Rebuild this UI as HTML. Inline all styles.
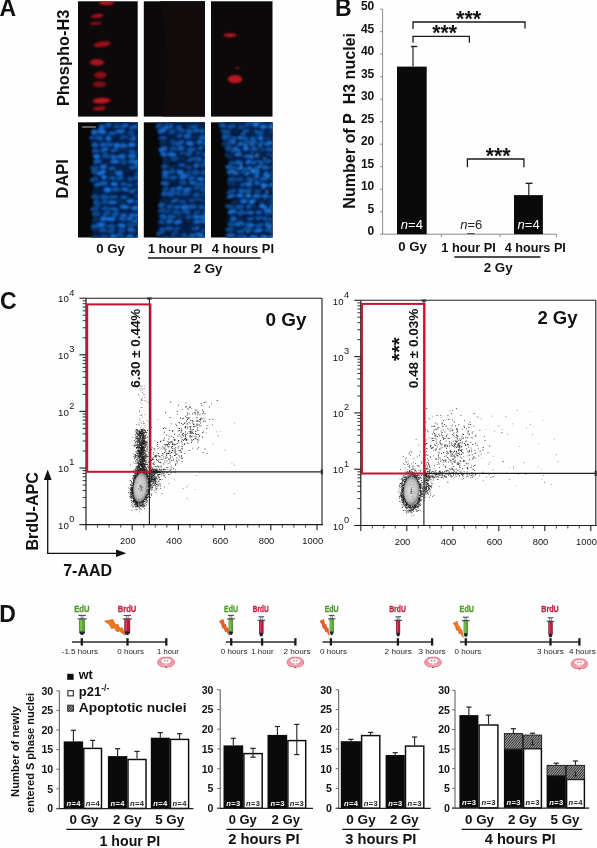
<!DOCTYPE html>
<html><head><meta charset="utf-8"><title>Figure</title>
<style>
html,body{margin:0;padding:0;background:#fff;}
body{width:597px;height:848px;overflow:hidden;font-family:"Liberation Sans",sans-serif;}
svg{display:block;font-family:"Liberation Sans",sans-serif;will-change:transform;transform:translateZ(0);}
</style></head><body>
<svg width="597" height="848" viewBox="0 0 597 848">
<defs>
<filter id="b1" x="-20%" y="-20%" width="140%" height="140%"><feGaussianBlur stdDeviation="0.9"/></filter>
<filter id="b2" x="-20%" y="-20%" width="140%" height="140%"><feGaussianBlur stdDeviation="0.85"/></filter>
<filter id="b4" x="-20%" y="-20%" width="140%" height="140%"><feGaussianBlur stdDeviation="2.2"/></filter>
<filter id="b3" x="-5%" y="-5%" width="110%" height="110%"><feGaussianBlur stdDeviation="0.35"/></filter>
<pattern id="hatch" width="1.8" height="1.8" patternUnits="userSpaceOnUse" patternTransform="rotate(-50)"><rect width="1.8" height="1.8" fill="#a8a8a8"/><rect width="1.8" height="0.9" fill="#2e2e2e"/></pattern>
<radialGradient id="cl"><stop offset="0" stop-color="#ededed"/><stop offset="0.3" stop-color="#d6d6d6"/><stop offset="0.7" stop-color="#bdbdbd"/><stop offset="0.88" stop-color="#8e8e8e"/><stop offset="1" stop-color="#666"/></radialGradient>
<clipPath id="cA1"><rect x="78" y="122.3" width="59.7" height="115.2"/></clipPath>
<clipPath id="cA2"><rect x="143.8" y="122.3" width="61.2" height="115.2"/></clipPath>
<clipPath id="cA3"><rect x="211" y="122.3" width="61.5" height="115.2"/></clipPath>
<clipPath id="cT1"><rect x="78" y="1.3" width="59.7" height="115.3"/></clipPath>
<clipPath id="cT3"><rect x="211" y="1.3" width="61.5" height="115.3"/></clipPath>
</defs>

<rect x="0" y="0" width="597" height="848" fill="#fefefe"/>
<text x="-0.4" y="15.7" font-size="23" font-weight="bold" fill="#111" >A</text>
<text font-size="16.2" font-weight="bold" fill="#111" textLength="96.5" lengthAdjust="spacingAndGlyphs" transform="translate(68.5,106.1) rotate(-90)" >Phospho-H3</text>
<text font-size="16.4" font-weight="bold" fill="#111" textLength="39.3" lengthAdjust="spacingAndGlyphs" transform="translate(68.2,198.5) rotate(-90)" >DAPI</text>
<rect x="78.0" y="1.3" width="59.7" height="115.3" fill="#0b0909" />
<rect x="143.8" y="1.3" width="61.2" height="115.3" fill="#0b0909" />
<rect x="211.0" y="1.3" width="61.5" height="115.3" fill="#0b0909" />
<path d="M160,1.3 C164,30 168,50 167,70 C166,90 163,105 162,116.6 L205,116.6 L205,1.3 Z" fill="#120b0b"/>
<g clip-path="url(#cT1)" filter="url(#b1)">
<ellipse cx="106.5" cy="2.8" rx="7.8" ry="2.6" fill="#ae121e" transform="rotate(0 106.5 2.8)"/>
<ellipse cx="97.2" cy="15.9" rx="6.4" ry="2.0" fill="#a8101c" transform="rotate(-8 97.2 15.9)"/>
<ellipse cx="95.8" cy="23.4" rx="6.2" ry="1.7" fill="#810e17" transform="rotate(-5 95.8 23.4)"/>
<ellipse cx="102.2" cy="44.2" rx="8.8" ry="2.7" fill="#a1101c" transform="rotate(-8 102.2 44.2)"/>
<ellipse cx="97" cy="62.3" rx="7.2" ry="3.4" fill="#a1121e" transform="rotate(0 97 62.3)"/>
<ellipse cx="100.4" cy="75.1" rx="6.2" ry="3.3" fill="#8d0e19" transform="rotate(0 100.4 75.1)"/>
<ellipse cx="99.4" cy="84.3" rx="6.8" ry="3.0" fill="#7f0e17" transform="rotate(0 99.4 84.3)"/>
<ellipse cx="101.5" cy="100.6" rx="9.0" ry="2.9" fill="#c21220" transform="rotate(-3 101.5 100.6)"/>
<ellipse cx="99.4" cy="108.4" rx="6.8" ry="2.0" fill="#a1101c" transform="rotate(-5 99.4 108.4)"/>
</g>
<g clip-path="url(#cT3)" filter="url(#b1)">
<ellipse cx="230" cy="35.2" rx="6.8" ry="2.0" fill="#b51220"/>
<ellipse cx="235" cy="79.1" rx="7.5" ry="4.2" fill="#bc1220"/>
<ellipse cx="237.3" cy="67.8" rx="2.6" ry="1.0" fill="#860e15"/>
</g>
<rect x="78.0" y="122.3" width="59.7" height="115.2" fill="#070707" />
<g clip-path="url(#cA1)">
<g filter="url(#b1)"><path d="M97.9,120.3 L98.1,123.4 L98.1,126.4 L93.3,129.5 L91.9,132.5 L91.7,135.6 L88.9,138.6 L91.1,141.7 L91.9,144.8 L93.2,147.8 L94.4,150.9 L91.3,153.9 L92.7,157.0 L94.4,160.0 L92.4,163.1 L93.4,166.1 L92.0,169.2 L91.8,172.3 L94.3,175.3 L91.4,178.4 L91.1,181.4 L93.3,184.5 L92.4,187.5 L93.9,190.6 L93.2,193.7 L91.8,196.7 L95.0,199.8 L93.9,202.8 L92.5,205.9 L93.9,208.9 L92.7,212.0 L94.3,215.0 L94.2,218.1 L90.9,221.2 L93.0,224.2 L93.4,227.3 L92.0,230.3 L93.1,233.4 L91.3,236.4 L92.5,239.5 L140.7,239.5 L140.7,120.3 Z" fill="#051f4d"/></g>
<g filter="url(#b2)">
<ellipse cx="100.3" cy="119.8" rx="4.4" ry="1.8" fill="rgb(7,34,66)" transform="rotate(-14 100.3 119.8)"/>
<ellipse cx="109.5" cy="120.1" rx="3.8" ry="2.3" fill="rgb(20,100,190)" transform="rotate(8 109.5 120.1)"/>
<ellipse cx="116.5" cy="120.4" rx="4.3" ry="2.2" fill="rgb(15,77,146)" transform="rotate(6 116.5 120.4)"/>
<ellipse cx="126.9" cy="121.2" rx="3.6" ry="2.4" fill="rgb(9,49,93)" transform="rotate(-19 126.9 121.2)"/>
<ellipse cx="134.0" cy="120.1" rx="4.8" ry="1.9" fill="rgb(22,111,211)" transform="rotate(2 134.0 120.1)"/>
<ellipse cx="101.9" cy="127.5" rx="3.0" ry="2.5" fill="rgb(20,102,195)" transform="rotate(5 101.9 127.5)"/>
<ellipse cx="107.7" cy="125.8" rx="3.9" ry="2.6" fill="rgb(16,83,158)" transform="rotate(-19 107.7 125.8)"/>
<ellipse cx="116.5" cy="126.3" rx="3.4" ry="2.0" fill="rgb(14,73,139)" transform="rotate(-15 116.5 126.3)"/>
<ellipse cx="124.1" cy="126.1" rx="4.4" ry="1.9" fill="rgb(20,100,190)" transform="rotate(-18 124.1 126.1)"/>
<ellipse cx="133.6" cy="127.4" rx="4.3" ry="2.3" fill="rgb(19,95,182)" transform="rotate(-16 133.6 127.4)"/>
<ellipse cx="94.3" cy="132.1" rx="3.3" ry="2.6" fill="rgb(20,102,195)" transform="rotate(8 94.3 132.1)"/>
<ellipse cx="101.9" cy="131.9" rx="4.5" ry="2.1" fill="rgb(22,109,206)" transform="rotate(11 101.9 131.9)"/>
<ellipse cx="111.8" cy="133.6" rx="4.2" ry="1.9" fill="rgb(18,90,171)" transform="rotate(-7 111.8 133.6)"/>
<ellipse cx="120.3" cy="131.3" rx="4.8" ry="2.3" fill="rgb(19,97,184)" transform="rotate(-3 120.3 131.3)"/>
<ellipse cx="131.4" cy="132.8" rx="3.7" ry="2.6" fill="rgb(14,71,136)" transform="rotate(2 131.4 132.8)"/>
<ellipse cx="140.7" cy="133.5" rx="3.3" ry="1.9" fill="rgb(9,45,85)" transform="rotate(4 140.7 133.5)"/>
<ellipse cx="92.3" cy="137.7" rx="3.2" ry="1.8" fill="rgb(14,72,137)" transform="rotate(8 92.3 137.7)"/>
<ellipse cx="99.4" cy="137.9" rx="4.1" ry="2.6" fill="rgb(16,83,157)" transform="rotate(11 99.4 137.9)"/>
<ellipse cx="108.4" cy="138.2" rx="3.0" ry="2.5" fill="rgb(21,105,199)" transform="rotate(8 108.4 138.2)"/>
<ellipse cx="115.7" cy="137.7" rx="4.1" ry="1.9" fill="rgb(7,34,65)" transform="rotate(-17 115.7 137.7)"/>
<ellipse cx="123.8" cy="137.6" rx="4.4" ry="2.3" fill="rgb(15,74,141)" transform="rotate(-2 123.8 137.6)"/>
<ellipse cx="132.6" cy="138.1" rx="3.5" ry="2.5" fill="rgb(19,95,181)" transform="rotate(7 132.6 138.1)"/>
<ellipse cx="139.6" cy="139.6" rx="4.0" ry="2.4" fill="rgb(7,35,66)" transform="rotate(-18 139.6 139.6)"/>
<ellipse cx="94.9" cy="144.9" rx="3.6" ry="2.7" fill="rgb(17,87,165)" transform="rotate(4 94.9 144.9)"/>
<ellipse cx="103.1" cy="144.4" rx="3.5" ry="1.9" fill="rgb(19,97,185)" transform="rotate(4 103.1 144.4)"/>
<ellipse cx="109.8" cy="144.0" rx="3.5" ry="2.5" fill="rgb(20,98,186)" transform="rotate(10 109.8 144.0)"/>
<ellipse cx="116.8" cy="145.4" rx="3.1" ry="2.5" fill="rgb(22,109,207)" transform="rotate(-20 116.8 145.4)"/>
<ellipse cx="123.1" cy="145.8" rx="4.2" ry="2.7" fill="rgb(19,94,179)" transform="rotate(1 123.1 145.8)"/>
<ellipse cx="131.9" cy="144.8" rx="4.0" ry="2.3" fill="rgb(22,110,209)" transform="rotate(-7 131.9 144.8)"/>
<ellipse cx="141.5" cy="143.9" rx="3.3" ry="1.9" fill="rgb(8,41,79)" transform="rotate(10 141.5 143.9)"/>
<ellipse cx="95.4" cy="150.7" rx="3.7" ry="1.9" fill="rgb(17,85,162)" transform="rotate(-1 95.4 150.7)"/>
<ellipse cx="104.2" cy="149.8" rx="4.7" ry="2.6" fill="rgb(19,94,178)" transform="rotate(-11 104.2 149.8)"/>
<ellipse cx="114.2" cy="150.2" rx="4.2" ry="1.8" fill="rgb(18,89,169)" transform="rotate(-10 114.2 150.2)"/>
<ellipse cx="124.1" cy="150.6" rx="4.2" ry="2.0" fill="rgb(8,43,82)" transform="rotate(-7 124.1 150.6)"/>
<ellipse cx="133.4" cy="151.1" rx="4.8" ry="1.8" fill="rgb(17,87,165)" transform="rotate(-1 133.4 151.1)"/>
<ellipse cx="96.7" cy="156.4" rx="3.6" ry="2.3" fill="rgb(21,107,203)" transform="rotate(2 96.7 156.4)"/>
<ellipse cx="105.3" cy="155.7" rx="3.6" ry="2.4" fill="rgb(17,87,165)" transform="rotate(-7 105.3 155.7)"/>
<ellipse cx="112.7" cy="157.0" rx="4.2" ry="2.2" fill="rgb(20,99,189)" transform="rotate(-6 112.7 157.0)"/>
<ellipse cx="121.4" cy="156.8" rx="4.6" ry="2.6" fill="rgb(20,99,188)" transform="rotate(-12 121.4 156.8)"/>
<ellipse cx="132.1" cy="156.0" rx="4.1" ry="2.5" fill="rgb(20,102,193)" transform="rotate(5 132.1 156.0)"/>
<ellipse cx="141.0" cy="154.8" rx="3.9" ry="2.1" fill="rgb(7,39,74)" transform="rotate(11 141.0 154.8)"/>
<ellipse cx="97.7" cy="161.2" rx="4.4" ry="2.3" fill="rgb(18,90,172)" transform="rotate(-13 97.7 161.2)"/>
<ellipse cx="107.3" cy="163.0" rx="3.6" ry="2.6" fill="rgb(7,36,70)" transform="rotate(-14 107.3 163.0)"/>
<ellipse cx="115.1" cy="161.4" rx="4.5" ry="2.0" fill="rgb(21,107,203)" transform="rotate(-0 115.1 161.4)"/>
<ellipse cx="124.0" cy="162.0" rx="3.2" ry="2.3" fill="rgb(15,77,147)" transform="rotate(-3 124.0 162.0)"/>
<ellipse cx="131.4" cy="161.3" rx="3.3" ry="2.5" fill="rgb(18,93,176)" transform="rotate(-19 131.4 161.3)"/>
<ellipse cx="138.1" cy="162.1" rx="4.7" ry="2.6" fill="rgb(21,107,204)" transform="rotate(6 138.1 162.1)"/>
<ellipse cx="94.6" cy="168.0" rx="4.4" ry="2.3" fill="rgb(14,72,138)" transform="rotate(3 94.6 168.0)"/>
<ellipse cx="103.4" cy="167.0" rx="3.5" ry="2.4" fill="rgb(21,104,198)" transform="rotate(5 103.4 167.0)"/>
<ellipse cx="112.2" cy="168.3" rx="3.6" ry="1.9" fill="rgb(19,94,178)" transform="rotate(0 112.2 168.3)"/>
<ellipse cx="121.2" cy="166.5" rx="4.1" ry="2.3" fill="rgb(7,38,73)" transform="rotate(-15 121.2 166.5)"/>
<ellipse cx="130.6" cy="168.2" rx="3.1" ry="2.1" fill="rgb(20,100,190)" transform="rotate(-14 130.6 168.2)"/>
<ellipse cx="137.2" cy="166.6" rx="4.2" ry="2.7" fill="rgb(16,81,155)" transform="rotate(4 137.2 166.6)"/>
<ellipse cx="94.5" cy="172.1" rx="3.4" ry="2.5" fill="rgb(14,72,137)" transform="rotate(7 94.5 172.1)"/>
<ellipse cx="101.6" cy="172.7" rx="4.5" ry="2.3" fill="rgb(22,111,212)" transform="rotate(-19 101.6 172.7)"/>
<ellipse cx="111.7" cy="171.9" rx="3.9" ry="2.7" fill="rgb(7,37,70)" transform="rotate(-6 111.7 171.9)"/>
<ellipse cx="119.2" cy="173.1" rx="4.3" ry="2.5" fill="rgb(21,103,196)" transform="rotate(7 119.2 173.1)"/>
<ellipse cx="128.2" cy="171.7" rx="4.6" ry="2.4" fill="rgb(6,33,63)" transform="rotate(-18 128.2 171.7)"/>
<ellipse cx="138.0" cy="173.2" rx="3.2" ry="1.8" fill="rgb(17,87,166)" transform="rotate(-6 138.0 173.2)"/>
<ellipse cx="94.1" cy="179.3" rx="4.6" ry="2.2" fill="rgb(14,72,138)" transform="rotate(-16 94.1 179.3)"/>
<ellipse cx="104.2" cy="177.2" rx="3.0" ry="2.3" fill="rgb(22,111,211)" transform="rotate(5 104.2 177.2)"/>
<ellipse cx="111.8" cy="177.6" rx="3.3" ry="1.9" fill="rgb(19,97,185)" transform="rotate(12 111.8 177.6)"/>
<ellipse cx="119.5" cy="178.1" rx="4.5" ry="2.6" fill="rgb(16,81,155)" transform="rotate(-16 119.5 178.1)"/>
<ellipse cx="129.8" cy="179.1" rx="3.3" ry="2.0" fill="rgb(17,84,160)" transform="rotate(-11 129.8 179.1)"/>
<ellipse cx="137.1" cy="178.1" rx="3.6" ry="2.6" fill="rgb(18,89,169)" transform="rotate(10 137.1 178.1)"/>
<ellipse cx="97.3" cy="184.0" rx="3.1" ry="2.3" fill="rgb(21,107,204)" transform="rotate(2 97.3 184.0)"/>
<ellipse cx="103.9" cy="183.3" rx="4.3" ry="2.1" fill="rgb(19,95,181)" transform="rotate(-3 103.9 183.3)"/>
<ellipse cx="114.1" cy="184.1" rx="3.9" ry="2.0" fill="rgb(22,110,209)" transform="rotate(7 114.1 184.1)"/>
<ellipse cx="123.4" cy="183.8" rx="3.5" ry="1.9" fill="rgb(17,84,160)" transform="rotate(-1 123.4 183.8)"/>
<ellipse cx="130.7" cy="184.9" rx="4.6" ry="2.0" fill="rgb(16,81,154)" transform="rotate(-9 130.7 184.9)"/>
<ellipse cx="139.5" cy="184.4" rx="3.5" ry="2.4" fill="rgb(18,93,176)" transform="rotate(-2 139.5 184.4)"/>
<ellipse cx="97.0" cy="190.8" rx="5.0" ry="2.6" fill="rgb(6,32,62)" transform="rotate(-18 97.0 190.8)"/>
<ellipse cx="107.4" cy="189.8" rx="3.8" ry="2.7" fill="rgb(22,112,213)" transform="rotate(6 107.4 189.8)"/>
<ellipse cx="115.8" cy="189.4" rx="4.3" ry="2.2" fill="rgb(17,86,163)" transform="rotate(3 115.8 189.4)"/>
<ellipse cx="125.0" cy="189.4" rx="3.9" ry="1.9" fill="rgb(21,103,195)" transform="rotate(12 125.0 189.4)"/>
<ellipse cx="132.8" cy="191.2" rx="3.7" ry="2.3" fill="rgb(18,90,172)" transform="rotate(-10 132.8 191.2)"/>
<ellipse cx="140.7" cy="189.7" rx="4.3" ry="2.5" fill="rgb(14,72,137)" transform="rotate(6 140.7 189.7)"/>
<ellipse cx="95.2" cy="197.0" rx="3.9" ry="2.6" fill="rgb(14,71,135)" transform="rotate(7 95.2 197.0)"/>
<ellipse cx="104.4" cy="196.8" rx="4.3" ry="2.4" fill="rgb(16,82,157)" transform="rotate(1 104.4 196.8)"/>
<ellipse cx="113.3" cy="197.2" rx="4.7" ry="2.0" fill="rgb(17,83,158)" transform="rotate(-6 113.3 197.2)"/>
<ellipse cx="124.0" cy="197.3" rx="3.7" ry="2.0" fill="rgb(17,84,159)" transform="rotate(4 124.0 197.3)"/>
<ellipse cx="131.4" cy="195.8" rx="3.4" ry="2.0" fill="rgb(7,39,74)" transform="rotate(-16 131.4 195.8)"/>
<ellipse cx="139.2" cy="196.0" rx="4.6" ry="1.9" fill="rgb(16,80,151)" transform="rotate(3 139.2 196.0)"/>
<ellipse cx="97.2" cy="202.7" rx="3.9" ry="2.6" fill="rgb(18,91,173)" transform="rotate(11 97.2 202.7)"/>
<ellipse cx="104.7" cy="202.0" rx="3.4" ry="2.2" fill="rgb(15,77,147)" transform="rotate(-14 104.7 202.0)"/>
<ellipse cx="112.4" cy="202.4" rx="4.5" ry="2.0" fill="rgb(20,102,195)" transform="rotate(-1 112.4 202.4)"/>
<ellipse cx="121.6" cy="202.0" rx="4.5" ry="2.7" fill="rgb(9,46,89)" transform="rotate(7 121.6 202.0)"/>
<ellipse cx="130.4" cy="201.2" rx="3.8" ry="2.1" fill="rgb(22,109,207)" transform="rotate(-3 130.4 201.2)"/>
<ellipse cx="138.5" cy="201.2" rx="3.3" ry="2.0" fill="rgb(18,92,175)" transform="rotate(-9 138.5 201.2)"/>
<ellipse cx="94.8" cy="208.5" rx="5.0" ry="2.0" fill="rgb(14,73,138)" transform="rotate(-14 94.8 208.5)"/>
<ellipse cx="105.4" cy="208.5" rx="4.5" ry="1.9" fill="rgb(16,80,152)" transform="rotate(3 105.4 208.5)"/>
<ellipse cx="114.2" cy="209.2" rx="4.7" ry="1.8" fill="rgb(19,94,179)" transform="rotate(4 114.2 209.2)"/>
<ellipse cx="124.8" cy="207.1" rx="5.0" ry="2.1" fill="rgb(22,110,209)" transform="rotate(3 124.8 207.1)"/>
<ellipse cx="135.4" cy="208.0" rx="4.4" ry="2.5" fill="rgb(21,103,196)" transform="rotate(-0 135.4 208.0)"/>
<ellipse cx="96.2" cy="213.7" rx="4.5" ry="2.6" fill="rgb(15,76,144)" transform="rotate(-10 96.2 213.7)"/>
<ellipse cx="106.8" cy="213.5" rx="4.1" ry="2.1" fill="rgb(17,83,158)" transform="rotate(-10 106.8 213.5)"/>
<ellipse cx="115.5" cy="214.2" rx="3.9" ry="2.5" fill="rgb(17,85,162)" transform="rotate(-13 115.5 214.2)"/>
<ellipse cx="123.8" cy="215.3" rx="3.6" ry="2.4" fill="rgb(18,90,171)" transform="rotate(-5 123.8 215.3)"/>
<ellipse cx="132.0" cy="215.3" rx="3.3" ry="2.2" fill="rgb(19,96,183)" transform="rotate(-4 132.0 215.3)"/>
<ellipse cx="139.2" cy="214.5" rx="4.7" ry="1.9" fill="rgb(22,110,210)" transform="rotate(-14 139.2 214.5)"/>
<ellipse cx="96.0" cy="220.2" rx="4.1" ry="2.7" fill="rgb(9,47,91)" transform="rotate(12 96.0 220.2)"/>
<ellipse cx="103.8" cy="218.7" rx="3.6" ry="2.7" fill="rgb(21,105,201)" transform="rotate(-6 103.8 218.7)"/>
<ellipse cx="111.1" cy="219.0" rx="4.6" ry="2.2" fill="rgb(22,110,209)" transform="rotate(-4 111.1 219.0)"/>
<ellipse cx="121.8" cy="219.6" rx="3.8" ry="2.4" fill="rgb(18,92,175)" transform="rotate(11 121.8 219.6)"/>
<ellipse cx="129.5" cy="218.7" rx="3.2" ry="1.9" fill="rgb(20,101,192)" transform="rotate(5 129.5 218.7)"/>
<ellipse cx="136.6" cy="220.5" rx="4.6" ry="2.4" fill="rgb(18,88,167)" transform="rotate(-14 136.6 220.5)"/>
<ellipse cx="94.2" cy="226.4" rx="3.5" ry="2.2" fill="rgb(17,84,160)" transform="rotate(0 94.2 226.4)"/>
<ellipse cx="101.5" cy="224.7" rx="4.7" ry="2.4" fill="rgb(21,104,198)" transform="rotate(-9 101.5 224.7)"/>
<ellipse cx="111.1" cy="226.0" rx="4.4" ry="2.0" fill="rgb(17,83,158)" transform="rotate(-4 111.1 226.0)"/>
<ellipse cx="121.4" cy="225.5" rx="4.8" ry="2.0" fill="rgb(22,109,207)" transform="rotate(9 121.4 225.5)"/>
<ellipse cx="131.0" cy="224.6" rx="4.2" ry="2.4" fill="rgb(14,71,136)" transform="rotate(10 131.0 224.6)"/>
<ellipse cx="139.6" cy="224.9" rx="4.6" ry="2.0" fill="rgb(15,77,146)" transform="rotate(2 139.6 224.9)"/>
<ellipse cx="95.1" cy="230.5" rx="3.5" ry="2.2" fill="rgb(7,38,73)" transform="rotate(0 95.1 230.5)"/>
<ellipse cx="103.1" cy="230.0" rx="4.2" ry="2.4" fill="rgb(15,77,147)" transform="rotate(8 103.1 230.0)"/>
<ellipse cx="111.4" cy="230.8" rx="3.9" ry="2.2" fill="rgb(15,78,148)" transform="rotate(-12 111.4 230.8)"/>
<ellipse cx="120.7" cy="231.0" rx="4.6" ry="2.2" fill="rgb(15,77,146)" transform="rotate(-10 120.7 231.0)"/>
<ellipse cx="131.3" cy="229.9" rx="4.3" ry="2.4" fill="rgb(18,91,172)" transform="rotate(10 131.3 229.9)"/>
<ellipse cx="141.0" cy="230.9" rx="3.3" ry="2.4" fill="rgb(18,91,172)" transform="rotate(-1 141.0 230.9)"/>
<ellipse cx="95.1" cy="238.1" rx="4.8" ry="1.9" fill="rgb(14,73,139)" transform="rotate(-6 95.1 238.1)"/>
<ellipse cx="104.4" cy="236.4" rx="4.2" ry="1.8" fill="rgb(15,73,140)" transform="rotate(1 104.4 236.4)"/>
<ellipse cx="113.2" cy="236.5" rx="3.4" ry="2.5" fill="rgb(21,104,198)" transform="rotate(-3 113.2 236.5)"/>
<ellipse cx="119.4" cy="236.2" rx="4.3" ry="2.1" fill="rgb(18,89,169)" transform="rotate(-5 119.4 236.2)"/>
<ellipse cx="129.8" cy="237.0" rx="3.7" ry="2.5" fill="rgb(22,108,206)" transform="rotate(-12 129.8 237.0)"/>
<ellipse cx="138.8" cy="237.0" rx="3.1" ry="2.7" fill="rgb(17,87,165)" transform="rotate(-18 138.8 237.0)"/>
<ellipse cx="102.7" cy="188.1" rx="2.1" ry="1.2" fill="#030d24" fill-opacity="0.85"/>
<ellipse cx="114.3" cy="223.1" rx="2.2" ry="1.1" fill="#030d24" fill-opacity="0.85"/>
<ellipse cx="117.3" cy="179.3" rx="1.4" ry="0.8" fill="#030d24" fill-opacity="0.85"/>
<ellipse cx="124.9" cy="138.7" rx="1.9" ry="0.9" fill="#030d24" fill-opacity="0.85"/>
<ellipse cx="117.5" cy="224.4" rx="1.8" ry="0.8" fill="#030d24" fill-opacity="0.85"/>
<ellipse cx="112.9" cy="130.6" rx="1.2" ry="0.8" fill="#030d24" fill-opacity="0.85"/>
<ellipse cx="136.2" cy="180.3" rx="1.4" ry="1.0" fill="#030d24" fill-opacity="0.85"/>
<ellipse cx="128.1" cy="179.9" rx="1.4" ry="0.6" fill="#030d24" fill-opacity="0.85"/>
<ellipse cx="128.6" cy="168.3" rx="1.5" ry="1.1" fill="#030d24" fill-opacity="0.85"/>
<ellipse cx="104.6" cy="155.7" rx="1.2" ry="0.8" fill="#030d24" fill-opacity="0.85"/>
<ellipse cx="123.2" cy="166.2" rx="1.3" ry="0.7" fill="#030d24" fill-opacity="0.85"/>
<ellipse cx="103.3" cy="124.2" rx="2.1" ry="0.8" fill="#030d24" fill-opacity="0.85"/>
<ellipse cx="118.8" cy="159.3" rx="2.6" ry="1.1" fill="#030d24" fill-opacity="0.85"/>
<ellipse cx="134.3" cy="202.9" rx="1.3" ry="0.6" fill="#030d24" fill-opacity="0.85"/>
<ellipse cx="109.3" cy="176.9" rx="2.5" ry="0.9" fill="#030d24" fill-opacity="0.85"/>
<ellipse cx="133.3" cy="184.5" rx="1.8" ry="1.1" fill="#030d24" fill-opacity="0.85"/>
<ellipse cx="107.4" cy="151.5" rx="1.7" ry="0.9" fill="#030d24" fill-opacity="0.85"/>
<ellipse cx="123.8" cy="147.7" rx="1.4" ry="0.7" fill="#030d24" fill-opacity="0.85"/>
<ellipse cx="104.6" cy="222.5" rx="1.7" ry="0.9" fill="#030d24" fill-opacity="0.85"/>
<ellipse cx="96.0" cy="182.9" rx="2.4" ry="1.2" fill="#030d24" fill-opacity="0.85"/>
<ellipse cx="107.2" cy="215.9" rx="1.9" ry="0.8" fill="#030d24" fill-opacity="0.85"/>
<ellipse cx="136.6" cy="186.2" rx="1.6" ry="1.0" fill="#030d24" fill-opacity="0.85"/>
<ellipse cx="128.3" cy="159.9" rx="1.7" ry="1.1" fill="#030d24" fill-opacity="0.85"/>
<ellipse cx="127.8" cy="208.9" rx="1.9" ry="0.7" fill="#030d24" fill-opacity="0.85"/>
<ellipse cx="112.2" cy="127.1" rx="1.3" ry="1.0" fill="#030d24" fill-opacity="0.85"/>
<ellipse cx="114.6" cy="199.5" rx="2.3" ry="0.9" fill="#030d24" fill-opacity="0.85"/>
<ellipse cx="105.2" cy="126.9" rx="1.5" ry="0.8" fill="#030d24" fill-opacity="0.85"/>
<ellipse cx="121.9" cy="128.3" rx="1.9" ry="1.0" fill="#030d24" fill-opacity="0.85"/>
<ellipse cx="131.0" cy="172.1" rx="1.8" ry="0.6" fill="#030d24" fill-opacity="0.85"/>
<ellipse cx="123.0" cy="222.9" rx="2.4" ry="1.2" fill="#030d24" fill-opacity="0.85"/>
<ellipse cx="107.6" cy="128.2" rx="1.3" ry="0.9" fill="#030d24" fill-opacity="0.85"/>
<ellipse cx="96.9" cy="221.8" rx="1.9" ry="0.7" fill="#030d24" fill-opacity="0.85"/>
<ellipse cx="130.8" cy="211.3" rx="1.3" ry="0.9" fill="#030d24" fill-opacity="0.85"/>
<ellipse cx="135.7" cy="149.9" rx="2.5" ry="1.0" fill="#030d24" fill-opacity="0.85"/>
<ellipse cx="108.9" cy="234.4" rx="2.5" ry="0.9" fill="#030d24" fill-opacity="0.85"/>
<ellipse cx="135.2" cy="149.5" rx="2.2" ry="0.6" fill="#030d24" fill-opacity="0.85"/>
<ellipse cx="124.8" cy="222.6" rx="2.0" ry="1.0" fill="#030d24" fill-opacity="0.85"/>
<ellipse cx="121.1" cy="151.5" rx="2.3" ry="0.6" fill="#030d24" fill-opacity="0.85"/>
<ellipse cx="130.7" cy="137.3" rx="2.1" ry="0.9" fill="#030d24" fill-opacity="0.85"/>
<ellipse cx="108.6" cy="150.9" rx="2.4" ry="0.9" fill="#030d24" fill-opacity="0.85"/>
<ellipse cx="133.3" cy="129.7" rx="1.5" ry="1.1" fill="#030d24" fill-opacity="0.85"/>
<ellipse cx="115.9" cy="223.9" rx="2.0" ry="0.9" fill="#030d24" fill-opacity="0.85"/>
<ellipse cx="131.6" cy="194.3" rx="1.6" ry="1.1" fill="#030d24" fill-opacity="0.85"/>
<ellipse cx="99.5" cy="187.7" rx="1.5" ry="1.0" fill="#030d24" fill-opacity="0.85"/>
<ellipse cx="101.2" cy="149.9" rx="1.4" ry="1.1" fill="#030d24" fill-opacity="0.85"/>
<ellipse cx="136.1" cy="191.7" rx="1.7" ry="1.0" fill="#030d24" fill-opacity="0.85"/>
<ellipse cx="121.2" cy="191.3" rx="1.3" ry="1.1" fill="#030d24" fill-opacity="0.85"/>
<ellipse cx="117.3" cy="231.5" rx="1.5" ry="1.1" fill="#030d24" fill-opacity="0.85"/>
<ellipse cx="112.7" cy="123.1" rx="2.5" ry="1.0" fill="#030d24" fill-opacity="0.85"/>
<ellipse cx="120.1" cy="220.8" rx="2.4" ry="1.1" fill="#030d24" fill-opacity="0.85"/>
<ellipse cx="100.3" cy="159.3" rx="2.2" ry="0.9" fill="#030d24" fill-opacity="0.85"/>
<ellipse cx="119.7" cy="136.9" rx="1.3" ry="0.7" fill="#030d24" fill-opacity="0.85"/>
<ellipse cx="97.1" cy="213.1" rx="1.6" ry="0.6" fill="#030d24" fill-opacity="0.85"/>
<ellipse cx="119.7" cy="237.2" rx="1.6" ry="1.2" fill="#030d24" fill-opacity="0.85"/>
<ellipse cx="113.9" cy="180.7" rx="2.0" ry="0.8" fill="#030d24" fill-opacity="0.85"/>
<ellipse cx="110.3" cy="157.5" rx="1.5" ry="1.0" fill="#030d24" fill-opacity="0.85"/>
<ellipse cx="98.5" cy="202.5" rx="2.6" ry="1.1" fill="#030d24" fill-opacity="0.85"/>
<ellipse cx="127.4" cy="215.2" rx="1.3" ry="0.9" fill="#030d24" fill-opacity="0.85"/>
<ellipse cx="123.6" cy="173.6" rx="1.8" ry="1.0" fill="#030d24" fill-opacity="0.85"/>
<ellipse cx="125.0" cy="200.8" rx="2.1" ry="0.7" fill="#030d24" fill-opacity="0.85"/>
<ellipse cx="128.4" cy="209.9" rx="2.5" ry="0.7" fill="#030d24" fill-opacity="0.85"/>
<ellipse cx="110.2" cy="142.7" rx="1.6" ry="1.1" fill="#030d24" fill-opacity="0.85"/>
<ellipse cx="127.3" cy="193.0" rx="1.8" ry="0.7" fill="#030d24" fill-opacity="0.85"/>
<ellipse cx="110.1" cy="135.6" rx="1.5" ry="1.1" fill="#030d24" fill-opacity="0.85"/>
<ellipse cx="124.3" cy="191.4" rx="1.9" ry="0.7" fill="#030d24" fill-opacity="0.85"/>
</g></g>
<rect x="143.8" y="122.3" width="61.2" height="115.2" fill="#070707" />
<g clip-path="url(#cA2)">
<g filter="url(#b4)"><path d="M156.5,120.3 L157.4,123.4 L158.0,126.4 L156.2,129.5 L159.5,132.5 L160.3,135.6 L158.5,138.6 L160.6,141.7 L160.5,144.8 L161.8,147.8 L163.5,150.9 L160.5,153.9 L162.0,157.0 L163.9,160.0 L162.1,163.1 L163.2,166.1 L162.3,169.2 L162.4,172.3 L165.2,175.3 L162.7,178.4 L162.2,181.4 L163.8,184.5 L162.2,187.5 L163.1,190.6 L161.7,193.7 L159.7,196.7 L162.6,199.8 L161.0,202.8 L159.1,205.9 L160.1,208.9 L158.6,212.0 L160.1,215.0 L160.1,218.1 L157.0,221.2 L159.2,224.2 L159.5,227.3 L158.0,230.3 L159.0,233.4 L156.9,236.4 L158.0,239.5 L208,239.5 L208,120.3 Z" fill="#051f4d"/></g>
<g filter="url(#b2)">
<ellipse cx="159.0" cy="120.1" rx="3.1" ry="2.3" fill="rgb(17,84,160)" transform="rotate(-13 159.0 120.1)"/>
<ellipse cx="166.0" cy="120.6" rx="3.6" ry="2.0" fill="rgb(18,88,168)" transform="rotate(-4 166.0 120.6)"/>
<ellipse cx="173.0" cy="120.3" rx="4.6" ry="2.6" fill="rgb(9,45,86)" transform="rotate(-4 173.0 120.3)"/>
<ellipse cx="181.7" cy="119.4" rx="3.9" ry="1.9" fill="rgb(18,91,173)" transform="rotate(-17 181.7 119.4)"/>
<ellipse cx="189.4" cy="119.6" rx="3.7" ry="2.2" fill="rgb(19,93,177)" transform="rotate(-4 189.4 119.6)"/>
<ellipse cx="197.1" cy="119.5" rx="4.6" ry="2.3" fill="rgb(19,95,181)" transform="rotate(-4 197.1 119.5)"/>
<ellipse cx="207.8" cy="120.1" rx="3.7" ry="2.3" fill="rgb(17,85,161)" transform="rotate(-3 207.8 120.1)"/>
<ellipse cx="159.1" cy="125.9" rx="3.7" ry="2.6" fill="rgb(14,68,130)" transform="rotate(-18 159.1 125.9)"/>
<ellipse cx="168.3" cy="126.4" rx="4.9" ry="2.5" fill="rgb(20,98,186)" transform="rotate(-11 168.3 126.4)"/>
<ellipse cx="178.9" cy="127.3" rx="3.7" ry="1.8" fill="rgb(17,85,162)" transform="rotate(-10 178.9 127.3)"/>
<ellipse cx="186.3" cy="126.7" rx="3.8" ry="2.5" fill="rgb(7,37,70)" transform="rotate(6 186.3 126.7)"/>
<ellipse cx="193.9" cy="126.5" rx="4.2" ry="1.8" fill="rgb(16,83,157)" transform="rotate(-7 193.9 126.5)"/>
<ellipse cx="202.5" cy="125.2" rx="4.1" ry="2.7" fill="rgb(7,36,68)" transform="rotate(4 202.5 125.2)"/>
<ellipse cx="162.1" cy="130.8" rx="4.3" ry="2.4" fill="rgb(20,102,195)" transform="rotate(-16 162.1 130.8)"/>
<ellipse cx="172.2" cy="131.7" rx="4.5" ry="2.5" fill="rgb(15,76,145)" transform="rotate(-1 172.2 131.7)"/>
<ellipse cx="181.4" cy="131.4" rx="3.5" ry="2.6" fill="rgb(18,89,169)" transform="rotate(6 181.4 131.4)"/>
<ellipse cx="189.3" cy="131.6" rx="3.4" ry="2.3" fill="rgb(18,89,170)" transform="rotate(-12 189.3 131.6)"/>
<ellipse cx="195.9" cy="130.4" rx="3.2" ry="2.0" fill="rgb(18,92,176)" transform="rotate(-14 195.9 130.4)"/>
<ellipse cx="202.0" cy="131.1" rx="3.6" ry="2.0" fill="rgb(17,86,164)" transform="rotate(7 202.0 131.1)"/>
<ellipse cx="162.8" cy="137.8" rx="4.3" ry="1.9" fill="rgb(15,76,145)" transform="rotate(1 162.8 137.8)"/>
<ellipse cx="172.6" cy="137.4" rx="3.1" ry="2.0" fill="rgb(6,32,60)" transform="rotate(-9 172.6 137.4)"/>
<ellipse cx="179.6" cy="135.8" rx="3.1" ry="1.9" fill="rgb(17,83,158)" transform="rotate(-14 179.6 135.8)"/>
<ellipse cx="187.3" cy="136.4" rx="3.9" ry="2.4" fill="rgb(18,92,175)" transform="rotate(-6 187.3 136.4)"/>
<ellipse cx="194.9" cy="136.9" rx="3.9" ry="2.2" fill="rgb(8,39,75)" transform="rotate(-15 194.9 136.9)"/>
<ellipse cx="203.1" cy="137.5" rx="4.4" ry="2.5" fill="rgb(17,87,166)" transform="rotate(-9 203.1 137.5)"/>
<ellipse cx="163.4" cy="142.8" rx="3.8" ry="2.6" fill="rgb(8,43,82)" transform="rotate(-19 163.4 142.8)"/>
<ellipse cx="172.7" cy="142.4" rx="3.2" ry="2.4" fill="rgb(15,75,143)" transform="rotate(10 172.7 142.4)"/>
<ellipse cx="179.9" cy="143.0" rx="4.8" ry="2.4" fill="rgb(17,87,166)" transform="rotate(-20 179.9 143.0)"/>
<ellipse cx="189.9" cy="143.4" rx="4.1" ry="2.6" fill="rgb(20,101,192)" transform="rotate(10 189.9 143.4)"/>
<ellipse cx="199.6" cy="142.3" rx="3.3" ry="2.1" fill="rgb(20,102,194)" transform="rotate(-9 199.6 142.3)"/>
<ellipse cx="206.8" cy="142.3" rx="4.6" ry="2.5" fill="rgb(19,96,184)" transform="rotate(-19 206.8 142.3)"/>
<ellipse cx="163.1" cy="149.2" rx="4.8" ry="2.4" fill="rgb(20,98,187)" transform="rotate(-13 163.1 149.2)"/>
<ellipse cx="173.5" cy="149.0" rx="3.8" ry="2.6" fill="rgb(16,83,157)" transform="rotate(-8 173.5 149.0)"/>
<ellipse cx="181.0" cy="148.1" rx="4.6" ry="2.2" fill="rgb(19,95,181)" transform="rotate(-12 181.0 148.1)"/>
<ellipse cx="191.4" cy="149.5" rx="4.5" ry="1.9" fill="rgb(17,86,163)" transform="rotate(-3 191.4 149.5)"/>
<ellipse cx="200.6" cy="148.0" rx="3.4" ry="1.9" fill="rgb(17,84,161)" transform="rotate(-17 200.6 148.0)"/>
<ellipse cx="208.4" cy="149.2" rx="3.2" ry="2.0" fill="rgb(21,103,195)" transform="rotate(1 208.4 149.2)"/>
<ellipse cx="163.5" cy="154.3" rx="3.4" ry="2.3" fill="rgb(20,101,191)" transform="rotate(12 163.5 154.3)"/>
<ellipse cx="172.0" cy="154.6" rx="4.7" ry="2.4" fill="rgb(20,102,195)" transform="rotate(7 172.0 154.6)"/>
<ellipse cx="182.3" cy="153.6" rx="3.1" ry="2.4" fill="rgb(15,74,141)" transform="rotate(6 182.3 153.6)"/>
<ellipse cx="189.2" cy="153.4" rx="3.9" ry="2.2" fill="rgb(17,83,159)" transform="rotate(-20 189.2 153.4)"/>
<ellipse cx="198.6" cy="153.0" rx="3.1" ry="2.1" fill="rgb(15,75,143)" transform="rotate(-8 198.6 153.0)"/>
<ellipse cx="205.9" cy="154.9" rx="3.3" ry="2.0" fill="rgb(21,103,197)" transform="rotate(11 205.9 154.9)"/>
<ellipse cx="165.8" cy="160.3" rx="3.7" ry="2.7" fill="rgb(8,40,76)" transform="rotate(-12 165.8 160.3)"/>
<ellipse cx="174.8" cy="158.6" rx="4.1" ry="2.1" fill="rgb(15,77,147)" transform="rotate(-15 174.8 158.6)"/>
<ellipse cx="183.3" cy="158.8" rx="3.4" ry="1.9" fill="rgb(8,39,74)" transform="rotate(10 183.3 158.8)"/>
<ellipse cx="190.0" cy="159.3" rx="3.9" ry="2.2" fill="rgb(16,80,153)" transform="rotate(-11 190.0 159.3)"/>
<ellipse cx="197.5" cy="159.3" rx="4.4" ry="2.4" fill="rgb(20,102,195)" transform="rotate(-0 197.5 159.3)"/>
<ellipse cx="206.9" cy="160.6" rx="3.7" ry="2.6" fill="rgb(20,101,192)" transform="rotate(-20 206.9 160.6)"/>
<ellipse cx="164.7" cy="166.6" rx="3.5" ry="2.3" fill="rgb(16,81,153)" transform="rotate(5 164.7 166.6)"/>
<ellipse cx="171.2" cy="166.4" rx="4.6" ry="2.2" fill="rgb(8,43,81)" transform="rotate(9 171.2 166.4)"/>
<ellipse cx="181.7" cy="165.1" rx="3.8" ry="2.0" fill="rgb(16,80,151)" transform="rotate(6 181.7 165.1)"/>
<ellipse cx="189.4" cy="167.2" rx="3.4" ry="2.1" fill="rgb(14,71,135)" transform="rotate(2 189.4 167.2)"/>
<ellipse cx="196.0" cy="165.6" rx="3.5" ry="2.5" fill="rgb(18,91,173)" transform="rotate(-12 196.0 165.6)"/>
<ellipse cx="203.1" cy="165.0" rx="3.6" ry="2.6" fill="rgb(14,71,135)" transform="rotate(-13 203.1 165.0)"/>
<ellipse cx="165.4" cy="172.7" rx="3.6" ry="2.3" fill="rgb(20,100,190)" transform="rotate(6 165.4 172.7)"/>
<ellipse cx="172.0" cy="171.7" rx="3.3" ry="2.5" fill="rgb(16,80,152)" transform="rotate(-8 172.0 171.7)"/>
<ellipse cx="180.2" cy="172.2" rx="3.8" ry="2.6" fill="rgb(21,104,197)" transform="rotate(11 180.2 172.2)"/>
<ellipse cx="188.6" cy="172.8" rx="3.1" ry="2.5" fill="rgb(14,71,136)" transform="rotate(-2 188.6 172.8)"/>
<ellipse cx="195.9" cy="172.3" rx="3.4" ry="2.6" fill="rgb(18,89,169)" transform="rotate(-2 195.9 172.3)"/>
<ellipse cx="203.4" cy="172.6" rx="3.1" ry="2.3" fill="rgb(16,82,156)" transform="rotate(-2 203.4 172.6)"/>
<ellipse cx="165.1" cy="176.8" rx="3.7" ry="2.4" fill="rgb(16,82,156)" transform="rotate(11 165.1 176.8)"/>
<ellipse cx="173.5" cy="177.7" rx="4.3" ry="1.9" fill="rgb(16,82,156)" transform="rotate(-6 173.5 177.7)"/>
<ellipse cx="183.5" cy="176.6" rx="4.3" ry="2.6" fill="rgb(21,104,198)" transform="rotate(-15 183.5 176.6)"/>
<ellipse cx="191.6" cy="177.9" rx="3.6" ry="2.3" fill="rgb(17,85,161)" transform="rotate(-2 191.6 177.9)"/>
<ellipse cx="200.6" cy="179.0" rx="4.2" ry="2.0" fill="rgb(21,107,204)" transform="rotate(4 200.6 179.0)"/>
<ellipse cx="164.9" cy="183.3" rx="4.3" ry="2.3" fill="rgb(18,91,173)" transform="rotate(5 164.9 183.3)"/>
<ellipse cx="173.1" cy="183.7" rx="4.8" ry="2.2" fill="rgb(7,37,71)" transform="rotate(1 173.1 183.7)"/>
<ellipse cx="183.1" cy="182.5" rx="4.1" ry="2.0" fill="rgb(16,79,151)" transform="rotate(10 183.1 182.5)"/>
<ellipse cx="193.0" cy="182.5" rx="3.8" ry="2.5" fill="rgb(19,97,185)" transform="rotate(7 193.0 182.5)"/>
<ellipse cx="200.6" cy="184.1" rx="4.6" ry="1.9" fill="rgb(17,84,160)" transform="rotate(-10 200.6 184.1)"/>
<ellipse cx="165.7" cy="189.3" rx="3.5" ry="2.4" fill="rgb(14,70,133)" transform="rotate(-16 165.7 189.3)"/>
<ellipse cx="172.6" cy="189.8" rx="3.0" ry="2.3" fill="rgb(21,104,199)" transform="rotate(-17 172.6 189.8)"/>
<ellipse cx="179.2" cy="188.4" rx="3.6" ry="2.1" fill="rgb(21,105,200)" transform="rotate(-20 179.2 188.4)"/>
<ellipse cx="187.0" cy="189.6" rx="4.4" ry="2.5" fill="rgb(19,95,181)" transform="rotate(-9 187.0 189.6)"/>
<ellipse cx="196.3" cy="188.0" rx="3.3" ry="2.2" fill="rgb(14,71,135)" transform="rotate(-15 196.3 188.0)"/>
<ellipse cx="203.3" cy="188.5" rx="4.2" ry="2.6" fill="rgb(15,74,142)" transform="rotate(-10 203.3 188.5)"/>
<ellipse cx="164.7" cy="194.0" rx="3.5" ry="2.1" fill="rgb(18,92,175)" transform="rotate(2 164.7 194.0)"/>
<ellipse cx="171.7" cy="193.7" rx="3.6" ry="2.7" fill="rgb(20,98,186)" transform="rotate(1 171.7 193.7)"/>
<ellipse cx="178.7" cy="193.4" rx="3.0" ry="2.5" fill="rgb(15,77,146)" transform="rotate(11 178.7 193.4)"/>
<ellipse cx="186.3" cy="194.3" rx="4.2" ry="2.2" fill="rgb(16,81,154)" transform="rotate(6 186.3 194.3)"/>
<ellipse cx="196.4" cy="194.8" rx="3.6" ry="2.3" fill="rgb(16,83,157)" transform="rotate(-14 196.4 194.8)"/>
<ellipse cx="203.8" cy="194.0" rx="3.3" ry="2.4" fill="rgb(17,84,160)" transform="rotate(-18 203.8 194.0)"/>
<ellipse cx="163.9" cy="201.6" rx="4.8" ry="2.4" fill="rgb(7,38,73)" transform="rotate(-16 163.9 201.6)"/>
<ellipse cx="174.7" cy="200.6" rx="4.2" ry="2.0" fill="rgb(18,88,168)" transform="rotate(-18 174.7 200.6)"/>
<ellipse cx="182.7" cy="201.6" rx="3.9" ry="1.9" fill="rgb(15,75,143)" transform="rotate(-6 182.7 201.6)"/>
<ellipse cx="191.8" cy="200.4" rx="3.1" ry="2.1" fill="rgb(14,72,137)" transform="rotate(-3 191.8 200.4)"/>
<ellipse cx="199.4" cy="200.0" rx="3.9" ry="2.1" fill="rgb(15,77,146)" transform="rotate(6 199.4 200.0)"/>
<ellipse cx="207.3" cy="200.7" rx="3.9" ry="1.9" fill="rgb(19,96,183)" transform="rotate(-6 207.3 200.7)"/>
<ellipse cx="161.6" cy="205.2" rx="3.4" ry="2.5" fill="rgb(17,86,164)" transform="rotate(-17 161.6 205.2)"/>
<ellipse cx="169.8" cy="206.4" rx="3.4" ry="2.2" fill="rgb(15,78,149)" transform="rotate(-3 169.8 206.4)"/>
<ellipse cx="177.1" cy="207.1" rx="3.7" ry="2.0" fill="rgb(17,88,167)" transform="rotate(-3 177.1 207.1)"/>
<ellipse cx="184.7" cy="207.1" rx="4.0" ry="2.5" fill="rgb(21,105,199)" transform="rotate(-9 184.7 207.1)"/>
<ellipse cx="192.3" cy="206.7" rx="5.0" ry="2.4" fill="rgb(17,84,161)" transform="rotate(-8 192.3 206.7)"/>
<ellipse cx="202.3" cy="207.0" rx="4.1" ry="2.5" fill="rgb(16,79,150)" transform="rotate(3 202.3 207.0)"/>
<ellipse cx="161.3" cy="210.4" rx="3.2" ry="1.9" fill="rgb(15,76,144)" transform="rotate(-15 161.3 210.4)"/>
<ellipse cx="167.3" cy="210.4" rx="4.0" ry="2.6" fill="rgb(15,76,145)" transform="rotate(0 167.3 210.4)"/>
<ellipse cx="176.7" cy="212.2" rx="4.8" ry="2.0" fill="rgb(15,78,148)" transform="rotate(11 176.7 212.2)"/>
<ellipse cx="186.1" cy="211.8" rx="4.6" ry="1.8" fill="rgb(17,86,165)" transform="rotate(4 186.1 211.8)"/>
<ellipse cx="196.8" cy="212.6" rx="4.0" ry="1.9" fill="rgb(14,70,133)" transform="rotate(-16 196.8 212.6)"/>
<ellipse cx="206.4" cy="212.5" rx="4.3" ry="2.1" fill="rgb(15,74,142)" transform="rotate(-10 206.4 212.5)"/>
<ellipse cx="163.2" cy="216.5" rx="3.9" ry="2.7" fill="rgb(17,86,164)" transform="rotate(12 163.2 216.5)"/>
<ellipse cx="171.4" cy="216.9" rx="3.9" ry="2.6" fill="rgb(17,85,161)" transform="rotate(-4 171.4 216.9)"/>
<ellipse cx="179.0" cy="216.7" rx="4.9" ry="2.3" fill="rgb(9,46,88)" transform="rotate(10 179.0 216.7)"/>
<ellipse cx="188.4" cy="217.0" rx="3.2" ry="2.6" fill="rgb(15,74,142)" transform="rotate(-9 188.4 217.0)"/>
<ellipse cx="196.4" cy="217.2" rx="3.9" ry="2.1" fill="rgb(21,104,197)" transform="rotate(2 196.4 217.2)"/>
<ellipse cx="204.5" cy="217.2" rx="4.7" ry="2.6" fill="rgb(19,96,182)" transform="rotate(2 204.5 217.2)"/>
<ellipse cx="161.8" cy="222.1" rx="3.5" ry="1.9" fill="rgb(17,85,162)" transform="rotate(2 161.8 222.1)"/>
<ellipse cx="169.1" cy="221.7" rx="4.0" ry="2.1" fill="rgb(19,96,182)" transform="rotate(-5 169.1 221.7)"/>
<ellipse cx="177.9" cy="222.2" rx="4.3" ry="2.2" fill="rgb(21,103,196)" transform="rotate(-12 177.9 222.2)"/>
<ellipse cx="187.9" cy="221.7" rx="4.1" ry="2.2" fill="rgb(7,34,65)" transform="rotate(2 187.9 221.7)"/>
<ellipse cx="197.2" cy="221.9" rx="3.9" ry="1.8" fill="rgb(21,105,200)" transform="rotate(-7 197.2 221.9)"/>
<ellipse cx="204.7" cy="221.6" rx="3.9" ry="2.2" fill="rgb(19,96,183)" transform="rotate(-1 204.7 221.6)"/>
<ellipse cx="162.0" cy="229.8" rx="3.1" ry="2.1" fill="rgb(20,98,187)" transform="rotate(3 162.0 229.8)"/>
<ellipse cx="169.1" cy="228.4" rx="3.6" ry="2.4" fill="rgb(16,81,154)" transform="rotate(-2 169.1 228.4)"/>
<ellipse cx="176.6" cy="228.7" rx="4.3" ry="1.8" fill="rgb(14,69,131)" transform="rotate(-17 176.6 228.7)"/>
<ellipse cx="185.9" cy="228.9" rx="4.8" ry="2.6" fill="rgb(7,36,69)" transform="rotate(1 185.9 228.9)"/>
<ellipse cx="195.7" cy="228.1" rx="3.8" ry="2.4" fill="rgb(18,90,171)" transform="rotate(-8 195.7 228.1)"/>
<ellipse cx="204.7" cy="229.9" rx="4.5" ry="1.9" fill="rgb(13,67,128)" transform="rotate(-16 204.7 229.9)"/>
<ellipse cx="159.8" cy="233.7" rx="3.8" ry="2.2" fill="rgb(14,70,133)" transform="rotate(0 159.8 233.7)"/>
<ellipse cx="168.3" cy="234.7" rx="3.1" ry="1.9" fill="rgb(6,32,61)" transform="rotate(-6 168.3 234.7)"/>
<ellipse cx="174.7" cy="233.6" rx="4.3" ry="1.8" fill="rgb(16,79,150)" transform="rotate(-20 174.7 233.6)"/>
<ellipse cx="184.1" cy="235.3" rx="3.0" ry="2.1" fill="rgb(15,74,140)" transform="rotate(-5 184.1 235.3)"/>
<ellipse cx="191.8" cy="235.5" rx="3.9" ry="2.0" fill="rgb(19,96,183)" transform="rotate(-3 191.8 235.5)"/>
<ellipse cx="199.7" cy="234.6" rx="4.8" ry="1.9" fill="rgb(21,106,201)" transform="rotate(9 199.7 234.6)"/>
<ellipse cx="158.9" cy="240.3" rx="3.3" ry="2.6" fill="rgb(14,71,136)" transform="rotate(-4 158.9 240.3)"/>
<ellipse cx="165.4" cy="239.1" rx="4.0" ry="2.2" fill="rgb(18,93,176)" transform="rotate(-11 165.4 239.1)"/>
<ellipse cx="174.7" cy="239.0" rx="4.1" ry="2.1" fill="rgb(17,87,166)" transform="rotate(9 174.7 239.0)"/>
<ellipse cx="183.4" cy="239.7" rx="4.8" ry="2.1" fill="rgb(18,88,168)" transform="rotate(-16 183.4 239.7)"/>
<ellipse cx="193.4" cy="240.6" rx="3.2" ry="2.6" fill="rgb(17,83,158)" transform="rotate(-3 193.4 240.6)"/>
<ellipse cx="200.6" cy="238.8" rx="4.7" ry="2.7" fill="rgb(18,90,171)" transform="rotate(-7 200.6 238.8)"/>
<ellipse cx="172.7" cy="194.3" rx="1.7" ry="0.8" fill="#030d24" fill-opacity="0.85"/>
<ellipse cx="203.2" cy="194.2" rx="2.6" ry="0.8" fill="#030d24" fill-opacity="0.85"/>
<ellipse cx="193.2" cy="152.8" rx="2.2" ry="0.8" fill="#030d24" fill-opacity="0.85"/>
<ellipse cx="196.0" cy="231.3" rx="1.5" ry="0.9" fill="#030d24" fill-opacity="0.85"/>
<ellipse cx="184.1" cy="132.9" rx="2.0" ry="0.7" fill="#030d24" fill-opacity="0.85"/>
<ellipse cx="168.6" cy="130.9" rx="1.9" ry="0.6" fill="#030d24" fill-opacity="0.85"/>
<ellipse cx="170.4" cy="142.3" rx="1.8" ry="0.9" fill="#030d24" fill-opacity="0.85"/>
<ellipse cx="190.9" cy="164.6" rx="2.5" ry="0.7" fill="#030d24" fill-opacity="0.85"/>
<ellipse cx="174.2" cy="236.4" rx="2.0" ry="0.8" fill="#030d24" fill-opacity="0.85"/>
<ellipse cx="198.9" cy="200.7" rx="2.3" ry="1.0" fill="#030d24" fill-opacity="0.85"/>
<ellipse cx="170.4" cy="187.5" rx="2.3" ry="1.2" fill="#030d24" fill-opacity="0.85"/>
<ellipse cx="187.6" cy="195.3" rx="1.4" ry="0.8" fill="#030d24" fill-opacity="0.85"/>
<ellipse cx="172.2" cy="163.8" rx="2.6" ry="1.2" fill="#030d24" fill-opacity="0.85"/>
<ellipse cx="171.4" cy="165.2" rx="1.8" ry="0.7" fill="#030d24" fill-opacity="0.85"/>
<ellipse cx="172.6" cy="184.3" rx="1.3" ry="1.0" fill="#030d24" fill-opacity="0.85"/>
<ellipse cx="192.4" cy="166.2" rx="1.9" ry="1.0" fill="#030d24" fill-opacity="0.85"/>
<ellipse cx="187.9" cy="159.0" rx="1.9" ry="1.0" fill="#030d24" fill-opacity="0.85"/>
<ellipse cx="203.4" cy="123.2" rx="1.5" ry="0.6" fill="#030d24" fill-opacity="0.85"/>
<ellipse cx="192.6" cy="156.3" rx="2.5" ry="1.1" fill="#030d24" fill-opacity="0.85"/>
<ellipse cx="198.4" cy="159.9" rx="1.3" ry="0.7" fill="#030d24" fill-opacity="0.85"/>
<ellipse cx="195.7" cy="143.8" rx="2.2" ry="0.7" fill="#030d24" fill-opacity="0.85"/>
<ellipse cx="195.2" cy="203.9" rx="1.5" ry="1.0" fill="#030d24" fill-opacity="0.85"/>
<ellipse cx="167.0" cy="169.0" rx="1.9" ry="0.9" fill="#030d24" fill-opacity="0.85"/>
<ellipse cx="185.8" cy="223.9" rx="2.4" ry="0.9" fill="#030d24" fill-opacity="0.85"/>
<ellipse cx="203.7" cy="204.7" rx="1.2" ry="0.9" fill="#030d24" fill-opacity="0.85"/>
<ellipse cx="196.2" cy="171.8" rx="1.2" ry="0.9" fill="#030d24" fill-opacity="0.85"/>
<ellipse cx="183.1" cy="154.4" rx="2.2" ry="1.0" fill="#030d24" fill-opacity="0.85"/>
<ellipse cx="173.6" cy="150.7" rx="2.4" ry="0.9" fill="#030d24" fill-opacity="0.85"/>
<ellipse cx="189.3" cy="235.1" rx="1.5" ry="0.7" fill="#030d24" fill-opacity="0.85"/>
<ellipse cx="195.6" cy="159.7" rx="1.8" ry="0.9" fill="#030d24" fill-opacity="0.85"/>
<ellipse cx="171.6" cy="190.9" rx="1.7" ry="0.8" fill="#030d24" fill-opacity="0.85"/>
<ellipse cx="160.6" cy="230.2" rx="2.5" ry="0.7" fill="#030d24" fill-opacity="0.85"/>
<ellipse cx="176.3" cy="185.0" rx="1.6" ry="1.1" fill="#030d24" fill-opacity="0.85"/>
<ellipse cx="195.0" cy="201.9" rx="1.5" ry="0.7" fill="#030d24" fill-opacity="0.85"/>
<ellipse cx="167.0" cy="209.6" rx="2.5" ry="1.2" fill="#030d24" fill-opacity="0.85"/>
<ellipse cx="193.4" cy="180.5" rx="1.7" ry="1.0" fill="#030d24" fill-opacity="0.85"/>
<ellipse cx="168.7" cy="125.2" rx="1.8" ry="0.9" fill="#030d24" fill-opacity="0.85"/>
<ellipse cx="204.9" cy="235.9" rx="1.4" ry="0.8" fill="#030d24" fill-opacity="0.85"/>
<ellipse cx="176.5" cy="131.8" rx="2.5" ry="0.9" fill="#030d24" fill-opacity="0.85"/>
<ellipse cx="183.5" cy="126.9" rx="2.5" ry="1.2" fill="#030d24" fill-opacity="0.85"/>
<ellipse cx="194.6" cy="227.3" rx="1.6" ry="1.1" fill="#030d24" fill-opacity="0.85"/>
<ellipse cx="200.0" cy="156.5" rx="1.3" ry="0.6" fill="#030d24" fill-opacity="0.85"/>
<ellipse cx="167.0" cy="214.8" rx="1.8" ry="0.8" fill="#030d24" fill-opacity="0.85"/>
<ellipse cx="178.2" cy="154.3" rx="1.9" ry="1.1" fill="#030d24" fill-opacity="0.85"/>
<ellipse cx="201.1" cy="193.4" rx="2.4" ry="0.7" fill="#030d24" fill-opacity="0.85"/>
<ellipse cx="186.6" cy="171.0" rx="1.6" ry="0.9" fill="#030d24" fill-opacity="0.85"/>
<ellipse cx="169.6" cy="234.5" rx="2.3" ry="1.2" fill="#030d24" fill-opacity="0.85"/>
<ellipse cx="199.2" cy="151.6" rx="1.4" ry="1.2" fill="#030d24" fill-opacity="0.85"/>
<ellipse cx="175.1" cy="157.3" rx="2.5" ry="0.8" fill="#030d24" fill-opacity="0.85"/>
<ellipse cx="176.5" cy="147.9" rx="2.1" ry="0.6" fill="#030d24" fill-opacity="0.85"/>
<ellipse cx="166.0" cy="140.0" rx="1.9" ry="0.6" fill="#030d24" fill-opacity="0.85"/>
<ellipse cx="182.4" cy="228.4" rx="2.1" ry="0.7" fill="#030d24" fill-opacity="0.85"/>
<ellipse cx="163.6" cy="202.5" rx="1.3" ry="1.1" fill="#030d24" fill-opacity="0.85"/>
<ellipse cx="184.4" cy="147.1" rx="1.9" ry="0.7" fill="#030d24" fill-opacity="0.85"/>
<ellipse cx="176.0" cy="190.2" rx="2.1" ry="0.8" fill="#030d24" fill-opacity="0.85"/>
<ellipse cx="184.8" cy="172.1" rx="1.2" ry="0.7" fill="#030d24" fill-opacity="0.85"/>
<ellipse cx="181.1" cy="132.5" rx="2.0" ry="1.2" fill="#030d24" fill-opacity="0.85"/>
<ellipse cx="172.3" cy="162.0" rx="2.6" ry="0.9" fill="#030d24" fill-opacity="0.85"/>
<ellipse cx="176.5" cy="233.2" rx="1.3" ry="0.9" fill="#030d24" fill-opacity="0.85"/>
<ellipse cx="161.9" cy="235.1" rx="1.9" ry="1.1" fill="#030d24" fill-opacity="0.85"/>
<ellipse cx="196.7" cy="146.6" rx="1.3" ry="0.8" fill="#030d24" fill-opacity="0.85"/>
<ellipse cx="203.9" cy="142.0" rx="2.0" ry="0.8" fill="#030d24" fill-opacity="0.85"/>
<ellipse cx="186.1" cy="228.6" rx="1.7" ry="1.0" fill="#030d24" fill-opacity="0.85"/>
<ellipse cx="203.5" cy="200.1" rx="1.3" ry="1.1" fill="#030d24" fill-opacity="0.85"/>
<ellipse cx="168.6" cy="197.4" rx="1.8" ry="0.6" fill="#030d24" fill-opacity="0.85"/>
<ellipse cx="165.0" cy="222.6" rx="1.5" ry="1.0" fill="#030d24" fill-opacity="0.85"/>
<ellipse cx="170.8" cy="210.0" rx="1.4" ry="0.6" fill="#030d24" fill-opacity="0.85"/>
</g></g>
<rect x="211.0" y="122.3" width="61.5" height="115.2" fill="#070707" />
<g clip-path="url(#cA3)">
<g filter="url(#b1)"><path d="M220.9,120.3 L221.4,123.4 L221.5,126.4 L219.2,129.5 L222.0,132.5 L222.8,135.6 L221.0,138.6 L223.2,141.7 L223.2,144.8 L224.6,147.8 L226.7,150.9 L224.5,153.9 L226.8,157.0 L229.4,160.0 L227.4,163.1 L228.4,166.1 L227.3,169.2 L227.3,172.3 L230.0,175.3 L227.3,178.4 L226.9,181.4 L228.8,184.5 L227.6,187.5 L229.1,190.6 L229.3,193.7 L229.0,196.7 L233.4,199.8 L231.6,202.8 L229.3,205.9 L229.7,208.9 L227.8,212.0 L228.8,215.0 L229.0,218.1 L226.0,221.2 L228.4,224.2 L228.9,227.3 L227.5,230.3 L228.6,233.4 L226.8,236.4 L228.0,239.5 L275.5,239.5 L275.5,120.3 Z" fill="#051f4d"/></g>
<g filter="url(#b2)">
<ellipse cx="223.8" cy="120.3" rx="4.4" ry="2.1" fill="rgb(22,108,206)" transform="rotate(-16 223.8 120.3)"/>
<ellipse cx="232.6" cy="119.2" rx="3.1" ry="2.2" fill="rgb(18,90,171)" transform="rotate(-11 232.6 119.2)"/>
<ellipse cx="239.8" cy="120.4" rx="4.2" ry="1.8" fill="rgb(16,82,156)" transform="rotate(-11 239.8 120.4)"/>
<ellipse cx="249.2" cy="120.4" rx="3.9" ry="1.9" fill="rgb(21,104,197)" transform="rotate(-13 249.2 120.4)"/>
<ellipse cx="257.3" cy="120.7" rx="4.9" ry="2.7" fill="rgb(22,109,207)" transform="rotate(-8 257.3 120.7)"/>
<ellipse cx="266.7" cy="120.0" rx="4.3" ry="2.3" fill="rgb(16,80,153)" transform="rotate(-5 266.7 120.0)"/>
<ellipse cx="275.3" cy="121.2" rx="3.6" ry="2.2" fill="rgb(19,95,182)" transform="rotate(-11 275.3 121.2)"/>
<ellipse cx="222.5" cy="125.7" rx="4.0" ry="1.9" fill="rgb(17,86,164)" transform="rotate(4 222.5 125.7)"/>
<ellipse cx="231.6" cy="126.2" rx="4.4" ry="2.1" fill="rgb(17,85,162)" transform="rotate(-10 231.6 126.2)"/>
<ellipse cx="240.9" cy="126.9" rx="3.1" ry="2.0" fill="rgb(16,80,153)" transform="rotate(1 240.9 126.9)"/>
<ellipse cx="248.2" cy="124.7" rx="4.0" ry="2.3" fill="rgb(15,74,141)" transform="rotate(-15 248.2 124.7)"/>
<ellipse cx="255.8" cy="125.0" rx="3.3" ry="2.3" fill="rgb(22,111,211)" transform="rotate(-3 255.8 125.0)"/>
<ellipse cx="263.4" cy="126.6" rx="3.5" ry="2.6" fill="rgb(20,101,193)" transform="rotate(7 263.4 126.6)"/>
<ellipse cx="271.6" cy="126.1" rx="4.3" ry="2.6" fill="rgb(17,86,164)" transform="rotate(-14 271.6 126.1)"/>
<ellipse cx="226.0" cy="131.9" rx="4.9" ry="2.6" fill="rgb(15,75,142)" transform="rotate(10 226.0 131.9)"/>
<ellipse cx="237.2" cy="131.1" rx="4.0" ry="2.2" fill="rgb(7,35,67)" transform="rotate(9 237.2 131.1)"/>
<ellipse cx="246.1" cy="130.7" rx="3.3" ry="2.2" fill="rgb(16,80,152)" transform="rotate(1 246.1 130.7)"/>
<ellipse cx="253.2" cy="132.9" rx="3.5" ry="2.4" fill="rgb(8,40,76)" transform="rotate(-18 253.2 132.9)"/>
<ellipse cx="259.9" cy="132.6" rx="4.9" ry="2.3" fill="rgb(15,78,148)" transform="rotate(2 259.9 132.6)"/>
<ellipse cx="271.3" cy="132.7" rx="3.7" ry="1.9" fill="rgb(17,83,158)" transform="rotate(-15 271.3 132.7)"/>
<ellipse cx="225.3" cy="137.2" rx="3.7" ry="2.5" fill="rgb(17,84,160)" transform="rotate(8 225.3 137.2)"/>
<ellipse cx="232.5" cy="139.2" rx="4.8" ry="2.5" fill="rgb(17,86,164)" transform="rotate(-12 232.5 139.2)"/>
<ellipse cx="243.4" cy="138.0" rx="4.9" ry="2.4" fill="rgb(16,83,158)" transform="rotate(8 243.4 138.0)"/>
<ellipse cx="252.9" cy="138.9" rx="3.4" ry="2.5" fill="rgb(17,84,160)" transform="rotate(-6 252.9 138.9)"/>
<ellipse cx="260.5" cy="138.1" rx="3.2" ry="2.6" fill="rgb(21,103,197)" transform="rotate(11 260.5 138.1)"/>
<ellipse cx="268.1" cy="138.5" rx="3.7" ry="2.7" fill="rgb(9,48,91)" transform="rotate(-18 268.1 138.5)"/>
<ellipse cx="224.6" cy="143.6" rx="3.3" ry="2.7" fill="rgb(9,47,90)" transform="rotate(-5 224.6 143.6)"/>
<ellipse cx="230.8" cy="142.6" rx="4.8" ry="2.2" fill="rgb(15,74,141)" transform="rotate(-18 230.8 142.6)"/>
<ellipse cx="240.1" cy="143.8" rx="3.9" ry="2.2" fill="rgb(19,97,184)" transform="rotate(-0 240.1 143.8)"/>
<ellipse cx="247.7" cy="142.8" rx="3.6" ry="2.5" fill="rgb(16,80,153)" transform="rotate(-5 247.7 142.8)"/>
<ellipse cx="254.2" cy="142.8" rx="3.1" ry="2.2" fill="rgb(20,99,189)" transform="rotate(-1 254.2 142.8)"/>
<ellipse cx="261.3" cy="143.4" rx="3.8" ry="1.8" fill="rgb(17,86,165)" transform="rotate(-16 261.3 143.4)"/>
<ellipse cx="268.9" cy="143.4" rx="4.6" ry="2.0" fill="rgb(22,110,210)" transform="rotate(-15 268.9 143.4)"/>
<ellipse cx="228.1" cy="148.3" rx="3.1" ry="2.2" fill="rgb(16,81,155)" transform="rotate(-18 228.1 148.3)"/>
<ellipse cx="234.4" cy="149.4" rx="5.0" ry="2.7" fill="rgb(20,102,194)" transform="rotate(-5 234.4 149.4)"/>
<ellipse cx="245.8" cy="148.4" rx="3.3" ry="2.5" fill="rgb(21,107,204)" transform="rotate(-6 245.8 148.4)"/>
<ellipse cx="253.5" cy="148.5" rx="3.9" ry="2.5" fill="rgb(18,92,175)" transform="rotate(10 253.5 148.5)"/>
<ellipse cx="261.3" cy="149.1" rx="3.5" ry="2.6" fill="rgb(15,73,139)" transform="rotate(-7 261.3 149.1)"/>
<ellipse cx="269.5" cy="149.3" rx="4.0" ry="2.3" fill="rgb(17,83,158)" transform="rotate(1 269.5 149.3)"/>
<ellipse cx="229.0" cy="155.8" rx="4.8" ry="2.6" fill="rgb(8,42,81)" transform="rotate(4 229.0 155.8)"/>
<ellipse cx="238.5" cy="154.7" rx="4.1" ry="1.9" fill="rgb(19,96,183)" transform="rotate(2 238.5 154.7)"/>
<ellipse cx="248.0" cy="156.1" rx="5.0" ry="1.9" fill="rgb(19,95,181)" transform="rotate(-3 248.0 156.1)"/>
<ellipse cx="258.6" cy="155.8" rx="4.7" ry="2.2" fill="rgb(9,45,85)" transform="rotate(-6 258.6 155.8)"/>
<ellipse cx="267.8" cy="155.1" rx="3.3" ry="1.8" fill="rgb(16,80,152)" transform="rotate(-2 267.8 155.1)"/>
<ellipse cx="275.7" cy="155.5" rx="4.0" ry="2.6" fill="rgb(20,102,194)" transform="rotate(-0 275.7 155.5)"/>
<ellipse cx="232.2" cy="163.3" rx="3.3" ry="2.3" fill="rgb(14,73,139)" transform="rotate(4 232.2 163.3)"/>
<ellipse cx="238.3" cy="162.6" rx="4.5" ry="2.3" fill="rgb(19,94,179)" transform="rotate(-9 238.3 162.6)"/>
<ellipse cx="248.1" cy="161.9" rx="3.1" ry="2.3" fill="rgb(22,112,213)" transform="rotate(-16 248.1 161.9)"/>
<ellipse cx="253.8" cy="162.6" rx="3.2" ry="2.0" fill="rgb(19,94,178)" transform="rotate(-5 253.8 162.6)"/>
<ellipse cx="259.7" cy="162.8" rx="3.8" ry="2.7" fill="rgb(19,95,181)" transform="rotate(9 259.7 162.8)"/>
<ellipse cx="267.7" cy="161.7" rx="4.2" ry="2.0" fill="rgb(17,85,162)" transform="rotate(-19 267.7 161.7)"/>
<ellipse cx="229.4" cy="167.0" rx="4.2" ry="2.4" fill="rgb(17,83,158)" transform="rotate(-8 229.4 167.0)"/>
<ellipse cx="237.6" cy="168.4" rx="4.8" ry="1.8" fill="rgb(17,83,158)" transform="rotate(11 237.6 168.4)"/>
<ellipse cx="247.7" cy="168.5" rx="4.4" ry="2.2" fill="rgb(20,101,192)" transform="rotate(-17 247.7 168.5)"/>
<ellipse cx="256.8" cy="167.6" rx="4.0" ry="2.1" fill="rgb(16,80,152)" transform="rotate(-3 256.8 167.6)"/>
<ellipse cx="265.8" cy="167.3" rx="4.5" ry="2.5" fill="rgb(18,90,171)" transform="rotate(-8 265.8 167.3)"/>
<ellipse cx="276.0" cy="167.6" rx="5.0" ry="2.6" fill="rgb(17,84,159)" transform="rotate(2 276.0 167.6)"/>
<ellipse cx="230.0" cy="172.2" rx="3.2" ry="2.1" fill="rgb(20,99,188)" transform="rotate(-15 230.0 172.2)"/>
<ellipse cx="235.8" cy="173.1" rx="4.5" ry="2.1" fill="rgb(15,73,140)" transform="rotate(2 235.8 173.1)"/>
<ellipse cx="245.6" cy="172.7" rx="4.7" ry="2.7" fill="rgb(19,97,184)" transform="rotate(-4 245.6 172.7)"/>
<ellipse cx="255.3" cy="172.2" rx="5.0" ry="2.4" fill="rgb(20,100,191)" transform="rotate(9 255.3 172.2)"/>
<ellipse cx="266.0" cy="174.1" rx="3.0" ry="2.5" fill="rgb(20,102,193)" transform="rotate(-8 266.0 174.1)"/>
<ellipse cx="273.2" cy="173.1" rx="3.2" ry="2.5" fill="rgb(15,74,140)" transform="rotate(-7 273.2 173.1)"/>
<ellipse cx="231.4" cy="179.2" rx="3.3" ry="2.5" fill="rgb(15,74,142)" transform="rotate(5 231.4 179.2)"/>
<ellipse cx="238.7" cy="178.8" rx="4.7" ry="2.1" fill="rgb(16,80,152)" transform="rotate(7 238.7 178.8)"/>
<ellipse cx="248.9" cy="178.7" rx="3.6" ry="2.1" fill="rgb(15,76,145)" transform="rotate(-11 248.9 178.7)"/>
<ellipse cx="256.4" cy="177.7" rx="3.6" ry="2.6" fill="rgb(16,81,154)" transform="rotate(-20 256.4 177.7)"/>
<ellipse cx="264.2" cy="178.5" rx="4.7" ry="2.6" fill="rgb(18,89,168)" transform="rotate(-3 264.2 178.5)"/>
<ellipse cx="274.3" cy="179.3" rx="4.3" ry="1.9" fill="rgb(15,75,143)" transform="rotate(10 274.3 179.3)"/>
<ellipse cx="231.9" cy="183.0" rx="4.8" ry="2.4" fill="rgb(9,48,92)" transform="rotate(2 231.9 183.0)"/>
<ellipse cx="243.0" cy="184.6" rx="3.3" ry="2.3" fill="rgb(16,78,149)" transform="rotate(-18 243.0 184.6)"/>
<ellipse cx="249.4" cy="184.7" rx="3.2" ry="2.1" fill="rgb(20,100,190)" transform="rotate(1 249.4 184.7)"/>
<ellipse cx="257.2" cy="183.0" rx="3.3" ry="2.3" fill="rgb(18,91,174)" transform="rotate(-5 257.2 183.0)"/>
<ellipse cx="263.9" cy="185.1" rx="3.5" ry="2.2" fill="rgb(22,112,213)" transform="rotate(12 263.9 185.1)"/>
<ellipse cx="272.2" cy="184.6" rx="3.6" ry="2.2" fill="rgb(20,101,192)" transform="rotate(-4 272.2 184.6)"/>
<ellipse cx="231.1" cy="191.6" rx="5.0" ry="1.9" fill="rgb(17,87,165)" transform="rotate(-20 231.1 191.6)"/>
<ellipse cx="241.5" cy="190.8" rx="3.5" ry="2.4" fill="rgb(18,90,172)" transform="rotate(11 241.5 190.8)"/>
<ellipse cx="248.1" cy="190.8" rx="4.1" ry="2.4" fill="rgb(16,82,156)" transform="rotate(-12 248.1 190.8)"/>
<ellipse cx="257.8" cy="191.2" rx="3.9" ry="1.9" fill="rgb(15,74,141)" transform="rotate(-1 257.8 191.2)"/>
<ellipse cx="267.1" cy="189.6" rx="4.6" ry="2.2" fill="rgb(7,37,70)" transform="rotate(1 267.1 189.6)"/>
<ellipse cx="276.0" cy="190.2" rx="3.4" ry="2.0" fill="rgb(20,100,190)" transform="rotate(-4 276.0 190.2)"/>
<ellipse cx="231.0" cy="196.3" rx="4.5" ry="1.8" fill="rgb(20,100,191)" transform="rotate(-19 231.0 196.3)"/>
<ellipse cx="239.9" cy="195.5" rx="3.5" ry="2.0" fill="rgb(22,112,213)" transform="rotate(9 239.9 195.5)"/>
<ellipse cx="248.0" cy="196.0" rx="3.7" ry="2.6" fill="rgb(16,79,150)" transform="rotate(-12 248.0 196.0)"/>
<ellipse cx="256.7" cy="196.0" rx="4.5" ry="2.1" fill="rgb(20,101,192)" transform="rotate(-3 256.7 196.0)"/>
<ellipse cx="265.6" cy="196.0" rx="3.6" ry="2.4" fill="rgb(20,101,192)" transform="rotate(-9 265.6 196.0)"/>
<ellipse cx="272.5" cy="196.2" rx="4.4" ry="2.1" fill="rgb(15,76,145)" transform="rotate(-6 272.5 196.2)"/>
<ellipse cx="235.0" cy="202.0" rx="4.7" ry="2.4" fill="rgb(7,36,69)" transform="rotate(-9 235.0 202.0)"/>
<ellipse cx="244.1" cy="200.9" rx="3.8" ry="2.5" fill="rgb(21,107,203)" transform="rotate(-15 244.1 200.9)"/>
<ellipse cx="252.7" cy="201.4" rx="3.9" ry="2.1" fill="rgb(23,113,214)" transform="rotate(-11 252.7 201.4)"/>
<ellipse cx="262.1" cy="201.1" rx="3.4" ry="2.2" fill="rgb(10,50,96)" transform="rotate(1 262.1 201.1)"/>
<ellipse cx="269.5" cy="202.1" rx="3.3" ry="2.4" fill="rgb(9,46,88)" transform="rotate(5 269.5 202.1)"/>
<ellipse cx="276.3" cy="200.4" rx="4.7" ry="2.3" fill="rgb(20,102,194)" transform="rotate(-6 276.3 200.4)"/>
<ellipse cx="229.4" cy="206.6" rx="4.8" ry="2.1" fill="rgb(14,73,139)" transform="rotate(9 229.4 206.6)"/>
<ellipse cx="239.6" cy="206.9" rx="4.6" ry="2.1" fill="rgb(17,83,158)" transform="rotate(-2 239.6 206.9)"/>
<ellipse cx="249.0" cy="206.7" rx="3.1" ry="2.4" fill="rgb(17,87,166)" transform="rotate(-18 249.0 206.7)"/>
<ellipse cx="256.2" cy="206.0" rx="3.8" ry="2.6" fill="rgb(9,47,90)" transform="rotate(-14 256.2 206.0)"/>
<ellipse cx="263.4" cy="206.7" rx="4.0" ry="2.1" fill="rgb(22,112,213)" transform="rotate(10 263.4 206.7)"/>
<ellipse cx="272.9" cy="206.4" rx="3.7" ry="2.4" fill="rgb(17,86,164)" transform="rotate(-2 272.9 206.4)"/>
<ellipse cx="232.1" cy="211.8" rx="4.4" ry="2.4" fill="rgb(21,104,197)" transform="rotate(-15 232.1 211.8)"/>
<ellipse cx="240.7" cy="212.6" rx="4.2" ry="2.7" fill="rgb(17,83,158)" transform="rotate(-13 240.7 212.6)"/>
<ellipse cx="250.1" cy="212.5" rx="3.8" ry="1.8" fill="rgb(18,92,175)" transform="rotate(3 250.1 212.5)"/>
<ellipse cx="257.9" cy="212.8" rx="4.3" ry="2.0" fill="rgb(19,96,183)" transform="rotate(-15 257.9 212.8)"/>
<ellipse cx="267.6" cy="211.3" rx="4.1" ry="2.5" fill="rgb(20,102,193)" transform="rotate(-1 267.6 211.3)"/>
<ellipse cx="275.5" cy="211.9" rx="4.8" ry="2.3" fill="rgb(19,97,185)" transform="rotate(-17 275.5 211.9)"/>
<ellipse cx="233.4" cy="218.9" rx="3.1" ry="2.3" fill="rgb(20,99,188)" transform="rotate(1 233.4 218.9)"/>
<ellipse cx="240.4" cy="219.2" rx="4.2" ry="1.9" fill="rgb(8,41,79)" transform="rotate(6 240.4 219.2)"/>
<ellipse cx="249.9" cy="218.9" rx="4.3" ry="1.8" fill="rgb(17,85,162)" transform="rotate(-15 249.9 218.9)"/>
<ellipse cx="258.8" cy="218.0" rx="3.2" ry="1.8" fill="rgb(20,100,191)" transform="rotate(-10 258.8 218.0)"/>
<ellipse cx="266.8" cy="217.9" rx="4.5" ry="2.7" fill="rgb(16,79,150)" transform="rotate(-17 266.8 217.9)"/>
<ellipse cx="231.4" cy="224.2" rx="4.1" ry="2.1" fill="rgb(15,74,140)" transform="rotate(-4 231.4 224.2)"/>
<ellipse cx="239.7" cy="224.2" rx="4.9" ry="2.7" fill="rgb(19,96,183)" transform="rotate(-1 239.7 224.2)"/>
<ellipse cx="249.8" cy="225.0" rx="4.7" ry="2.3" fill="rgb(21,103,195)" transform="rotate(2 249.8 225.0)"/>
<ellipse cx="259.2" cy="225.4" rx="4.3" ry="2.0" fill="rgb(17,85,163)" transform="rotate(-14 259.2 225.4)"/>
<ellipse cx="269.0" cy="224.8" rx="4.7" ry="2.6" fill="rgb(19,94,179)" transform="rotate(7 269.0 224.8)"/>
<ellipse cx="230.1" cy="229.6" rx="4.8" ry="2.3" fill="rgb(15,75,143)" transform="rotate(-3 230.1 229.6)"/>
<ellipse cx="240.5" cy="231.3" rx="3.9" ry="1.8" fill="rgb(17,87,165)" transform="rotate(-6 240.5 231.3)"/>
<ellipse cx="247.9" cy="229.4" rx="4.9" ry="2.7" fill="rgb(14,73,139)" transform="rotate(11 247.9 229.4)"/>
<ellipse cx="258.3" cy="230.5" rx="4.8" ry="2.1" fill="rgb(21,106,201)" transform="rotate(-10 258.3 230.5)"/>
<ellipse cx="268.5" cy="229.8" rx="4.2" ry="2.2" fill="rgb(16,80,153)" transform="rotate(-13 268.5 229.8)"/>
<ellipse cx="230.8" cy="235.4" rx="5.0" ry="2.2" fill="rgb(18,89,170)" transform="rotate(-1 230.8 235.4)"/>
<ellipse cx="242.3" cy="237.0" rx="4.8" ry="2.5" fill="rgb(18,92,176)" transform="rotate(5 242.3 237.0)"/>
<ellipse cx="253.6" cy="237.1" rx="4.3" ry="2.0" fill="rgb(22,110,209)" transform="rotate(1 253.6 237.1)"/>
<ellipse cx="263.9" cy="237.3" rx="3.5" ry="2.3" fill="rgb(23,113,214)" transform="rotate(-1 263.9 237.3)"/>
<ellipse cx="271.7" cy="237.0" rx="3.8" ry="2.0" fill="rgb(19,95,182)" transform="rotate(-10 271.7 237.0)"/>
<ellipse cx="245.9" cy="199.2" rx="1.6" ry="1.1" fill="#030d24" fill-opacity="0.85"/>
<ellipse cx="270.0" cy="133.1" rx="1.8" ry="1.1" fill="#030d24" fill-opacity="0.85"/>
<ellipse cx="259.0" cy="217.2" rx="1.3" ry="1.0" fill="#030d24" fill-opacity="0.85"/>
<ellipse cx="243.4" cy="173.7" rx="1.9" ry="1.0" fill="#030d24" fill-opacity="0.85"/>
<ellipse cx="246.5" cy="167.2" rx="1.5" ry="0.7" fill="#030d24" fill-opacity="0.85"/>
<ellipse cx="271.5" cy="194.0" rx="1.3" ry="1.0" fill="#030d24" fill-opacity="0.85"/>
<ellipse cx="261.8" cy="191.4" rx="1.6" ry="0.8" fill="#030d24" fill-opacity="0.85"/>
<ellipse cx="265.4" cy="155.4" rx="2.4" ry="1.1" fill="#030d24" fill-opacity="0.85"/>
<ellipse cx="244.3" cy="154.4" rx="1.6" ry="1.0" fill="#030d24" fill-opacity="0.85"/>
<ellipse cx="260.8" cy="149.4" rx="2.3" ry="0.9" fill="#030d24" fill-opacity="0.85"/>
<ellipse cx="237.2" cy="142.4" rx="2.0" ry="1.0" fill="#030d24" fill-opacity="0.85"/>
<ellipse cx="256.4" cy="145.4" rx="2.5" ry="1.0" fill="#030d24" fill-opacity="0.85"/>
<ellipse cx="270.7" cy="224.6" rx="1.6" ry="0.7" fill="#030d24" fill-opacity="0.85"/>
<ellipse cx="246.0" cy="226.1" rx="1.4" ry="1.0" fill="#030d24" fill-opacity="0.85"/>
<ellipse cx="237.5" cy="177.4" rx="2.5" ry="0.9" fill="#030d24" fill-opacity="0.85"/>
<ellipse cx="241.1" cy="236.5" rx="1.3" ry="1.1" fill="#030d24" fill-opacity="0.85"/>
<ellipse cx="269.2" cy="156.4" rx="1.9" ry="1.0" fill="#030d24" fill-opacity="0.85"/>
<ellipse cx="237.6" cy="135.7" rx="2.2" ry="1.2" fill="#030d24" fill-opacity="0.85"/>
<ellipse cx="268.4" cy="216.8" rx="2.3" ry="1.2" fill="#030d24" fill-opacity="0.85"/>
<ellipse cx="232.9" cy="149.7" rx="1.5" ry="0.9" fill="#030d24" fill-opacity="0.85"/>
<ellipse cx="232.4" cy="165.0" rx="1.4" ry="0.8" fill="#030d24" fill-opacity="0.85"/>
<ellipse cx="244.8" cy="160.9" rx="2.0" ry="1.0" fill="#030d24" fill-opacity="0.85"/>
<ellipse cx="246.2" cy="219.6" rx="2.5" ry="0.8" fill="#030d24" fill-opacity="0.85"/>
<ellipse cx="247.9" cy="171.1" rx="2.3" ry="1.0" fill="#030d24" fill-opacity="0.85"/>
<ellipse cx="245.0" cy="171.0" rx="1.3" ry="0.8" fill="#030d24" fill-opacity="0.85"/>
<ellipse cx="239.8" cy="131.0" rx="1.5" ry="1.0" fill="#030d24" fill-opacity="0.85"/>
<ellipse cx="251.5" cy="208.3" rx="1.9" ry="0.8" fill="#030d24" fill-opacity="0.85"/>
<ellipse cx="272.2" cy="232.8" rx="2.1" ry="1.1" fill="#030d24" fill-opacity="0.85"/>
<ellipse cx="255.4" cy="165.6" rx="1.7" ry="1.2" fill="#030d24" fill-opacity="0.85"/>
<ellipse cx="268.0" cy="192.3" rx="2.1" ry="0.7" fill="#030d24" fill-opacity="0.85"/>
<ellipse cx="254.5" cy="157.8" rx="2.5" ry="1.0" fill="#030d24" fill-opacity="0.85"/>
<ellipse cx="257.8" cy="163.1" rx="2.1" ry="1.2" fill="#030d24" fill-opacity="0.85"/>
<ellipse cx="229.9" cy="192.3" rx="2.6" ry="0.7" fill="#030d24" fill-opacity="0.85"/>
<ellipse cx="271.0" cy="163.9" rx="2.1" ry="1.0" fill="#030d24" fill-opacity="0.85"/>
<ellipse cx="246.6" cy="172.3" rx="1.6" ry="1.1" fill="#030d24" fill-opacity="0.85"/>
<ellipse cx="235.4" cy="164.3" rx="1.5" ry="0.7" fill="#030d24" fill-opacity="0.85"/>
<ellipse cx="240.7" cy="225.7" rx="1.5" ry="1.0" fill="#030d24" fill-opacity="0.85"/>
<ellipse cx="263.9" cy="156.9" rx="2.2" ry="1.0" fill="#030d24" fill-opacity="0.85"/>
<ellipse cx="245.6" cy="177.2" rx="1.8" ry="1.0" fill="#030d24" fill-opacity="0.85"/>
<ellipse cx="233.0" cy="129.1" rx="2.2" ry="1.0" fill="#030d24" fill-opacity="0.85"/>
<ellipse cx="241.4" cy="188.2" rx="1.5" ry="0.9" fill="#030d24" fill-opacity="0.85"/>
<ellipse cx="260.6" cy="152.7" rx="2.3" ry="1.0" fill="#030d24" fill-opacity="0.85"/>
<ellipse cx="268.2" cy="194.8" rx="2.0" ry="0.8" fill="#030d24" fill-opacity="0.85"/>
<ellipse cx="231.9" cy="149.7" rx="2.1" ry="1.1" fill="#030d24" fill-opacity="0.85"/>
<ellipse cx="235.4" cy="192.6" rx="2.2" ry="1.0" fill="#030d24" fill-opacity="0.85"/>
<ellipse cx="253.6" cy="164.8" rx="1.3" ry="1.0" fill="#030d24" fill-opacity="0.85"/>
<ellipse cx="239.6" cy="124.4" rx="2.3" ry="1.0" fill="#030d24" fill-opacity="0.85"/>
<ellipse cx="268.9" cy="165.5" rx="2.1" ry="1.2" fill="#030d24" fill-opacity="0.85"/>
<ellipse cx="257.7" cy="178.7" rx="2.1" ry="0.6" fill="#030d24" fill-opacity="0.85"/>
<ellipse cx="229.4" cy="138.4" rx="1.5" ry="1.2" fill="#030d24" fill-opacity="0.85"/>
<ellipse cx="262.2" cy="199.7" rx="2.5" ry="0.7" fill="#030d24" fill-opacity="0.85"/>
<ellipse cx="253.1" cy="209.1" rx="1.7" ry="1.0" fill="#030d24" fill-opacity="0.85"/>
<ellipse cx="256.1" cy="214.3" rx="2.2" ry="1.1" fill="#030d24" fill-opacity="0.85"/>
<ellipse cx="265.5" cy="163.9" rx="1.9" ry="1.1" fill="#030d24" fill-opacity="0.85"/>
<ellipse cx="257.4" cy="205.0" rx="2.6" ry="0.9" fill="#030d24" fill-opacity="0.85"/>
<ellipse cx="251.2" cy="147.0" rx="1.7" ry="1.2" fill="#030d24" fill-opacity="0.85"/>
<ellipse cx="254.3" cy="142.8" rx="2.0" ry="0.7" fill="#030d24" fill-opacity="0.85"/>
<ellipse cx="256.0" cy="202.5" rx="1.8" ry="1.2" fill="#030d24" fill-opacity="0.85"/>
<ellipse cx="254.5" cy="134.9" rx="1.6" ry="0.9" fill="#030d24" fill-opacity="0.85"/>
<ellipse cx="259.4" cy="164.7" rx="2.4" ry="0.6" fill="#030d24" fill-opacity="0.85"/>
<ellipse cx="261.0" cy="177.5" rx="1.6" ry="0.8" fill="#030d24" fill-opacity="0.85"/>
<ellipse cx="234.0" cy="231.1" rx="2.0" ry="1.0" fill="#030d24" fill-opacity="0.85"/>
<ellipse cx="236.8" cy="198.7" rx="2.5" ry="0.6" fill="#030d24" fill-opacity="0.85"/>
<ellipse cx="250.5" cy="126.0" rx="1.3" ry="0.8" fill="#030d24" fill-opacity="0.85"/>
<ellipse cx="254.7" cy="213.6" rx="2.0" ry="1.2" fill="#030d24" fill-opacity="0.85"/>
<ellipse cx="271.9" cy="134.4" rx="2.1" ry="1.0" fill="#030d24" fill-opacity="0.85"/>
<ellipse cx="266.0" cy="124.1" rx="1.8" ry="0.8" fill="#030d24" fill-opacity="0.85"/>
<ellipse cx="248.5" cy="195.6" rx="1.8" ry="1.4" fill="#3f8fe0" fill-opacity="0.8"/>
<ellipse cx="241.2" cy="165.3" rx="1.3" ry="1.4" fill="#3f8fe0" fill-opacity="0.8"/>
<ellipse cx="250.8" cy="157.4" rx="1.2" ry="1.1" fill="#3f8fe0" fill-opacity="0.8"/>
<ellipse cx="247.7" cy="232.0" rx="1.0" ry="1.2" fill="#3f8fe0" fill-opacity="0.8"/>
<ellipse cx="245.9" cy="212.7" rx="1.1" ry="1.0" fill="#3f8fe0" fill-opacity="0.8"/>
<ellipse cx="251.3" cy="213.1" rx="1.0" ry="1.2" fill="#3f8fe0" fill-opacity="0.8"/>
<ellipse cx="252.2" cy="152.9" rx="1.3" ry="0.9" fill="#3f8fe0" fill-opacity="0.8"/>
<ellipse cx="240.7" cy="167.8" rx="1.4" ry="0.9" fill="#3f8fe0" fill-opacity="0.8"/>
<ellipse cx="265.4" cy="237.2" rx="1.6" ry="1.0" fill="#3f8fe0" fill-opacity="0.8"/>
<ellipse cx="271.4" cy="232.1" rx="1.1" ry="1.0" fill="#3f8fe0" fill-opacity="0.8"/>
<ellipse cx="239.3" cy="137.6" rx="1.6" ry="1.4" fill="#3f8fe0" fill-opacity="0.8"/>
<ellipse cx="248.1" cy="183.5" rx="1.6" ry="1.3" fill="#3f8fe0" fill-opacity="0.8"/>
<ellipse cx="251.0" cy="181.2" rx="1.3" ry="1.1" fill="#3f8fe0" fill-opacity="0.8"/>
<ellipse cx="235.1" cy="172.8" rx="1.7" ry="1.1" fill="#3f8fe0" fill-opacity="0.8"/>
<ellipse cx="251.6" cy="201.6" rx="1.6" ry="0.9" fill="#3f8fe0" fill-opacity="0.8"/>
<ellipse cx="270.8" cy="219.8" rx="1.1" ry="1.1" fill="#3f8fe0" fill-opacity="0.8"/>
<ellipse cx="261.7" cy="127.0" rx="1.4" ry="0.8" fill="#3f8fe0" fill-opacity="0.8"/>
<ellipse cx="269.3" cy="226.7" rx="1.2" ry="1.2" fill="#3f8fe0" fill-opacity="0.8"/>
<ellipse cx="255.8" cy="130.8" rx="1.3" ry="0.8" fill="#3f8fe0" fill-opacity="0.8"/>
<ellipse cx="252.6" cy="157.4" rx="1.0" ry="1.3" fill="#3f8fe0" fill-opacity="0.8"/>
<ellipse cx="252.6" cy="170.4" rx="1.8" ry="1.4" fill="#3f8fe0" fill-opacity="0.8"/>
<ellipse cx="261.9" cy="205.1" rx="1.7" ry="1.2" fill="#3f8fe0" fill-opacity="0.8"/>
<ellipse cx="267.0" cy="192.2" rx="1.1" ry="1.4" fill="#3f8fe0" fill-opacity="0.8"/>
<ellipse cx="239.6" cy="151.3" rx="1.5" ry="1.1" fill="#3f8fe0" fill-opacity="0.8"/>
<ellipse cx="267.3" cy="185.2" rx="1.0" ry="0.9" fill="#3f8fe0" fill-opacity="0.8"/>
<ellipse cx="251.7" cy="144.6" rx="1.3" ry="1.2" fill="#3f8fe0" fill-opacity="0.8"/>
<ellipse cx="232.8" cy="170.6" rx="1.6" ry="1.1" fill="#3f8fe0" fill-opacity="0.8"/>
<ellipse cx="241.4" cy="167.5" rx="1.7" ry="1.2" fill="#3f8fe0" fill-opacity="0.8"/>
<ellipse cx="243.2" cy="133.7" rx="1.8" ry="1.0" fill="#3f8fe0" fill-opacity="0.8"/>
<ellipse cx="229.7" cy="136.2" rx="1.1" ry="0.8" fill="#3f8fe0" fill-opacity="0.8"/>
<ellipse cx="268.7" cy="176.1" rx="1.8" ry="1.3" fill="#3f8fe0" fill-opacity="0.8"/>
<ellipse cx="259.5" cy="166.3" rx="1.0" ry="1.3" fill="#3f8fe0" fill-opacity="0.8"/>
<ellipse cx="257.1" cy="154.1" rx="1.2" ry="1.1" fill="#3f8fe0" fill-opacity="0.8"/>
<ellipse cx="257.1" cy="175.4" rx="1.3" ry="0.9" fill="#3f8fe0" fill-opacity="0.8"/>
<ellipse cx="262.9" cy="187.3" rx="1.3" ry="1.4" fill="#3f8fe0" fill-opacity="0.8"/>
<ellipse cx="247.0" cy="173.4" rx="1.3" ry="1.4" fill="#3f8fe0" fill-opacity="0.8"/>
<ellipse cx="256.5" cy="156.3" rx="1.4" ry="1.4" fill="#3f8fe0" fill-opacity="0.8"/>
<ellipse cx="271.5" cy="127.5" rx="1.3" ry="1.3" fill="#3f8fe0" fill-opacity="0.8"/>
<ellipse cx="259.7" cy="145.5" rx="1.3" ry="0.9" fill="#3f8fe0" fill-opacity="0.8"/>
<ellipse cx="233.5" cy="142.7" rx="1.7" ry="1.1" fill="#3f8fe0" fill-opacity="0.8"/>
<ellipse cx="264.5" cy="158.6" rx="1.4" ry="1.2" fill="#3f8fe0" fill-opacity="0.8"/>
<ellipse cx="237.3" cy="154.8" rx="1.1" ry="1.0" fill="#3f8fe0" fill-opacity="0.8"/>
<ellipse cx="257.5" cy="169.4" rx="1.3" ry="1.0" fill="#3f8fe0" fill-opacity="0.8"/>
<ellipse cx="245.1" cy="145.2" rx="1.4" ry="0.9" fill="#3f8fe0" fill-opacity="0.8"/>
<ellipse cx="269.2" cy="209.4" rx="1.5" ry="1.0" fill="#3f8fe0" fill-opacity="0.8"/>
</g></g>
<line x1="82.0" y1="127.0" x2="95.8" y2="127.0" stroke="#b8b8b8" stroke-width="1" />
<text x="96.2" y="253.2" font-size="13" font-weight="bold" fill="#111" textLength="28.6" lengthAdjust="spacingAndGlyphs" >0 Gy</text>
<text x="148.0" y="253.0" font-size="13" font-weight="bold" fill="#111" textLength="54.4" lengthAdjust="spacingAndGlyphs" >1 hour PI</text>
<text x="211.8" y="253.0" font-size="13" font-weight="bold" fill="#111" textLength="62.2" lengthAdjust="spacingAndGlyphs" >4 hours PI</text>
<line x1="148.0" y1="258.0" x2="260.6" y2="258.0" stroke="#141414" stroke-width="1.5" />
<text x="193.5" y="272.7" font-size="13" font-weight="bold" fill="#111" textLength="29.0" lengthAdjust="spacingAndGlyphs" >2 Gy</text>
<text x="335.0" y="15.8" font-size="23" font-weight="bold" fill="#111" >B</text>
<line x1="382.6" y1="9.2" x2="382.6" y2="234.2" stroke="#8a8a8a" stroke-width="1" />
<line x1="382.6" y1="234.2" x2="556.5" y2="234.2" stroke="#8a8a8a" stroke-width="1" />
<line x1="380.0" y1="234.2" x2="382.6" y2="234.2" stroke="#8a8a8a" stroke-width="1" />
<text x="374.3" y="235.0" font-size="12" font-weight="bold" fill="#111" text-anchor="end" >0</text>
<line x1="380.0" y1="211.7" x2="382.6" y2="211.7" stroke="#8a8a8a" stroke-width="1" />
<text x="374.3" y="212.5" font-size="12" font-weight="bold" fill="#111" text-anchor="end" >5</text>
<line x1="380.0" y1="189.2" x2="382.6" y2="189.2" stroke="#8a8a8a" stroke-width="1" />
<text x="374.3" y="190.0" font-size="12" font-weight="bold" fill="#111" text-anchor="end" >10</text>
<line x1="380.0" y1="166.7" x2="382.6" y2="166.7" stroke="#8a8a8a" stroke-width="1" />
<text x="374.3" y="167.5" font-size="12" font-weight="bold" fill="#111" text-anchor="end" >15</text>
<line x1="380.0" y1="144.2" x2="382.6" y2="144.2" stroke="#8a8a8a" stroke-width="1" />
<text x="374.3" y="145.0" font-size="12" font-weight="bold" fill="#111" text-anchor="end" >20</text>
<line x1="380.0" y1="121.7" x2="382.6" y2="121.7" stroke="#8a8a8a" stroke-width="1" />
<text x="374.3" y="122.5" font-size="12" font-weight="bold" fill="#111" text-anchor="end" >25</text>
<line x1="380.0" y1="99.2" x2="382.6" y2="99.2" stroke="#8a8a8a" stroke-width="1" />
<text x="374.3" y="100.0" font-size="12" font-weight="bold" fill="#111" text-anchor="end" >30</text>
<line x1="380.0" y1="76.7" x2="382.6" y2="76.7" stroke="#8a8a8a" stroke-width="1" />
<text x="374.3" y="77.5" font-size="12" font-weight="bold" fill="#111" text-anchor="end" >35</text>
<line x1="380.0" y1="54.2" x2="382.6" y2="54.2" stroke="#8a8a8a" stroke-width="1" />
<text x="374.3" y="55.0" font-size="12" font-weight="bold" fill="#111" text-anchor="end" >40</text>
<line x1="380.0" y1="31.7" x2="382.6" y2="31.7" stroke="#8a8a8a" stroke-width="1" />
<text x="374.3" y="32.5" font-size="12" font-weight="bold" fill="#111" text-anchor="end" >45</text>
<line x1="380.0" y1="9.2" x2="382.6" y2="9.2" stroke="#8a8a8a" stroke-width="1" />
<text x="374.3" y="10.0" font-size="12" font-weight="bold" fill="#111" text-anchor="end" >50</text>
<line x1="441.3" y1="234.2" x2="441.3" y2="237.2" stroke="#8a8a8a" stroke-width="1" />
<line x1="500.0" y1="234.2" x2="500.0" y2="237.2" stroke="#8a8a8a" stroke-width="1" />
<line x1="556.4" y1="234.2" x2="556.4" y2="237.2" stroke="#8a8a8a" stroke-width="1" />
<text font-size="16" font-weight="bold" fill="#111" textLength="175.7" lengthAdjust="spacingAndGlyphs" transform="translate(354.8,208.7) rotate(-90)" >Number of P&#160;&#160;H3 nuclei</text>
<rect x="397.0" y="66.6" width="29.7" height="167.6" fill="#0a0a0a" />
<line x1="413.0" y1="46.5" x2="413.0" y2="66.6" stroke="#222" stroke-width="1.2" />
<line x1="411.0" y1="46.5" x2="417.2" y2="46.5" stroke="#222" stroke-width="1.4" />
<rect x="467.2" y="233.2" width="7.4" height="0.9" fill="#333" />
<rect x="514.0" y="195.1" width="28.9" height="39.1" fill="#0a0a0a" />
<line x1="528.8" y1="183.3" x2="528.8" y2="195.1" stroke="#222" stroke-width="1.2" />
<line x1="525.6" y1="183.3" x2="532.5" y2="183.3" stroke="#222" stroke-width="1.4" />
<text x="411.9" y="229.2" font-size="13" fill="#fff" text-anchor="middle"><tspan font-style="italic">n</tspan>=4</text>
<text x="471.3" y="228.5" font-size="13" fill="#222" text-anchor="middle"><tspan font-style="italic">n</tspan>=6</text>
<text x="528.6" y="229.2" font-size="13" fill="#fff" text-anchor="middle"><tspan font-style="italic">n</tspan>=4</text>
<path d="M413,29 V22 H525 V28.5" fill="none" stroke="#1a1a1a" stroke-width="1.3" />
<path d="M413,42.7 V36.4 H469.4 V42.7" fill="none" stroke="#1a1a1a" stroke-width="1.3" />
<path d="M467.4,167.3 V159 H523.9 V167.3" fill="none" stroke="#1a1a1a" stroke-width="1.3" />
<text x="456.0" y="26.3" font-size="21.5" font-weight="bold" fill="#111" textLength="25.2" lengthAdjust="spacingAndGlyphs" >***</text>
<text x="402.0" y="38.5" font-size="1" font-weight="bold" fill="#111" ></text>
<text x="432.3" y="40.2" font-size="21.5" font-weight="bold" fill="#111" textLength="24.8" lengthAdjust="spacingAndGlyphs" >***</text>
<text x="485.7" y="162.6" font-size="21.5" font-weight="bold" fill="#111" textLength="24.8" lengthAdjust="spacingAndGlyphs" >***</text>
<text x="398.3" y="251.2" font-size="13" font-weight="bold" fill="#111" textLength="28.5" lengthAdjust="spacingAndGlyphs" >0 Gy</text>
<text x="441.3" y="251.5" font-size="13" font-weight="bold" fill="#111" textLength="54.5" lengthAdjust="spacingAndGlyphs" >1 hour PI</text>
<text x="504.7" y="251.5" font-size="13" font-weight="bold" fill="#111" textLength="61.2" lengthAdjust="spacingAndGlyphs" >4 hours PI</text>
<line x1="454.4" y1="256.9" x2="540.4" y2="256.9" stroke="#141414" stroke-width="1.5" />
<text x="483.7" y="272.2" font-size="13" font-weight="bold" fill="#111" textLength="29.0" lengthAdjust="spacingAndGlyphs" >2 Gy</text>
<text x="-0.1" y="308.8" font-size="23" font-weight="bold" fill="#111" >C</text>
<line x1="86.0" y1="298.2" x2="322.0" y2="298.2" stroke="#1e1e1e" stroke-width="1.1" />
<line x1="322.0" y1="298.2" x2="322.0" y2="524.6" stroke="#1e1e1e" stroke-width="1.1" />
<line x1="86.0" y1="298.2" x2="86.0" y2="525.1" stroke="#1e1e1e" stroke-width="1.2" />
<line x1="85.5" y1="524.6" x2="323.0" y2="524.6" stroke="#1e1e1e" stroke-width="1.2" />
<line x1="79.4" y1="524.6" x2="86.0" y2="524.6" stroke="#1e1e1e" stroke-width="1.1" />
<text x="68.8" y="528.8" font-size="9.7" fill="#141414" text-anchor="end">10</text>
<text x="69.3" y="522.0" font-size="9.2" fill="#141414">0</text>
<line x1="82.6" y1="507.6" x2="86.0" y2="507.6" stroke="#1e1e1e" stroke-width="0.9" />
<line x1="82.6" y1="497.6" x2="86.0" y2="497.6" stroke="#1e1e1e" stroke-width="0.9" />
<line x1="82.6" y1="490.5" x2="86.0" y2="490.5" stroke="#1e1e1e" stroke-width="0.9" />
<line x1="82.6" y1="485.0" x2="86.0" y2="485.0" stroke="#1e1e1e" stroke-width="0.9" />
<line x1="82.6" y1="480.6" x2="86.0" y2="480.6" stroke="#1e1e1e" stroke-width="0.9" />
<line x1="82.6" y1="476.8" x2="86.0" y2="476.8" stroke="#1e1e1e" stroke-width="0.9" />
<line x1="82.6" y1="473.5" x2="86.0" y2="473.5" stroke="#1e1e1e" stroke-width="0.9" />
<line x1="82.6" y1="470.6" x2="86.0" y2="470.6" stroke="#1e1e1e" stroke-width="0.9" />
<line x1="79.4" y1="468.0" x2="86.0" y2="468.0" stroke="#1e1e1e" stroke-width="1.1" />
<text x="68.8" y="472.2" font-size="9.7" fill="#141414" text-anchor="end">10</text>
<text x="69.3" y="465.4" font-size="9.2" fill="#141414">1</text>
<line x1="82.6" y1="451.0" x2="86.0" y2="451.0" stroke="#1e1e1e" stroke-width="0.9" />
<line x1="82.6" y1="441.0" x2="86.0" y2="441.0" stroke="#1e1e1e" stroke-width="0.9" />
<line x1="82.6" y1="433.9" x2="86.0" y2="433.9" stroke="#1e1e1e" stroke-width="0.9" />
<line x1="82.6" y1="428.4" x2="86.0" y2="428.4" stroke="#1e1e1e" stroke-width="0.9" />
<line x1="82.6" y1="424.0" x2="86.0" y2="424.0" stroke="#1e1e1e" stroke-width="0.9" />
<line x1="82.6" y1="420.2" x2="86.0" y2="420.2" stroke="#1e1e1e" stroke-width="0.9" />
<line x1="82.6" y1="416.9" x2="86.0" y2="416.9" stroke="#1e1e1e" stroke-width="0.9" />
<line x1="82.6" y1="414.0" x2="86.0" y2="414.0" stroke="#1e1e1e" stroke-width="0.9" />
<line x1="79.4" y1="411.4" x2="86.0" y2="411.4" stroke="#1e1e1e" stroke-width="1.1" />
<text x="68.8" y="415.6" font-size="9.7" fill="#141414" text-anchor="end">10</text>
<text x="69.3" y="408.8" font-size="9.2" fill="#141414">2</text>
<line x1="82.6" y1="394.4" x2="86.0" y2="394.4" stroke="#1e1e1e" stroke-width="0.9" />
<line x1="82.6" y1="384.4" x2="86.0" y2="384.4" stroke="#1e1e1e" stroke-width="0.9" />
<line x1="82.6" y1="377.3" x2="86.0" y2="377.3" stroke="#1e1e1e" stroke-width="0.9" />
<line x1="82.6" y1="371.8" x2="86.0" y2="371.8" stroke="#1e1e1e" stroke-width="0.9" />
<line x1="82.6" y1="367.4" x2="86.0" y2="367.4" stroke="#1e1e1e" stroke-width="0.9" />
<line x1="82.6" y1="363.6" x2="86.0" y2="363.6" stroke="#1e1e1e" stroke-width="0.9" />
<line x1="82.6" y1="360.3" x2="86.0" y2="360.3" stroke="#1e1e1e" stroke-width="0.9" />
<line x1="82.6" y1="357.4" x2="86.0" y2="357.4" stroke="#1e1e1e" stroke-width="0.9" />
<line x1="79.4" y1="354.8" x2="86.0" y2="354.8" stroke="#1e1e1e" stroke-width="1.1" />
<text x="68.8" y="359.0" font-size="9.7" fill="#141414" text-anchor="end">10</text>
<text x="69.3" y="352.2" font-size="9.2" fill="#141414">3</text>
<line x1="82.6" y1="337.8" x2="86.0" y2="337.8" stroke="#1e1e1e" stroke-width="0.9" />
<line x1="82.6" y1="327.8" x2="86.0" y2="327.8" stroke="#1e1e1e" stroke-width="0.9" />
<line x1="82.6" y1="320.7" x2="86.0" y2="320.7" stroke="#1e1e1e" stroke-width="0.9" />
<line x1="82.6" y1="315.2" x2="86.0" y2="315.2" stroke="#1e1e1e" stroke-width="0.9" />
<line x1="82.6" y1="310.8" x2="86.0" y2="310.8" stroke="#1e1e1e" stroke-width="0.9" />
<line x1="82.6" y1="307.0" x2="86.0" y2="307.0" stroke="#1e1e1e" stroke-width="0.9" />
<line x1="82.6" y1="303.7" x2="86.0" y2="303.7" stroke="#1e1e1e" stroke-width="0.9" />
<line x1="82.6" y1="300.8" x2="86.0" y2="300.8" stroke="#1e1e1e" stroke-width="0.9" />
<line x1="79.4" y1="298.2" x2="86.0" y2="298.2" stroke="#1e1e1e" stroke-width="1.1" />
<text x="68.8" y="302.4" font-size="9.7" fill="#141414" text-anchor="end">10</text>
<text x="69.3" y="295.6" font-size="9.2" fill="#141414">4</text>
<line x1="86.0" y1="524.6" x2="86.0" y2="530.2" stroke="#1e1e1e" stroke-width="1.1" />
<line x1="97.5" y1="524.6" x2="97.5" y2="527.6" stroke="#1e1e1e" stroke-width="0.8" />
<line x1="109.1" y1="524.6" x2="109.1" y2="527.6" stroke="#1e1e1e" stroke-width="0.8" />
<line x1="120.7" y1="524.6" x2="120.7" y2="527.6" stroke="#1e1e1e" stroke-width="0.8" />
<line x1="132.2" y1="524.6" x2="132.2" y2="530.2" stroke="#1e1e1e" stroke-width="1.1" />
<text x="127.9" y="544.1" font-size="9.4" fill="#141414" text-anchor="middle">200</text>
<line x1="143.8" y1="524.6" x2="143.8" y2="527.6" stroke="#1e1e1e" stroke-width="0.8" />
<line x1="155.3" y1="524.6" x2="155.3" y2="527.6" stroke="#1e1e1e" stroke-width="0.8" />
<line x1="166.9" y1="524.6" x2="166.9" y2="527.6" stroke="#1e1e1e" stroke-width="0.8" />
<line x1="178.4" y1="524.6" x2="178.4" y2="530.2" stroke="#1e1e1e" stroke-width="1.1" />
<text x="174.1" y="544.1" font-size="9.4" fill="#141414" text-anchor="middle">400</text>
<line x1="189.9" y1="524.6" x2="189.9" y2="527.6" stroke="#1e1e1e" stroke-width="0.8" />
<line x1="201.5" y1="524.6" x2="201.5" y2="527.6" stroke="#1e1e1e" stroke-width="0.8" />
<line x1="213.1" y1="524.6" x2="213.1" y2="527.6" stroke="#1e1e1e" stroke-width="0.8" />
<line x1="224.6" y1="524.6" x2="224.6" y2="530.2" stroke="#1e1e1e" stroke-width="1.1" />
<text x="220.3" y="544.1" font-size="9.4" fill="#141414" text-anchor="middle">600</text>
<line x1="236.2" y1="524.6" x2="236.2" y2="527.6" stroke="#1e1e1e" stroke-width="0.8" />
<line x1="247.7" y1="524.6" x2="247.7" y2="527.6" stroke="#1e1e1e" stroke-width="0.8" />
<line x1="259.2" y1="524.6" x2="259.2" y2="527.6" stroke="#1e1e1e" stroke-width="0.8" />
<line x1="270.8" y1="524.6" x2="270.8" y2="530.2" stroke="#1e1e1e" stroke-width="1.1" />
<text x="266.5" y="544.1" font-size="9.4" fill="#141414" text-anchor="middle">800</text>
<line x1="282.4" y1="524.6" x2="282.4" y2="527.6" stroke="#1e1e1e" stroke-width="0.8" />
<line x1="293.9" y1="524.6" x2="293.9" y2="527.6" stroke="#1e1e1e" stroke-width="0.8" />
<line x1="305.5" y1="524.6" x2="305.5" y2="527.6" stroke="#1e1e1e" stroke-width="0.8" />
<line x1="317.0" y1="524.6" x2="317.0" y2="530.2" stroke="#1e1e1e" stroke-width="1.1" />
<text x="312.7" y="544.1" font-size="9.4" fill="#141414" text-anchor="middle">1000</text>
<line x1="149.4" y1="298.2" x2="149.4" y2="524.6" stroke="#1e1e1e" stroke-width="1.1" />
<line x1="149.4" y1="471.9" x2="322.0" y2="471.9" stroke="#1e1e1e" stroke-width="1.1" />
<rect x="147.1" y="297.4" width="4.6" height="2.2" fill="#333" />
<rect x="320.8" y="469.3" width="2.2" height="5.2" fill="#333" />
<ellipse cx="140.2" cy="487.2" rx="7.6" ry="15.6" fill="url(#cl)" transform="rotate(5 140.2 487.2)"/>
<path d="M142.5,502.9h0.75v0.75h-0.75zM148.5,489.3h0.75v0.75h-0.75zM130.7,491.5h0.75v0.75h-0.75zM140.4,464.9h0.75v0.75h-0.75zM131.1,496.3h0.75v0.75h-0.75zM130.1,489.0h0.75v0.75h-0.75zM151.9,489.1h0.75v0.75h-0.75zM130.4,488.7h0.75v0.75h-0.75zM149.0,480.9h0.75v0.75h-0.75zM146.4,473.7h0.75v0.75h-0.75zM140.7,468.2h0.75v0.75h-0.75zM145.2,496.7h0.75v0.75h-0.75zM147.8,476.8h0.75v0.75h-0.75zM146.7,474.0h0.75v0.75h-0.75zM143.0,500.8h0.75v0.75h-0.75zM134.8,472.4h0.75v0.75h-0.75zM148.6,489.4h0.75v0.75h-0.75zM146.2,500.1h0.75v0.75h-0.75zM136.0,500.7h0.75v0.75h-0.75zM143.5,501.1h0.75v0.75h-0.75zM142.6,467.0h0.75v0.75h-0.75zM146.2,468.3h0.75v0.75h-0.75zM133.6,502.5h0.75v0.75h-0.75zM134.7,504.4h0.75v0.75h-0.75zM145.3,497.4h0.75v0.75h-0.75zM146.3,495.2h0.75v0.75h-0.75zM139.7,469.8h0.75v0.75h-0.75zM134.7,478.1h0.75v0.75h-0.75zM148.8,493.9h0.75v0.75h-0.75zM130.6,489.6h0.75v0.75h-0.75zM131.9,497.6h0.75v0.75h-0.75zM146.5,472.9h0.75v0.75h-0.75zM140.0,470.2h0.75v0.75h-0.75zM134.3,477.0h0.75v0.75h-0.75zM131.3,480.7h0.75v0.75h-0.75zM148.4,482.1h0.75v0.75h-0.75zM150.9,485.4h0.75v0.75h-0.75zM134.4,501.7h0.75v0.75h-0.75zM139.3,503.3h0.75v0.75h-0.75zM144.6,469.0h0.75v0.75h-0.75zM147.0,493.4h0.75v0.75h-0.75zM133.7,499.5h0.75v0.75h-0.75zM146.9,494.1h0.75v0.75h-0.75zM135.5,501.7h0.75v0.75h-0.75zM147.1,494.3h0.75v0.75h-0.75zM137.0,502.0h0.75v0.75h-0.75zM144.1,469.2h0.75v0.75h-0.75zM147.6,478.3h0.75v0.75h-0.75zM144.2,469.6h0.75v0.75h-0.75zM133.9,481.6h0.75v0.75h-0.75zM134.8,475.7h0.75v0.75h-0.75zM134.2,498.9h0.75v0.75h-0.75zM143.0,502.0h0.75v0.75h-0.75zM132.5,493.2h0.75v0.75h-0.75zM140.7,472.1h0.75v0.75h-0.75zM147.1,493.4h0.75v0.75h-0.75zM147.8,489.2h0.75v0.75h-0.75zM142.7,470.9h0.75v0.75h-0.75zM134.7,508.9h0.75v0.75h-0.75zM139.0,469.0h0.75v0.75h-0.75zM141.2,464.3h0.75v0.75h-0.75zM147.8,480.9h0.75v0.75h-0.75zM132.9,496.5h0.75v0.75h-0.75zM133.5,500.7h0.75v0.75h-0.75zM144.2,472.6h0.75v0.75h-0.75zM142.2,472.4h0.75v0.75h-0.75zM137.0,474.9h0.75v0.75h-0.75zM145.1,470.5h0.75v0.75h-0.75zM134.6,469.3h0.75v0.75h-0.75zM148.3,483.0h0.75v0.75h-0.75zM133.0,506.2h0.75v0.75h-0.75zM141.1,471.0h0.75v0.75h-0.75zM148.4,482.2h0.75v0.75h-0.75zM131.5,510.0h0.75v0.75h-0.75zM134.6,476.0h0.75v0.75h-0.75zM133.8,499.2h0.75v0.75h-0.75zM131.7,491.2h0.75v0.75h-0.75zM146.6,494.4h0.75v0.75h-0.75zM149.6,489.5h0.75v0.75h-0.75zM142.4,469.2h0.75v0.75h-0.75zM130.4,492.9h0.75v0.75h-0.75zM135.6,476.3h0.75v0.75h-0.75zM141.3,467.9h0.75v0.75h-0.75zM130.9,496.7h0.75v0.75h-0.75zM133.8,499.0h0.75v0.75h-0.75zM143.6,505.2h0.75v0.75h-0.75zM143.7,472.2h0.75v0.75h-0.75zM146.2,471.2h0.75v0.75h-0.75zM140.9,470.5h0.75v0.75h-0.75zM147.6,474.7h0.75v0.75h-0.75zM135.6,471.0h0.75v0.75h-0.75zM138.8,471.2h0.75v0.75h-0.75zM142.0,505.8h0.75v0.75h-0.75zM142.9,468.5h0.75v0.75h-0.75zM133.9,503.8h0.75v0.75h-0.75zM132.7,492.9h0.75v0.75h-0.75zM135.5,502.0h0.75v0.75h-0.75zM133.4,480.5h0.75v0.75h-0.75zM136.8,472.7h0.75v0.75h-0.75zM132.5,478.5h0.75v0.75h-0.75zM134.8,504.3h0.75v0.75h-0.75zM140.4,504.7h0.75v0.75h-0.75zM146.5,472.6h0.75v0.75h-0.75zM136.0,503.5h0.75v0.75h-0.75zM130.3,494.7h0.75v0.75h-0.75zM146.3,496.1h0.75v0.75h-0.75zM136.2,502.8h0.75v0.75h-0.75zM147.5,497.0h0.75v0.75h-0.75zM134.8,499.8h0.75v0.75h-0.75zM139.4,466.6h0.75v0.75h-0.75zM149.7,484.2h0.75v0.75h-0.75zM135.8,476.3h0.75v0.75h-0.75zM137.3,506.4h0.75v0.75h-0.75zM136.7,472.7h0.75v0.75h-0.75zM135.1,474.5h0.75v0.75h-0.75zM146.5,469.1h0.75v0.75h-0.75zM132.6,483.8h0.75v0.75h-0.75zM148.1,478.4h0.75v0.75h-0.75zM132.6,495.3h0.75v0.75h-0.75zM137.2,501.8h0.75v0.75h-0.75zM130.2,484.8h0.75v0.75h-0.75zM149.6,478.1h0.75v0.75h-0.75zM140.3,470.4h0.75v0.75h-0.75zM130.8,487.9h0.75v0.75h-0.75zM130.8,487.5h0.75v0.75h-0.75zM136.6,474.3h0.75v0.75h-0.75zM132.1,492.4h0.75v0.75h-0.75zM129.4,479.7h0.75v0.75h-0.75zM149.2,484.0h0.75v0.75h-0.75zM148.2,480.5h0.75v0.75h-0.75zM146.0,473.1h0.75v0.75h-0.75zM146.2,502.2h0.75v0.75h-0.75zM133.5,481.9h0.75v0.75h-0.75zM132.8,500.9h0.75v0.75h-0.75zM148.2,478.3h0.75v0.75h-0.75zM134.7,505.4h0.75v0.75h-0.75zM151.4,477.6h0.75v0.75h-0.75zM138.9,511.5h0.75v0.75h-0.75zM131.9,495.5h0.75v0.75h-0.75zM149.7,482.5h0.75v0.75h-0.75zM134.7,478.6h0.75v0.75h-0.75zM148.9,479.9h0.75v0.75h-0.75zM133.0,483.5h0.75v0.75h-0.75zM139.8,508.0h0.75v0.75h-0.75zM139.7,468.8h0.75v0.75h-0.75zM131.0,484.6h0.75v0.75h-0.75zM131.2,486.6h0.75v0.75h-0.75zM146.2,504.6h0.75v0.75h-0.75zM144.4,501.3h0.75v0.75h-0.75zM150.4,478.3h0.75v0.75h-0.75zM148.2,482.9h0.75v0.75h-0.75zM148.4,483.8h0.75v0.75h-0.75zM133.6,500.6h0.75v0.75h-0.75zM148.6,492.5h0.75v0.75h-0.75zM133.3,482.0h0.75v0.75h-0.75zM140.9,471.4h0.75v0.75h-0.75zM135.6,470.9h0.75v0.75h-0.75zM149.2,493.8h0.75v0.75h-0.75zM139.6,503.4h0.75v0.75h-0.75zM139.4,471.2h0.75v0.75h-0.75zM147.9,493.2h0.75v0.75h-0.75zM147.5,470.5h0.75v0.75h-0.75zM149.3,486.0h0.75v0.75h-0.75zM138.8,503.6h0.75v0.75h-0.75zM147.7,492.8h0.75v0.75h-0.75zM148.3,485.2h0.75v0.75h-0.75zM142.7,470.0h0.75v0.75h-0.75zM131.2,492.2h0.75v0.75h-0.75zM132.6,489.2h0.75v0.75h-0.75zM150.7,476.0h0.75v0.75h-0.75zM134.4,499.3h0.75v0.75h-0.75zM148.0,493.0h0.75v0.75h-0.75zM134.2,474.7h0.75v0.75h-0.75zM135.6,502.7h0.75v0.75h-0.75zM137.5,468.0h0.75v0.75h-0.75zM149.1,481.5h0.75v0.75h-0.75zM133.6,500.3h0.75v0.75h-0.75zM138.7,506.3h0.75v0.75h-0.75zM148.1,493.0h0.75v0.75h-0.75zM147.7,467.1h0.75v0.75h-0.75zM148.1,496.6h0.75v0.75h-0.75zM148.1,482.5h0.75v0.75h-0.75zM139.3,469.4h0.75v0.75h-0.75zM150.1,476.1h0.75v0.75h-0.75zM145.2,470.8h0.75v0.75h-0.75zM141.7,501.9h0.75v0.75h-0.75zM142.8,503.3h0.75v0.75h-0.75zM148.4,483.3h0.75v0.75h-0.75zM136.7,502.8h0.75v0.75h-0.75zM144.6,467.3h0.75v0.75h-0.75zM142.8,501.7h0.75v0.75h-0.75zM136.0,503.9h0.75v0.75h-0.75zM136.7,466.6h0.75v0.75h-0.75zM138.8,503.6h0.75v0.75h-0.75zM142.5,463.0h0.75v0.75h-0.75zM146.9,476.3h0.75v0.75h-0.75zM135.7,501.1h0.75v0.75h-0.75zM136.6,501.7h0.75v0.75h-0.75zM148.7,490.3h0.75v0.75h-0.75zM131.9,495.2h0.75v0.75h-0.75zM147.0,493.6h0.75v0.75h-0.75zM132.1,478.1h0.75v0.75h-0.75zM138.2,469.9h0.75v0.75h-0.75zM133.6,480.7h0.75v0.75h-0.75zM134.3,476.7h0.75v0.75h-0.75zM133.2,475.5h0.75v0.75h-0.75zM151.0,473.8h0.75v0.75h-0.75zM133.0,484.2h0.75v0.75h-0.75zM146.6,474.6h0.75v0.75h-0.75zM134.6,499.4h0.75v0.75h-0.75zM144.0,499.1h0.75v0.75h-0.75zM140.2,504.8h0.75v0.75h-0.75zM144.5,468.4h0.75v0.75h-0.75zM139.7,505.4h0.75v0.75h-0.75zM143.0,470.0h0.75v0.75h-0.75zM147.7,477.9h0.75v0.75h-0.75zM133.3,483.0h0.75v0.75h-0.75zM144.4,500.7h0.75v0.75h-0.75zM134.4,473.3h0.75v0.75h-0.75zM133.0,498.9h0.75v0.75h-0.75zM148.3,477.9h0.75v0.75h-0.75zM140.1,505.8h0.75v0.75h-0.75zM139.5,504.1h0.75v0.75h-0.75zM129.8,489.5h0.75v0.75h-0.75zM132.0,487.9h0.75v0.75h-0.75zM141.9,501.5h0.75v0.75h-0.75zM134.0,497.8h0.75v0.75h-0.75zM137.2,471.7h0.75v0.75h-0.75zM131.4,490.4h0.75v0.75h-0.75zM148.6,494.3h0.75v0.75h-0.75zM132.7,495.1h0.75v0.75h-0.75zM132.0,495.8h0.75v0.75h-0.75zM132.5,492.2h0.75v0.75h-0.75zM147.4,489.4h0.75v0.75h-0.75zM136.6,508.9h0.75v0.75h-0.75zM149.7,481.4h0.75v0.75h-0.75zM146.9,476.8h0.75v0.75h-0.75zM150.7,479.5h0.75v0.75h-0.75zM142.4,468.5h0.75v0.75h-0.75zM132.8,493.3h0.75v0.75h-0.75zM148.3,481.0h0.75v0.75h-0.75zM136.6,501.2h0.75v0.75h-0.75zM134.6,478.8h0.75v0.75h-0.75zM133.9,478.5h0.75v0.75h-0.75zM129.8,494.8h0.75v0.75h-0.75zM138.6,504.3h0.75v0.75h-0.75zM135.3,500.5h0.75v0.75h-0.75zM136.6,475.7h0.75v0.75h-0.75zM136.9,503.7h0.75v0.75h-0.75zM134.7,499.7h0.75v0.75h-0.75zM131.6,505.4h0.75v0.75h-0.75zM134.9,502.5h0.75v0.75h-0.75zM145.8,471.5h0.75v0.75h-0.75zM131.2,481.6h0.75v0.75h-0.75zM148.0,489.1h0.75v0.75h-0.75zM141.5,467.4h0.75v0.75h-0.75zM132.3,487.0h0.75v0.75h-0.75zM143.5,469.2h0.75v0.75h-0.75zM129.4,487.9h0.75v0.75h-0.75zM135.9,501.9h0.75v0.75h-0.75zM146.0,472.8h0.75v0.75h-0.75zM142.8,502.5h0.75v0.75h-0.75zM136.2,509.6h0.75v0.75h-0.75zM131.0,489.0h0.75v0.75h-0.75zM147.1,473.6h0.75v0.75h-0.75zM145.3,497.9h0.75v0.75h-0.75zM132.4,506.7h0.75v0.75h-0.75zM133.2,484.2h0.75v0.75h-0.75zM137.6,470.0h0.75v0.75h-0.75zM145.8,497.3h0.75v0.75h-0.75zM141.8,472.1h0.75v0.75h-0.75zM133.2,481.6h0.75v0.75h-0.75zM131.5,485.3h0.75v0.75h-0.75zM133.1,498.4h0.75v0.75h-0.75zM135.2,503.7h0.75v0.75h-0.75zM146.9,477.6h0.75v0.75h-0.75zM149.9,486.4h0.75v0.75h-0.75zM143.3,506.2h0.75v0.75h-0.75zM140.9,509.3h0.75v0.75h-0.75zM137.4,473.2h0.75v0.75h-0.75zM143.0,466.7h0.75v0.75h-0.75zM144.8,473.6h0.75v0.75h-0.75zM136.0,503.3h0.75v0.75h-0.75zM140.8,501.7h0.75v0.75h-0.75zM149.0,496.7h0.75v0.75h-0.75zM131.3,502.0h0.75v0.75h-0.75zM133.0,480.8h0.75v0.75h-0.75zM146.6,476.1h0.75v0.75h-0.75zM148.2,490.7h0.75v0.75h-0.75zM146.0,495.5h0.75v0.75h-0.75zM136.8,474.1h0.75v0.75h-0.75zM137.4,471.5h0.75v0.75h-0.75zM146.6,502.6h0.75v0.75h-0.75zM146.8,497.6h0.75v0.75h-0.75zM147.9,490.0h0.75v0.75h-0.75zM136.3,473.2h0.75v0.75h-0.75zM136.9,504.8h0.75v0.75h-0.75zM139.0,507.4h0.75v0.75h-0.75zM136.7,470.1h0.75v0.75h-0.75zM145.6,499.5h0.75v0.75h-0.75zM132.7,483.5h0.75v0.75h-0.75zM146.6,496.5h0.75v0.75h-0.75zM147.1,493.8h0.75v0.75h-0.75zM137.2,471.4h0.75v0.75h-0.75zM143.7,471.4h0.75v0.75h-0.75zM132.1,491.0h0.75v0.75h-0.75zM131.4,498.2h0.75v0.75h-0.75zM138.8,465.9h0.75v0.75h-0.75zM147.0,495.0h0.75v0.75h-0.75zM137.2,504.1h0.75v0.75h-0.75zM147.3,478.7h0.75v0.75h-0.75zM150.3,480.9h0.75v0.75h-0.75zM148.4,491.4h0.75v0.75h-0.75zM148.2,487.5h0.75v0.75h-0.75zM142.5,471.4h0.75v0.75h-0.75zM132.7,491.6h0.75v0.75h-0.75zM142.5,469.2h0.75v0.75h-0.75zM136.6,475.4h0.75v0.75h-0.75zM131.5,492.7h0.75v0.75h-0.75zM139.6,472.4h0.75v0.75h-0.75zM134.7,477.4h0.75v0.75h-0.75zM148.7,488.9h0.75v0.75h-0.75zM129.8,491.5h0.75v0.75h-0.75zM147.5,475.7h0.75v0.75h-0.75zM142.9,472.5h0.75v0.75h-0.75zM136.7,473.2h0.75v0.75h-0.75zM135.6,476.7h0.75v0.75h-0.75zM145.2,471.1h0.75v0.75h-0.75zM136.8,502.2h0.75v0.75h-0.75zM130.8,500.1h0.75v0.75h-0.75zM135.6,474.9h0.75v0.75h-0.75zM145.0,472.5h0.75v0.75h-0.75zM135.0,502.9h0.75v0.75h-0.75zM143.0,501.6h0.75v0.75h-0.75zM137.3,505.5h0.75v0.75h-0.75zM132.1,493.3h0.75v0.75h-0.75zM146.6,497.6h0.75v0.75h-0.75zM135.6,475.3h0.75v0.75h-0.75zM147.2,477.9h0.75v0.75h-0.75zM135.0,499.7h0.75v0.75h-0.75zM150.1,481.9h0.75v0.75h-0.75zM129.8,497.6h0.75v0.75h-0.75zM133.2,483.9h0.75v0.75h-0.75zM147.9,485.0h0.75v0.75h-0.75zM139.6,471.5h0.75v0.75h-0.75zM132.9,486.7h0.75v0.75h-0.75zM142.5,465.5h0.75v0.75h-0.75zM131.1,490.2h0.75v0.75h-0.75zM140.2,471.0h0.75v0.75h-0.75zM140.2,505.2h0.75v0.75h-0.75zM146.9,494.9h0.75v0.75h-0.75zM133.0,475.4h0.75v0.75h-0.75zM132.1,484.7h0.75v0.75h-0.75zM132.0,491.2h0.75v0.75h-0.75zM146.7,501.4h0.75v0.75h-0.75zM148.1,480.8h0.75v0.75h-0.75zM145.2,497.3h0.75v0.75h-0.75zM148.5,483.9h0.75v0.75h-0.75zM135.5,501.8h0.75v0.75h-0.75zM136.9,504.5h0.75v0.75h-0.75zM148.5,481.1h0.75v0.75h-0.75zM147.8,483.5h0.75v0.75h-0.75zM139.0,470.6h0.75v0.75h-0.75zM150.3,481.6h0.75v0.75h-0.75zM143.2,505.7h0.75v0.75h-0.75zM147.9,471.4h0.75v0.75h-0.75zM134.9,475.6h0.75v0.75h-0.75zM136.7,501.9h0.75v0.75h-0.75zM134.0,477.4h0.75v0.75h-0.75zM146.1,498.6h0.75v0.75h-0.75zM144.0,470.5h0.75v0.75h-0.75zM135.5,472.2h0.75v0.75h-0.75zM146.3,498.6h0.75v0.75h-0.75zM140.3,503.4h0.75v0.75h-0.75zM136.0,505.9h0.75v0.75h-0.75zM131.0,490.2h0.75v0.75h-0.75zM139.6,509.3h0.75v0.75h-0.75zM136.0,504.2h0.75v0.75h-0.75zM130.2,480.1h0.75v0.75h-0.75zM144.7,502.9h0.75v0.75h-0.75zM142.4,465.6h0.75v0.75h-0.75zM132.4,492.0h0.75v0.75h-0.75zM133.0,495.6h0.75v0.75h-0.75zM133.6,480.0h0.75v0.75h-0.75zM144.4,505.1h0.75v0.75h-0.75zM147.0,477.5h0.75v0.75h-0.75zM145.9,499.2h0.75v0.75h-0.75zM132.7,482.4h0.75v0.75h-0.75zM149.7,483.1h0.75v0.75h-0.75zM145.9,504.6h0.75v0.75h-0.75zM138.6,466.7h0.75v0.75h-0.75zM150.9,483.9h0.75v0.75h-0.75zM148.8,486.8h0.75v0.75h-0.75zM134.0,501.1h0.75v0.75h-0.75zM135.6,475.7h0.75v0.75h-0.75zM149.1,480.9h0.75v0.75h-0.75zM134.8,474.0h0.75v0.75h-0.75zM147.3,474.8h0.75v0.75h-0.75zM138.6,467.5h0.75v0.75h-0.75zM148.6,491.3h0.75v0.75h-0.75zM134.2,501.0h0.75v0.75h-0.75zM148.3,476.0h0.75v0.75h-0.75zM132.3,490.2h0.75v0.75h-0.75zM131.2,494.5h0.75v0.75h-0.75zM135.2,505.9h0.75v0.75h-0.75zM143.3,500.7h0.75v0.75h-0.75zM137.4,472.3h0.75v0.75h-0.75zM133.0,497.0h0.75v0.75h-0.75zM148.0,475.0h0.75v0.75h-0.75zM147.5,491.5h0.75v0.75h-0.75zM146.7,476.0h0.75v0.75h-0.75zM146.8,497.1h0.75v0.75h-0.75zM145.8,470.8h0.75v0.75h-0.75zM129.5,492.7h0.75v0.75h-0.75zM141.2,470.9h0.75v0.75h-0.75zM132.3,492.0h0.75v0.75h-0.75zM143.2,500.0h0.75v0.75h-0.75zM149.0,481.6h0.75v0.75h-0.75zM135.6,472.4h0.75v0.75h-0.75zM140.6,503.0h0.75v0.75h-0.75zM133.6,476.7h0.75v0.75h-0.75zM140.8,502.3h0.75v0.75h-0.75zM132.5,496.8h0.75v0.75h-0.75zM132.6,475.4h0.75v0.75h-0.75zM134.9,476.9h0.75v0.75h-0.75zM145.2,496.7h0.75v0.75h-0.75zM141.9,504.4h0.75v0.75h-0.75zM131.7,491.6h0.75v0.75h-0.75zM132.5,485.6h0.75v0.75h-0.75zM146.0,475.4h0.75v0.75h-0.75zM133.3,479.2h0.75v0.75h-0.75zM145.5,469.1h0.75v0.75h-0.75zM133.0,500.1h0.75v0.75h-0.75zM142.1,503.5h0.75v0.75h-0.75zM137.4,502.2h0.75v0.75h-0.75zM148.0,489.7h0.75v0.75h-0.75zM134.1,498.8h0.75v0.75h-0.75zM135.2,472.9h0.75v0.75h-0.75zM146.0,473.2h0.75v0.75h-0.75zM139.6,501.9h0.75v0.75h-0.75zM139.4,472.0h0.75v0.75h-0.75zM141.9,469.5h0.75v0.75h-0.75zM138.6,471.3h0.75v0.75h-0.75zM148.0,483.7h0.75v0.75h-0.75zM133.3,478.8h0.75v0.75h-0.75zM130.6,493.9h0.75v0.75h-0.75zM131.5,482.9h0.75v0.75h-0.75zM148.4,487.7h0.75v0.75h-0.75zM150.0,488.0h0.75v0.75h-0.75zM131.2,487.9h0.75v0.75h-0.75zM133.1,499.0h0.75v0.75h-0.75zM144.6,499.7h0.75v0.75h-0.75zM133.3,501.7h0.75v0.75h-0.75zM135.5,472.2h0.75v0.75h-0.75zM132.4,484.9h0.75v0.75h-0.75zM133.0,496.8h0.75v0.75h-0.75zM142.8,470.5h0.75v0.75h-0.75zM147.8,492.8h0.75v0.75h-0.75zM146.7,477.4h0.75v0.75h-0.75zM138.1,473.3h0.75v0.75h-0.75zM131.8,495.7h0.75v0.75h-0.75zM138.6,471.2h0.75v0.75h-0.75zM149.5,480.2h0.75v0.75h-0.75zM136.9,473.9h0.75v0.75h-0.75zM136.7,468.7h0.75v0.75h-0.75zM139.2,472.3h0.75v0.75h-0.75zM148.1,478.9h0.75v0.75h-0.75zM147.5,476.6h0.75v0.75h-0.75zM136.9,505.5h0.75v0.75h-0.75zM147.4,489.3h0.75v0.75h-0.75zM137.6,501.8h0.75v0.75h-0.75zM133.1,500.8h0.75v0.75h-0.75zM139.0,502.3h0.75v0.75h-0.75zM131.3,491.9h0.75v0.75h-0.75zM149.4,480.2h0.75v0.75h-0.75zM141.9,502.2h0.75v0.75h-0.75zM133.4,497.9h0.75v0.75h-0.75zM146.7,469.9h0.75v0.75h-0.75zM145.5,501.4h0.75v0.75h-0.75zM133.8,501.0h0.75v0.75h-0.75zM133.5,482.5h0.75v0.75h-0.75zM143.1,467.8h0.75v0.75h-0.75zM147.4,473.3h0.75v0.75h-0.75zM138.4,503.9h0.75v0.75h-0.75zM149.2,481.9h0.75v0.75h-0.75zM129.2,496.1h0.75v0.75h-0.75zM144.5,498.7h0.75v0.75h-0.75zM144.1,503.8h0.75v0.75h-0.75zM131.8,493.7h0.75v0.75h-0.75zM144.6,472.3h0.75v0.75h-0.75zM147.0,494.1h0.75v0.75h-0.75zM140.4,505.7h0.75v0.75h-0.75zM144.5,470.6h0.75v0.75h-0.75zM144.9,473.2h0.75v0.75h-0.75zM141.3,502.4h0.75v0.75h-0.75zM148.6,493.8h0.75v0.75h-0.75zM136.9,474.4h0.75v0.75h-0.75zM144.9,466.9h0.75v0.75h-0.75zM146.9,491.8h0.75v0.75h-0.75zM132.3,484.9h0.75v0.75h-0.75zM144.7,501.4h0.75v0.75h-0.75zM134.8,478.1h0.75v0.75h-0.75zM146.6,500.1h0.75v0.75h-0.75zM144.5,498.8h0.75v0.75h-0.75zM133.2,483.4h0.75v0.75h-0.75zM147.7,482.3h0.75v0.75h-0.75zM148.9,490.5h0.75v0.75h-0.75zM146.1,496.9h0.75v0.75h-0.75zM141.4,504.9h0.75v0.75h-0.75zM144.7,472.5h0.75v0.75h-0.75zM139.1,505.0h0.75v0.75h-0.75zM137.4,504.9h0.75v0.75h-0.75zM132.7,493.8h0.75v0.75h-0.75zM146.9,473.5h0.75v0.75h-0.75zM136.6,506.3h0.75v0.75h-0.75zM132.6,489.9h0.75v0.75h-0.75zM131.8,489.8h0.75v0.75h-0.75zM131.7,487.2h0.75v0.75h-0.75zM131.6,492.9h0.75v0.75h-0.75zM144.1,472.8h0.75v0.75h-0.75zM141.2,501.3h0.75v0.75h-0.75zM132.1,486.8h0.75v0.75h-0.75zM144.7,499.3h0.75v0.75h-0.75zM146.9,475.4h0.75v0.75h-0.75zM130.9,495.9h0.75v0.75h-0.75zM150.9,486.9h0.75v0.75h-0.75zM137.2,472.9h0.75v0.75h-0.75zM141.1,502.0h0.75v0.75h-0.75zM151.4,476.7h0.75v0.75h-0.75zM135.9,505.7h0.75v0.75h-0.75zM136.4,475.9h0.75v0.75h-0.75zM142.5,470.7h0.75v0.75h-0.75zM146.4,498.0h0.75v0.75h-0.75zM142.0,501.0h0.75v0.75h-0.75zM130.0,496.5h0.75v0.75h-0.75zM132.1,503.6h0.75v0.75h-0.75zM135.5,502.5h0.75v0.75h-0.75zM137.8,503.0h0.75v0.75h-0.75zM134.2,499.0h0.75v0.75h-0.75zM149.9,485.0h0.75v0.75h-0.75zM131.4,491.7h0.75v0.75h-0.75zM131.0,492.0h0.75v0.75h-0.75zM138.8,502.6h0.75v0.75h-0.75zM142.0,503.7h0.75v0.75h-0.75zM138.1,505.9h0.75v0.75h-0.75zM147.1,476.8h0.75v0.75h-0.75zM147.1,476.8h0.75v0.75h-0.75zM142.6,500.3h0.75v0.75h-0.75zM133.2,496.6h0.75v0.75h-0.75zM133.2,478.6h0.75v0.75h-0.75zM132.9,481.8h0.75v0.75h-0.75zM141.5,506.5h0.75v0.75h-0.75zM148.8,494.8h0.75v0.75h-0.75zM143.9,471.8h0.75v0.75h-0.75zM144.5,498.5h0.75v0.75h-0.75zM132.8,497.0h0.75v0.75h-0.75zM142.3,471.1h0.75v0.75h-0.75zM137.4,465.1h0.75v0.75h-0.75zM132.7,495.9h0.75v0.75h-0.75zM144.1,471.5h0.75v0.75h-0.75zM148.5,486.5h0.75v0.75h-0.75zM131.3,489.4h0.75v0.75h-0.75zM150.4,471.6h0.75v0.75h-0.75zM130.9,484.7h0.75v0.75h-0.75zM133.1,497.7h0.75v0.75h-0.75zM149.7,486.0h0.75v0.75h-0.75zM143.5,466.5h0.75v0.75h-0.75zM144.1,498.5h0.75v0.75h-0.75zM132.6,483.0h0.75v0.75h-0.75zM133.2,498.6h0.75v0.75h-0.75zM132.4,487.6h0.75v0.75h-0.75zM142.9,462.2h0.75v0.75h-0.75zM134.6,501.2h0.75v0.75h-0.75zM135.0,478.4h0.75v0.75h-0.75zM139.3,503.4h0.75v0.75h-0.75zM131.0,493.7h0.75v0.75h-0.75zM147.6,476.4h0.75v0.75h-0.75zM141.2,467.6h0.75v0.75h-0.75zM134.1,498.9h0.75v0.75h-0.75zM137.5,502.1h0.75v0.75h-0.75zM134.1,476.6h0.75v0.75h-0.75zM130.6,490.1h0.75v0.75h-0.75zM150.8,485.6h0.75v0.75h-0.75zM136.3,503.4h0.75v0.75h-0.75zM147.9,479.6h0.75v0.75h-0.75zM139.6,502.3h0.75v0.75h-0.75zM144.5,470.5h0.75v0.75h-0.75zM146.6,475.3h0.75v0.75h-0.75zM142.2,505.4h0.75v0.75h-0.75zM132.3,492.7h0.75v0.75h-0.75zM139.7,472.2h0.75v0.75h-0.75zM132.9,495.3h0.75v0.75h-0.75zM147.3,500.5h0.75v0.75h-0.75zM143.0,467.8h0.75v0.75h-0.75zM131.0,488.7h0.75v0.75h-0.75zM142.4,504.2h0.75v0.75h-0.75zM149.0,493.4h0.75v0.75h-0.75zM131.4,484.8h0.75v0.75h-0.75zM136.9,501.9h0.75v0.75h-0.75zM144.9,471.4h0.75v0.75h-0.75zM144.7,506.0h0.75v0.75h-0.75zM148.3,488.9h0.75v0.75h-0.75zM147.5,478.6h0.75v0.75h-0.75zM130.3,497.4h0.75v0.75h-0.75zM146.2,474.6h0.75v0.75h-0.75zM133.2,480.0h0.75v0.75h-0.75zM147.2,476.1h0.75v0.75h-0.75zM148.2,481.1h0.75v0.75h-0.75zM146.4,495.3h0.75v0.75h-0.75zM137.4,502.4h0.75v0.75h-0.75zM142.8,506.9h0.75v0.75h-0.75zM149.0,482.5h0.75v0.75h-0.75zM138.9,472.7h0.75v0.75h-0.75zM149.5,478.6h0.75v0.75h-0.75zM148.1,485.8h0.75v0.75h-0.75zM144.4,468.7h0.75v0.75h-0.75zM148.6,472.8h0.75v0.75h-0.75zM148.1,481.4h0.75v0.75h-0.75zM134.1,475.4h0.75v0.75h-0.75zM145.5,470.8h0.75v0.75h-0.75zM153.7,483.0h0.75v0.75h-0.75zM131.3,490.3h0.75v0.75h-0.75zM140.5,505.3h0.75v0.75h-0.75zM137.5,473.8h0.75v0.75h-0.75zM149.1,494.1h0.75v0.75h-0.75zM135.4,504.0h0.75v0.75h-0.75zM131.9,501.0h0.75v0.75h-0.75zM144.0,473.0h0.75v0.75h-0.75zM148.9,489.9h0.75v0.75h-0.75zM134.4,504.8h0.75v0.75h-0.75zM135.7,503.6h0.75v0.75h-0.75zM136.9,472.1h0.75v0.75h-0.75zM146.7,476.2h0.75v0.75h-0.75zM132.3,489.1h0.75v0.75h-0.75zM146.5,472.4h0.75v0.75h-0.75zM131.6,495.6h0.75v0.75h-0.75zM130.7,486.9h0.75v0.75h-0.75zM135.7,500.8h0.75v0.75h-0.75zM141.8,505.3h0.75v0.75h-0.75zM150.3,472.8h0.75v0.75h-0.75zM133.2,475.0h0.75v0.75h-0.75zM137.5,505.7h0.75v0.75h-0.75zM131.4,482.6h0.75v0.75h-0.75zM132.8,496.1h0.75v0.75h-0.75zM147.8,490.9h0.75v0.75h-0.75zM139.0,472.5h0.75v0.75h-0.75zM147.9,473.2h0.75v0.75h-0.75zM135.0,477.4h0.75v0.75h-0.75zM144.1,501.0h0.75v0.75h-0.75zM131.2,496.3h0.75v0.75h-0.75zM141.1,502.4h0.75v0.75h-0.75zM144.1,508.3h0.75v0.75h-0.75zM136.1,504.7h0.75v0.75h-0.75zM148.5,476.0h0.75v0.75h-0.75zM146.2,472.8h0.75v0.75h-0.75zM144.0,470.7h0.75v0.75h-0.75zM147.7,480.5h0.75v0.75h-0.75zM145.3,496.8h0.75v0.75h-0.75zM140.4,505.5h0.75v0.75h-0.75zM147.6,491.6h0.75v0.75h-0.75zM149.1,487.7h0.75v0.75h-0.75zM136.6,475.8h0.75v0.75h-0.75zM131.4,497.5h0.75v0.75h-0.75zM133.4,480.7h0.75v0.75h-0.75zM147.0,474.9h0.75v0.75h-0.75zM136.9,502.9h0.75v0.75h-0.75zM139.1,501.9h0.75v0.75h-0.75zM145.1,472.3h0.75v0.75h-0.75zM147.5,489.6h0.75v0.75h-0.75zM149.1,479.1h0.75v0.75h-0.75zM133.4,502.6h0.75v0.75h-0.75zM148.8,491.0h0.75v0.75h-0.75zM140.5,505.7h0.75v0.75h-0.75zM146.1,494.6h0.75v0.75h-0.75zM146.0,473.7h0.75v0.75h-0.75zM148.1,493.3h0.75v0.75h-0.75zM147.7,492.8h0.75v0.75h-0.75zM134.9,476.0h0.75v0.75h-0.75zM140.9,504.7h0.75v0.75h-0.75zM134.9,501.0h0.75v0.75h-0.75zM143.6,470.6h0.75v0.75h-0.75zM132.3,494.5h0.75v0.75h-0.75zM140.6,469.5h0.75v0.75h-0.75zM137.0,504.0h0.75v0.75h-0.75zM144.5,498.7h0.75v0.75h-0.75zM150.0,496.9h0.75v0.75h-0.75zM146.1,472.4h0.75v0.75h-0.75zM145.1,498.7h0.75v0.75h-0.75zM147.6,496.0h0.75v0.75h-0.75zM144.2,503.8h0.75v0.75h-0.75zM131.4,484.7h0.75v0.75h-0.75zM138.4,471.3h0.75v0.75h-0.75zM131.7,487.8h0.75v0.75h-0.75zM134.9,475.1h0.75v0.75h-0.75zM127.8,487.6h0.75v0.75h-0.75zM141.5,469.9h0.75v0.75h-0.75zM134.5,477.1h0.75v0.75h-0.75zM142.4,500.6h0.75v0.75h-0.75zM133.7,504.0h0.75v0.75h-0.75zM147.9,486.6h0.75v0.75h-0.75zM132.6,492.0h0.75v0.75h-0.75zM138.1,473.5h0.75v0.75h-0.75zM143.2,504.2h0.75v0.75h-0.75zM137.4,469.7h0.75v0.75h-0.75zM138.9,471.3h0.75v0.75h-0.75zM144.5,506.2h0.75v0.75h-0.75zM147.6,481.9h0.75v0.75h-0.75zM132.6,497.7h0.75v0.75h-0.75zM134.4,500.6h0.75v0.75h-0.75zM137.2,467.6h0.75v0.75h-0.75zM149.0,478.5h0.75v0.75h-0.75zM147.6,468.8h0.75v0.75h-0.75zM133.6,481.4h0.75v0.75h-0.75zM149.5,494.3h0.75v0.75h-0.75zM131.9,488.7h0.75v0.75h-0.75zM135.3,476.0h0.75v0.75h-0.75zM145.3,474.2h0.75v0.75h-0.75zM141.2,502.6h0.75v0.75h-0.75zM129.7,491.6h0.75v0.75h-0.75zM135.4,472.1h0.75v0.75h-0.75zM138.4,471.5h0.75v0.75h-0.75zM148.1,492.2h0.75v0.75h-0.75zM146.6,476.5h0.75v0.75h-0.75zM145.1,497.3h0.75v0.75h-0.75zM146.6,473.7h0.75v0.75h-0.75zM146.6,474.9h0.75v0.75h-0.75zM135.2,477.0h0.75v0.75h-0.75zM132.8,483.1h0.75v0.75h-0.75zM134.1,500.7h0.75v0.75h-0.75zM133.0,497.7h0.75v0.75h-0.75zM148.9,478.7h0.75v0.75h-0.75zM137.2,474.6h0.75v0.75h-0.75zM128.3,492.3h0.75v0.75h-0.75zM131.5,504.7h0.75v0.75h-0.75zM148.8,486.7h0.75v0.75h-0.75zM148.1,480.9h0.75v0.75h-0.75zM150.8,477.2h0.75v0.75h-0.75zM148.4,479.6h0.75v0.75h-0.75zM133.4,501.2h0.75v0.75h-0.75zM145.9,472.2h0.75v0.75h-0.75zM137.8,466.6h0.75v0.75h-0.75zM147.6,479.0h0.75v0.75h-0.75zM140.9,472.0h0.75v0.75h-0.75zM146.0,472.0h0.75v0.75h-0.75zM143.8,473.0h0.75v0.75h-0.75zM133.0,478.7h0.75v0.75h-0.75zM138.6,467.9h0.75v0.75h-0.75zM148.0,496.1h0.75v0.75h-0.75zM131.4,500.7h0.75v0.75h-0.75zM145.5,467.6h0.75v0.75h-0.75zM146.7,496.9h0.75v0.75h-0.75zM135.0,501.3h0.75v0.75h-0.75zM134.4,472.8h0.75v0.75h-0.75zM131.7,492.4h0.75v0.75h-0.75zM147.1,494.6h0.75v0.75h-0.75zM143.4,505.0h0.75v0.75h-0.75zM137.5,473.8h0.75v0.75h-0.75zM132.8,482.3h0.75v0.75h-0.75zM132.7,476.7h0.75v0.75h-0.75zM147.4,478.6h0.75v0.75h-0.75zM149.7,479.3h0.75v0.75h-0.75zM135.5,507.3h0.75v0.75h-0.75zM146.8,477.1h0.75v0.75h-0.75zM129.9,484.1h0.75v0.75h-0.75zM136.0,473.6h0.75v0.75h-0.75zM145.4,496.0h0.75v0.75h-0.75zM131.5,498.2h0.75v0.75h-0.75zM150.3,480.9h0.75v0.75h-0.75zM148.3,481.1h0.75v0.75h-0.75zM132.3,495.6h0.75v0.75h-0.75zM138.7,506.8h0.75v0.75h-0.75zM149.2,482.8h0.75v0.75h-0.75zM131.4,487.0h0.75v0.75h-0.75zM147.9,482.2h0.75v0.75h-0.75zM147.1,490.4h0.75v0.75h-0.75zM133.9,477.6h0.75v0.75h-0.75zM137.3,502.1h0.75v0.75h-0.75zM150.1,487.7h0.75v0.75h-0.75zM132.4,488.3h0.75v0.75h-0.75zM151.5,480.0h0.75v0.75h-0.75zM130.2,492.3h0.75v0.75h-0.75zM140.7,506.1h0.75v0.75h-0.75zM139.0,471.5h0.75v0.75h-0.75zM148.4,473.4h0.75v0.75h-0.75zM142.3,470.1h0.75v0.75h-0.75zM138.6,504.9h0.75v0.75h-0.75zM144.1,465.5h0.75v0.75h-0.75zM143.4,469.0h0.75v0.75h-0.75zM132.2,491.1h0.75v0.75h-0.75zM141.9,470.7h0.75v0.75h-0.75zM149.4,491.7h0.75v0.75h-0.75zM141.1,504.5h0.75v0.75h-0.75zM131.4,500.2h0.75v0.75h-0.75zM148.6,479.6h0.75v0.75h-0.75zM138.8,470.8h0.75v0.75h-0.75zM137.2,471.4h0.75v0.75h-0.75zM146.4,468.9h0.75v0.75h-0.75zM140.2,470.0h0.75v0.75h-0.75zM147.8,494.1h0.75v0.75h-0.75zM149.4,474.3h0.75v0.75h-0.75z" fill="#1a1a1a" fill-opacity="1"/>
<path d="M141.4,485.2h0.7v0.7h-0.7zM141.8,486.6h0.7v0.7h-0.7zM140.6,488.4h0.7v0.7h-0.7zM141.2,487.9h0.7v0.7h-0.7zM141.0,487.6h0.7v0.7h-0.7zM141.0,489.0h0.7v0.7h-0.7zM138.8,490.0h0.7v0.7h-0.7zM139.9,486.4h0.7v0.7h-0.7zM139.7,484.5h0.7v0.7h-0.7zM139.4,485.4h0.7v0.7h-0.7zM140.1,485.9h0.7v0.7h-0.7zM142.4,487.0h0.7v0.7h-0.7zM141.3,483.4h0.7v0.7h-0.7zM140.3,485.2h0.7v0.7h-0.7zM140.6,486.5h0.7v0.7h-0.7zM141.9,490.6h0.7v0.7h-0.7zM138.7,488.5h0.7v0.7h-0.7zM140.7,486.8h0.7v0.7h-0.7zM142.2,489.4h0.7v0.7h-0.7zM142.4,487.6h0.7v0.7h-0.7zM141.3,487.7h0.7v0.7h-0.7zM140.8,489.8h0.7v0.7h-0.7zM138.0,488.0h0.7v0.7h-0.7zM139.3,487.5h0.7v0.7h-0.7zM140.1,489.0h0.7v0.7h-0.7zM140.6,485.8h0.7v0.7h-0.7zM140.7,487.3h0.7v0.7h-0.7zM137.4,481.9h0.7v0.7h-0.7zM139.5,486.1h0.7v0.7h-0.7zM140.5,491.0h0.7v0.7h-0.7z" fill="#555" fill-opacity="1"/>
<path d="M139.7,447.8h0.75v0.75h-0.75zM140.8,448.6h0.75v0.75h-0.75zM139.5,450.2h0.75v0.75h-0.75zM137.7,455.8h0.75v0.75h-0.75zM142.3,429.2h0.75v0.75h-0.75zM140.7,440.3h0.75v0.75h-0.75zM144.1,471.0h0.75v0.75h-0.75zM138.1,466.5h0.75v0.75h-0.75zM140.9,453.2h0.75v0.75h-0.75zM139.8,458.2h0.75v0.75h-0.75zM139.0,435.5h0.75v0.75h-0.75zM144.0,456.0h0.75v0.75h-0.75zM138.6,471.3h0.75v0.75h-0.75zM138.6,454.2h0.75v0.75h-0.75zM148.4,461.3h0.75v0.75h-0.75zM140.6,439.5h0.75v0.75h-0.75zM140.2,455.5h0.75v0.75h-0.75zM142.2,462.2h0.75v0.75h-0.75zM137.8,439.9h0.75v0.75h-0.75zM141.9,452.5h0.75v0.75h-0.75zM137.3,451.1h0.75v0.75h-0.75zM139.4,452.6h0.75v0.75h-0.75zM139.1,442.1h0.75v0.75h-0.75zM144.9,441.9h0.75v0.75h-0.75zM142.7,437.0h0.75v0.75h-0.75zM146.4,441.8h0.75v0.75h-0.75zM145.8,432.3h0.75v0.75h-0.75zM138.8,453.6h0.75v0.75h-0.75zM142.4,432.9h0.75v0.75h-0.75zM139.5,461.1h0.75v0.75h-0.75zM138.9,470.3h0.75v0.75h-0.75zM144.4,431.7h0.75v0.75h-0.75zM145.1,435.0h0.75v0.75h-0.75zM141.2,448.0h0.75v0.75h-0.75zM141.8,466.8h0.75v0.75h-0.75zM141.7,462.8h0.75v0.75h-0.75zM141.8,441.4h0.75v0.75h-0.75zM141.9,446.3h0.75v0.75h-0.75zM137.8,472.0h0.75v0.75h-0.75zM142.7,435.9h0.75v0.75h-0.75zM138.8,464.2h0.75v0.75h-0.75zM137.2,432.6h0.75v0.75h-0.75zM140.4,471.9h0.75v0.75h-0.75zM141.6,453.4h0.75v0.75h-0.75zM143.3,440.4h0.75v0.75h-0.75zM142.0,451.3h0.75v0.75h-0.75zM141.7,461.0h0.75v0.75h-0.75zM138.8,436.5h0.75v0.75h-0.75zM142.0,448.3h0.75v0.75h-0.75zM141.4,463.9h0.75v0.75h-0.75zM141.7,436.6h0.75v0.75h-0.75zM138.6,432.6h0.75v0.75h-0.75zM145.9,468.4h0.75v0.75h-0.75zM143.1,471.4h0.75v0.75h-0.75zM142.8,462.9h0.75v0.75h-0.75zM141.1,454.2h0.75v0.75h-0.75zM139.9,444.8h0.75v0.75h-0.75zM143.6,435.4h0.75v0.75h-0.75zM136.8,469.5h0.75v0.75h-0.75zM139.4,464.5h0.75v0.75h-0.75zM139.9,433.0h0.75v0.75h-0.75zM142.5,436.2h0.75v0.75h-0.75zM139.9,462.9h0.75v0.75h-0.75zM145.1,453.6h0.75v0.75h-0.75zM135.5,442.6h0.75v0.75h-0.75zM145.5,442.8h0.75v0.75h-0.75zM141.7,466.3h0.75v0.75h-0.75zM143.6,465.8h0.75v0.75h-0.75zM139.2,459.1h0.75v0.75h-0.75zM143.9,457.5h0.75v0.75h-0.75zM139.8,454.1h0.75v0.75h-0.75zM141.6,431.2h0.75v0.75h-0.75zM136.3,447.7h0.75v0.75h-0.75zM142.4,466.7h0.75v0.75h-0.75zM141.1,451.6h0.75v0.75h-0.75zM135.1,441.9h0.75v0.75h-0.75zM140.5,464.1h0.75v0.75h-0.75zM139.8,468.7h0.75v0.75h-0.75zM143.2,441.6h0.75v0.75h-0.75zM138.7,457.6h0.75v0.75h-0.75zM141.4,447.6h0.75v0.75h-0.75zM144.7,463.6h0.75v0.75h-0.75zM138.1,451.7h0.75v0.75h-0.75zM146.4,441.1h0.75v0.75h-0.75zM141.5,436.2h0.75v0.75h-0.75zM140.1,467.9h0.75v0.75h-0.75zM136.7,455.5h0.75v0.75h-0.75zM135.4,445.1h0.75v0.75h-0.75zM143.6,459.0h0.75v0.75h-0.75zM139.4,452.9h0.75v0.75h-0.75zM138.9,451.4h0.75v0.75h-0.75zM144.0,440.0h0.75v0.75h-0.75zM142.8,455.9h0.75v0.75h-0.75zM141.1,457.0h0.75v0.75h-0.75zM136.3,432.0h0.75v0.75h-0.75zM134.9,431.4h0.75v0.75h-0.75zM143.6,460.0h0.75v0.75h-0.75zM140.6,466.4h0.75v0.75h-0.75zM140.0,462.8h0.75v0.75h-0.75zM146.5,458.4h0.75v0.75h-0.75zM139.5,447.6h0.75v0.75h-0.75zM141.9,453.5h0.75v0.75h-0.75zM147.3,429.9h0.75v0.75h-0.75zM142.6,435.2h0.75v0.75h-0.75zM139.1,433.1h0.75v0.75h-0.75zM138.2,465.5h0.75v0.75h-0.75zM144.5,443.0h0.75v0.75h-0.75zM137.1,437.2h0.75v0.75h-0.75zM143.3,468.4h0.75v0.75h-0.75zM145.7,460.2h0.75v0.75h-0.75zM140.5,441.6h0.75v0.75h-0.75zM143.3,471.2h0.75v0.75h-0.75zM141.0,446.8h0.75v0.75h-0.75zM145.1,430.0h0.75v0.75h-0.75zM141.7,429.0h0.75v0.75h-0.75zM138.7,452.6h0.75v0.75h-0.75zM141.9,461.1h0.75v0.75h-0.75zM141.3,457.3h0.75v0.75h-0.75zM139.0,445.0h0.75v0.75h-0.75zM140.1,433.3h0.75v0.75h-0.75zM137.2,454.8h0.75v0.75h-0.75zM138.3,450.6h0.75v0.75h-0.75zM142.8,433.7h0.75v0.75h-0.75zM135.3,435.6h0.75v0.75h-0.75zM141.7,458.7h0.75v0.75h-0.75zM140.9,433.6h0.75v0.75h-0.75zM139.1,430.1h0.75v0.75h-0.75zM145.1,453.3h0.75v0.75h-0.75zM142.9,449.1h0.75v0.75h-0.75zM139.0,467.5h0.75v0.75h-0.75zM141.4,453.4h0.75v0.75h-0.75zM143.6,430.5h0.75v0.75h-0.75zM136.1,433.0h0.75v0.75h-0.75zM141.5,457.8h0.75v0.75h-0.75zM140.1,461.8h0.75v0.75h-0.75zM142.0,443.0h0.75v0.75h-0.75zM147.2,463.8h0.75v0.75h-0.75zM138.9,441.8h0.75v0.75h-0.75zM139.8,433.3h0.75v0.75h-0.75zM137.2,446.9h0.75v0.75h-0.75zM141.5,444.7h0.75v0.75h-0.75zM142.7,446.6h0.75v0.75h-0.75zM133.4,462.5h0.75v0.75h-0.75zM145.3,463.4h0.75v0.75h-0.75zM145.6,437.0h0.75v0.75h-0.75zM132.8,444.9h0.75v0.75h-0.75zM136.3,452.9h0.75v0.75h-0.75zM142.3,431.1h0.75v0.75h-0.75zM141.1,443.6h0.75v0.75h-0.75zM144.4,461.6h0.75v0.75h-0.75zM140.0,451.2h0.75v0.75h-0.75zM144.8,440.9h0.75v0.75h-0.75zM136.7,435.8h0.75v0.75h-0.75zM142.1,443.4h0.75v0.75h-0.75zM139.6,452.2h0.75v0.75h-0.75zM139.5,443.2h0.75v0.75h-0.75zM135.5,443.9h0.75v0.75h-0.75zM139.7,458.0h0.75v0.75h-0.75zM145.0,446.7h0.75v0.75h-0.75zM138.9,441.4h0.75v0.75h-0.75zM140.2,433.2h0.75v0.75h-0.75zM141.3,433.2h0.75v0.75h-0.75zM138.0,438.0h0.75v0.75h-0.75zM141.7,432.9h0.75v0.75h-0.75zM142.6,463.7h0.75v0.75h-0.75zM140.2,435.9h0.75v0.75h-0.75zM135.3,441.5h0.75v0.75h-0.75zM145.5,450.3h0.75v0.75h-0.75zM141.1,466.5h0.75v0.75h-0.75zM140.9,464.6h0.75v0.75h-0.75zM140.3,454.3h0.75v0.75h-0.75zM139.1,431.9h0.75v0.75h-0.75zM135.9,447.0h0.75v0.75h-0.75zM140.8,440.0h0.75v0.75h-0.75zM141.4,449.2h0.75v0.75h-0.75zM143.9,438.8h0.75v0.75h-0.75zM145.9,444.6h0.75v0.75h-0.75zM138.7,452.2h0.75v0.75h-0.75zM145.8,469.7h0.75v0.75h-0.75zM141.2,445.9h0.75v0.75h-0.75zM142.7,432.7h0.75v0.75h-0.75zM137.9,433.5h0.75v0.75h-0.75zM142.0,463.0h0.75v0.75h-0.75zM138.1,451.2h0.75v0.75h-0.75zM143.0,458.0h0.75v0.75h-0.75zM137.2,449.7h0.75v0.75h-0.75zM141.1,470.0h0.75v0.75h-0.75zM139.7,462.8h0.75v0.75h-0.75zM142.0,437.1h0.75v0.75h-0.75zM141.7,450.0h0.75v0.75h-0.75zM141.4,433.7h0.75v0.75h-0.75zM139.4,444.7h0.75v0.75h-0.75zM143.6,457.8h0.75v0.75h-0.75zM142.7,455.7h0.75v0.75h-0.75zM138.6,466.8h0.75v0.75h-0.75zM143.2,431.9h0.75v0.75h-0.75zM139.0,454.4h0.75v0.75h-0.75zM141.3,459.8h0.75v0.75h-0.75zM140.7,441.1h0.75v0.75h-0.75zM140.7,431.0h0.75v0.75h-0.75zM143.4,432.7h0.75v0.75h-0.75zM135.6,444.3h0.75v0.75h-0.75zM144.9,456.3h0.75v0.75h-0.75zM135.7,438.4h0.75v0.75h-0.75zM144.8,447.2h0.75v0.75h-0.75zM142.7,437.8h0.75v0.75h-0.75zM136.6,469.9h0.75v0.75h-0.75zM142.1,457.9h0.75v0.75h-0.75zM140.1,445.3h0.75v0.75h-0.75zM137.5,444.8h0.75v0.75h-0.75zM144.7,456.8h0.75v0.75h-0.75zM144.5,440.0h0.75v0.75h-0.75zM142.2,443.4h0.75v0.75h-0.75zM146.2,441.7h0.75v0.75h-0.75zM141.6,464.8h0.75v0.75h-0.75zM140.3,459.2h0.75v0.75h-0.75zM145.1,463.9h0.75v0.75h-0.75zM138.9,432.0h0.75v0.75h-0.75zM143.6,450.1h0.75v0.75h-0.75zM144.5,459.8h0.75v0.75h-0.75zM141.8,443.8h0.75v0.75h-0.75zM141.5,453.7h0.75v0.75h-0.75zM142.6,464.2h0.75v0.75h-0.75zM141.9,460.1h0.75v0.75h-0.75zM139.1,442.6h0.75v0.75h-0.75zM130.3,464.6h0.75v0.75h-0.75zM139.6,469.6h0.75v0.75h-0.75zM136.7,429.0h0.75v0.75h-0.75zM144.1,455.6h0.75v0.75h-0.75zM139.8,455.0h0.75v0.75h-0.75zM141.9,466.9h0.75v0.75h-0.75zM143.5,430.0h0.75v0.75h-0.75zM144.3,463.4h0.75v0.75h-0.75zM138.4,430.9h0.75v0.75h-0.75zM147.7,471.8h0.75v0.75h-0.75zM144.0,447.7h0.75v0.75h-0.75zM143.1,437.0h0.75v0.75h-0.75zM138.4,435.3h0.75v0.75h-0.75zM147.3,436.5h0.75v0.75h-0.75zM143.2,450.3h0.75v0.75h-0.75zM144.6,463.3h0.75v0.75h-0.75zM140.3,471.5h0.75v0.75h-0.75zM147.0,447.8h0.75v0.75h-0.75zM145.7,437.9h0.75v0.75h-0.75zM140.9,464.3h0.75v0.75h-0.75zM147.3,442.5h0.75v0.75h-0.75zM138.0,434.5h0.75v0.75h-0.75zM143.8,446.6h0.75v0.75h-0.75zM143.2,448.7h0.75v0.75h-0.75zM143.3,441.7h0.75v0.75h-0.75zM139.0,444.7h0.75v0.75h-0.75zM140.0,447.0h0.75v0.75h-0.75zM144.0,448.1h0.75v0.75h-0.75zM144.3,452.8h0.75v0.75h-0.75zM140.9,451.4h0.75v0.75h-0.75zM140.3,451.0h0.75v0.75h-0.75zM139.5,430.7h0.75v0.75h-0.75zM145.1,455.2h0.75v0.75h-0.75zM140.6,438.1h0.75v0.75h-0.75zM139.3,459.9h0.75v0.75h-0.75zM135.2,468.2h0.75v0.75h-0.75zM135.5,455.0h0.75v0.75h-0.75zM137.5,456.5h0.75v0.75h-0.75zM134.7,445.6h0.75v0.75h-0.75zM139.6,470.6h0.75v0.75h-0.75zM139.9,456.3h0.75v0.75h-0.75zM137.8,430.5h0.75v0.75h-0.75zM139.5,441.8h0.75v0.75h-0.75zM140.5,444.5h0.75v0.75h-0.75zM135.5,456.3h0.75v0.75h-0.75zM143.0,453.9h0.75v0.75h-0.75zM132.4,436.8h0.75v0.75h-0.75zM146.7,440.4h0.75v0.75h-0.75zM136.3,468.2h0.75v0.75h-0.75zM140.9,430.9h0.75v0.75h-0.75zM139.7,442.6h0.75v0.75h-0.75zM141.9,441.6h0.75v0.75h-0.75zM138.5,444.0h0.75v0.75h-0.75zM142.4,453.7h0.75v0.75h-0.75zM136.0,432.1h0.75v0.75h-0.75zM143.1,437.6h0.75v0.75h-0.75zM139.9,455.0h0.75v0.75h-0.75zM141.9,438.0h0.75v0.75h-0.75zM143.9,468.5h0.75v0.75h-0.75zM137.2,452.5h0.75v0.75h-0.75zM139.0,452.0h0.75v0.75h-0.75zM138.5,469.8h0.75v0.75h-0.75zM140.5,468.9h0.75v0.75h-0.75zM141.3,470.1h0.75v0.75h-0.75zM143.0,440.1h0.75v0.75h-0.75zM141.4,433.0h0.75v0.75h-0.75zM140.3,455.0h0.75v0.75h-0.75zM142.4,430.1h0.75v0.75h-0.75zM143.9,467.2h0.75v0.75h-0.75zM143.7,468.2h0.75v0.75h-0.75zM147.2,446.4h0.75v0.75h-0.75zM138.9,466.5h0.75v0.75h-0.75zM141.5,435.2h0.75v0.75h-0.75zM136.7,459.1h0.75v0.75h-0.75zM138.7,450.0h0.75v0.75h-0.75zM142.7,466.6h0.75v0.75h-0.75zM144.6,445.6h0.75v0.75h-0.75zM139.3,456.0h0.75v0.75h-0.75zM142.2,451.6h0.75v0.75h-0.75zM141.0,432.8h0.75v0.75h-0.75zM142.3,467.2h0.75v0.75h-0.75zM141.5,465.2h0.75v0.75h-0.75zM139.4,463.2h0.75v0.75h-0.75zM134.0,445.5h0.75v0.75h-0.75zM136.3,433.6h0.75v0.75h-0.75zM142.0,451.4h0.75v0.75h-0.75zM140.5,450.1h0.75v0.75h-0.75zM147.1,430.3h0.75v0.75h-0.75zM141.0,457.3h0.75v0.75h-0.75zM143.6,471.0h0.75v0.75h-0.75zM137.2,452.7h0.75v0.75h-0.75zM136.6,437.6h0.75v0.75h-0.75zM141.4,430.7h0.75v0.75h-0.75zM145.9,432.5h0.75v0.75h-0.75zM142.0,462.2h0.75v0.75h-0.75zM139.8,442.0h0.75v0.75h-0.75zM142.0,453.3h0.75v0.75h-0.75zM142.7,451.4h0.75v0.75h-0.75zM142.2,464.5h0.75v0.75h-0.75zM140.9,459.7h0.75v0.75h-0.75zM137.6,450.3h0.75v0.75h-0.75zM137.4,433.6h0.75v0.75h-0.75zM139.3,456.8h0.75v0.75h-0.75zM140.4,470.4h0.75v0.75h-0.75zM136.8,429.8h0.75v0.75h-0.75zM145.6,461.0h0.75v0.75h-0.75zM142.6,439.5h0.75v0.75h-0.75zM139.2,469.5h0.75v0.75h-0.75zM143.1,460.2h0.75v0.75h-0.75zM148.2,452.5h0.75v0.75h-0.75zM141.6,436.5h0.75v0.75h-0.75zM141.5,456.7h0.75v0.75h-0.75zM143.9,429.8h0.75v0.75h-0.75zM136.7,437.8h0.75v0.75h-0.75zM139.1,440.0h0.75v0.75h-0.75zM138.5,453.6h0.75v0.75h-0.75zM143.1,463.7h0.75v0.75h-0.75zM135.7,466.2h0.75v0.75h-0.75zM141.8,446.4h0.75v0.75h-0.75zM139.4,447.5h0.75v0.75h-0.75zM140.0,454.3h0.75v0.75h-0.75zM139.1,431.0h0.75v0.75h-0.75zM145.3,430.9h0.75v0.75h-0.75zM138.2,455.1h0.75v0.75h-0.75zM137.2,466.5h0.75v0.75h-0.75zM141.7,463.2h0.75v0.75h-0.75zM139.1,450.0h0.75v0.75h-0.75zM142.4,443.0h0.75v0.75h-0.75zM140.6,465.6h0.75v0.75h-0.75zM140.9,448.7h0.75v0.75h-0.75zM141.0,464.4h0.75v0.75h-0.75zM135.7,429.5h0.75v0.75h-0.75zM134.7,455.9h0.75v0.75h-0.75zM146.9,436.5h0.75v0.75h-0.75zM137.3,450.6h0.75v0.75h-0.75zM142.4,440.1h0.75v0.75h-0.75zM137.4,429.5h0.75v0.75h-0.75zM140.5,471.0h0.75v0.75h-0.75zM140.0,469.2h0.75v0.75h-0.75zM145.2,469.9h0.75v0.75h-0.75zM140.2,452.4h0.75v0.75h-0.75zM136.2,429.3h0.75v0.75h-0.75zM136.5,447.0h0.75v0.75h-0.75zM141.7,453.8h0.75v0.75h-0.75zM143.4,429.8h0.75v0.75h-0.75zM146.8,449.1h0.75v0.75h-0.75zM147.2,464.3h0.75v0.75h-0.75zM136.5,459.1h0.75v0.75h-0.75zM140.4,447.4h0.75v0.75h-0.75zM137.1,446.2h0.75v0.75h-0.75zM141.6,449.2h0.75v0.75h-0.75zM143.2,447.8h0.75v0.75h-0.75zM135.3,436.8h0.75v0.75h-0.75zM143.4,443.2h0.75v0.75h-0.75zM143.0,442.8h0.75v0.75h-0.75zM140.0,471.1h0.75v0.75h-0.75zM139.0,431.4h0.75v0.75h-0.75zM145.8,443.7h0.75v0.75h-0.75zM140.3,431.6h0.75v0.75h-0.75zM137.5,450.2h0.75v0.75h-0.75zM141.1,429.3h0.75v0.75h-0.75zM143.9,451.4h0.75v0.75h-0.75zM142.9,450.8h0.75v0.75h-0.75zM134.9,457.0h0.75v0.75h-0.75zM136.7,461.9h0.75v0.75h-0.75zM139.5,453.7h0.75v0.75h-0.75zM141.2,431.6h0.75v0.75h-0.75zM141.2,450.4h0.75v0.75h-0.75zM137.0,434.2h0.75v0.75h-0.75zM143.5,438.9h0.75v0.75h-0.75zM142.2,430.1h0.75v0.75h-0.75zM136.0,458.9h0.75v0.75h-0.75zM137.9,442.3h0.75v0.75h-0.75zM140.4,452.7h0.75v0.75h-0.75zM136.2,455.3h0.75v0.75h-0.75zM140.9,449.6h0.75v0.75h-0.75zM141.3,452.8h0.75v0.75h-0.75zM139.5,442.0h0.75v0.75h-0.75zM142.5,470.7h0.75v0.75h-0.75zM146.2,448.7h0.75v0.75h-0.75zM138.8,467.8h0.75v0.75h-0.75zM142.2,432.3h0.75v0.75h-0.75zM139.4,437.4h0.75v0.75h-0.75zM145.4,460.6h0.75v0.75h-0.75zM144.6,469.7h0.75v0.75h-0.75zM140.8,434.7h0.75v0.75h-0.75zM138.9,453.5h0.75v0.75h-0.75zM143.2,437.5h0.75v0.75h-0.75zM140.6,429.5h0.75v0.75h-0.75zM137.1,430.7h0.75v0.75h-0.75zM137.8,442.2h0.75v0.75h-0.75zM140.3,462.2h0.75v0.75h-0.75zM147.3,443.7h0.75v0.75h-0.75zM144.1,437.7h0.75v0.75h-0.75zM145.0,470.7h0.75v0.75h-0.75zM143.6,461.1h0.75v0.75h-0.75zM145.0,457.3h0.75v0.75h-0.75zM145.3,436.3h0.75v0.75h-0.75zM137.5,439.2h0.75v0.75h-0.75zM142.6,458.1h0.75v0.75h-0.75zM142.7,440.3h0.75v0.75h-0.75zM142.3,450.4h0.75v0.75h-0.75zM142.1,467.2h0.75v0.75h-0.75zM133.2,453.6h0.75v0.75h-0.75zM141.4,431.8h0.75v0.75h-0.75zM136.7,470.3h0.75v0.75h-0.75zM143.7,434.4h0.75v0.75h-0.75zM139.2,445.1h0.75v0.75h-0.75zM140.0,429.6h0.75v0.75h-0.75zM140.6,432.4h0.75v0.75h-0.75zM134.6,469.7h0.75v0.75h-0.75zM140.3,464.1h0.75v0.75h-0.75zM137.0,463.2h0.75v0.75h-0.75zM143.7,465.3h0.75v0.75h-0.75zM139.2,447.5h0.75v0.75h-0.75zM137.4,444.3h0.75v0.75h-0.75zM144.5,460.0h0.75v0.75h-0.75zM139.9,456.6h0.75v0.75h-0.75zM137.9,470.4h0.75v0.75h-0.75zM140.5,432.1h0.75v0.75h-0.75zM140.2,438.0h0.75v0.75h-0.75zM141.5,445.3h0.75v0.75h-0.75zM137.8,438.3h0.75v0.75h-0.75zM144.0,464.5h0.75v0.75h-0.75zM141.8,453.8h0.75v0.75h-0.75zM145.7,442.0h0.75v0.75h-0.75zM142.5,434.1h0.75v0.75h-0.75zM137.8,470.0h0.75v0.75h-0.75zM144.0,464.4h0.75v0.75h-0.75zM140.0,431.9h0.75v0.75h-0.75zM141.1,441.9h0.75v0.75h-0.75zM133.4,456.1h0.75v0.75h-0.75zM137.0,441.4h0.75v0.75h-0.75zM144.9,432.2h0.75v0.75h-0.75zM144.1,437.6h0.75v0.75h-0.75zM135.5,469.0h0.75v0.75h-0.75zM141.8,442.7h0.75v0.75h-0.75zM141.8,441.4h0.75v0.75h-0.75zM144.6,466.2h0.75v0.75h-0.75zM137.5,441.7h0.75v0.75h-0.75zM135.6,438.1h0.75v0.75h-0.75zM141.7,435.9h0.75v0.75h-0.75zM138.8,441.6h0.75v0.75h-0.75zM139.0,438.1h0.75v0.75h-0.75zM138.1,448.0h0.75v0.75h-0.75zM144.6,435.5h0.75v0.75h-0.75zM138.2,439.3h0.75v0.75h-0.75zM143.7,463.3h0.75v0.75h-0.75zM142.7,431.6h0.75v0.75h-0.75zM138.9,468.0h0.75v0.75h-0.75zM143.8,459.5h0.75v0.75h-0.75zM144.6,454.0h0.75v0.75h-0.75zM141.9,455.7h0.75v0.75h-0.75zM140.1,451.7h0.75v0.75h-0.75zM143.1,469.3h0.75v0.75h-0.75zM138.6,434.0h0.75v0.75h-0.75zM142.3,470.8h0.75v0.75h-0.75zM145.5,463.5h0.75v0.75h-0.75zM136.8,429.3h0.75v0.75h-0.75zM135.4,470.3h0.75v0.75h-0.75zM143.0,455.7h0.75v0.75h-0.75zM138.2,460.6h0.75v0.75h-0.75zM139.5,431.8h0.75v0.75h-0.75zM141.3,458.9h0.75v0.75h-0.75zM139.0,435.2h0.75v0.75h-0.75zM141.2,443.0h0.75v0.75h-0.75zM137.9,435.1h0.75v0.75h-0.75zM139.2,454.0h0.75v0.75h-0.75zM140.6,449.8h0.75v0.75h-0.75zM142.5,466.5h0.75v0.75h-0.75zM139.6,453.3h0.75v0.75h-0.75zM141.9,457.0h0.75v0.75h-0.75zM142.7,438.6h0.75v0.75h-0.75zM142.4,466.6h0.75v0.75h-0.75zM140.5,446.9h0.75v0.75h-0.75zM144.8,435.6h0.75v0.75h-0.75zM138.5,446.0h0.75v0.75h-0.75zM144.0,452.9h0.75v0.75h-0.75zM143.8,468.3h0.75v0.75h-0.75zM143.5,450.2h0.75v0.75h-0.75zM139.3,436.0h0.75v0.75h-0.75zM143.8,460.5h0.75v0.75h-0.75zM142.3,439.0h0.75v0.75h-0.75zM137.5,469.7h0.75v0.75h-0.75zM139.9,457.3h0.75v0.75h-0.75zM136.9,459.6h0.75v0.75h-0.75zM142.0,444.8h0.75v0.75h-0.75zM145.1,462.1h0.75v0.75h-0.75zM143.6,434.9h0.75v0.75h-0.75zM137.9,464.9h0.75v0.75h-0.75zM137.9,434.9h0.75v0.75h-0.75zM140.3,452.5h0.75v0.75h-0.75zM140.4,435.3h0.75v0.75h-0.75zM143.1,437.4h0.75v0.75h-0.75zM139.9,455.7h0.75v0.75h-0.75zM144.3,442.4h0.75v0.75h-0.75zM139.3,460.3h0.75v0.75h-0.75zM144.0,436.3h0.75v0.75h-0.75zM136.5,438.3h0.75v0.75h-0.75zM139.2,433.8h0.75v0.75h-0.75zM141.0,471.1h0.75v0.75h-0.75zM143.4,445.8h0.75v0.75h-0.75zM142.5,463.6h0.75v0.75h-0.75zM138.3,465.5h0.75v0.75h-0.75zM137.0,437.3h0.75v0.75h-0.75zM140.8,464.8h0.75v0.75h-0.75zM140.6,453.1h0.75v0.75h-0.75zM139.7,434.2h0.75v0.75h-0.75zM140.8,439.9h0.75v0.75h-0.75zM136.9,438.8h0.75v0.75h-0.75zM142.4,438.8h0.75v0.75h-0.75zM143.9,460.5h0.75v0.75h-0.75zM138.2,464.1h0.75v0.75h-0.75zM138.3,445.3h0.75v0.75h-0.75zM144.6,430.1h0.75v0.75h-0.75zM144.1,452.6h0.75v0.75h-0.75zM138.5,445.4h0.75v0.75h-0.75zM138.9,443.8h0.75v0.75h-0.75zM135.7,452.2h0.75v0.75h-0.75zM142.4,449.2h0.75v0.75h-0.75zM141.5,430.3h0.75v0.75h-0.75zM141.0,453.0h0.75v0.75h-0.75zM147.7,462.0h0.75v0.75h-0.75zM140.4,456.0h0.75v0.75h-0.75zM140.6,454.9h0.75v0.75h-0.75zM141.7,439.3h0.75v0.75h-0.75zM140.3,460.6h0.75v0.75h-0.75zM144.2,448.0h0.75v0.75h-0.75zM140.4,436.5h0.75v0.75h-0.75zM141.3,459.1h0.75v0.75h-0.75zM147.7,464.9h0.75v0.75h-0.75zM139.2,457.3h0.75v0.75h-0.75zM137.3,440.0h0.75v0.75h-0.75zM141.4,444.2h0.75v0.75h-0.75zM139.1,434.0h0.75v0.75h-0.75zM139.0,453.4h0.75v0.75h-0.75zM141.6,466.0h0.75v0.75h-0.75zM143.5,435.4h0.75v0.75h-0.75zM136.3,440.5h0.75v0.75h-0.75zM140.3,469.6h0.75v0.75h-0.75zM134.6,458.4h0.75v0.75h-0.75zM143.7,429.1h0.75v0.75h-0.75zM137.8,456.1h0.75v0.75h-0.75zM142.8,431.6h0.75v0.75h-0.75zM146.3,448.6h0.75v0.75h-0.75zM144.9,464.3h0.75v0.75h-0.75zM142.1,458.7h0.75v0.75h-0.75zM134.9,434.2h0.75v0.75h-0.75zM146.5,432.0h0.75v0.75h-0.75zM139.6,467.1h0.75v0.75h-0.75zM143.2,429.6h0.75v0.75h-0.75zM139.3,458.7h0.75v0.75h-0.75zM140.1,438.8h0.75v0.75h-0.75zM145.7,444.3h0.75v0.75h-0.75zM135.8,431.6h0.75v0.75h-0.75zM137.1,470.7h0.75v0.75h-0.75zM139.9,469.0h0.75v0.75h-0.75zM144.0,432.0h0.75v0.75h-0.75zM133.3,470.1h0.75v0.75h-0.75zM144.6,441.8h0.75v0.75h-0.75zM139.6,458.4h0.75v0.75h-0.75zM142.9,460.2h0.75v0.75h-0.75zM142.4,447.2h0.75v0.75h-0.75zM144.1,461.1h0.75v0.75h-0.75zM145.0,442.7h0.75v0.75h-0.75zM139.9,471.0h0.75v0.75h-0.75zM141.3,470.1h0.75v0.75h-0.75zM140.3,470.9h0.75v0.75h-0.75zM141.5,459.0h0.75v0.75h-0.75zM139.9,444.3h0.75v0.75h-0.75zM139.3,465.5h0.75v0.75h-0.75zM139.0,464.1h0.75v0.75h-0.75zM143.1,452.1h0.75v0.75h-0.75zM136.8,438.1h0.75v0.75h-0.75zM141.1,448.9h0.75v0.75h-0.75zM144.9,438.0h0.75v0.75h-0.75zM136.6,456.9h0.75v0.75h-0.75zM135.5,429.6h0.75v0.75h-0.75zM142.8,453.5h0.75v0.75h-0.75zM138.4,454.9h0.75v0.75h-0.75zM138.6,451.4h0.75v0.75h-0.75zM142.7,461.0h0.75v0.75h-0.75zM141.7,440.0h0.75v0.75h-0.75zM138.8,467.3h0.75v0.75h-0.75zM139.8,449.2h0.75v0.75h-0.75zM136.4,457.1h0.75v0.75h-0.75zM139.0,446.9h0.75v0.75h-0.75zM140.6,437.7h0.75v0.75h-0.75zM142.5,436.9h0.75v0.75h-0.75zM142.6,469.2h0.75v0.75h-0.75zM146.0,467.5h0.75v0.75h-0.75zM140.6,435.0h0.75v0.75h-0.75zM143.8,445.2h0.75v0.75h-0.75zM141.6,464.2h0.75v0.75h-0.75zM137.9,469.4h0.75v0.75h-0.75zM141.8,432.8h0.75v0.75h-0.75zM141.9,437.5h0.75v0.75h-0.75zM142.8,453.2h0.75v0.75h-0.75zM142.3,438.4h0.75v0.75h-0.75zM141.2,444.9h0.75v0.75h-0.75zM138.1,430.9h0.75v0.75h-0.75zM139.9,436.1h0.75v0.75h-0.75zM141.7,447.6h0.75v0.75h-0.75zM142.8,434.8h0.75v0.75h-0.75zM143.3,457.4h0.75v0.75h-0.75zM141.9,452.7h0.75v0.75h-0.75zM142.7,437.7h0.75v0.75h-0.75zM145.1,458.1h0.75v0.75h-0.75zM141.4,443.0h0.75v0.75h-0.75zM139.2,445.1h0.75v0.75h-0.75zM136.5,433.4h0.75v0.75h-0.75zM140.9,449.1h0.75v0.75h-0.75zM142.7,435.1h0.75v0.75h-0.75zM139.7,447.8h0.75v0.75h-0.75zM145.2,469.8h0.75v0.75h-0.75zM138.2,432.6h0.75v0.75h-0.75zM139.7,448.6h0.75v0.75h-0.75zM140.7,461.4h0.75v0.75h-0.75zM137.1,444.8h0.75v0.75h-0.75zM143.8,467.7h0.75v0.75h-0.75zM138.5,448.8h0.75v0.75h-0.75zM137.2,453.4h0.75v0.75h-0.75zM135.3,461.1h0.75v0.75h-0.75zM143.5,454.8h0.75v0.75h-0.75zM144.6,463.7h0.75v0.75h-0.75zM137.7,470.4h0.75v0.75h-0.75zM136.4,466.6h0.75v0.75h-0.75zM139.4,451.4h0.75v0.75h-0.75zM140.7,464.9h0.75v0.75h-0.75zM139.1,451.2h0.75v0.75h-0.75zM142.1,459.2h0.75v0.75h-0.75zM137.5,451.0h0.75v0.75h-0.75zM146.9,456.1h0.75v0.75h-0.75zM141.8,441.8h0.75v0.75h-0.75zM143.8,436.7h0.75v0.75h-0.75zM139.5,430.7h0.75v0.75h-0.75zM143.6,438.0h0.75v0.75h-0.75zM145.7,434.3h0.75v0.75h-0.75zM138.6,453.1h0.75v0.75h-0.75zM141.1,429.0h0.75v0.75h-0.75zM143.8,440.8h0.75v0.75h-0.75zM142.0,465.3h0.75v0.75h-0.75zM138.2,464.8h0.75v0.75h-0.75zM139.4,440.4h0.75v0.75h-0.75zM142.5,448.7h0.75v0.75h-0.75zM141.8,433.8h0.75v0.75h-0.75zM138.8,433.9h0.75v0.75h-0.75zM141.8,430.3h0.75v0.75h-0.75zM134.1,443.8h0.75v0.75h-0.75zM141.0,462.1h0.75v0.75h-0.75zM143.7,444.4h0.75v0.75h-0.75zM143.6,459.3h0.75v0.75h-0.75zM139.5,460.4h0.75v0.75h-0.75zM141.5,468.4h0.75v0.75h-0.75zM141.5,457.1h0.75v0.75h-0.75zM140.4,441.1h0.75v0.75h-0.75zM138.3,456.3h0.75v0.75h-0.75zM136.4,445.4h0.75v0.75h-0.75zM138.9,447.4h0.75v0.75h-0.75zM136.9,460.0h0.75v0.75h-0.75zM134.2,440.3h0.75v0.75h-0.75zM144.1,469.2h0.75v0.75h-0.75zM136.0,444.8h0.75v0.75h-0.75zM138.4,440.4h0.75v0.75h-0.75zM138.3,471.4h0.75v0.75h-0.75zM135.0,455.4h0.75v0.75h-0.75zM141.1,446.8h0.75v0.75h-0.75zM134.9,463.1h0.75v0.75h-0.75zM145.4,465.4h0.75v0.75h-0.75zM135.8,441.3h0.75v0.75h-0.75zM137.6,447.5h0.75v0.75h-0.75zM139.5,467.9h0.75v0.75h-0.75zM139.5,433.8h0.75v0.75h-0.75zM139.9,461.0h0.75v0.75h-0.75zM143.4,443.1h0.75v0.75h-0.75zM144.2,450.2h0.75v0.75h-0.75zM147.4,454.6h0.75v0.75h-0.75zM137.1,443.3h0.75v0.75h-0.75zM144.0,470.2h0.75v0.75h-0.75zM142.9,464.5h0.75v0.75h-0.75zM140.0,437.1h0.75v0.75h-0.75zM137.0,443.2h0.75v0.75h-0.75zM148.3,456.2h0.75v0.75h-0.75zM144.7,452.1h0.75v0.75h-0.75zM135.6,460.3h0.75v0.75h-0.75zM145.6,471.3h0.75v0.75h-0.75zM142.5,456.6h0.75v0.75h-0.75zM141.8,463.6h0.75v0.75h-0.75zM143.4,458.6h0.75v0.75h-0.75zM139.2,451.0h0.75v0.75h-0.75zM140.6,452.2h0.75v0.75h-0.75zM143.9,458.8h0.75v0.75h-0.75zM137.5,468.6h0.75v0.75h-0.75zM136.9,466.9h0.75v0.75h-0.75zM135.9,467.4h0.75v0.75h-0.75zM143.3,438.1h0.75v0.75h-0.75zM137.8,450.7h0.75v0.75h-0.75zM139.9,469.5h0.75v0.75h-0.75zM139.4,434.9h0.75v0.75h-0.75zM142.7,438.5h0.75v0.75h-0.75zM142.0,449.1h0.75v0.75h-0.75zM138.5,436.9h0.75v0.75h-0.75zM145.2,437.1h0.75v0.75h-0.75zM142.2,455.0h0.75v0.75h-0.75zM142.0,461.7h0.75v0.75h-0.75zM139.6,442.4h0.75v0.75h-0.75zM139.9,433.0h0.75v0.75h-0.75zM140.1,432.2h0.75v0.75h-0.75zM140.9,434.3h0.75v0.75h-0.75zM142.2,471.1h0.75v0.75h-0.75zM142.2,459.9h0.75v0.75h-0.75zM140.1,435.4h0.75v0.75h-0.75zM140.5,444.8h0.75v0.75h-0.75zM143.0,447.3h0.75v0.75h-0.75zM144.5,466.1h0.75v0.75h-0.75zM144.7,460.3h0.75v0.75h-0.75zM140.8,448.7h0.75v0.75h-0.75zM137.0,471.5h0.75v0.75h-0.75zM141.4,448.3h0.75v0.75h-0.75zM141.4,462.4h0.75v0.75h-0.75zM141.1,456.4h0.75v0.75h-0.75zM142.4,433.4h0.75v0.75h-0.75zM139.4,455.4h0.75v0.75h-0.75zM141.2,465.4h0.75v0.75h-0.75zM133.9,457.8h0.75v0.75h-0.75zM146.2,455.4h0.75v0.75h-0.75zM141.0,447.7h0.75v0.75h-0.75zM139.9,432.3h0.75v0.75h-0.75zM142.4,468.3h0.75v0.75h-0.75zM140.1,442.9h0.75v0.75h-0.75zM138.6,455.1h0.75v0.75h-0.75zM143.4,442.9h0.75v0.75h-0.75zM141.0,453.9h0.75v0.75h-0.75zM138.8,438.2h0.75v0.75h-0.75zM142.9,434.4h0.75v0.75h-0.75zM142.2,438.9h0.75v0.75h-0.75zM142.0,438.1h0.75v0.75h-0.75zM139.9,455.9h0.75v0.75h-0.75zM144.1,440.7h0.75v0.75h-0.75zM138.1,467.0h0.75v0.75h-0.75zM143.4,456.5h0.75v0.75h-0.75zM145.4,442.0h0.75v0.75h-0.75zM138.1,440.6h0.75v0.75h-0.75zM141.5,429.8h0.75v0.75h-0.75zM135.4,456.2h0.75v0.75h-0.75zM140.9,438.4h0.75v0.75h-0.75zM135.6,437.1h0.75v0.75h-0.75zM136.8,436.0h0.75v0.75h-0.75zM141.4,468.7h0.75v0.75h-0.75zM144.1,433.2h0.75v0.75h-0.75zM142.3,453.2h0.75v0.75h-0.75zM140.1,463.5h0.75v0.75h-0.75zM138.4,463.4h0.75v0.75h-0.75zM140.8,468.4h0.75v0.75h-0.75zM148.1,467.4h0.75v0.75h-0.75zM145.1,445.7h0.75v0.75h-0.75zM136.8,461.0h0.75v0.75h-0.75zM138.6,447.3h0.75v0.75h-0.75zM136.4,430.5h0.75v0.75h-0.75zM142.5,464.5h0.75v0.75h-0.75zM139.9,461.9h0.75v0.75h-0.75zM136.1,436.3h0.75v0.75h-0.75zM140.2,463.8h0.75v0.75h-0.75zM139.3,439.0h0.75v0.75h-0.75zM137.6,434.7h0.75v0.75h-0.75zM139.7,434.6h0.75v0.75h-0.75zM143.4,430.0h0.75v0.75h-0.75zM138.0,461.4h0.75v0.75h-0.75zM139.7,433.0h0.75v0.75h-0.75zM136.5,468.6h0.75v0.75h-0.75zM139.5,471.5h0.75v0.75h-0.75zM144.9,431.4h0.75v0.75h-0.75zM142.4,448.3h0.75v0.75h-0.75zM138.6,433.1h0.75v0.75h-0.75zM139.0,439.6h0.75v0.75h-0.75zM144.6,456.2h0.75v0.75h-0.75zM140.4,468.1h0.75v0.75h-0.75zM139.3,439.9h0.75v0.75h-0.75zM144.3,439.0h0.75v0.75h-0.75zM139.6,435.0h0.75v0.75h-0.75zM138.7,463.4h0.75v0.75h-0.75zM142.1,460.6h0.75v0.75h-0.75zM137.0,446.0h0.75v0.75h-0.75zM139.6,442.8h0.75v0.75h-0.75zM138.6,450.3h0.75v0.75h-0.75zM141.4,446.9h0.75v0.75h-0.75zM140.6,439.5h0.75v0.75h-0.75zM146.5,471.0h0.75v0.75h-0.75zM143.1,436.5h0.75v0.75h-0.75zM141.1,458.2h0.75v0.75h-0.75zM142.7,453.9h0.75v0.75h-0.75zM140.4,437.3h0.75v0.75h-0.75zM141.8,457.7h0.75v0.75h-0.75zM142.8,448.2h0.75v0.75h-0.75zM142.4,446.3h0.75v0.75h-0.75zM145.3,453.5h0.75v0.75h-0.75zM142.7,463.2h0.75v0.75h-0.75zM138.9,463.7h0.75v0.75h-0.75zM141.9,446.4h0.75v0.75h-0.75zM137.7,469.6h0.75v0.75h-0.75zM147.2,450.5h0.75v0.75h-0.75zM135.4,438.8h0.75v0.75h-0.75zM140.7,459.5h0.75v0.75h-0.75zM142.6,447.1h0.75v0.75h-0.75zM138.2,463.9h0.75v0.75h-0.75zM139.7,456.0h0.75v0.75h-0.75zM144.1,469.5h0.75v0.75h-0.75zM137.3,435.7h0.75v0.75h-0.75zM143.8,449.1h0.75v0.75h-0.75zM140.3,435.2h0.75v0.75h-0.75zM139.9,437.1h0.75v0.75h-0.75zM147.0,471.1h0.75v0.75h-0.75zM143.3,434.0h0.75v0.75h-0.75zM142.2,434.7h0.75v0.75h-0.75zM140.2,468.9h0.75v0.75h-0.75zM141.5,431.4h0.75v0.75h-0.75zM140.5,435.1h0.75v0.75h-0.75zM146.5,445.3h0.75v0.75h-0.75zM141.6,441.3h0.75v0.75h-0.75zM138.8,447.3h0.75v0.75h-0.75zM139.5,434.3h0.75v0.75h-0.75zM142.2,450.1h0.75v0.75h-0.75zM137.7,471.5h0.75v0.75h-0.75zM138.7,447.0h0.75v0.75h-0.75z" fill="#1a1a1a" fill-opacity="1"/>
<path d="M140.4,470.1h0.75v0.75h-0.75zM139.2,460.9h0.75v0.75h-0.75zM143.1,443.2h0.75v0.75h-0.75zM143.1,466.5h0.75v0.75h-0.75zM139.7,444.5h0.75v0.75h-0.75zM143.7,449.8h0.75v0.75h-0.75zM134.2,454.7h0.75v0.75h-0.75zM141.4,459.2h0.75v0.75h-0.75zM142.3,460.4h0.75v0.75h-0.75zM140.9,463.7h0.75v0.75h-0.75zM136.7,448.6h0.75v0.75h-0.75zM141.0,451.2h0.75v0.75h-0.75zM143.5,464.8h0.75v0.75h-0.75zM141.8,444.1h0.75v0.75h-0.75zM137.7,470.3h0.75v0.75h-0.75zM141.3,440.2h0.75v0.75h-0.75zM145.7,470.2h0.75v0.75h-0.75zM144.4,449.6h0.75v0.75h-0.75zM145.1,466.2h0.75v0.75h-0.75zM141.1,451.8h0.75v0.75h-0.75zM143.2,446.6h0.75v0.75h-0.75zM141.2,446.7h0.75v0.75h-0.75zM141.1,461.3h0.75v0.75h-0.75zM138.5,456.2h0.75v0.75h-0.75zM141.4,460.8h0.75v0.75h-0.75zM144.0,457.8h0.75v0.75h-0.75zM141.7,465.7h0.75v0.75h-0.75zM136.6,451.5h0.75v0.75h-0.75zM142.9,458.6h0.75v0.75h-0.75zM138.5,456.1h0.75v0.75h-0.75zM142.7,465.4h0.75v0.75h-0.75zM139.3,444.5h0.75v0.75h-0.75zM145.4,447.3h0.75v0.75h-0.75zM140.8,449.6h0.75v0.75h-0.75zM144.1,444.7h0.75v0.75h-0.75zM137.7,441.2h0.75v0.75h-0.75zM140.9,462.6h0.75v0.75h-0.75zM141.7,464.9h0.75v0.75h-0.75zM137.7,463.1h0.75v0.75h-0.75zM139.9,449.5h0.75v0.75h-0.75zM139.9,444.5h0.75v0.75h-0.75zM141.6,442.1h0.75v0.75h-0.75zM141.5,470.7h0.75v0.75h-0.75zM137.0,457.9h0.75v0.75h-0.75zM144.4,457.4h0.75v0.75h-0.75zM143.0,459.5h0.75v0.75h-0.75zM139.8,459.3h0.75v0.75h-0.75zM143.9,458.4h0.75v0.75h-0.75zM140.7,453.6h0.75v0.75h-0.75zM139.8,469.8h0.75v0.75h-0.75zM137.9,457.7h0.75v0.75h-0.75zM134.5,457.4h0.75v0.75h-0.75zM142.1,442.6h0.75v0.75h-0.75zM144.3,442.7h0.75v0.75h-0.75zM143.0,447.3h0.75v0.75h-0.75zM143.0,441.9h0.75v0.75h-0.75zM146.4,451.2h0.75v0.75h-0.75zM137.5,446.9h0.75v0.75h-0.75zM143.2,446.1h0.75v0.75h-0.75zM146.6,446.3h0.75v0.75h-0.75zM141.1,469.1h0.75v0.75h-0.75zM146.5,463.9h0.75v0.75h-0.75zM140.7,455.2h0.75v0.75h-0.75zM140.0,464.1h0.75v0.75h-0.75zM136.6,470.1h0.75v0.75h-0.75zM143.0,455.9h0.75v0.75h-0.75zM143.7,459.1h0.75v0.75h-0.75zM143.1,467.7h0.75v0.75h-0.75zM142.2,446.6h0.75v0.75h-0.75zM143.5,460.5h0.75v0.75h-0.75zM141.2,467.9h0.75v0.75h-0.75zM137.2,466.5h0.75v0.75h-0.75zM142.4,442.9h0.75v0.75h-0.75zM143.1,442.3h0.75v0.75h-0.75zM140.5,442.6h0.75v0.75h-0.75zM142.0,448.0h0.75v0.75h-0.75zM137.1,470.8h0.75v0.75h-0.75zM137.0,443.7h0.75v0.75h-0.75zM138.6,462.8h0.75v0.75h-0.75zM145.4,464.0h0.75v0.75h-0.75zM141.9,456.7h0.75v0.75h-0.75zM141.8,459.0h0.75v0.75h-0.75zM140.2,469.1h0.75v0.75h-0.75zM142.2,446.3h0.75v0.75h-0.75zM143.9,441.6h0.75v0.75h-0.75zM143.1,458.1h0.75v0.75h-0.75zM141.4,457.4h0.75v0.75h-0.75zM142.0,449.0h0.75v0.75h-0.75zM142.6,466.1h0.75v0.75h-0.75zM143.4,456.7h0.75v0.75h-0.75zM142.6,462.9h0.75v0.75h-0.75zM140.9,464.0h0.75v0.75h-0.75zM137.9,446.7h0.75v0.75h-0.75zM141.9,446.3h0.75v0.75h-0.75zM141.6,445.3h0.75v0.75h-0.75zM141.3,449.3h0.75v0.75h-0.75zM140.4,448.5h0.75v0.75h-0.75zM138.5,441.5h0.75v0.75h-0.75zM144.2,442.5h0.75v0.75h-0.75zM139.8,452.7h0.75v0.75h-0.75zM141.3,456.3h0.75v0.75h-0.75zM140.2,465.3h0.75v0.75h-0.75zM138.1,462.5h0.75v0.75h-0.75zM143.2,453.9h0.75v0.75h-0.75zM137.4,469.2h0.75v0.75h-0.75zM141.3,454.8h0.75v0.75h-0.75zM140.3,444.9h0.75v0.75h-0.75zM141.4,464.0h0.75v0.75h-0.75zM138.7,459.4h0.75v0.75h-0.75zM144.0,443.3h0.75v0.75h-0.75zM144.7,444.0h0.75v0.75h-0.75zM143.2,445.9h0.75v0.75h-0.75zM140.1,470.4h0.75v0.75h-0.75zM137.9,449.7h0.75v0.75h-0.75zM146.6,455.7h0.75v0.75h-0.75zM136.2,447.7h0.75v0.75h-0.75zM138.2,450.2h0.75v0.75h-0.75zM142.3,469.6h0.75v0.75h-0.75zM142.7,465.8h0.75v0.75h-0.75zM138.3,461.9h0.75v0.75h-0.75zM142.6,468.1h0.75v0.75h-0.75zM137.7,444.1h0.75v0.75h-0.75zM143.2,470.4h0.75v0.75h-0.75zM142.4,463.8h0.75v0.75h-0.75zM141.4,442.1h0.75v0.75h-0.75zM144.2,440.5h0.75v0.75h-0.75zM142.3,456.5h0.75v0.75h-0.75zM135.3,454.3h0.75v0.75h-0.75zM143.5,449.8h0.75v0.75h-0.75zM142.2,448.3h0.75v0.75h-0.75zM144.0,461.1h0.75v0.75h-0.75zM140.9,450.0h0.75v0.75h-0.75zM143.5,451.8h0.75v0.75h-0.75zM140.6,458.9h0.75v0.75h-0.75zM142.7,441.8h0.75v0.75h-0.75zM143.9,456.1h0.75v0.75h-0.75zM140.1,449.9h0.75v0.75h-0.75zM139.9,458.9h0.75v0.75h-0.75zM141.7,453.6h0.75v0.75h-0.75zM143.6,461.0h0.75v0.75h-0.75zM142.5,442.3h0.75v0.75h-0.75zM142.0,466.6h0.75v0.75h-0.75zM143.4,470.9h0.75v0.75h-0.75zM142.6,469.6h0.75v0.75h-0.75zM138.9,447.2h0.75v0.75h-0.75zM145.1,457.6h0.75v0.75h-0.75zM144.9,450.6h0.75v0.75h-0.75zM144.4,464.2h0.75v0.75h-0.75zM137.2,441.3h0.75v0.75h-0.75zM144.8,441.1h0.75v0.75h-0.75zM138.8,454.3h0.75v0.75h-0.75zM141.6,467.9h0.75v0.75h-0.75zM141.1,465.6h0.75v0.75h-0.75zM145.8,453.9h0.75v0.75h-0.75zM144.1,465.1h0.75v0.75h-0.75zM141.6,464.2h0.75v0.75h-0.75zM142.8,452.3h0.75v0.75h-0.75zM140.0,464.8h0.75v0.75h-0.75zM138.8,445.9h0.75v0.75h-0.75zM143.3,447.3h0.75v0.75h-0.75zM143.6,450.4h0.75v0.75h-0.75zM141.7,457.3h0.75v0.75h-0.75zM145.7,464.2h0.75v0.75h-0.75zM146.3,462.3h0.75v0.75h-0.75zM140.5,462.9h0.75v0.75h-0.75zM142.4,470.2h0.75v0.75h-0.75zM143.0,456.7h0.75v0.75h-0.75zM136.8,441.7h0.75v0.75h-0.75zM144.7,467.7h0.75v0.75h-0.75zM144.3,459.0h0.75v0.75h-0.75zM142.8,440.1h0.75v0.75h-0.75zM141.7,445.8h0.75v0.75h-0.75zM140.8,446.1h0.75v0.75h-0.75zM145.4,450.6h0.75v0.75h-0.75zM140.2,456.3h0.75v0.75h-0.75zM142.8,443.9h0.75v0.75h-0.75zM141.6,454.2h0.75v0.75h-0.75zM145.2,444.4h0.75v0.75h-0.75zM145.6,454.7h0.75v0.75h-0.75zM142.2,459.8h0.75v0.75h-0.75zM141.8,464.3h0.75v0.75h-0.75zM138.7,463.4h0.75v0.75h-0.75zM139.1,446.0h0.75v0.75h-0.75zM142.7,453.6h0.75v0.75h-0.75zM142.9,453.0h0.75v0.75h-0.75zM141.8,462.6h0.75v0.75h-0.75zM138.6,457.8h0.75v0.75h-0.75zM139.2,442.7h0.75v0.75h-0.75zM134.2,446.5h0.75v0.75h-0.75zM141.2,469.0h0.75v0.75h-0.75zM134.9,453.9h0.75v0.75h-0.75zM136.4,463.5h0.75v0.75h-0.75zM138.8,456.4h0.75v0.75h-0.75zM143.8,448.4h0.75v0.75h-0.75zM138.2,453.1h0.75v0.75h-0.75zM142.8,456.5h0.75v0.75h-0.75zM146.2,442.4h0.75v0.75h-0.75zM143.0,471.0h0.75v0.75h-0.75zM142.7,440.6h0.75v0.75h-0.75zM138.1,445.5h0.75v0.75h-0.75zM140.3,463.6h0.75v0.75h-0.75zM136.8,450.4h0.75v0.75h-0.75zM142.7,459.1h0.75v0.75h-0.75zM142.6,444.0h0.75v0.75h-0.75zM144.8,457.6h0.75v0.75h-0.75zM141.3,444.7h0.75v0.75h-0.75zM142.0,447.5h0.75v0.75h-0.75zM139.0,460.8h0.75v0.75h-0.75zM142.3,459.1h0.75v0.75h-0.75zM144.4,454.8h0.75v0.75h-0.75zM142.5,451.2h0.75v0.75h-0.75zM143.4,443.8h0.75v0.75h-0.75zM141.5,459.2h0.75v0.75h-0.75zM142.6,463.8h0.75v0.75h-0.75zM141.7,441.7h0.75v0.75h-0.75zM139.1,463.2h0.75v0.75h-0.75zM141.2,470.8h0.75v0.75h-0.75zM143.3,441.3h0.75v0.75h-0.75zM142.3,442.2h0.75v0.75h-0.75zM141.1,468.9h0.75v0.75h-0.75zM139.2,467.2h0.75v0.75h-0.75zM142.8,465.8h0.75v0.75h-0.75zM140.1,470.0h0.75v0.75h-0.75zM140.9,447.0h0.75v0.75h-0.75zM143.1,442.7h0.75v0.75h-0.75zM144.2,447.2h0.75v0.75h-0.75zM140.0,463.3h0.75v0.75h-0.75zM140.4,451.9h0.75v0.75h-0.75zM143.4,468.2h0.75v0.75h-0.75zM140.7,441.6h0.75v0.75h-0.75zM145.9,456.4h0.75v0.75h-0.75zM144.0,464.6h0.75v0.75h-0.75zM141.7,443.1h0.75v0.75h-0.75zM138.6,456.4h0.75v0.75h-0.75zM143.6,457.8h0.75v0.75h-0.75zM141.9,460.6h0.75v0.75h-0.75zM137.6,469.4h0.75v0.75h-0.75zM139.1,463.7h0.75v0.75h-0.75zM141.0,450.0h0.75v0.75h-0.75zM143.1,450.4h0.75v0.75h-0.75zM136.3,447.2h0.75v0.75h-0.75zM141.0,449.1h0.75v0.75h-0.75zM141.7,465.4h0.75v0.75h-0.75zM147.1,466.3h0.75v0.75h-0.75zM142.0,442.1h0.75v0.75h-0.75zM141.9,457.3h0.75v0.75h-0.75zM141.2,454.9h0.75v0.75h-0.75zM142.2,451.8h0.75v0.75h-0.75zM142.9,444.3h0.75v0.75h-0.75zM140.7,464.1h0.75v0.75h-0.75zM142.6,441.2h0.75v0.75h-0.75zM146.2,456.8h0.75v0.75h-0.75zM140.7,445.6h0.75v0.75h-0.75zM142.9,457.5h0.75v0.75h-0.75zM146.3,456.3h0.75v0.75h-0.75zM139.4,441.4h0.75v0.75h-0.75zM141.3,446.7h0.75v0.75h-0.75zM139.7,459.2h0.75v0.75h-0.75zM143.5,463.8h0.75v0.75h-0.75zM144.2,466.2h0.75v0.75h-0.75zM142.5,455.8h0.75v0.75h-0.75zM141.3,464.8h0.75v0.75h-0.75zM141.2,471.0h0.75v0.75h-0.75zM141.9,468.0h0.75v0.75h-0.75zM144.3,469.8h0.75v0.75h-0.75zM142.4,469.3h0.75v0.75h-0.75zM145.3,455.4h0.75v0.75h-0.75zM146.6,459.4h0.75v0.75h-0.75zM140.7,447.4h0.75v0.75h-0.75zM145.8,453.4h0.75v0.75h-0.75zM144.9,445.6h0.75v0.75h-0.75zM141.3,452.6h0.75v0.75h-0.75zM135.5,451.2h0.75v0.75h-0.75zM139.0,457.3h0.75v0.75h-0.75zM143.4,463.4h0.75v0.75h-0.75zM136.7,462.3h0.75v0.75h-0.75zM144.9,450.7h0.75v0.75h-0.75zM139.2,455.4h0.75v0.75h-0.75zM142.1,449.8h0.75v0.75h-0.75zM139.7,460.0h0.75v0.75h-0.75zM140.3,446.9h0.75v0.75h-0.75zM141.9,452.0h0.75v0.75h-0.75zM138.3,467.4h0.75v0.75h-0.75zM140.7,443.6h0.75v0.75h-0.75zM139.9,449.0h0.75v0.75h-0.75zM143.3,458.5h0.75v0.75h-0.75zM138.7,466.6h0.75v0.75h-0.75zM146.7,456.5h0.75v0.75h-0.75zM145.8,460.8h0.75v0.75h-0.75zM138.2,470.6h0.75v0.75h-0.75zM138.0,470.1h0.75v0.75h-0.75zM140.0,443.7h0.75v0.75h-0.75zM142.2,458.3h0.75v0.75h-0.75zM142.9,461.8h0.75v0.75h-0.75zM143.1,447.1h0.75v0.75h-0.75zM143.6,466.5h0.75v0.75h-0.75zM141.2,453.1h0.75v0.75h-0.75zM138.3,447.6h0.75v0.75h-0.75zM139.0,465.7h0.75v0.75h-0.75z" fill="#1a1a1a" fill-opacity="1"/>
<path d="M140.6,407.3h0.75v0.75h-0.75zM144.4,396.9h0.75v0.75h-0.75zM143.9,423.0h0.75v0.75h-0.75zM143.9,400.4h0.75v0.75h-0.75zM139.5,385.1h0.75v0.75h-0.75zM142.2,397.7h0.75v0.75h-0.75zM139.7,420.0h0.75v0.75h-0.75zM147.5,401.9h0.75v0.75h-0.75zM140.9,415.3h0.75v0.75h-0.75zM141.7,406.9h0.75v0.75h-0.75zM141.1,422.7h0.75v0.75h-0.75zM139.6,388.4h0.75v0.75h-0.75zM143.1,421.2h0.75v0.75h-0.75zM140.3,426.9h0.75v0.75h-0.75zM142.0,392.0h0.75v0.75h-0.75zM143.0,393.7h0.75v0.75h-0.75zM141.8,416.8h0.75v0.75h-0.75zM140.8,399.4h0.75v0.75h-0.75zM143.4,422.9h0.75v0.75h-0.75zM141.7,400.3h0.75v0.75h-0.75zM138.6,423.9h0.75v0.75h-0.75zM136.0,424.2h0.75v0.75h-0.75zM138.5,394.9h0.75v0.75h-0.75zM141.7,403.6h0.75v0.75h-0.75zM144.6,414.0h0.75v0.75h-0.75zM139.8,415.1h0.75v0.75h-0.75zM141.7,386.0h0.75v0.75h-0.75zM138.7,424.8h0.75v0.75h-0.75zM143.4,423.4h0.75v0.75h-0.75zM145.8,400.4h0.75v0.75h-0.75zM139.2,410.3h0.75v0.75h-0.75zM141.5,400.2h0.75v0.75h-0.75zM146.6,420.5h0.75v0.75h-0.75zM140.3,390.3h0.75v0.75h-0.75zM139.3,418.5h0.75v0.75h-0.75zM141.5,388.5h0.75v0.75h-0.75zM142.3,388.7h0.75v0.75h-0.75zM140.9,398.7h0.75v0.75h-0.75zM141.4,425.5h0.75v0.75h-0.75zM144.3,394.5h0.75v0.75h-0.75zM139.2,411.6h0.75v0.75h-0.75zM144.4,425.6h0.75v0.75h-0.75zM140.0,401.7h0.75v0.75h-0.75zM143.9,388.2h0.75v0.75h-0.75zM144.6,385.5h0.75v0.75h-0.75zM141.8,414.3h0.75v0.75h-0.75zM140.3,386.1h0.75v0.75h-0.75zM138.7,422.2h0.75v0.75h-0.75zM138.0,393.7h0.75v0.75h-0.75zM143.2,427.8h0.75v0.75h-0.75z" fill="#444" fill-opacity="1"/>
<path d="M151.8,484.4h0.75v0.75h-0.75zM159.2,472.0h0.75v0.75h-0.75zM156.3,483.7h0.75v0.75h-0.75zM150.9,469.1h0.75v0.75h-0.75zM155.7,488.4h0.75v0.75h-0.75zM152.6,482.9h0.75v0.75h-0.75zM152.9,479.8h0.75v0.75h-0.75zM150.0,476.6h0.75v0.75h-0.75zM153.0,476.8h0.75v0.75h-0.75zM154.2,476.6h0.75v0.75h-0.75zM156.0,484.0h0.75v0.75h-0.75zM153.0,482.0h0.75v0.75h-0.75zM154.1,484.1h0.75v0.75h-0.75zM151.9,475.8h0.75v0.75h-0.75zM165.1,477.0h0.75v0.75h-0.75zM155.4,469.0h0.75v0.75h-0.75zM151.3,467.3h0.75v0.75h-0.75zM152.3,479.5h0.75v0.75h-0.75zM157.4,474.8h0.75v0.75h-0.75zM160.2,479.2h0.75v0.75h-0.75zM153.8,477.5h0.75v0.75h-0.75zM157.9,476.6h0.75v0.75h-0.75zM154.7,478.1h0.75v0.75h-0.75zM155.7,466.4h0.75v0.75h-0.75zM154.0,476.6h0.75v0.75h-0.75zM153.8,479.9h0.75v0.75h-0.75zM152.2,477.9h0.75v0.75h-0.75zM154.8,480.0h0.75v0.75h-0.75zM153.9,465.8h0.75v0.75h-0.75zM153.6,482.7h0.75v0.75h-0.75zM152.7,481.5h0.75v0.75h-0.75zM158.0,481.5h0.75v0.75h-0.75zM150.6,479.7h0.75v0.75h-0.75zM153.5,481.2h0.75v0.75h-0.75zM158.2,483.8h0.75v0.75h-0.75zM156.5,476.0h0.75v0.75h-0.75zM151.5,477.8h0.75v0.75h-0.75zM150.7,481.4h0.75v0.75h-0.75zM156.9,470.5h0.75v0.75h-0.75zM154.8,481.8h0.75v0.75h-0.75zM158.0,474.0h0.75v0.75h-0.75zM158.3,475.4h0.75v0.75h-0.75zM152.2,474.3h0.75v0.75h-0.75zM152.2,479.8h0.75v0.75h-0.75zM162.1,471.3h0.75v0.75h-0.75zM157.2,485.8h0.75v0.75h-0.75zM150.3,475.1h0.75v0.75h-0.75zM150.3,473.8h0.75v0.75h-0.75zM152.3,487.2h0.75v0.75h-0.75zM155.8,478.3h0.75v0.75h-0.75zM164.6,469.0h0.75v0.75h-0.75zM151.2,478.9h0.75v0.75h-0.75zM155.0,483.3h0.75v0.75h-0.75zM151.1,486.8h0.75v0.75h-0.75zM156.9,484.2h0.75v0.75h-0.75zM155.3,478.4h0.75v0.75h-0.75zM151.4,493.6h0.75v0.75h-0.75zM156.8,478.1h0.75v0.75h-0.75zM153.3,468.9h0.75v0.75h-0.75zM150.9,490.1h0.75v0.75h-0.75zM155.4,487.1h0.75v0.75h-0.75zM158.7,484.5h0.75v0.75h-0.75zM161.8,493.0h0.75v0.75h-0.75zM160.0,484.5h0.75v0.75h-0.75zM153.9,479.2h0.75v0.75h-0.75zM150.1,481.5h0.75v0.75h-0.75zM154.6,474.4h0.75v0.75h-0.75zM152.8,481.9h0.75v0.75h-0.75zM150.7,474.5h0.75v0.75h-0.75zM157.4,473.9h0.75v0.75h-0.75zM150.6,470.2h0.75v0.75h-0.75zM155.3,478.9h0.75v0.75h-0.75zM156.8,482.6h0.75v0.75h-0.75zM151.5,476.2h0.75v0.75h-0.75zM152.0,468.7h0.75v0.75h-0.75zM153.1,473.1h0.75v0.75h-0.75zM158.0,477.8h0.75v0.75h-0.75zM158.8,476.8h0.75v0.75h-0.75zM152.8,475.3h0.75v0.75h-0.75zM151.8,471.6h0.75v0.75h-0.75zM151.1,488.4h0.75v0.75h-0.75zM151.6,479.1h0.75v0.75h-0.75zM158.3,480.7h0.75v0.75h-0.75zM156.7,479.4h0.75v0.75h-0.75zM151.2,472.0h0.75v0.75h-0.75zM150.2,486.4h0.75v0.75h-0.75zM151.5,475.5h0.75v0.75h-0.75zM153.7,477.4h0.75v0.75h-0.75zM157.2,474.9h0.75v0.75h-0.75zM151.0,471.3h0.75v0.75h-0.75zM153.1,479.1h0.75v0.75h-0.75zM155.0,473.3h0.75v0.75h-0.75zM150.7,478.5h0.75v0.75h-0.75zM151.1,480.5h0.75v0.75h-0.75zM155.8,488.3h0.75v0.75h-0.75zM155.2,470.2h0.75v0.75h-0.75zM152.0,487.6h0.75v0.75h-0.75zM150.5,488.7h0.75v0.75h-0.75zM153.4,475.9h0.75v0.75h-0.75zM155.1,480.0h0.75v0.75h-0.75zM158.2,485.5h0.75v0.75h-0.75zM153.4,472.9h0.75v0.75h-0.75zM155.5,488.5h0.75v0.75h-0.75zM150.6,470.2h0.75v0.75h-0.75zM155.3,482.2h0.75v0.75h-0.75zM155.4,479.4h0.75v0.75h-0.75zM154.0,473.7h0.75v0.75h-0.75zM150.9,474.4h0.75v0.75h-0.75zM153.6,478.5h0.75v0.75h-0.75zM153.8,476.4h0.75v0.75h-0.75zM156.2,477.2h0.75v0.75h-0.75zM163.8,476.3h0.75v0.75h-0.75zM154.9,483.0h0.75v0.75h-0.75zM153.8,480.2h0.75v0.75h-0.75zM155.5,479.5h0.75v0.75h-0.75zM150.0,480.8h0.75v0.75h-0.75zM151.5,480.9h0.75v0.75h-0.75zM152.1,486.4h0.75v0.75h-0.75zM159.1,479.3h0.75v0.75h-0.75zM150.2,480.1h0.75v0.75h-0.75zM153.2,475.3h0.75v0.75h-0.75zM159.1,471.3h0.75v0.75h-0.75zM154.5,474.6h0.75v0.75h-0.75zM155.4,477.6h0.75v0.75h-0.75zM151.3,471.2h0.75v0.75h-0.75zM150.3,485.3h0.75v0.75h-0.75zM155.7,473.1h0.75v0.75h-0.75zM155.1,479.6h0.75v0.75h-0.75zM150.9,474.8h0.75v0.75h-0.75zM154.5,480.0h0.75v0.75h-0.75zM150.1,483.3h0.75v0.75h-0.75zM163.9,486.6h0.75v0.75h-0.75zM157.0,471.8h0.75v0.75h-0.75zM150.6,484.8h0.75v0.75h-0.75zM164.1,475.1h0.75v0.75h-0.75zM152.2,487.3h0.75v0.75h-0.75zM155.7,470.7h0.75v0.75h-0.75zM152.9,475.0h0.75v0.75h-0.75zM154.2,478.3h0.75v0.75h-0.75zM159.9,486.0h0.75v0.75h-0.75zM150.7,479.2h0.75v0.75h-0.75zM153.5,485.1h0.75v0.75h-0.75zM152.5,480.9h0.75v0.75h-0.75zM155.4,483.5h0.75v0.75h-0.75zM151.2,478.0h0.75v0.75h-0.75zM153.6,477.1h0.75v0.75h-0.75zM161.8,479.2h0.75v0.75h-0.75zM153.0,478.7h0.75v0.75h-0.75zM152.1,476.2h0.75v0.75h-0.75zM151.6,476.5h0.75v0.75h-0.75zM152.3,467.6h0.75v0.75h-0.75zM161.4,469.2h0.75v0.75h-0.75zM153.9,473.6h0.75v0.75h-0.75zM151.7,475.4h0.75v0.75h-0.75zM153.6,471.1h0.75v0.75h-0.75zM153.9,490.3h0.75v0.75h-0.75zM154.0,472.5h0.75v0.75h-0.75zM158.8,480.7h0.75v0.75h-0.75zM150.2,483.6h0.75v0.75h-0.75zM157.4,473.6h0.75v0.75h-0.75zM151.3,481.6h0.75v0.75h-0.75zM155.8,477.9h0.75v0.75h-0.75zM150.7,473.0h0.75v0.75h-0.75zM150.3,483.5h0.75v0.75h-0.75zM155.0,484.9h0.75v0.75h-0.75zM151.3,495.0h0.75v0.75h-0.75zM152.8,485.4h0.75v0.75h-0.75zM151.5,472.6h0.75v0.75h-0.75zM150.5,485.4h0.75v0.75h-0.75zM153.1,469.0h0.75v0.75h-0.75zM154.6,476.6h0.75v0.75h-0.75zM152.8,464.1h0.75v0.75h-0.75zM150.0,483.2h0.75v0.75h-0.75zM154.3,479.0h0.75v0.75h-0.75zM155.9,489.4h0.75v0.75h-0.75zM150.5,484.3h0.75v0.75h-0.75zM155.2,476.6h0.75v0.75h-0.75zM153.8,482.2h0.75v0.75h-0.75zM155.9,483.7h0.75v0.75h-0.75zM152.1,474.0h0.75v0.75h-0.75zM154.6,474.8h0.75v0.75h-0.75zM153.6,479.1h0.75v0.75h-0.75zM155.7,466.3h0.75v0.75h-0.75zM158.0,466.7h0.75v0.75h-0.75zM151.3,479.3h0.75v0.75h-0.75zM158.9,477.4h0.75v0.75h-0.75zM161.0,475.6h0.75v0.75h-0.75zM155.5,492.2h0.75v0.75h-0.75zM153.5,480.0h0.75v0.75h-0.75zM155.7,485.9h0.75v0.75h-0.75zM153.9,480.5h0.75v0.75h-0.75zM152.3,478.8h0.75v0.75h-0.75zM151.4,476.1h0.75v0.75h-0.75zM153.7,470.0h0.75v0.75h-0.75zM153.4,478.9h0.75v0.75h-0.75zM151.9,475.8h0.75v0.75h-0.75zM159.6,483.2h0.75v0.75h-0.75zM153.7,474.4h0.75v0.75h-0.75zM158.0,474.3h0.75v0.75h-0.75zM153.6,479.2h0.75v0.75h-0.75zM155.8,469.2h0.75v0.75h-0.75zM151.5,473.9h0.75v0.75h-0.75zM155.4,478.6h0.75v0.75h-0.75zM150.6,477.0h0.75v0.75h-0.75zM150.3,476.9h0.75v0.75h-0.75zM152.5,479.5h0.75v0.75h-0.75zM150.7,480.2h0.75v0.75h-0.75zM151.1,493.8h0.75v0.75h-0.75zM150.2,478.3h0.75v0.75h-0.75zM154.3,474.2h0.75v0.75h-0.75zM154.5,485.1h0.75v0.75h-0.75zM150.3,481.4h0.75v0.75h-0.75zM153.8,477.9h0.75v0.75h-0.75zM156.5,488.2h0.75v0.75h-0.75zM150.6,468.7h0.75v0.75h-0.75zM155.0,481.1h0.75v0.75h-0.75zM151.0,476.7h0.75v0.75h-0.75zM156.3,481.0h0.75v0.75h-0.75zM152.3,480.9h0.75v0.75h-0.75zM155.3,481.0h0.75v0.75h-0.75zM151.8,483.4h0.75v0.75h-0.75zM153.8,474.9h0.75v0.75h-0.75zM150.6,475.7h0.75v0.75h-0.75zM150.7,484.7h0.75v0.75h-0.75zM153.0,479.1h0.75v0.75h-0.75zM152.4,476.9h0.75v0.75h-0.75zM150.3,473.3h0.75v0.75h-0.75zM159.8,479.0h0.75v0.75h-0.75zM152.6,472.1h0.75v0.75h-0.75zM160.2,488.0h0.75v0.75h-0.75z" fill="#1a1a1a" fill-opacity="1"/>
<path d="M173.7,471.7h0.75v0.75h-0.75zM155.8,472.3h0.75v0.75h-0.75zM156.3,472.2h0.75v0.75h-0.75zM159.6,472.8h0.75v0.75h-0.75zM163.1,469.1h0.75v0.75h-0.75zM156.1,471.5h0.75v0.75h-0.75zM150.8,470.1h0.75v0.75h-0.75zM159.0,471.5h0.75v0.75h-0.75zM154.3,469.2h0.75v0.75h-0.75zM152.4,472.4h0.75v0.75h-0.75zM160.1,472.1h0.75v0.75h-0.75zM151.3,474.0h0.75v0.75h-0.75zM163.3,468.7h0.75v0.75h-0.75zM152.2,469.6h0.75v0.75h-0.75zM150.3,471.1h0.75v0.75h-0.75zM164.3,471.2h0.75v0.75h-0.75zM152.3,468.5h0.75v0.75h-0.75zM150.7,469.5h0.75v0.75h-0.75zM155.2,470.5h0.75v0.75h-0.75zM156.9,472.3h0.75v0.75h-0.75zM162.2,472.0h0.75v0.75h-0.75zM153.8,471.3h0.75v0.75h-0.75zM158.9,474.1h0.75v0.75h-0.75zM154.1,473.5h0.75v0.75h-0.75zM150.6,472.5h0.75v0.75h-0.75zM158.7,471.8h0.75v0.75h-0.75zM156.3,472.8h0.75v0.75h-0.75zM154.6,471.8h0.75v0.75h-0.75zM159.7,474.3h0.75v0.75h-0.75zM168.6,469.5h0.75v0.75h-0.75zM154.1,471.1h0.75v0.75h-0.75zM151.3,471.3h0.75v0.75h-0.75zM152.5,471.9h0.75v0.75h-0.75zM161.3,470.4h0.75v0.75h-0.75zM152.5,468.6h0.75v0.75h-0.75zM156.0,471.1h0.75v0.75h-0.75zM150.7,473.9h0.75v0.75h-0.75zM152.7,470.7h0.75v0.75h-0.75zM152.1,472.4h0.75v0.75h-0.75zM155.1,472.6h0.75v0.75h-0.75zM157.3,471.8h0.75v0.75h-0.75zM156.9,470.8h0.75v0.75h-0.75zM157.9,471.3h0.75v0.75h-0.75zM167.9,473.9h0.75v0.75h-0.75zM151.4,472.2h0.75v0.75h-0.75zM154.2,471.9h0.75v0.75h-0.75zM158.8,471.2h0.75v0.75h-0.75zM154.8,471.7h0.75v0.75h-0.75zM161.3,473.6h0.75v0.75h-0.75zM163.7,473.5h0.75v0.75h-0.75zM157.7,472.0h0.75v0.75h-0.75zM163.8,472.0h0.75v0.75h-0.75zM151.1,473.8h0.75v0.75h-0.75zM159.0,473.9h0.75v0.75h-0.75zM159.3,472.5h0.75v0.75h-0.75zM156.6,470.4h0.75v0.75h-0.75zM155.8,467.9h0.75v0.75h-0.75zM159.9,469.5h0.75v0.75h-0.75zM159.6,471.3h0.75v0.75h-0.75zM159.6,472.1h0.75v0.75h-0.75zM157.4,471.1h0.75v0.75h-0.75zM153.6,470.4h0.75v0.75h-0.75zM162.7,473.2h0.75v0.75h-0.75zM153.9,471.3h0.75v0.75h-0.75zM154.5,470.3h0.75v0.75h-0.75zM163.2,469.7h0.75v0.75h-0.75zM157.9,472.6h0.75v0.75h-0.75zM155.8,470.8h0.75v0.75h-0.75zM150.7,472.2h0.75v0.75h-0.75zM175.4,472.0h0.75v0.75h-0.75zM156.1,471.8h0.75v0.75h-0.75zM153.9,471.5h0.75v0.75h-0.75zM152.7,472.2h0.75v0.75h-0.75zM175.3,469.6h0.75v0.75h-0.75zM167.2,472.3h0.75v0.75h-0.75zM151.1,470.8h0.75v0.75h-0.75zM156.4,470.7h0.75v0.75h-0.75zM168.2,471.4h0.75v0.75h-0.75zM156.0,470.9h0.75v0.75h-0.75zM153.4,471.7h0.75v0.75h-0.75zM161.0,470.6h0.75v0.75h-0.75zM163.5,474.9h0.75v0.75h-0.75zM155.5,469.0h0.75v0.75h-0.75zM160.0,471.7h0.75v0.75h-0.75zM150.8,470.5h0.75v0.75h-0.75zM162.9,469.3h0.75v0.75h-0.75zM171.4,471.9h0.75v0.75h-0.75zM162.3,473.6h0.75v0.75h-0.75zM151.3,470.6h0.75v0.75h-0.75zM153.6,473.6h0.75v0.75h-0.75zM163.2,469.1h0.75v0.75h-0.75zM152.5,471.6h0.75v0.75h-0.75zM153.0,469.8h0.75v0.75h-0.75zM157.0,469.2h0.75v0.75h-0.75zM150.9,470.1h0.75v0.75h-0.75zM158.0,470.0h0.75v0.75h-0.75zM166.1,471.8h0.75v0.75h-0.75zM168.7,474.0h0.75v0.75h-0.75zM170.3,472.7h0.75v0.75h-0.75zM151.6,474.0h0.75v0.75h-0.75zM158.4,471.1h0.75v0.75h-0.75zM153.5,470.4h0.75v0.75h-0.75zM162.6,473.8h0.75v0.75h-0.75zM150.2,473.8h0.75v0.75h-0.75zM159.6,470.2h0.75v0.75h-0.75zM159.7,471.3h0.75v0.75h-0.75zM160.3,472.6h0.75v0.75h-0.75zM164.8,471.5h0.75v0.75h-0.75zM155.9,469.7h0.75v0.75h-0.75zM154.7,472.2h0.75v0.75h-0.75zM163.8,468.8h0.75v0.75h-0.75zM152.4,475.3h0.75v0.75h-0.75zM155.1,472.3h0.75v0.75h-0.75zM155.3,469.7h0.75v0.75h-0.75zM162.8,473.2h0.75v0.75h-0.75zM153.2,473.7h0.75v0.75h-0.75zM152.3,473.5h0.75v0.75h-0.75zM166.6,471.8h0.75v0.75h-0.75zM160.9,469.5h0.75v0.75h-0.75zM153.4,470.2h0.75v0.75h-0.75z" fill="#1a1a1a" fill-opacity="1"/>
<path d="M181.4,457.9h0.9v0.9h-0.9zM178.9,428.1h0.9v0.9h-0.9zM181.1,440.8h0.9v0.9h-0.9zM155.6,456.1h0.9v0.9h-0.9zM165.6,448.8h0.9v0.9h-0.9zM176.6,453.8h0.9v0.9h-0.9zM183.1,433.0h0.9v0.9h-0.9zM164.2,452.1h0.9v0.9h-0.9zM196.4,425.4h0.9v0.9h-0.9zM186.8,423.6h0.9v0.9h-0.9zM203.0,431.6h0.9v0.9h-0.9zM178.4,446.0h0.9v0.9h-0.9zM176.8,411.0h0.9v0.9h-0.9zM188.8,450.0h0.9v0.9h-0.9zM184.4,452.9h0.9v0.9h-0.9zM158.5,466.2h0.9v0.9h-0.9zM155.7,456.8h0.9v0.9h-0.9zM166.2,434.6h0.9v0.9h-0.9zM153.0,470.2h0.9v0.9h-0.9zM186.0,405.9h0.9v0.9h-0.9zM198.1,420.4h0.9v0.9h-0.9zM192.0,421.5h0.9v0.9h-0.9zM176.8,443.1h0.9v0.9h-0.9zM196.7,424.3h0.9v0.9h-0.9zM174.4,450.4h0.9v0.9h-0.9zM191.4,430.5h0.9v0.9h-0.9zM187.2,427.5h0.9v0.9h-0.9zM197.4,441.8h0.9v0.9h-0.9zM151.2,427.2h0.9v0.9h-0.9zM152.8,453.5h0.9v0.9h-0.9zM163.8,431.8h0.9v0.9h-0.9zM212.1,424.4h0.9v0.9h-0.9zM153.7,448.1h0.9v0.9h-0.9zM168.0,458.6h0.9v0.9h-0.9zM169.2,450.5h0.9v0.9h-0.9zM170.3,401.5h0.9v0.9h-0.9zM180.9,456.2h0.9v0.9h-0.9zM162.4,446.3h0.9v0.9h-0.9zM185.1,426.0h0.9v0.9h-0.9zM178.7,433.9h0.9v0.9h-0.9zM175.3,446.9h0.9v0.9h-0.9zM189.3,436.3h0.9v0.9h-0.9zM164.1,437.6h0.9v0.9h-0.9zM178.6,455.2h0.9v0.9h-0.9zM181.7,446.0h0.9v0.9h-0.9zM202.2,431.9h0.9v0.9h-0.9zM175.4,463.5h0.9v0.9h-0.9zM193.4,420.7h0.9v0.9h-0.9zM152.6,463.1h0.9v0.9h-0.9zM190.7,433.3h0.9v0.9h-0.9zM204.6,448.5h0.9v0.9h-0.9zM182.3,443.7h0.9v0.9h-0.9zM160.4,462.3h0.9v0.9h-0.9zM169.4,443.7h0.9v0.9h-0.9zM156.0,459.1h0.9v0.9h-0.9zM169.6,453.1h0.9v0.9h-0.9zM179.5,451.4h0.9v0.9h-0.9zM187.4,439.4h0.9v0.9h-0.9zM181.6,461.0h0.9v0.9h-0.9zM160.4,440.8h0.9v0.9h-0.9zM164.6,469.3h0.9v0.9h-0.9zM163.0,428.0h0.9v0.9h-0.9zM181.0,454.9h0.9v0.9h-0.9zM160.8,466.7h0.9v0.9h-0.9zM174.5,439.2h0.9v0.9h-0.9zM165.5,456.5h0.9v0.9h-0.9zM186.9,442.4h0.9v0.9h-0.9zM162.8,440.2h0.9v0.9h-0.9zM166.2,466.9h0.9v0.9h-0.9zM187.1,412.6h0.9v0.9h-0.9zM184.8,438.1h0.9v0.9h-0.9zM171.0,452.0h0.9v0.9h-0.9zM205.5,401.6h0.9v0.9h-0.9zM190.1,430.7h0.9v0.9h-0.9zM194.5,435.8h0.9v0.9h-0.9zM189.9,429.2h0.9v0.9h-0.9zM181.5,442.4h0.9v0.9h-0.9zM153.8,464.2h0.9v0.9h-0.9zM153.2,463.4h0.9v0.9h-0.9zM181.6,446.4h0.9v0.9h-0.9zM193.1,439.1h0.9v0.9h-0.9zM169.5,450.6h0.9v0.9h-0.9zM178.2,404.8h0.9v0.9h-0.9zM171.9,431.0h0.9v0.9h-0.9zM157.1,442.0h0.9v0.9h-0.9zM199.3,435.6h0.9v0.9h-0.9zM174.5,448.2h0.9v0.9h-0.9zM195.4,409.6h0.9v0.9h-0.9zM182.2,448.6h0.9v0.9h-0.9zM172.4,430.1h0.9v0.9h-0.9zM154.4,456.2h0.9v0.9h-0.9zM157.6,448.3h0.9v0.9h-0.9zM172.2,446.1h0.9v0.9h-0.9zM184.5,422.5h0.9v0.9h-0.9zM186.9,418.9h0.9v0.9h-0.9zM174.7,449.3h0.9v0.9h-0.9zM197.2,427.5h0.9v0.9h-0.9zM172.4,448.0h0.9v0.9h-0.9zM162.2,452.9h0.9v0.9h-0.9zM188.6,431.2h0.9v0.9h-0.9zM176.7,460.9h0.9v0.9h-0.9zM197.4,413.4h0.9v0.9h-0.9zM203.3,421.0h0.9v0.9h-0.9zM165.4,458.0h0.9v0.9h-0.9zM157.5,459.9h0.9v0.9h-0.9zM183.2,435.6h0.9v0.9h-0.9zM160.6,465.5h0.9v0.9h-0.9zM165.3,445.5h0.9v0.9h-0.9zM190.3,436.7h0.9v0.9h-0.9zM202.9,410.9h0.9v0.9h-0.9zM178.6,450.0h0.9v0.9h-0.9zM176.4,425.4h0.9v0.9h-0.9zM164.4,460.4h0.9v0.9h-0.9zM185.9,440.1h0.9v0.9h-0.9zM196.6,424.8h0.9v0.9h-0.9zM190.0,427.5h0.9v0.9h-0.9zM166.7,469.2h0.9v0.9h-0.9zM177.9,441.6h0.9v0.9h-0.9zM183.1,417.8h0.9v0.9h-0.9zM189.7,435.1h0.9v0.9h-0.9zM195.6,438.6h0.9v0.9h-0.9zM170.0,455.5h0.9v0.9h-0.9zM192.7,422.9h0.9v0.9h-0.9zM165.2,450.6h0.9v0.9h-0.9zM157.8,455.2h0.9v0.9h-0.9zM195.7,436.5h0.9v0.9h-0.9zM171.4,452.1h0.9v0.9h-0.9zM187.3,432.8h0.9v0.9h-0.9zM166.5,460.6h0.9v0.9h-0.9zM170.4,441.7h0.9v0.9h-0.9zM169.8,455.0h0.9v0.9h-0.9zM191.1,442.0h0.9v0.9h-0.9zM171.9,450.0h0.9v0.9h-0.9zM186.0,439.0h0.9v0.9h-0.9zM187.7,408.8h0.9v0.9h-0.9zM152.0,459.3h0.9v0.9h-0.9zM177.6,427.7h0.9v0.9h-0.9zM170.7,423.4h0.9v0.9h-0.9zM169.6,417.0h0.9v0.9h-0.9zM168.4,444.2h0.9v0.9h-0.9zM184.6,426.8h0.9v0.9h-0.9zM170.8,435.8h0.9v0.9h-0.9zM179.1,430.0h0.9v0.9h-0.9zM155.4,465.9h0.9v0.9h-0.9zM189.3,417.4h0.9v0.9h-0.9zM178.0,440.0h0.9v0.9h-0.9zM166.3,452.8h0.9v0.9h-0.9zM154.6,455.0h0.9v0.9h-0.9zM163.3,463.5h0.9v0.9h-0.9zM169.5,460.5h0.9v0.9h-0.9zM194.7,438.0h0.9v0.9h-0.9zM175.1,452.7h0.9v0.9h-0.9zM157.3,465.5h0.9v0.9h-0.9zM174.1,444.2h0.9v0.9h-0.9zM191.2,439.6h0.9v0.9h-0.9zM187.9,443.2h0.9v0.9h-0.9zM202.2,409.6h0.9v0.9h-0.9zM188.7,413.5h0.9v0.9h-0.9zM190.5,431.8h0.9v0.9h-0.9zM154.4,449.5h0.9v0.9h-0.9zM190.0,406.8h0.9v0.9h-0.9zM202.6,452.1h0.9v0.9h-0.9zM176.3,425.3h0.9v0.9h-0.9zM174.6,451.8h0.9v0.9h-0.9zM197.0,411.6h0.9v0.9h-0.9zM168.7,450.6h0.9v0.9h-0.9zM181.7,409.2h0.9v0.9h-0.9zM187.2,418.8h0.9v0.9h-0.9zM171.9,444.0h0.9v0.9h-0.9zM203.6,417.7h0.9v0.9h-0.9zM171.7,456.6h0.9v0.9h-0.9zM200.2,422.6h0.9v0.9h-0.9zM189.4,436.2h0.9v0.9h-0.9zM168.7,451.5h0.9v0.9h-0.9zM151.2,459.5h0.9v0.9h-0.9zM158.5,458.9h0.9v0.9h-0.9zM150.9,460.1h0.9v0.9h-0.9zM198.9,435.8h0.9v0.9h-0.9zM195.5,410.0h0.9v0.9h-0.9zM172.6,450.3h0.9v0.9h-0.9zM166.1,455.0h0.9v0.9h-0.9zM204.4,413.3h0.9v0.9h-0.9zM169.2,458.7h0.9v0.9h-0.9zM181.2,428.6h0.9v0.9h-0.9zM217.7,435.4h0.9v0.9h-0.9zM187.3,407.7h0.9v0.9h-0.9zM184.3,443.1h0.9v0.9h-0.9zM150.8,449.0h0.9v0.9h-0.9zM174.0,433.8h0.9v0.9h-0.9zM168.3,438.6h0.9v0.9h-0.9zM152.7,456.8h0.9v0.9h-0.9zM182.9,440.0h0.9v0.9h-0.9zM164.4,447.4h0.9v0.9h-0.9zM209.1,406.5h0.9v0.9h-0.9zM180.7,437.2h0.9v0.9h-0.9zM166.9,444.0h0.9v0.9h-0.9zM184.9,439.3h0.9v0.9h-0.9zM168.3,438.4h0.9v0.9h-0.9zM200.1,418.5h0.9v0.9h-0.9zM198.7,425.4h0.9v0.9h-0.9zM196.7,420.3h0.9v0.9h-0.9zM169.5,462.4h0.9v0.9h-0.9zM180.9,423.1h0.9v0.9h-0.9zM156.2,459.7h0.9v0.9h-0.9zM178.5,459.5h0.9v0.9h-0.9zM151.9,458.4h0.9v0.9h-0.9zM176.3,457.6h0.9v0.9h-0.9zM153.2,452.2h0.9v0.9h-0.9zM173.8,444.6h0.9v0.9h-0.9zM201.4,405.2h0.9v0.9h-0.9zM173.2,437.0h0.9v0.9h-0.9zM164.8,450.4h0.9v0.9h-0.9zM206.3,427.8h0.9v0.9h-0.9zM202.8,412.4h0.9v0.9h-0.9zM158.4,455.7h0.9v0.9h-0.9zM198.7,423.9h0.9v0.9h-0.9zM196.5,423.6h0.9v0.9h-0.9zM200.2,419.5h0.9v0.9h-0.9zM177.8,430.5h0.9v0.9h-0.9zM198.2,447.2h0.9v0.9h-0.9zM175.1,464.6h0.9v0.9h-0.9zM155.5,456.1h0.9v0.9h-0.9zM178.4,446.2h0.9v0.9h-0.9zM195.2,431.0h0.9v0.9h-0.9zM151.9,469.0h0.9v0.9h-0.9zM179.9,450.0h0.9v0.9h-0.9zM172.1,443.3h0.9v0.9h-0.9zM170.7,441.0h0.9v0.9h-0.9zM162.5,458.8h0.9v0.9h-0.9zM167.5,440.8h0.9v0.9h-0.9zM170.6,468.8h0.9v0.9h-0.9zM165.0,412.3h0.9v0.9h-0.9zM192.1,431.8h0.9v0.9h-0.9zM168.6,446.3h0.9v0.9h-0.9zM164.3,444.3h0.9v0.9h-0.9zM180.8,448.3h0.9v0.9h-0.9zM196.4,434.0h0.9v0.9h-0.9zM153.9,461.5h0.9v0.9h-0.9zM185.2,427.3h0.9v0.9h-0.9zM170.7,466.6h0.9v0.9h-0.9zM180.8,451.8h0.9v0.9h-0.9zM167.3,452.9h0.9v0.9h-0.9zM189.6,432.9h0.9v0.9h-0.9zM180.9,430.8h0.9v0.9h-0.9zM180.1,417.5h0.9v0.9h-0.9zM189.5,426.1h0.9v0.9h-0.9zM177.6,447.6h0.9v0.9h-0.9zM181.8,433.6h0.9v0.9h-0.9zM164.1,448.7h0.9v0.9h-0.9zM203.6,402.0h0.9v0.9h-0.9zM172.5,442.9h0.9v0.9h-0.9zM183.8,423.0h0.9v0.9h-0.9zM193.0,429.1h0.9v0.9h-0.9zM192.4,433.2h0.9v0.9h-0.9zM171.5,445.9h0.9v0.9h-0.9zM185.7,433.9h0.9v0.9h-0.9zM203.4,420.5h0.9v0.9h-0.9zM190.4,432.1h0.9v0.9h-0.9zM168.1,442.8h0.9v0.9h-0.9zM189.0,406.6h0.9v0.9h-0.9zM159.6,461.8h0.9v0.9h-0.9zM177.5,435.5h0.9v0.9h-0.9zM198.2,434.0h0.9v0.9h-0.9zM186.3,417.1h0.9v0.9h-0.9zM191.7,431.8h0.9v0.9h-0.9zM185.0,435.5h0.9v0.9h-0.9zM196.5,417.3h0.9v0.9h-0.9zM171.3,460.1h0.9v0.9h-0.9zM163.2,456.4h0.9v0.9h-0.9zM165.5,444.1h0.9v0.9h-0.9zM197.5,430.1h0.9v0.9h-0.9zM184.6,433.8h0.9v0.9h-0.9zM211.1,403.4h0.9v0.9h-0.9zM160.4,456.7h0.9v0.9h-0.9zM155.8,455.1h0.9v0.9h-0.9zM182.6,424.0h0.9v0.9h-0.9zM179.2,456.5h0.9v0.9h-0.9zM189.4,422.6h0.9v0.9h-0.9zM186.1,420.6h0.9v0.9h-0.9zM190.4,426.3h0.9v0.9h-0.9zM196.5,417.0h0.9v0.9h-0.9zM165.4,427.8h0.9v0.9h-0.9zM168.5,435.7h0.9v0.9h-0.9zM212.6,418.8h0.9v0.9h-0.9zM155.8,470.1h0.9v0.9h-0.9zM185.0,436.0h0.9v0.9h-0.9zM192.2,447.7h0.9v0.9h-0.9zM180.5,432.2h0.9v0.9h-0.9zM192.8,425.9h0.9v0.9h-0.9zM156.1,470.3h0.9v0.9h-0.9zM175.3,444.0h0.9v0.9h-0.9zM181.8,439.2h0.9v0.9h-0.9zM197.1,420.7h0.9v0.9h-0.9zM167.1,444.9h0.9v0.9h-0.9zM202.1,436.5h0.9v0.9h-0.9zM172.5,443.9h0.9v0.9h-0.9zM183.6,438.6h0.9v0.9h-0.9zM157.5,446.2h0.9v0.9h-0.9zM168.5,442.3h0.9v0.9h-0.9zM173.1,468.3h0.9v0.9h-0.9zM202.0,413.2h0.9v0.9h-0.9zM178.7,421.9h0.9v0.9h-0.9zM166.7,457.2h0.9v0.9h-0.9zM164.4,461.9h0.9v0.9h-0.9zM193.7,424.2h0.9v0.9h-0.9zM191.8,439.9h0.9v0.9h-0.9zM200.4,425.5h0.9v0.9h-0.9zM161.6,455.0h0.9v0.9h-0.9zM216.8,400.0h0.9v0.9h-0.9zM176.9,413.7h0.9v0.9h-0.9zM174.0,439.5h0.9v0.9h-0.9zM174.0,455.2h0.9v0.9h-0.9zM196.2,420.8h0.9v0.9h-0.9zM199.3,421.0h0.9v0.9h-0.9zM197.0,439.3h0.9v0.9h-0.9zM201.8,418.4h0.9v0.9h-0.9zM189.8,431.6h0.9v0.9h-0.9zM207.3,424.9h0.9v0.9h-0.9zM170.7,441.7h0.9v0.9h-0.9zM151.6,446.9h0.9v0.9h-0.9zM184.9,406.6h0.9v0.9h-0.9zM159.8,441.0h0.9v0.9h-0.9zM181.9,458.0h0.9v0.9h-0.9zM201.1,417.5h0.9v0.9h-0.9zM194.6,425.9h0.9v0.9h-0.9zM163.4,439.5h0.9v0.9h-0.9zM151.8,458.8h0.9v0.9h-0.9zM158.9,469.1h0.9v0.9h-0.9zM181.4,430.2h0.9v0.9h-0.9zM198.1,411.9h0.9v0.9h-0.9zM191.8,435.7h0.9v0.9h-0.9zM171.7,441.5h0.9v0.9h-0.9zM167.6,446.3h0.9v0.9h-0.9zM181.7,417.9h0.9v0.9h-0.9zM198.2,439.5h0.9v0.9h-0.9zM152.8,458.8h0.9v0.9h-0.9zM191.8,420.1h0.9v0.9h-0.9zM204.9,421.2h0.9v0.9h-0.9zM186.8,414.6h0.9v0.9h-0.9zM174.6,455.1h0.9v0.9h-0.9zM181.8,434.6h0.9v0.9h-0.9zM158.3,461.5h0.9v0.9h-0.9zM192.1,413.6h0.9v0.9h-0.9zM206.5,453.3h0.9v0.9h-0.9zM181.2,457.4h0.9v0.9h-0.9zM176.7,462.4h0.9v0.9h-0.9zM191.6,429.2h0.9v0.9h-0.9zM179.8,435.7h0.9v0.9h-0.9zM183.9,438.9h0.9v0.9h-0.9zM156.9,444.3h0.9v0.9h-0.9zM159.4,467.7h0.9v0.9h-0.9zM160.7,459.1h0.9v0.9h-0.9zM175.6,453.8h0.9v0.9h-0.9zM159.2,456.3h0.9v0.9h-0.9zM154.6,455.7h0.9v0.9h-0.9zM163.3,447.7h0.9v0.9h-0.9zM171.2,447.3h0.9v0.9h-0.9zM199.3,419.2h0.9v0.9h-0.9zM173.7,439.0h0.9v0.9h-0.9zM168.1,453.1h0.9v0.9h-0.9zM195.1,433.4h0.9v0.9h-0.9zM193.0,433.2h0.9v0.9h-0.9zM173.8,439.5h0.9v0.9h-0.9zM193.6,426.3h0.9v0.9h-0.9zM169.2,430.0h0.9v0.9h-0.9zM209.3,419.1h0.9v0.9h-0.9zM173.1,459.6h0.9v0.9h-0.9zM185.1,435.2h0.9v0.9h-0.9zM197.3,414.4h0.9v0.9h-0.9zM195.1,412.4h0.9v0.9h-0.9zM175.5,423.8h0.9v0.9h-0.9zM169.4,441.9h0.9v0.9h-0.9zM170.0,457.6h0.9v0.9h-0.9zM187.9,418.2h0.9v0.9h-0.9zM157.8,453.1h0.9v0.9h-0.9zM169.9,469.8h0.9v0.9h-0.9zM174.7,450.5h0.9v0.9h-0.9zM187.8,417.3h0.9v0.9h-0.9zM176.1,459.9h0.9v0.9h-0.9zM190.3,420.2h0.9v0.9h-0.9zM157.9,461.2h0.9v0.9h-0.9zM167.7,463.2h0.9v0.9h-0.9zM193.0,424.0h0.9v0.9h-0.9zM189.6,426.1h0.9v0.9h-0.9zM185.1,415.8h0.9v0.9h-0.9zM153.8,468.5h0.9v0.9h-0.9zM179.0,422.3h0.9v0.9h-0.9zM166.5,444.2h0.9v0.9h-0.9zM166.3,453.6h0.9v0.9h-0.9zM194.8,413.5h0.9v0.9h-0.9zM195.0,433.3h0.9v0.9h-0.9zM185.6,437.6h0.9v0.9h-0.9zM194.7,413.4h0.9v0.9h-0.9zM151.6,470.3h0.9v0.9h-0.9zM160.8,447.7h0.9v0.9h-0.9zM185.5,402.4h0.9v0.9h-0.9zM200.7,403.1h0.9v0.9h-0.9zM167.5,467.1h0.9v0.9h-0.9zM174.4,440.0h0.9v0.9h-0.9zM190.9,436.2h0.9v0.9h-0.9zM193.8,412.0h0.9v0.9h-0.9zM185.0,431.4h0.9v0.9h-0.9zM162.8,453.7h0.9v0.9h-0.9zM184.2,444.0h0.9v0.9h-0.9zM199.5,414.3h0.9v0.9h-0.9z" fill="#222" fill-opacity="1"/>
<path d="M177.9,440.4h0.7v0.7h-0.7zM205.8,432.5h0.7v0.7h-0.7zM194.7,489.4h0.7v0.7h-0.7zM186.8,498.1h0.7v0.7h-0.7zM152.8,459.1h0.7v0.7h-0.7zM182.8,488.0h0.7v0.7h-0.7zM154.0,440.6h0.7v0.7h-0.7zM174.1,479.5h0.7v0.7h-0.7zM212.9,443.5h0.7v0.7h-0.7zM231.6,462.7h0.7v0.7h-0.7zM187.5,485.5h0.7v0.7h-0.7zM185.9,486.7h0.7v0.7h-0.7zM234.4,422.7h0.7v0.7h-0.7zM168.4,483.1h0.7v0.7h-0.7zM234.3,493.0h0.7v0.7h-0.7zM155.7,455.6h0.7v0.7h-0.7zM188.0,422.4h0.7v0.7h-0.7zM157.5,419.3h0.7v0.7h-0.7zM219.6,471.0h0.7v0.7h-0.7zM158.9,447.4h0.7v0.7h-0.7zM197.5,448.1h0.7v0.7h-0.7zM187.5,426.5h0.7v0.7h-0.7zM216.5,431.6h0.7v0.7h-0.7zM156.5,468.9h0.7v0.7h-0.7zM203.6,405.7h0.7v0.7h-0.7zM219.9,431.4h0.7v0.7h-0.7zM172.9,458.8h0.7v0.7h-0.7zM164.1,426.8h0.7v0.7h-0.7zM197.3,448.9h0.7v0.7h-0.7zM224.7,449.7h0.7v0.7h-0.7zM191.4,408.3h0.7v0.7h-0.7zM234.4,464.7h0.7v0.7h-0.7zM197.0,428.9h0.7v0.7h-0.7zM196.3,475.2h0.7v0.7h-0.7zM184.9,432.4h0.7v0.7h-0.7zM152.3,483.5h0.7v0.7h-0.7zM161.4,470.5h0.7v0.7h-0.7zM181.6,435.4h0.7v0.7h-0.7zM198.0,437.4h0.7v0.7h-0.7zM198.8,472.5h0.7v0.7h-0.7z" fill="#444" fill-opacity="1"/>
<rect x="87.2" y="304.4" width="63.2" height="167.4" fill="none" stroke="#c4122f" stroke-width="2"/>
<text font-size="12.3" font-weight="bold" fill="#111" textLength="79.0" lengthAdjust="spacingAndGlyphs" transform="translate(139.7,387.7) rotate(-90)" >6.30 ± 0.44%</text>
<text x="265.6" y="325.9" font-size="18.5" font-weight="bold" fill="#111" textLength="41.0" lengthAdjust="spacingAndGlyphs" >0 Gy</text>
<line x1="47.7" y1="553.3" x2="47.7" y2="478.0" stroke="#111" stroke-width="1.3" />
<path d="M47.7,469.5 L51.6,480 L43.8,480 Z" fill="#111"/>
<line x1="47.1" y1="553.3" x2="118.0" y2="553.3" stroke="#111" stroke-width="1.3" />
<path d="M126.3,553.3 L116,549.5 L116,557.1 Z" fill="#111"/>
<text font-size="16.2" font-weight="bold" fill="#111" textLength="78.3" lengthAdjust="spacingAndGlyphs" transform="translate(38.3,550.6) rotate(-90)" >BrdU-APC</text>
<text x="63.2" y="575.7" font-size="16" font-weight="bold" fill="#111" textLength="49.0" lengthAdjust="spacingAndGlyphs" >7-AAD</text>
<line x1="360.8" y1="300.3" x2="595.8" y2="300.3" stroke="#1e1e1e" stroke-width="1.1" />
<line x1="595.8" y1="300.3" x2="595.8" y2="525.5" stroke="#1e1e1e" stroke-width="1.1" />
<line x1="360.8" y1="300.3" x2="360.8" y2="526.0" stroke="#1e1e1e" stroke-width="1.2" />
<line x1="360.3" y1="525.5" x2="596.8" y2="525.5" stroke="#1e1e1e" stroke-width="1.2" />
<line x1="354.2" y1="525.5" x2="360.8" y2="525.5" stroke="#1e1e1e" stroke-width="1.1" />
<text x="343.6" y="529.7" font-size="9.7" fill="#141414" text-anchor="end">10</text>
<text x="344.1" y="522.9" font-size="9.2" fill="#141414">0</text>
<line x1="357.4" y1="508.6" x2="360.8" y2="508.6" stroke="#1e1e1e" stroke-width="0.9" />
<line x1="357.4" y1="498.6" x2="360.8" y2="498.6" stroke="#1e1e1e" stroke-width="0.9" />
<line x1="357.4" y1="491.6" x2="360.8" y2="491.6" stroke="#1e1e1e" stroke-width="0.9" />
<line x1="357.4" y1="486.1" x2="360.8" y2="486.1" stroke="#1e1e1e" stroke-width="0.9" />
<line x1="357.4" y1="481.7" x2="360.8" y2="481.7" stroke="#1e1e1e" stroke-width="0.9" />
<line x1="357.4" y1="477.9" x2="360.8" y2="477.9" stroke="#1e1e1e" stroke-width="0.9" />
<line x1="357.4" y1="474.7" x2="360.8" y2="474.7" stroke="#1e1e1e" stroke-width="0.9" />
<line x1="357.4" y1="471.8" x2="360.8" y2="471.8" stroke="#1e1e1e" stroke-width="0.9" />
<line x1="354.2" y1="469.2" x2="360.8" y2="469.2" stroke="#1e1e1e" stroke-width="1.1" />
<text x="343.6" y="473.4" font-size="9.7" fill="#141414" text-anchor="end">10</text>
<text x="344.1" y="466.6" font-size="9.2" fill="#141414">1</text>
<line x1="357.4" y1="452.3" x2="360.8" y2="452.3" stroke="#1e1e1e" stroke-width="0.9" />
<line x1="357.4" y1="442.3" x2="360.8" y2="442.3" stroke="#1e1e1e" stroke-width="0.9" />
<line x1="357.4" y1="435.3" x2="360.8" y2="435.3" stroke="#1e1e1e" stroke-width="0.9" />
<line x1="357.4" y1="429.8" x2="360.8" y2="429.8" stroke="#1e1e1e" stroke-width="0.9" />
<line x1="357.4" y1="425.4" x2="360.8" y2="425.4" stroke="#1e1e1e" stroke-width="0.9" />
<line x1="357.4" y1="421.6" x2="360.8" y2="421.6" stroke="#1e1e1e" stroke-width="0.9" />
<line x1="357.4" y1="418.4" x2="360.8" y2="418.4" stroke="#1e1e1e" stroke-width="0.9" />
<line x1="357.4" y1="415.5" x2="360.8" y2="415.5" stroke="#1e1e1e" stroke-width="0.9" />
<line x1="354.2" y1="412.9" x2="360.8" y2="412.9" stroke="#1e1e1e" stroke-width="1.1" />
<text x="343.6" y="417.1" font-size="9.7" fill="#141414" text-anchor="end">10</text>
<text x="344.1" y="410.3" font-size="9.2" fill="#141414">2</text>
<line x1="357.4" y1="396.0" x2="360.8" y2="396.0" stroke="#1e1e1e" stroke-width="0.9" />
<line x1="357.4" y1="386.0" x2="360.8" y2="386.0" stroke="#1e1e1e" stroke-width="0.9" />
<line x1="357.4" y1="379.0" x2="360.8" y2="379.0" stroke="#1e1e1e" stroke-width="0.9" />
<line x1="357.4" y1="373.5" x2="360.8" y2="373.5" stroke="#1e1e1e" stroke-width="0.9" />
<line x1="357.4" y1="369.1" x2="360.8" y2="369.1" stroke="#1e1e1e" stroke-width="0.9" />
<line x1="357.4" y1="365.3" x2="360.8" y2="365.3" stroke="#1e1e1e" stroke-width="0.9" />
<line x1="357.4" y1="362.1" x2="360.8" y2="362.1" stroke="#1e1e1e" stroke-width="0.9" />
<line x1="357.4" y1="359.2" x2="360.8" y2="359.2" stroke="#1e1e1e" stroke-width="0.9" />
<line x1="354.2" y1="356.6" x2="360.8" y2="356.6" stroke="#1e1e1e" stroke-width="1.1" />
<text x="343.6" y="360.8" font-size="9.7" fill="#141414" text-anchor="end">10</text>
<text x="344.1" y="354.0" font-size="9.2" fill="#141414">3</text>
<line x1="357.4" y1="339.7" x2="360.8" y2="339.7" stroke="#1e1e1e" stroke-width="0.9" />
<line x1="357.4" y1="329.7" x2="360.8" y2="329.7" stroke="#1e1e1e" stroke-width="0.9" />
<line x1="357.4" y1="322.7" x2="360.8" y2="322.7" stroke="#1e1e1e" stroke-width="0.9" />
<line x1="357.4" y1="317.2" x2="360.8" y2="317.2" stroke="#1e1e1e" stroke-width="0.9" />
<line x1="357.4" y1="312.8" x2="360.8" y2="312.8" stroke="#1e1e1e" stroke-width="0.9" />
<line x1="357.4" y1="309.0" x2="360.8" y2="309.0" stroke="#1e1e1e" stroke-width="0.9" />
<line x1="357.4" y1="305.8" x2="360.8" y2="305.8" stroke="#1e1e1e" stroke-width="0.9" />
<line x1="357.4" y1="302.9" x2="360.8" y2="302.9" stroke="#1e1e1e" stroke-width="0.9" />
<line x1="354.2" y1="300.3" x2="360.8" y2="300.3" stroke="#1e1e1e" stroke-width="1.1" />
<text x="343.6" y="304.5" font-size="9.7" fill="#141414" text-anchor="end">10</text>
<text x="344.1" y="297.7" font-size="9.2" fill="#141414">4</text>
<line x1="360.8" y1="525.5" x2="360.8" y2="531.1" stroke="#1e1e1e" stroke-width="1.1" />
<line x1="372.3" y1="525.5" x2="372.3" y2="528.5" stroke="#1e1e1e" stroke-width="0.8" />
<line x1="383.8" y1="525.5" x2="383.8" y2="528.5" stroke="#1e1e1e" stroke-width="0.8" />
<line x1="395.3" y1="525.5" x2="395.3" y2="528.5" stroke="#1e1e1e" stroke-width="0.8" />
<line x1="406.8" y1="525.5" x2="406.8" y2="531.1" stroke="#1e1e1e" stroke-width="1.1" />
<text x="402.5" y="545.0" font-size="9.4" fill="#141414" text-anchor="middle">200</text>
<line x1="418.3" y1="525.5" x2="418.3" y2="528.5" stroke="#1e1e1e" stroke-width="0.8" />
<line x1="429.8" y1="525.5" x2="429.8" y2="528.5" stroke="#1e1e1e" stroke-width="0.8" />
<line x1="441.3" y1="525.5" x2="441.3" y2="528.5" stroke="#1e1e1e" stroke-width="0.8" />
<line x1="452.8" y1="525.5" x2="452.8" y2="531.1" stroke="#1e1e1e" stroke-width="1.1" />
<text x="448.5" y="545.0" font-size="9.4" fill="#141414" text-anchor="middle">400</text>
<line x1="464.3" y1="525.5" x2="464.3" y2="528.5" stroke="#1e1e1e" stroke-width="0.8" />
<line x1="475.8" y1="525.5" x2="475.8" y2="528.5" stroke="#1e1e1e" stroke-width="0.8" />
<line x1="487.3" y1="525.5" x2="487.3" y2="528.5" stroke="#1e1e1e" stroke-width="0.8" />
<line x1="498.8" y1="525.5" x2="498.8" y2="531.1" stroke="#1e1e1e" stroke-width="1.1" />
<text x="494.5" y="545.0" font-size="9.4" fill="#141414" text-anchor="middle">600</text>
<line x1="510.3" y1="525.5" x2="510.3" y2="528.5" stroke="#1e1e1e" stroke-width="0.8" />
<line x1="521.8" y1="525.5" x2="521.8" y2="528.5" stroke="#1e1e1e" stroke-width="0.8" />
<line x1="533.3" y1="525.5" x2="533.3" y2="528.5" stroke="#1e1e1e" stroke-width="0.8" />
<line x1="544.8" y1="525.5" x2="544.8" y2="531.1" stroke="#1e1e1e" stroke-width="1.1" />
<text x="540.5" y="545.0" font-size="9.4" fill="#141414" text-anchor="middle">800</text>
<line x1="556.3" y1="525.5" x2="556.3" y2="528.5" stroke="#1e1e1e" stroke-width="0.8" />
<line x1="567.8" y1="525.5" x2="567.8" y2="528.5" stroke="#1e1e1e" stroke-width="0.8" />
<line x1="579.3" y1="525.5" x2="579.3" y2="528.5" stroke="#1e1e1e" stroke-width="0.8" />
<line x1="590.8" y1="525.5" x2="590.8" y2="531.1" stroke="#1e1e1e" stroke-width="1.1" />
<text x="586.5" y="545.0" font-size="9.4" fill="#141414" text-anchor="middle">1000</text>
<line x1="423.9" y1="300.3" x2="423.9" y2="525.5" stroke="#1e1e1e" stroke-width="1.1" />
<line x1="423.9" y1="473.4" x2="595.8" y2="473.4" stroke="#1e1e1e" stroke-width="1.1" />
<rect x="421.6" y="299.5" width="4.6" height="2.2" fill="#333" />
<rect x="594.6" y="470.8" width="2.2" height="5.2" fill="#333" />
<ellipse cx="411.2" cy="490.6" rx="8.4" ry="15.4" fill="url(#cl)" transform="rotate(4 411.2 490.6)"/>
<path d="M401.7,488.7h0.75v0.75h-0.75zM420.2,485.0h0.75v0.75h-0.75zM412.1,474.0h0.75v0.75h-0.75zM409.5,505.6h0.75v0.75h-0.75zM413.0,508.5h0.75v0.75h-0.75zM408.0,477.0h0.75v0.75h-0.75zM416.0,505.6h0.75v0.75h-0.75zM402.9,502.5h0.75v0.75h-0.75zM405.1,480.6h0.75v0.75h-0.75zM402.5,500.2h0.75v0.75h-0.75zM422.1,490.9h0.75v0.75h-0.75zM419.9,476.7h0.75v0.75h-0.75zM418.2,479.5h0.75v0.75h-0.75zM408.6,505.0h0.75v0.75h-0.75zM404.3,482.8h0.75v0.75h-0.75zM420.7,488.3h0.75v0.75h-0.75zM416.2,477.5h0.75v0.75h-0.75zM419.6,497.1h0.75v0.75h-0.75zM408.6,506.6h0.75v0.75h-0.75zM408.6,509.8h0.75v0.75h-0.75zM415.3,475.5h0.75v0.75h-0.75zM403.9,477.4h0.75v0.75h-0.75zM419.7,503.3h0.75v0.75h-0.75zM422.4,490.7h0.75v0.75h-0.75zM420.7,484.1h0.75v0.75h-0.75zM420.0,510.1h0.75v0.75h-0.75zM403.9,497.7h0.75v0.75h-0.75zM403.8,509.7h0.75v0.75h-0.75zM417.6,478.3h0.75v0.75h-0.75zM401.7,498.8h0.75v0.75h-0.75zM415.6,476.0h0.75v0.75h-0.75zM409.5,475.5h0.75v0.75h-0.75zM417.8,501.6h0.75v0.75h-0.75zM403.6,481.1h0.75v0.75h-0.75zM417.1,501.8h0.75v0.75h-0.75zM418.8,497.8h0.75v0.75h-0.75zM416.0,475.1h0.75v0.75h-0.75zM402.3,494.2h0.75v0.75h-0.75zM416.2,505.2h0.75v0.75h-0.75zM402.1,485.5h0.75v0.75h-0.75zM402.1,480.5h0.75v0.75h-0.75zM412.5,474.4h0.75v0.75h-0.75zM406.3,477.6h0.75v0.75h-0.75zM400.1,483.1h0.75v0.75h-0.75zM415.7,507.2h0.75v0.75h-0.75zM411.7,506.0h0.75v0.75h-0.75zM403.1,490.0h0.75v0.75h-0.75zM404.6,499.5h0.75v0.75h-0.75zM401.7,492.4h0.75v0.75h-0.75zM419.1,486.6h0.75v0.75h-0.75zM417.8,482.2h0.75v0.75h-0.75zM401.4,490.0h0.75v0.75h-0.75zM414.8,477.1h0.75v0.75h-0.75zM416.6,472.5h0.75v0.75h-0.75zM412.2,505.9h0.75v0.75h-0.75zM419.4,498.6h0.75v0.75h-0.75zM400.0,495.0h0.75v0.75h-0.75zM419.0,477.2h0.75v0.75h-0.75zM416.5,503.2h0.75v0.75h-0.75zM412.5,510.1h0.75v0.75h-0.75zM418.6,483.0h0.75v0.75h-0.75zM417.4,502.2h0.75v0.75h-0.75zM421.4,480.0h0.75v0.75h-0.75zM412.3,510.6h0.75v0.75h-0.75zM404.6,480.0h0.75v0.75h-0.75zM419.8,485.7h0.75v0.75h-0.75zM410.9,508.1h0.75v0.75h-0.75zM402.5,495.7h0.75v0.75h-0.75zM422.7,487.0h0.75v0.75h-0.75zM411.9,509.1h0.75v0.75h-0.75zM414.5,508.3h0.75v0.75h-0.75zM406.9,471.8h0.75v0.75h-0.75zM416.0,478.0h0.75v0.75h-0.75zM401.1,496.1h0.75v0.75h-0.75zM417.9,499.5h0.75v0.75h-0.75zM403.7,477.6h0.75v0.75h-0.75zM418.9,498.6h0.75v0.75h-0.75zM419.6,495.8h0.75v0.75h-0.75zM406.1,503.9h0.75v0.75h-0.75zM418.0,482.4h0.75v0.75h-0.75zM414.0,474.9h0.75v0.75h-0.75zM404.0,502.1h0.75v0.75h-0.75zM419.2,500.0h0.75v0.75h-0.75zM418.5,503.9h0.75v0.75h-0.75zM402.8,487.3h0.75v0.75h-0.75zM401.5,489.8h0.75v0.75h-0.75zM402.2,490.2h0.75v0.75h-0.75zM417.9,502.9h0.75v0.75h-0.75zM413.9,472.5h0.75v0.75h-0.75zM402.0,479.3h0.75v0.75h-0.75zM411.7,472.8h0.75v0.75h-0.75zM402.9,494.5h0.75v0.75h-0.75zM418.9,497.6h0.75v0.75h-0.75zM404.7,481.8h0.75v0.75h-0.75zM403.4,496.6h0.75v0.75h-0.75zM423.8,491.5h0.75v0.75h-0.75zM419.8,495.3h0.75v0.75h-0.75zM404.1,497.8h0.75v0.75h-0.75zM418.1,478.7h0.75v0.75h-0.75zM403.7,496.6h0.75v0.75h-0.75zM405.3,477.2h0.75v0.75h-0.75zM403.8,484.5h0.75v0.75h-0.75zM411.7,506.4h0.75v0.75h-0.75zM408.6,506.3h0.75v0.75h-0.75zM423.2,491.3h0.75v0.75h-0.75zM417.4,502.3h0.75v0.75h-0.75zM402.7,487.8h0.75v0.75h-0.75zM406.0,478.2h0.75v0.75h-0.75zM416.3,502.5h0.75v0.75h-0.75zM407.4,473.1h0.75v0.75h-0.75zM404.3,480.9h0.75v0.75h-0.75zM419.6,487.1h0.75v0.75h-0.75zM416.4,476.5h0.75v0.75h-0.75zM402.8,488.8h0.75v0.75h-0.75zM401.8,477.8h0.75v0.75h-0.75zM420.6,500.7h0.75v0.75h-0.75zM419.5,486.2h0.75v0.75h-0.75zM420.5,477.6h0.75v0.75h-0.75zM402.8,484.8h0.75v0.75h-0.75zM409.3,507.2h0.75v0.75h-0.75zM405.8,479.1h0.75v0.75h-0.75zM403.5,498.5h0.75v0.75h-0.75zM405.3,479.6h0.75v0.75h-0.75zM403.1,501.7h0.75v0.75h-0.75zM408.5,504.8h0.75v0.75h-0.75zM402.4,502.4h0.75v0.75h-0.75zM417.5,475.0h0.75v0.75h-0.75zM415.7,477.6h0.75v0.75h-0.75zM409.3,505.7h0.75v0.75h-0.75zM406.8,503.2h0.75v0.75h-0.75zM402.3,492.2h0.75v0.75h-0.75zM403.6,502.8h0.75v0.75h-0.75zM405.3,510.3h0.75v0.75h-0.75zM401.6,487.4h0.75v0.75h-0.75zM419.4,500.9h0.75v0.75h-0.75zM421.8,493.4h0.75v0.75h-0.75zM414.5,505.7h0.75v0.75h-0.75zM420.6,486.5h0.75v0.75h-0.75zM411.8,474.3h0.75v0.75h-0.75zM403.0,488.6h0.75v0.75h-0.75zM418.1,502.6h0.75v0.75h-0.75zM421.7,490.4h0.75v0.75h-0.75zM417.5,481.0h0.75v0.75h-0.75zM419.9,486.5h0.75v0.75h-0.75zM403.4,484.5h0.75v0.75h-0.75zM407.8,510.0h0.75v0.75h-0.75zM414.5,504.3h0.75v0.75h-0.75zM413.6,468.4h0.75v0.75h-0.75zM417.0,506.1h0.75v0.75h-0.75zM403.2,480.0h0.75v0.75h-0.75zM410.4,472.1h0.75v0.75h-0.75zM401.1,482.6h0.75v0.75h-0.75zM413.8,474.5h0.75v0.75h-0.75zM419.6,483.1h0.75v0.75h-0.75zM419.5,498.9h0.75v0.75h-0.75zM420.1,504.9h0.75v0.75h-0.75zM418.9,502.5h0.75v0.75h-0.75zM408.3,512.0h0.75v0.75h-0.75zM401.9,485.0h0.75v0.75h-0.75zM403.2,495.8h0.75v0.75h-0.75zM403.0,495.4h0.75v0.75h-0.75zM408.0,476.5h0.75v0.75h-0.75zM417.0,504.6h0.75v0.75h-0.75zM417.2,500.6h0.75v0.75h-0.75zM417.6,504.5h0.75v0.75h-0.75zM416.1,477.5h0.75v0.75h-0.75zM402.4,507.2h0.75v0.75h-0.75zM402.7,477.8h0.75v0.75h-0.75zM419.1,481.7h0.75v0.75h-0.75zM414.9,505.3h0.75v0.75h-0.75zM420.3,495.9h0.75v0.75h-0.75zM410.2,511.1h0.75v0.75h-0.75zM403.5,503.5h0.75v0.75h-0.75zM399.2,485.7h0.75v0.75h-0.75zM413.8,506.8h0.75v0.75h-0.75zM411.7,473.1h0.75v0.75h-0.75zM404.1,479.1h0.75v0.75h-0.75zM413.0,473.2h0.75v0.75h-0.75zM414.4,506.4h0.75v0.75h-0.75zM411.4,507.4h0.75v0.75h-0.75zM405.6,478.3h0.75v0.75h-0.75zM403.2,501.0h0.75v0.75h-0.75zM421.0,486.4h0.75v0.75h-0.75zM412.1,472.0h0.75v0.75h-0.75zM415.3,504.1h0.75v0.75h-0.75zM419.2,503.9h0.75v0.75h-0.75zM407.0,504.2h0.75v0.75h-0.75zM414.7,470.4h0.75v0.75h-0.75zM404.6,481.4h0.75v0.75h-0.75zM413.3,509.2h0.75v0.75h-0.75zM420.4,493.6h0.75v0.75h-0.75zM402.2,489.3h0.75v0.75h-0.75zM419.8,484.5h0.75v0.75h-0.75zM401.9,481.9h0.75v0.75h-0.75zM421.1,485.2h0.75v0.75h-0.75zM400.8,492.9h0.75v0.75h-0.75zM420.0,489.7h0.75v0.75h-0.75zM399.5,491.5h0.75v0.75h-0.75zM415.8,475.0h0.75v0.75h-0.75zM409.4,510.2h0.75v0.75h-0.75zM419.0,496.9h0.75v0.75h-0.75zM409.6,474.4h0.75v0.75h-0.75zM417.1,500.8h0.75v0.75h-0.75zM414.3,476.6h0.75v0.75h-0.75zM419.0,484.5h0.75v0.75h-0.75zM406.0,504.8h0.75v0.75h-0.75zM406.1,512.7h0.75v0.75h-0.75zM403.1,480.0h0.75v0.75h-0.75zM407.6,472.9h0.75v0.75h-0.75zM420.1,495.3h0.75v0.75h-0.75zM404.7,478.7h0.75v0.75h-0.75zM415.5,506.0h0.75v0.75h-0.75zM420.6,500.0h0.75v0.75h-0.75zM407.0,508.3h0.75v0.75h-0.75zM402.7,499.7h0.75v0.75h-0.75zM402.8,502.3h0.75v0.75h-0.75zM409.6,473.8h0.75v0.75h-0.75zM401.5,489.3h0.75v0.75h-0.75zM405.3,506.6h0.75v0.75h-0.75zM401.6,494.0h0.75v0.75h-0.75zM401.9,485.6h0.75v0.75h-0.75zM415.8,476.7h0.75v0.75h-0.75zM406.5,502.5h0.75v0.75h-0.75zM413.1,474.2h0.75v0.75h-0.75zM405.7,476.7h0.75v0.75h-0.75zM417.0,479.9h0.75v0.75h-0.75zM403.3,499.5h0.75v0.75h-0.75zM416.0,510.4h0.75v0.75h-0.75zM418.1,498.8h0.75v0.75h-0.75zM402.3,484.6h0.75v0.75h-0.75zM420.4,488.2h0.75v0.75h-0.75zM407.8,511.3h0.75v0.75h-0.75zM404.9,499.6h0.75v0.75h-0.75zM414.8,476.4h0.75v0.75h-0.75zM404.6,500.0h0.75v0.75h-0.75zM420.5,476.9h0.75v0.75h-0.75zM421.6,494.2h0.75v0.75h-0.75zM420.7,478.2h0.75v0.75h-0.75zM408.7,507.5h0.75v0.75h-0.75zM422.2,488.2h0.75v0.75h-0.75zM412.5,474.3h0.75v0.75h-0.75zM415.7,470.9h0.75v0.75h-0.75zM401.3,493.4h0.75v0.75h-0.75zM408.1,506.9h0.75v0.75h-0.75zM407.5,503.9h0.75v0.75h-0.75zM418.9,478.7h0.75v0.75h-0.75zM401.1,499.2h0.75v0.75h-0.75zM420.4,490.9h0.75v0.75h-0.75zM404.3,479.2h0.75v0.75h-0.75zM405.8,479.1h0.75v0.75h-0.75zM403.2,479.9h0.75v0.75h-0.75zM418.6,498.4h0.75v0.75h-0.75zM415.8,511.0h0.75v0.75h-0.75zM412.4,476.1h0.75v0.75h-0.75zM404.3,482.7h0.75v0.75h-0.75zM406.7,471.7h0.75v0.75h-0.75zM418.9,497.4h0.75v0.75h-0.75zM400.8,483.0h0.75v0.75h-0.75zM410.7,507.5h0.75v0.75h-0.75zM412.9,507.1h0.75v0.75h-0.75zM418.2,501.6h0.75v0.75h-0.75zM417.9,499.3h0.75v0.75h-0.75zM411.6,506.9h0.75v0.75h-0.75zM411.0,472.7h0.75v0.75h-0.75zM404.0,481.9h0.75v0.75h-0.75zM399.4,485.6h0.75v0.75h-0.75zM405.3,501.2h0.75v0.75h-0.75zM412.1,507.6h0.75v0.75h-0.75zM401.2,479.1h0.75v0.75h-0.75zM417.7,472.7h0.75v0.75h-0.75zM403.0,492.7h0.75v0.75h-0.75zM420.3,500.1h0.75v0.75h-0.75zM422.1,481.9h0.75v0.75h-0.75zM400.4,492.3h0.75v0.75h-0.75zM418.1,503.0h0.75v0.75h-0.75zM416.6,475.1h0.75v0.75h-0.75zM403.0,503.9h0.75v0.75h-0.75zM418.7,501.6h0.75v0.75h-0.75zM423.6,484.2h0.75v0.75h-0.75zM405.2,506.7h0.75v0.75h-0.75zM413.3,507.2h0.75v0.75h-0.75zM402.7,494.7h0.75v0.75h-0.75zM420.2,493.1h0.75v0.75h-0.75zM411.6,512.7h0.75v0.75h-0.75zM405.6,476.0h0.75v0.75h-0.75zM406.9,503.3h0.75v0.75h-0.75zM420.7,492.9h0.75v0.75h-0.75zM409.9,507.3h0.75v0.75h-0.75zM420.2,486.6h0.75v0.75h-0.75zM408.8,472.8h0.75v0.75h-0.75zM404.8,480.7h0.75v0.75h-0.75zM421.3,495.5h0.75v0.75h-0.75zM420.3,488.4h0.75v0.75h-0.75zM400.7,484.8h0.75v0.75h-0.75zM402.0,489.3h0.75v0.75h-0.75zM414.7,475.2h0.75v0.75h-0.75zM409.5,476.1h0.75v0.75h-0.75zM415.6,476.3h0.75v0.75h-0.75zM416.2,502.5h0.75v0.75h-0.75zM402.1,480.2h0.75v0.75h-0.75zM416.2,477.8h0.75v0.75h-0.75zM405.3,506.8h0.75v0.75h-0.75zM417.9,506.0h0.75v0.75h-0.75zM415.3,507.3h0.75v0.75h-0.75zM415.6,503.6h0.75v0.75h-0.75zM403.6,497.5h0.75v0.75h-0.75zM403.0,479.1h0.75v0.75h-0.75zM419.0,500.0h0.75v0.75h-0.75zM422.4,494.0h0.75v0.75h-0.75zM419.6,500.0h0.75v0.75h-0.75zM409.9,508.1h0.75v0.75h-0.75zM405.1,507.2h0.75v0.75h-0.75zM412.7,474.7h0.75v0.75h-0.75zM410.8,473.1h0.75v0.75h-0.75zM417.9,500.6h0.75v0.75h-0.75zM401.4,493.0h0.75v0.75h-0.75zM405.7,477.5h0.75v0.75h-0.75zM415.7,478.4h0.75v0.75h-0.75zM403.8,501.8h0.75v0.75h-0.75zM407.5,506.0h0.75v0.75h-0.75zM403.2,498.9h0.75v0.75h-0.75zM401.8,497.0h0.75v0.75h-0.75zM402.5,476.5h0.75v0.75h-0.75zM419.8,490.2h0.75v0.75h-0.75zM404.2,472.8h0.75v0.75h-0.75zM404.4,476.7h0.75v0.75h-0.75zM403.3,487.5h0.75v0.75h-0.75zM405.0,504.9h0.75v0.75h-0.75zM417.3,476.5h0.75v0.75h-0.75zM416.1,505.2h0.75v0.75h-0.75zM412.2,472.6h0.75v0.75h-0.75zM411.7,471.0h0.75v0.75h-0.75zM419.4,495.3h0.75v0.75h-0.75zM401.1,495.8h0.75v0.75h-0.75zM408.7,471.8h0.75v0.75h-0.75zM401.4,482.2h0.75v0.75h-0.75zM404.4,505.1h0.75v0.75h-0.75zM410.0,505.4h0.75v0.75h-0.75zM421.3,496.4h0.75v0.75h-0.75zM418.4,498.4h0.75v0.75h-0.75zM420.6,490.1h0.75v0.75h-0.75zM405.4,479.4h0.75v0.75h-0.75zM413.6,475.4h0.75v0.75h-0.75zM420.2,492.3h0.75v0.75h-0.75zM417.4,501.1h0.75v0.75h-0.75zM404.3,500.1h0.75v0.75h-0.75zM416.9,475.3h0.75v0.75h-0.75zM408.6,505.6h0.75v0.75h-0.75zM414.3,505.6h0.75v0.75h-0.75zM417.4,478.9h0.75v0.75h-0.75zM417.6,481.6h0.75v0.75h-0.75zM422.4,487.9h0.75v0.75h-0.75zM418.6,498.3h0.75v0.75h-0.75zM402.1,496.2h0.75v0.75h-0.75zM412.4,505.2h0.75v0.75h-0.75zM414.0,476.5h0.75v0.75h-0.75zM406.2,503.2h0.75v0.75h-0.75zM413.2,509.0h0.75v0.75h-0.75zM414.9,472.9h0.75v0.75h-0.75zM402.7,492.8h0.75v0.75h-0.75zM418.9,495.2h0.75v0.75h-0.75zM401.7,506.8h0.75v0.75h-0.75zM402.3,491.7h0.75v0.75h-0.75zM407.1,475.7h0.75v0.75h-0.75zM407.9,509.7h0.75v0.75h-0.75zM424.5,492.9h0.75v0.75h-0.75zM403.2,480.2h0.75v0.75h-0.75zM414.8,476.6h0.75v0.75h-0.75zM413.7,508.0h0.75v0.75h-0.75zM404.5,477.2h0.75v0.75h-0.75zM410.0,471.9h0.75v0.75h-0.75zM419.5,487.5h0.75v0.75h-0.75zM419.0,499.2h0.75v0.75h-0.75zM407.8,477.1h0.75v0.75h-0.75zM401.8,482.9h0.75v0.75h-0.75zM416.1,506.5h0.75v0.75h-0.75zM399.1,495.7h0.75v0.75h-0.75zM419.9,491.8h0.75v0.75h-0.75zM420.2,493.0h0.75v0.75h-0.75zM421.0,492.7h0.75v0.75h-0.75zM404.3,499.4h0.75v0.75h-0.75zM402.6,487.1h0.75v0.75h-0.75zM410.5,507.6h0.75v0.75h-0.75zM401.4,488.5h0.75v0.75h-0.75zM399.8,493.5h0.75v0.75h-0.75zM408.8,506.8h0.75v0.75h-0.75zM402.5,501.2h0.75v0.75h-0.75zM401.3,493.5h0.75v0.75h-0.75zM402.4,497.2h0.75v0.75h-0.75zM422.4,492.7h0.75v0.75h-0.75zM408.5,473.4h0.75v0.75h-0.75zM411.8,473.1h0.75v0.75h-0.75zM409.9,506.8h0.75v0.75h-0.75zM401.4,494.5h0.75v0.75h-0.75zM409.0,466.5h0.75v0.75h-0.75zM418.3,497.9h0.75v0.75h-0.75zM417.8,474.0h0.75v0.75h-0.75zM409.1,470.8h0.75v0.75h-0.75zM419.7,489.7h0.75v0.75h-0.75zM401.0,497.1h0.75v0.75h-0.75zM410.9,515.6h0.75v0.75h-0.75zM416.2,504.9h0.75v0.75h-0.75zM418.2,477.3h0.75v0.75h-0.75zM407.2,473.4h0.75v0.75h-0.75zM402.3,505.6h0.75v0.75h-0.75zM412.4,505.7h0.75v0.75h-0.75zM413.3,472.3h0.75v0.75h-0.75zM419.5,488.2h0.75v0.75h-0.75zM417.2,480.6h0.75v0.75h-0.75zM411.0,509.7h0.75v0.75h-0.75zM403.0,475.5h0.75v0.75h-0.75zM397.8,491.4h0.75v0.75h-0.75zM418.5,497.0h0.75v0.75h-0.75zM399.5,484.4h0.75v0.75h-0.75zM417.0,479.7h0.75v0.75h-0.75zM420.5,493.8h0.75v0.75h-0.75zM419.4,499.7h0.75v0.75h-0.75zM407.3,507.1h0.75v0.75h-0.75zM420.1,491.3h0.75v0.75h-0.75zM415.0,506.7h0.75v0.75h-0.75zM417.7,478.8h0.75v0.75h-0.75zM414.9,506.8h0.75v0.75h-0.75zM402.9,473.0h0.75v0.75h-0.75zM405.8,478.0h0.75v0.75h-0.75zM414.9,505.3h0.75v0.75h-0.75zM405.4,477.2h0.75v0.75h-0.75zM418.0,505.2h0.75v0.75h-0.75zM406.2,472.5h0.75v0.75h-0.75zM420.5,484.0h0.75v0.75h-0.75zM407.4,506.1h0.75v0.75h-0.75zM420.3,499.4h0.75v0.75h-0.75zM419.3,498.9h0.75v0.75h-0.75zM407.7,476.6h0.75v0.75h-0.75zM402.0,491.5h0.75v0.75h-0.75zM421.2,493.1h0.75v0.75h-0.75zM399.1,496.6h0.75v0.75h-0.75zM417.3,480.6h0.75v0.75h-0.75zM404.2,504.6h0.75v0.75h-0.75zM403.4,497.3h0.75v0.75h-0.75zM409.6,505.1h0.75v0.75h-0.75zM401.5,503.9h0.75v0.75h-0.75zM416.1,509.2h0.75v0.75h-0.75zM418.5,499.1h0.75v0.75h-0.75zM419.0,484.3h0.75v0.75h-0.75zM399.9,496.6h0.75v0.75h-0.75zM408.5,504.9h0.75v0.75h-0.75zM412.4,506.3h0.75v0.75h-0.75zM409.9,473.2h0.75v0.75h-0.75zM410.1,506.0h0.75v0.75h-0.75zM411.2,474.1h0.75v0.75h-0.75zM415.0,508.8h0.75v0.75h-0.75zM401.0,500.3h0.75v0.75h-0.75zM414.2,475.5h0.75v0.75h-0.75zM419.9,471.1h0.75v0.75h-0.75zM421.6,482.3h0.75v0.75h-0.75zM402.2,490.8h0.75v0.75h-0.75zM408.8,471.0h0.75v0.75h-0.75zM402.9,498.9h0.75v0.75h-0.75zM418.0,499.2h0.75v0.75h-0.75zM401.4,489.2h0.75v0.75h-0.75zM406.6,512.3h0.75v0.75h-0.75zM419.4,497.1h0.75v0.75h-0.75zM406.4,503.0h0.75v0.75h-0.75zM406.0,507.6h0.75v0.75h-0.75zM402.0,482.8h0.75v0.75h-0.75zM412.4,473.6h0.75v0.75h-0.75zM404.9,481.3h0.75v0.75h-0.75zM401.7,485.9h0.75v0.75h-0.75zM415.9,504.9h0.75v0.75h-0.75zM420.5,503.9h0.75v0.75h-0.75zM414.3,504.8h0.75v0.75h-0.75zM409.8,475.0h0.75v0.75h-0.75zM411.7,512.5h0.75v0.75h-0.75zM412.3,474.6h0.75v0.75h-0.75zM406.6,477.6h0.75v0.75h-0.75zM413.6,475.5h0.75v0.75h-0.75zM406.6,509.9h0.75v0.75h-0.75zM410.6,470.8h0.75v0.75h-0.75zM403.2,487.1h0.75v0.75h-0.75zM409.5,507.7h0.75v0.75h-0.75zM402.5,488.1h0.75v0.75h-0.75zM420.6,483.5h0.75v0.75h-0.75zM415.4,470.1h0.75v0.75h-0.75zM423.6,497.5h0.75v0.75h-0.75zM417.6,503.5h0.75v0.75h-0.75zM421.3,492.2h0.75v0.75h-0.75zM415.1,505.6h0.75v0.75h-0.75zM416.9,507.5h0.75v0.75h-0.75zM417.8,473.2h0.75v0.75h-0.75zM413.5,514.9h0.75v0.75h-0.75zM402.2,497.4h0.75v0.75h-0.75zM413.4,506.6h0.75v0.75h-0.75zM401.4,495.4h0.75v0.75h-0.75zM420.0,486.4h0.75v0.75h-0.75zM414.1,472.7h0.75v0.75h-0.75zM420.4,491.5h0.75v0.75h-0.75zM420.2,483.5h0.75v0.75h-0.75zM418.5,510.1h0.75v0.75h-0.75zM413.2,505.5h0.75v0.75h-0.75zM415.8,505.0h0.75v0.75h-0.75zM418.7,477.8h0.75v0.75h-0.75zM408.3,474.8h0.75v0.75h-0.75zM403.1,483.4h0.75v0.75h-0.75zM399.3,498.2h0.75v0.75h-0.75zM406.1,501.9h0.75v0.75h-0.75zM419.8,487.2h0.75v0.75h-0.75zM406.2,508.2h0.75v0.75h-0.75zM411.0,510.5h0.75v0.75h-0.75zM407.7,474.8h0.75v0.75h-0.75zM420.4,476.8h0.75v0.75h-0.75zM399.1,500.9h0.75v0.75h-0.75zM403.6,505.8h0.75v0.75h-0.75zM417.7,506.5h0.75v0.75h-0.75zM403.3,500.1h0.75v0.75h-0.75zM401.3,478.4h0.75v0.75h-0.75zM405.4,474.0h0.75v0.75h-0.75zM410.6,511.6h0.75v0.75h-0.75zM422.0,496.3h0.75v0.75h-0.75zM408.9,510.8h0.75v0.75h-0.75zM402.9,498.1h0.75v0.75h-0.75zM420.6,490.7h0.75v0.75h-0.75zM419.6,494.8h0.75v0.75h-0.75zM419.2,475.4h0.75v0.75h-0.75zM419.8,491.4h0.75v0.75h-0.75zM421.9,494.4h0.75v0.75h-0.75zM401.3,490.9h0.75v0.75h-0.75zM413.1,511.0h0.75v0.75h-0.75zM404.0,503.6h0.75v0.75h-0.75zM404.5,505.6h0.75v0.75h-0.75zM419.4,484.7h0.75v0.75h-0.75zM407.7,473.2h0.75v0.75h-0.75zM413.3,475.5h0.75v0.75h-0.75zM402.4,490.5h0.75v0.75h-0.75zM419.8,494.2h0.75v0.75h-0.75zM401.4,491.6h0.75v0.75h-0.75zM419.5,497.9h0.75v0.75h-0.75zM406.1,478.4h0.75v0.75h-0.75zM414.8,506.9h0.75v0.75h-0.75zM398.7,488.7h0.75v0.75h-0.75zM405.2,504.0h0.75v0.75h-0.75zM405.9,502.7h0.75v0.75h-0.75zM419.4,490.1h0.75v0.75h-0.75zM419.3,484.7h0.75v0.75h-0.75zM404.8,501.3h0.75v0.75h-0.75zM402.0,489.3h0.75v0.75h-0.75zM417.5,501.8h0.75v0.75h-0.75zM407.7,504.5h0.75v0.75h-0.75zM419.6,483.3h0.75v0.75h-0.75zM419.6,491.4h0.75v0.75h-0.75zM403.8,483.7h0.75v0.75h-0.75zM415.1,506.0h0.75v0.75h-0.75zM413.0,505.5h0.75v0.75h-0.75zM401.7,488.4h0.75v0.75h-0.75zM412.5,508.7h0.75v0.75h-0.75zM414.0,474.4h0.75v0.75h-0.75zM401.8,492.6h0.75v0.75h-0.75zM408.9,475.7h0.75v0.75h-0.75zM405.0,502.3h0.75v0.75h-0.75zM404.0,499.2h0.75v0.75h-0.75zM402.0,486.3h0.75v0.75h-0.75zM418.5,470.2h0.75v0.75h-0.75zM402.5,494.7h0.75v0.75h-0.75zM421.7,483.8h0.75v0.75h-0.75zM401.0,500.3h0.75v0.75h-0.75zM410.5,508.0h0.75v0.75h-0.75zM411.9,465.7h0.75v0.75h-0.75zM410.5,510.2h0.75v0.75h-0.75zM418.5,483.0h0.75v0.75h-0.75zM402.1,498.5h0.75v0.75h-0.75zM399.0,485.9h0.75v0.75h-0.75zM414.7,505.0h0.75v0.75h-0.75zM403.6,502.8h0.75v0.75h-0.75zM421.2,475.0h0.75v0.75h-0.75zM413.5,507.9h0.75v0.75h-0.75zM421.4,491.3h0.75v0.75h-0.75zM406.3,478.1h0.75v0.75h-0.75zM418.4,474.9h0.75v0.75h-0.75zM418.6,499.3h0.75v0.75h-0.75zM419.4,487.0h0.75v0.75h-0.75zM418.7,501.1h0.75v0.75h-0.75zM416.0,503.9h0.75v0.75h-0.75zM417.3,476.7h0.75v0.75h-0.75zM412.1,507.4h0.75v0.75h-0.75zM410.8,473.5h0.75v0.75h-0.75zM400.9,490.3h0.75v0.75h-0.75zM419.2,483.5h0.75v0.75h-0.75zM401.0,486.2h0.75v0.75h-0.75zM417.0,511.1h0.75v0.75h-0.75zM399.7,483.3h0.75v0.75h-0.75zM422.4,489.1h0.75v0.75h-0.75zM402.3,492.8h0.75v0.75h-0.75zM417.6,510.2h0.75v0.75h-0.75zM421.5,487.0h0.75v0.75h-0.75zM408.5,472.9h0.75v0.75h-0.75zM401.3,483.8h0.75v0.75h-0.75zM403.2,484.6h0.75v0.75h-0.75zM403.3,501.1h0.75v0.75h-0.75zM419.4,505.0h0.75v0.75h-0.75zM419.5,495.7h0.75v0.75h-0.75zM414.2,505.9h0.75v0.75h-0.75zM410.6,512.3h0.75v0.75h-0.75zM401.8,502.1h0.75v0.75h-0.75zM400.8,495.2h0.75v0.75h-0.75zM412.2,505.9h0.75v0.75h-0.75zM407.9,477.3h0.75v0.75h-0.75zM411.3,473.5h0.75v0.75h-0.75zM404.5,476.9h0.75v0.75h-0.75zM399.6,478.4h0.75v0.75h-0.75zM419.6,491.6h0.75v0.75h-0.75zM405.6,506.4h0.75v0.75h-0.75zM406.7,504.7h0.75v0.75h-0.75zM417.6,500.3h0.75v0.75h-0.75zM401.5,497.8h0.75v0.75h-0.75zM410.3,506.4h0.75v0.75h-0.75zM418.4,477.0h0.75v0.75h-0.75zM402.2,480.0h0.75v0.75h-0.75zM405.3,506.5h0.75v0.75h-0.75zM411.1,509.3h0.75v0.75h-0.75zM418.1,507.4h0.75v0.75h-0.75zM415.0,507.3h0.75v0.75h-0.75zM402.8,485.3h0.75v0.75h-0.75zM409.5,509.8h0.75v0.75h-0.75zM414.8,506.7h0.75v0.75h-0.75zM414.4,505.7h0.75v0.75h-0.75zM405.5,503.5h0.75v0.75h-0.75zM418.7,502.0h0.75v0.75h-0.75zM405.7,505.4h0.75v0.75h-0.75zM418.9,501.2h0.75v0.75h-0.75zM403.0,497.5h0.75v0.75h-0.75zM417.7,477.1h0.75v0.75h-0.75zM406.2,508.6h0.75v0.75h-0.75zM419.7,486.3h0.75v0.75h-0.75zM402.0,500.0h0.75v0.75h-0.75zM402.5,497.4h0.75v0.75h-0.75zM417.1,503.0h0.75v0.75h-0.75zM405.6,473.7h0.75v0.75h-0.75zM421.6,483.7h0.75v0.75h-0.75zM414.6,505.3h0.75v0.75h-0.75zM418.1,502.8h0.75v0.75h-0.75zM406.6,503.5h0.75v0.75h-0.75zM405.6,478.8h0.75v0.75h-0.75zM406.5,503.9h0.75v0.75h-0.75zM403.2,488.0h0.75v0.75h-0.75zM403.4,485.1h0.75v0.75h-0.75zM419.8,489.9h0.75v0.75h-0.75zM420.3,490.5h0.75v0.75h-0.75zM420.0,488.0h0.75v0.75h-0.75zM414.6,474.5h0.75v0.75h-0.75zM404.9,500.4h0.75v0.75h-0.75zM412.7,509.7h0.75v0.75h-0.75zM415.8,505.6h0.75v0.75h-0.75zM401.2,483.9h0.75v0.75h-0.75zM410.6,474.8h0.75v0.75h-0.75zM418.5,497.8h0.75v0.75h-0.75zM400.5,501.6h0.75v0.75h-0.75zM401.9,480.8h0.75v0.75h-0.75zM416.2,505.1h0.75v0.75h-0.75zM402.8,491.1h0.75v0.75h-0.75zM399.9,487.2h0.75v0.75h-0.75zM404.0,501.9h0.75v0.75h-0.75zM401.2,495.0h0.75v0.75h-0.75zM407.0,504.2h0.75v0.75h-0.75zM420.8,499.7h0.75v0.75h-0.75zM418.2,498.1h0.75v0.75h-0.75zM401.7,485.9h0.75v0.75h-0.75zM419.1,485.7h0.75v0.75h-0.75zM418.3,499.0h0.75v0.75h-0.75zM415.4,475.9h0.75v0.75h-0.75zM413.5,509.1h0.75v0.75h-0.75zM419.8,485.1h0.75v0.75h-0.75zM407.7,506.8h0.75v0.75h-0.75zM420.4,487.1h0.75v0.75h-0.75zM421.9,486.3h0.75v0.75h-0.75zM414.1,504.9h0.75v0.75h-0.75zM417.2,476.3h0.75v0.75h-0.75zM403.0,510.3h0.75v0.75h-0.75zM414.8,504.0h0.75v0.75h-0.75zM410.2,509.6h0.75v0.75h-0.75zM402.9,489.8h0.75v0.75h-0.75zM416.4,477.1h0.75v0.75h-0.75zM409.9,510.1h0.75v0.75h-0.75zM405.7,505.8h0.75v0.75h-0.75zM414.0,476.9h0.75v0.75h-0.75zM406.5,511.0h0.75v0.75h-0.75zM401.5,485.9h0.75v0.75h-0.75zM419.5,495.1h0.75v0.75h-0.75zM404.6,476.2h0.75v0.75h-0.75zM404.1,474.6h0.75v0.75h-0.75zM404.5,477.1h0.75v0.75h-0.75zM406.5,505.3h0.75v0.75h-0.75zM401.4,488.7h0.75v0.75h-0.75zM404.1,498.3h0.75v0.75h-0.75zM405.4,501.0h0.75v0.75h-0.75zM409.8,507.3h0.75v0.75h-0.75zM419.2,498.2h0.75v0.75h-0.75zM412.3,505.4h0.75v0.75h-0.75zM414.2,506.5h0.75v0.75h-0.75zM411.3,508.8h0.75v0.75h-0.75zM421.7,495.9h0.75v0.75h-0.75zM402.6,500.5h0.75v0.75h-0.75zM400.7,496.1h0.75v0.75h-0.75zM409.6,471.2h0.75v0.75h-0.75zM402.3,488.1h0.75v0.75h-0.75zM418.6,505.5h0.75v0.75h-0.75zM401.5,496.3h0.75v0.75h-0.75zM418.6,497.5h0.75v0.75h-0.75zM401.8,494.7h0.75v0.75h-0.75zM419.4,494.5h0.75v0.75h-0.75zM418.3,480.9h0.75v0.75h-0.75zM403.5,475.4h0.75v0.75h-0.75zM405.8,479.6h0.75v0.75h-0.75zM412.6,473.1h0.75v0.75h-0.75zM421.5,499.2h0.75v0.75h-0.75zM405.0,501.3h0.75v0.75h-0.75zM405.3,471.6h0.75v0.75h-0.75zM405.7,503.3h0.75v0.75h-0.75zM413.6,508.1h0.75v0.75h-0.75zM417.1,506.8h0.75v0.75h-0.75zM421.9,482.1h0.75v0.75h-0.75zM403.3,484.9h0.75v0.75h-0.75zM420.7,494.5h0.75v0.75h-0.75zM415.3,473.7h0.75v0.75h-0.75zM402.4,481.4h0.75v0.75h-0.75zM412.0,473.0h0.75v0.75h-0.75zM402.2,477.7h0.75v0.75h-0.75zM414.0,507.6h0.75v0.75h-0.75zM419.7,484.1h0.75v0.75h-0.75zM419.8,485.9h0.75v0.75h-0.75zM417.2,473.8h0.75v0.75h-0.75zM420.1,497.4h0.75v0.75h-0.75zM418.6,499.8h0.75v0.75h-0.75zM406.4,507.2h0.75v0.75h-0.75zM402.1,502.1h0.75v0.75h-0.75zM418.9,478.3h0.75v0.75h-0.75zM419.7,499.8h0.75v0.75h-0.75zM413.0,505.5h0.75v0.75h-0.75zM419.4,484.2h0.75v0.75h-0.75zM403.3,497.1h0.75v0.75h-0.75zM416.1,478.7h0.75v0.75h-0.75zM413.2,475.3h0.75v0.75h-0.75zM418.5,496.8h0.75v0.75h-0.75zM404.1,477.4h0.75v0.75h-0.75zM405.1,504.2h0.75v0.75h-0.75zM419.6,497.9h0.75v0.75h-0.75zM420.9,480.1h0.75v0.75h-0.75zM400.4,494.4h0.75v0.75h-0.75zM403.0,489.8h0.75v0.75h-0.75zM414.0,505.4h0.75v0.75h-0.75zM401.5,487.2h0.75v0.75h-0.75zM403.5,497.0h0.75v0.75h-0.75z" fill="#1a1a1a" fill-opacity="1"/>
<path d="M412.0,495.7h0.7v0.7h-0.7zM412.8,493.0h0.7v0.7h-0.7zM410.4,484.3h0.7v0.7h-0.7zM411.3,493.3h0.7v0.7h-0.7zM410.2,490.7h0.7v0.7h-0.7zM411.1,490.1h0.7v0.7h-0.7zM410.6,487.7h0.7v0.7h-0.7zM412.8,484.7h0.7v0.7h-0.7zM410.5,492.7h0.7v0.7h-0.7zM410.6,491.6h0.7v0.7h-0.7zM410.2,493.0h0.7v0.7h-0.7zM411.6,489.2h0.7v0.7h-0.7zM413.0,490.7h0.7v0.7h-0.7zM411.1,489.5h0.7v0.7h-0.7zM410.6,489.2h0.7v0.7h-0.7zM412.6,498.8h0.7v0.7h-0.7zM411.1,489.1h0.7v0.7h-0.7zM413.9,491.9h0.7v0.7h-0.7zM410.7,491.3h0.7v0.7h-0.7zM411.5,487.6h0.7v0.7h-0.7zM411.3,489.3h0.7v0.7h-0.7zM410.6,492.2h0.7v0.7h-0.7zM411.1,489.1h0.7v0.7h-0.7zM410.9,491.5h0.7v0.7h-0.7zM411.0,492.1h0.7v0.7h-0.7zM411.6,491.5h0.7v0.7h-0.7zM411.6,491.3h0.7v0.7h-0.7zM410.6,490.9h0.7v0.7h-0.7zM411.5,489.8h0.7v0.7h-0.7zM412.0,487.4h0.7v0.7h-0.7z" fill="#555" fill-opacity="1"/>
<path d="M426.1,489.0h0.75v0.75h-0.75zM428.2,483.1h0.75v0.75h-0.75zM424.0,479.6h0.75v0.75h-0.75zM424.2,487.9h0.75v0.75h-0.75zM425.2,489.8h0.75v0.75h-0.75zM425.1,474.2h0.75v0.75h-0.75zM432.2,496.3h0.75v0.75h-0.75zM428.4,487.1h0.75v0.75h-0.75zM430.0,494.7h0.75v0.75h-0.75zM425.8,488.4h0.75v0.75h-0.75zM430.2,486.0h0.75v0.75h-0.75zM424.2,479.9h0.75v0.75h-0.75zM431.2,483.5h0.75v0.75h-0.75zM424.2,484.6h0.75v0.75h-0.75zM424.5,473.8h0.75v0.75h-0.75zM424.9,490.8h0.75v0.75h-0.75zM428.4,478.0h0.75v0.75h-0.75zM424.5,481.2h0.75v0.75h-0.75zM426.2,483.9h0.75v0.75h-0.75zM424.9,474.4h0.75v0.75h-0.75zM433.1,476.9h0.75v0.75h-0.75zM427.8,492.6h0.75v0.75h-0.75zM424.2,485.9h0.75v0.75h-0.75zM427.2,471.3h0.75v0.75h-0.75zM425.8,473.7h0.75v0.75h-0.75zM427.7,481.0h0.75v0.75h-0.75zM429.1,465.7h0.75v0.75h-0.75zM426.8,483.2h0.75v0.75h-0.75zM425.2,484.2h0.75v0.75h-0.75zM425.7,475.8h0.75v0.75h-0.75zM425.0,480.5h0.75v0.75h-0.75zM424.7,473.5h0.75v0.75h-0.75zM432.3,475.4h0.75v0.75h-0.75zM428.4,485.0h0.75v0.75h-0.75zM424.8,476.2h0.75v0.75h-0.75zM433.3,472.7h0.75v0.75h-0.75zM427.6,483.0h0.75v0.75h-0.75zM428.1,487.3h0.75v0.75h-0.75zM428.5,476.7h0.75v0.75h-0.75zM427.8,480.4h0.75v0.75h-0.75zM424.9,488.8h0.75v0.75h-0.75zM428.3,488.2h0.75v0.75h-0.75zM427.2,457.9h0.75v0.75h-0.75zM431.6,485.4h0.75v0.75h-0.75zM426.9,493.0h0.75v0.75h-0.75zM428.0,489.4h0.75v0.75h-0.75zM428.5,479.4h0.75v0.75h-0.75zM426.3,491.6h0.75v0.75h-0.75zM425.9,468.6h0.75v0.75h-0.75zM424.0,482.7h0.75v0.75h-0.75zM424.5,481.0h0.75v0.75h-0.75zM430.0,486.6h0.75v0.75h-0.75zM424.0,464.6h0.75v0.75h-0.75zM429.4,476.8h0.75v0.75h-0.75zM426.2,476.2h0.75v0.75h-0.75zM431.2,486.6h0.75v0.75h-0.75zM424.3,479.5h0.75v0.75h-0.75zM427.6,481.1h0.75v0.75h-0.75zM429.0,478.0h0.75v0.75h-0.75zM426.4,482.1h0.75v0.75h-0.75zM424.1,489.9h0.75v0.75h-0.75zM424.2,479.6h0.75v0.75h-0.75zM429.3,476.4h0.75v0.75h-0.75zM426.4,476.0h0.75v0.75h-0.75zM424.9,485.8h0.75v0.75h-0.75zM428.4,489.0h0.75v0.75h-0.75zM424.9,477.2h0.75v0.75h-0.75zM425.7,482.7h0.75v0.75h-0.75zM435.0,471.1h0.75v0.75h-0.75zM426.5,486.4h0.75v0.75h-0.75zM424.2,484.2h0.75v0.75h-0.75zM427.7,468.6h0.75v0.75h-0.75zM428.8,478.1h0.75v0.75h-0.75zM427.2,482.7h0.75v0.75h-0.75zM429.5,469.7h0.75v0.75h-0.75zM425.7,494.2h0.75v0.75h-0.75zM425.6,483.1h0.75v0.75h-0.75zM425.3,468.4h0.75v0.75h-0.75zM426.2,463.7h0.75v0.75h-0.75zM424.3,480.9h0.75v0.75h-0.75zM426.9,477.4h0.75v0.75h-0.75zM425.1,481.7h0.75v0.75h-0.75zM429.9,477.4h0.75v0.75h-0.75zM426.9,465.5h0.75v0.75h-0.75zM431.3,487.6h0.75v0.75h-0.75zM426.5,488.3h0.75v0.75h-0.75zM424.3,500.0h0.75v0.75h-0.75zM428.9,485.6h0.75v0.75h-0.75zM429.6,491.1h0.75v0.75h-0.75zM427.2,492.4h0.75v0.75h-0.75zM428.2,483.1h0.75v0.75h-0.75zM428.9,479.6h0.75v0.75h-0.75zM426.3,477.5h0.75v0.75h-0.75zM428.7,486.1h0.75v0.75h-0.75zM426.2,478.7h0.75v0.75h-0.75zM426.0,487.2h0.75v0.75h-0.75zM429.1,487.4h0.75v0.75h-0.75zM425.8,482.6h0.75v0.75h-0.75zM428.8,486.1h0.75v0.75h-0.75zM427.5,473.7h0.75v0.75h-0.75zM426.4,485.8h0.75v0.75h-0.75zM429.8,477.5h0.75v0.75h-0.75zM428.3,482.8h0.75v0.75h-0.75zM425.6,474.7h0.75v0.75h-0.75zM425.5,488.5h0.75v0.75h-0.75zM426.4,480.1h0.75v0.75h-0.75zM427.2,490.0h0.75v0.75h-0.75zM425.7,471.4h0.75v0.75h-0.75zM424.3,471.0h0.75v0.75h-0.75zM425.6,477.2h0.75v0.75h-0.75zM424.9,472.5h0.75v0.75h-0.75zM430.8,485.4h0.75v0.75h-0.75zM426.1,476.1h0.75v0.75h-0.75zM424.3,474.9h0.75v0.75h-0.75zM427.4,484.0h0.75v0.75h-0.75zM424.5,487.0h0.75v0.75h-0.75zM424.2,495.5h0.75v0.75h-0.75zM429.7,476.7h0.75v0.75h-0.75zM428.9,475.7h0.75v0.75h-0.75zM429.9,456.0h0.75v0.75h-0.75zM425.4,483.0h0.75v0.75h-0.75zM426.9,475.5h0.75v0.75h-0.75zM429.3,488.2h0.75v0.75h-0.75zM424.5,488.1h0.75v0.75h-0.75zM425.7,486.9h0.75v0.75h-0.75zM426.2,473.9h0.75v0.75h-0.75zM424.5,478.5h0.75v0.75h-0.75zM427.3,478.9h0.75v0.75h-0.75zM425.7,486.3h0.75v0.75h-0.75zM427.0,479.5h0.75v0.75h-0.75zM428.8,479.6h0.75v0.75h-0.75zM427.2,483.7h0.75v0.75h-0.75zM425.7,479.9h0.75v0.75h-0.75zM425.5,478.2h0.75v0.75h-0.75zM426.1,490.5h0.75v0.75h-0.75zM426.5,477.4h0.75v0.75h-0.75zM428.3,479.8h0.75v0.75h-0.75zM429.8,479.5h0.75v0.75h-0.75zM433.5,495.0h0.75v0.75h-0.75zM425.9,467.8h0.75v0.75h-0.75zM426.9,483.9h0.75v0.75h-0.75zM431.9,483.3h0.75v0.75h-0.75zM429.6,477.2h0.75v0.75h-0.75zM424.9,480.2h0.75v0.75h-0.75zM427.8,479.7h0.75v0.75h-0.75zM424.2,487.1h0.75v0.75h-0.75zM425.3,470.1h0.75v0.75h-0.75zM425.4,478.5h0.75v0.75h-0.75zM428.0,462.9h0.75v0.75h-0.75zM428.8,469.4h0.75v0.75h-0.75zM429.6,489.0h0.75v0.75h-0.75zM430.4,492.8h0.75v0.75h-0.75zM425.2,471.8h0.75v0.75h-0.75zM425.6,465.4h0.75v0.75h-0.75zM427.8,470.9h0.75v0.75h-0.75zM432.8,479.8h0.75v0.75h-0.75zM429.2,496.7h0.75v0.75h-0.75zM425.0,475.2h0.75v0.75h-0.75zM426.3,480.3h0.75v0.75h-0.75zM427.6,485.2h0.75v0.75h-0.75zM428.5,484.3h0.75v0.75h-0.75zM425.9,478.9h0.75v0.75h-0.75zM424.6,481.4h0.75v0.75h-0.75zM424.2,494.8h0.75v0.75h-0.75zM426.0,482.1h0.75v0.75h-0.75zM426.4,481.8h0.75v0.75h-0.75zM425.3,477.2h0.75v0.75h-0.75zM426.9,480.3h0.75v0.75h-0.75zM425.2,477.2h0.75v0.75h-0.75zM430.7,481.6h0.75v0.75h-0.75zM428.5,485.0h0.75v0.75h-0.75zM425.5,492.7h0.75v0.75h-0.75zM430.6,477.2h0.75v0.75h-0.75zM428.3,493.7h0.75v0.75h-0.75zM425.0,487.5h0.75v0.75h-0.75zM425.9,474.7h0.75v0.75h-0.75zM427.3,479.7h0.75v0.75h-0.75zM427.3,466.7h0.75v0.75h-0.75zM424.2,497.5h0.75v0.75h-0.75zM426.8,468.5h0.75v0.75h-0.75zM426.1,481.9h0.75v0.75h-0.75zM426.1,487.6h0.75v0.75h-0.75zM427.9,489.3h0.75v0.75h-0.75zM428.8,488.2h0.75v0.75h-0.75zM429.4,484.9h0.75v0.75h-0.75zM426.3,468.6h0.75v0.75h-0.75zM428.0,485.4h0.75v0.75h-0.75zM425.4,492.2h0.75v0.75h-0.75zM428.1,489.4h0.75v0.75h-0.75zM429.5,490.6h0.75v0.75h-0.75zM428.8,474.2h0.75v0.75h-0.75zM434.2,465.3h0.75v0.75h-0.75zM427.6,471.7h0.75v0.75h-0.75zM428.9,471.3h0.75v0.75h-0.75zM424.6,467.6h0.75v0.75h-0.75zM424.9,478.6h0.75v0.75h-0.75zM424.3,485.8h0.75v0.75h-0.75zM425.4,487.0h0.75v0.75h-0.75zM427.6,486.2h0.75v0.75h-0.75zM424.6,493.6h0.75v0.75h-0.75zM429.0,466.5h0.75v0.75h-0.75zM424.2,490.4h0.75v0.75h-0.75zM427.6,490.1h0.75v0.75h-0.75zM429.6,467.2h0.75v0.75h-0.75zM426.9,486.5h0.75v0.75h-0.75zM424.3,482.2h0.75v0.75h-0.75zM434.1,471.7h0.75v0.75h-0.75zM424.1,488.6h0.75v0.75h-0.75zM426.0,485.1h0.75v0.75h-0.75zM425.3,491.3h0.75v0.75h-0.75zM424.2,478.0h0.75v0.75h-0.75zM425.9,489.5h0.75v0.75h-0.75zM428.5,464.7h0.75v0.75h-0.75zM425.5,491.7h0.75v0.75h-0.75zM427.3,477.0h0.75v0.75h-0.75zM424.9,496.8h0.75v0.75h-0.75zM425.3,489.0h0.75v0.75h-0.75zM431.5,473.5h0.75v0.75h-0.75zM427.2,491.4h0.75v0.75h-0.75zM426.8,480.6h0.75v0.75h-0.75z" fill="#1a1a1a" fill-opacity="1"/>
<path d="M405.5,460.8h0.75v0.75h-0.75zM407.2,470.9h0.75v0.75h-0.75zM413.6,458.1h0.75v0.75h-0.75zM403.1,463.4h0.75v0.75h-0.75zM404.8,467.5h0.75v0.75h-0.75zM407.3,464.3h0.75v0.75h-0.75zM407.8,472.0h0.75v0.75h-0.75zM411.1,463.6h0.75v0.75h-0.75zM409.2,470.5h0.75v0.75h-0.75zM421.0,462.7h0.75v0.75h-0.75zM412.1,467.8h0.75v0.75h-0.75zM403.2,456.2h0.75v0.75h-0.75zM410.6,451.1h0.75v0.75h-0.75zM421.6,462.6h0.75v0.75h-0.75zM418.0,444.8h0.75v0.75h-0.75zM411.1,468.9h0.75v0.75h-0.75zM412.8,462.3h0.75v0.75h-0.75zM400.2,469.1h0.75v0.75h-0.75zM407.7,466.2h0.75v0.75h-0.75zM405.2,458.5h0.75v0.75h-0.75zM406.7,469.2h0.75v0.75h-0.75zM419.0,455.3h0.75v0.75h-0.75zM417.8,465.4h0.75v0.75h-0.75zM404.5,464.3h0.75v0.75h-0.75zM407.9,463.4h0.75v0.75h-0.75zM413.1,465.8h0.75v0.75h-0.75zM411.9,469.0h0.75v0.75h-0.75zM406.2,457.5h0.75v0.75h-0.75zM417.1,456.4h0.75v0.75h-0.75zM417.3,465.1h0.75v0.75h-0.75zM412.0,472.3h0.75v0.75h-0.75zM405.8,462.2h0.75v0.75h-0.75zM410.9,451.7h0.75v0.75h-0.75zM414.2,470.6h0.75v0.75h-0.75zM400.8,472.7h0.75v0.75h-0.75zM415.9,472.9h0.75v0.75h-0.75zM414.8,468.8h0.75v0.75h-0.75zM409.1,465.2h0.75v0.75h-0.75zM419.6,472.4h0.75v0.75h-0.75zM407.7,472.1h0.75v0.75h-0.75zM408.7,453.4h0.75v0.75h-0.75zM408.9,467.1h0.75v0.75h-0.75zM407.6,461.4h0.75v0.75h-0.75zM418.6,465.7h0.75v0.75h-0.75zM419.0,465.7h0.75v0.75h-0.75zM424.3,469.6h0.75v0.75h-0.75zM420.6,469.7h0.75v0.75h-0.75zM410.3,455.0h0.75v0.75h-0.75zM419.7,451.5h0.75v0.75h-0.75zM422.8,457.9h0.75v0.75h-0.75zM410.4,472.8h0.75v0.75h-0.75zM411.3,470.9h0.75v0.75h-0.75zM408.8,452.4h0.75v0.75h-0.75zM415.2,462.9h0.75v0.75h-0.75zM420.0,470.5h0.75v0.75h-0.75zM420.8,461.2h0.75v0.75h-0.75zM409.5,470.2h0.75v0.75h-0.75zM415.7,439.1h0.75v0.75h-0.75zM413.3,468.7h0.75v0.75h-0.75zM408.1,472.7h0.75v0.75h-0.75z" fill="#1a1a1a" fill-opacity="1"/>
<path d="M428.3,473.2h0.75v0.75h-0.75zM451.7,472.2h0.75v0.75h-0.75zM439.8,474.8h0.75v0.75h-0.75zM479.2,475.6h0.75v0.75h-0.75zM432.5,473.1h0.75v0.75h-0.75zM449.9,469.4h0.75v0.75h-0.75zM445.8,476.5h0.75v0.75h-0.75zM453.1,474.2h0.75v0.75h-0.75zM452.6,472.6h0.75v0.75h-0.75zM471.3,475.2h0.75v0.75h-0.75zM431.6,470.9h0.75v0.75h-0.75zM475.0,474.5h0.75v0.75h-0.75zM433.6,476.1h0.75v0.75h-0.75zM437.3,473.8h0.75v0.75h-0.75zM429.8,475.4h0.75v0.75h-0.75zM431.0,472.0h0.75v0.75h-0.75zM468.8,473.9h0.75v0.75h-0.75zM451.9,476.1h0.75v0.75h-0.75zM463.1,474.2h0.75v0.75h-0.75zM429.1,473.4h0.75v0.75h-0.75zM461.9,474.5h0.75v0.75h-0.75zM444.0,475.6h0.75v0.75h-0.75zM437.5,479.2h0.75v0.75h-0.75zM424.4,475.3h0.75v0.75h-0.75zM428.8,471.2h0.75v0.75h-0.75zM426.9,476.2h0.75v0.75h-0.75zM451.8,472.2h0.75v0.75h-0.75zM458.8,469.1h0.75v0.75h-0.75zM456.4,476.2h0.75v0.75h-0.75zM425.7,478.6h0.75v0.75h-0.75zM439.7,472.8h0.75v0.75h-0.75zM455.2,474.4h0.75v0.75h-0.75zM429.7,473.3h0.75v0.75h-0.75zM445.8,477.2h0.75v0.75h-0.75zM453.1,473.7h0.75v0.75h-0.75zM471.6,471.9h0.75v0.75h-0.75zM441.9,474.0h0.75v0.75h-0.75zM436.6,476.3h0.75v0.75h-0.75zM438.9,473.7h0.75v0.75h-0.75zM439.5,472.8h0.75v0.75h-0.75zM462.6,473.1h0.75v0.75h-0.75zM471.8,477.0h0.75v0.75h-0.75zM447.0,473.6h0.75v0.75h-0.75zM445.9,476.1h0.75v0.75h-0.75zM426.2,475.1h0.75v0.75h-0.75zM424.1,476.3h0.75v0.75h-0.75zM450.2,475.8h0.75v0.75h-0.75zM455.0,473.2h0.75v0.75h-0.75zM437.2,475.8h0.75v0.75h-0.75zM438.6,472.2h0.75v0.75h-0.75zM458.7,475.1h0.75v0.75h-0.75zM486.1,476.8h0.75v0.75h-0.75zM430.9,475.8h0.75v0.75h-0.75zM427.2,470.9h0.75v0.75h-0.75zM457.8,474.3h0.75v0.75h-0.75zM434.7,474.5h0.75v0.75h-0.75zM432.3,476.8h0.75v0.75h-0.75zM453.0,473.8h0.75v0.75h-0.75zM438.1,477.1h0.75v0.75h-0.75zM440.6,474.4h0.75v0.75h-0.75zM434.7,477.2h0.75v0.75h-0.75zM425.5,472.7h0.75v0.75h-0.75zM436.4,476.5h0.75v0.75h-0.75zM429.7,469.3h0.75v0.75h-0.75zM436.9,479.3h0.75v0.75h-0.75zM455.8,471.6h0.75v0.75h-0.75zM435.7,474.3h0.75v0.75h-0.75zM441.8,475.6h0.75v0.75h-0.75zM451.9,473.3h0.75v0.75h-0.75zM442.2,471.5h0.75v0.75h-0.75zM430.7,479.3h0.75v0.75h-0.75zM432.6,475.7h0.75v0.75h-0.75zM466.5,474.2h0.75v0.75h-0.75zM473.6,475.6h0.75v0.75h-0.75zM462.2,475.0h0.75v0.75h-0.75zM434.9,473.7h0.75v0.75h-0.75zM472.4,474.1h0.75v0.75h-0.75zM443.7,474.9h0.75v0.75h-0.75zM441.7,475.2h0.75v0.75h-0.75zM461.1,474.0h0.75v0.75h-0.75zM493.5,476.4h0.75v0.75h-0.75zM429.3,476.6h0.75v0.75h-0.75zM428.0,475.4h0.75v0.75h-0.75zM450.6,475.0h0.75v0.75h-0.75zM431.5,476.4h0.75v0.75h-0.75zM445.9,470.9h0.75v0.75h-0.75zM426.5,473.6h0.75v0.75h-0.75zM453.0,472.3h0.75v0.75h-0.75zM440.2,473.0h0.75v0.75h-0.75zM429.7,470.4h0.75v0.75h-0.75zM424.2,474.1h0.75v0.75h-0.75zM432.1,473.4h0.75v0.75h-0.75zM442.4,474.4h0.75v0.75h-0.75zM447.5,481.4h0.75v0.75h-0.75zM425.2,475.1h0.75v0.75h-0.75zM461.4,474.6h0.75v0.75h-0.75zM435.2,474.7h0.75v0.75h-0.75zM437.9,474.3h0.75v0.75h-0.75zM444.0,476.4h0.75v0.75h-0.75zM430.8,475.3h0.75v0.75h-0.75zM439.4,475.0h0.75v0.75h-0.75zM424.2,474.0h0.75v0.75h-0.75zM441.5,477.3h0.75v0.75h-0.75zM425.2,471.8h0.75v0.75h-0.75zM427.2,475.4h0.75v0.75h-0.75zM508.9,478.8h0.75v0.75h-0.75zM435.5,475.7h0.75v0.75h-0.75zM459.5,470.8h0.75v0.75h-0.75zM459.1,475.7h0.75v0.75h-0.75zM461.6,478.8h0.75v0.75h-0.75zM467.4,476.0h0.75v0.75h-0.75zM432.9,473.1h0.75v0.75h-0.75zM427.9,477.6h0.75v0.75h-0.75zM453.9,470.7h0.75v0.75h-0.75zM462.5,474.4h0.75v0.75h-0.75zM428.3,473.3h0.75v0.75h-0.75zM490.0,477.3h0.75v0.75h-0.75zM427.7,475.0h0.75v0.75h-0.75zM492.6,469.4h0.75v0.75h-0.75zM426.3,476.1h0.75v0.75h-0.75zM428.3,476.3h0.75v0.75h-0.75zM429.3,476.4h0.75v0.75h-0.75zM439.5,470.7h0.75v0.75h-0.75zM434.2,477.0h0.75v0.75h-0.75zM453.0,474.9h0.75v0.75h-0.75zM463.7,471.2h0.75v0.75h-0.75zM433.0,474.7h0.75v0.75h-0.75zM473.5,475.2h0.75v0.75h-0.75zM472.1,475.7h0.75v0.75h-0.75zM475.5,473.8h0.75v0.75h-0.75zM444.6,475.8h0.75v0.75h-0.75zM488.7,473.9h0.75v0.75h-0.75zM428.7,475.0h0.75v0.75h-0.75zM463.4,477.9h0.75v0.75h-0.75zM428.7,477.8h0.75v0.75h-0.75zM429.3,472.0h0.75v0.75h-0.75zM460.5,471.5h0.75v0.75h-0.75zM467.1,475.9h0.75v0.75h-0.75zM448.5,474.0h0.75v0.75h-0.75zM475.2,473.9h0.75v0.75h-0.75zM436.6,474.6h0.75v0.75h-0.75zM466.7,474.2h0.75v0.75h-0.75zM470.1,477.2h0.75v0.75h-0.75zM455.7,472.2h0.75v0.75h-0.75zM428.7,477.3h0.75v0.75h-0.75zM450.1,474.2h0.75v0.75h-0.75zM475.1,473.3h0.75v0.75h-0.75zM436.0,474.1h0.75v0.75h-0.75zM438.7,474.8h0.75v0.75h-0.75zM426.6,469.3h0.75v0.75h-0.75zM429.1,473.2h0.75v0.75h-0.75zM434.5,477.0h0.75v0.75h-0.75zM440.8,477.2h0.75v0.75h-0.75zM469.6,475.3h0.75v0.75h-0.75zM455.3,474.7h0.75v0.75h-0.75zM448.5,471.4h0.75v0.75h-0.75zM435.7,472.1h0.75v0.75h-0.75zM450.8,475.8h0.75v0.75h-0.75zM432.0,476.0h0.75v0.75h-0.75zM448.1,474.8h0.75v0.75h-0.75zM425.2,473.8h0.75v0.75h-0.75zM446.5,470.8h0.75v0.75h-0.75zM441.3,472.1h0.75v0.75h-0.75zM441.8,476.4h0.75v0.75h-0.75zM467.3,473.4h0.75v0.75h-0.75zM451.2,476.8h0.75v0.75h-0.75zM437.5,473.2h0.75v0.75h-0.75zM491.9,476.4h0.75v0.75h-0.75zM456.6,474.2h0.75v0.75h-0.75zM436.2,473.8h0.75v0.75h-0.75zM441.7,473.4h0.75v0.75h-0.75zM432.6,476.9h0.75v0.75h-0.75zM435.5,469.9h0.75v0.75h-0.75zM460.6,472.8h0.75v0.75h-0.75zM426.3,473.8h0.75v0.75h-0.75zM442.6,472.1h0.75v0.75h-0.75zM433.6,468.4h0.75v0.75h-0.75zM462.6,475.7h0.75v0.75h-0.75zM466.8,471.4h0.75v0.75h-0.75zM460.6,472.3h0.75v0.75h-0.75zM432.8,471.1h0.75v0.75h-0.75zM425.0,474.5h0.75v0.75h-0.75zM440.2,471.9h0.75v0.75h-0.75zM455.5,472.6h0.75v0.75h-0.75zM438.6,471.6h0.75v0.75h-0.75zM434.0,477.0h0.75v0.75h-0.75zM449.0,474.0h0.75v0.75h-0.75zM442.9,477.7h0.75v0.75h-0.75zM454.5,476.7h0.75v0.75h-0.75zM445.6,476.3h0.75v0.75h-0.75zM434.4,473.8h0.75v0.75h-0.75zM432.8,478.5h0.75v0.75h-0.75zM470.9,474.8h0.75v0.75h-0.75zM438.0,476.5h0.75v0.75h-0.75zM428.7,472.8h0.75v0.75h-0.75zM450.7,473.0h0.75v0.75h-0.75zM445.4,474.5h0.75v0.75h-0.75zM466.8,473.0h0.75v0.75h-0.75zM465.9,476.6h0.75v0.75h-0.75zM437.8,476.8h0.75v0.75h-0.75z" fill="#1a1a1a" fill-opacity="1"/>
<path d="M462.7,452.7h0.9v0.9h-0.9zM452.7,459.2h0.9v0.9h-0.9zM452.9,434.9h0.9v0.9h-0.9zM456.7,463.6h0.9v0.9h-0.9zM428.6,418.3h0.9v0.9h-0.9zM468.2,451.9h0.9v0.9h-0.9zM450.9,413.3h0.9v0.9h-0.9zM464.3,460.7h0.9v0.9h-0.9zM443.1,437.7h0.9v0.9h-0.9zM446.2,473.5h0.9v0.9h-0.9zM483.9,436.2h0.9v0.9h-0.9zM462.2,468.3h0.9v0.9h-0.9zM457.8,464.0h0.9v0.9h-0.9zM451.3,451.0h0.9v0.9h-0.9zM473.5,425.7h0.9v0.9h-0.9zM453.9,457.6h0.9v0.9h-0.9zM450.3,455.5h0.9v0.9h-0.9zM465.1,441.4h0.9v0.9h-0.9zM482.5,471.8h0.9v0.9h-0.9zM479.7,450.8h0.9v0.9h-0.9zM456.4,428.3h0.9v0.9h-0.9zM430.4,444.8h0.9v0.9h-0.9zM430.0,446.4h0.9v0.9h-0.9zM444.5,431.6h0.9v0.9h-0.9zM445.6,470.1h0.9v0.9h-0.9zM458.2,445.1h0.9v0.9h-0.9zM473.7,413.0h0.9v0.9h-0.9zM455.0,440.6h0.9v0.9h-0.9zM430.8,448.0h0.9v0.9h-0.9zM468.1,446.6h0.9v0.9h-0.9zM425.0,428.9h0.9v0.9h-0.9zM453.6,436.4h0.9v0.9h-0.9zM456.1,451.2h0.9v0.9h-0.9zM436.3,442.9h0.9v0.9h-0.9zM426.3,408.0h0.9v0.9h-0.9zM472.3,437.4h0.9v0.9h-0.9zM454.9,425.3h0.9v0.9h-0.9zM458.0,463.6h0.9v0.9h-0.9zM447.5,438.2h0.9v0.9h-0.9zM466.8,467.0h0.9v0.9h-0.9zM467.3,450.8h0.9v0.9h-0.9zM461.2,453.8h0.9v0.9h-0.9zM439.9,443.3h0.9v0.9h-0.9zM426.5,448.0h0.9v0.9h-0.9zM447.3,470.0h0.9v0.9h-0.9zM468.8,433.5h0.9v0.9h-0.9zM453.6,454.9h0.9v0.9h-0.9zM458.3,446.4h0.9v0.9h-0.9zM432.9,455.4h0.9v0.9h-0.9zM468.2,430.6h0.9v0.9h-0.9zM465.1,444.4h0.9v0.9h-0.9zM474.6,452.7h0.9v0.9h-0.9zM474.1,469.9h0.9v0.9h-0.9zM453.9,421.5h0.9v0.9h-0.9zM452.5,456.2h0.9v0.9h-0.9zM435.6,441.4h0.9v0.9h-0.9zM484.6,440.2h0.9v0.9h-0.9zM459.6,450.0h0.9v0.9h-0.9zM470.8,437.4h0.9v0.9h-0.9zM467.6,455.4h0.9v0.9h-0.9zM470.5,447.7h0.9v0.9h-0.9zM435.2,435.1h0.9v0.9h-0.9zM455.7,468.8h0.9v0.9h-0.9zM438.1,456.5h0.9v0.9h-0.9zM456.3,408.3h0.9v0.9h-0.9zM450.5,453.6h0.9v0.9h-0.9zM441.7,423.6h0.9v0.9h-0.9zM440.7,444.6h0.9v0.9h-0.9zM459.4,448.8h0.9v0.9h-0.9zM454.0,445.3h0.9v0.9h-0.9zM456.8,435.6h0.9v0.9h-0.9zM437.7,461.8h0.9v0.9h-0.9zM460.5,415.2h0.9v0.9h-0.9zM440.6,447.5h0.9v0.9h-0.9zM459.7,467.1h0.9v0.9h-0.9zM459.1,453.9h0.9v0.9h-0.9zM452.8,440.7h0.9v0.9h-0.9zM435.8,439.4h0.9v0.9h-0.9zM435.6,458.5h0.9v0.9h-0.9zM457.5,463.3h0.9v0.9h-0.9zM458.1,443.9h0.9v0.9h-0.9zM451.2,467.7h0.9v0.9h-0.9zM428.6,437.4h0.9v0.9h-0.9zM445.1,445.6h0.9v0.9h-0.9zM444.8,444.2h0.9v0.9h-0.9zM449.2,471.8h0.9v0.9h-0.9zM457.5,463.8h0.9v0.9h-0.9zM468.9,450.9h0.9v0.9h-0.9zM458.7,452.6h0.9v0.9h-0.9zM457.4,436.0h0.9v0.9h-0.9zM434.7,422.6h0.9v0.9h-0.9zM447.2,457.0h0.9v0.9h-0.9zM459.2,442.9h0.9v0.9h-0.9zM442.3,434.9h0.9v0.9h-0.9zM467.2,468.6h0.9v0.9h-0.9zM452.2,463.5h0.9v0.9h-0.9zM445.3,459.8h0.9v0.9h-0.9zM456.4,437.4h0.9v0.9h-0.9zM452.8,466.1h0.9v0.9h-0.9zM466.3,462.7h0.9v0.9h-0.9zM436.8,463.9h0.9v0.9h-0.9zM427.3,454.8h0.9v0.9h-0.9zM433.3,440.1h0.9v0.9h-0.9zM465.7,463.4h0.9v0.9h-0.9zM457.0,440.7h0.9v0.9h-0.9zM439.6,449.4h0.9v0.9h-0.9zM461.4,445.8h0.9v0.9h-0.9zM449.3,443.2h0.9v0.9h-0.9zM467.8,443.9h0.9v0.9h-0.9zM455.4,445.9h0.9v0.9h-0.9zM476.7,444.8h0.9v0.9h-0.9zM425.9,454.4h0.9v0.9h-0.9zM453.3,469.3h0.9v0.9h-0.9zM450.4,460.6h0.9v0.9h-0.9zM442.9,452.1h0.9v0.9h-0.9zM446.8,446.0h0.9v0.9h-0.9zM453.3,446.0h0.9v0.9h-0.9zM470.4,441.9h0.9v0.9h-0.9zM449.0,445.5h0.9v0.9h-0.9zM477.8,416.7h0.9v0.9h-0.9zM456.1,428.8h0.9v0.9h-0.9zM435.9,458.5h0.9v0.9h-0.9zM442.3,436.8h0.9v0.9h-0.9zM446.2,436.3h0.9v0.9h-0.9zM452.0,445.2h0.9v0.9h-0.9zM431.4,447.2h0.9v0.9h-0.9zM436.7,415.0h0.9v0.9h-0.9zM441.2,434.6h0.9v0.9h-0.9zM461.7,441.6h0.9v0.9h-0.9zM471.8,432.9h0.9v0.9h-0.9zM436.7,446.3h0.9v0.9h-0.9zM458.7,444.7h0.9v0.9h-0.9zM440.8,430.7h0.9v0.9h-0.9zM456.3,450.7h0.9v0.9h-0.9zM435.1,450.2h0.9v0.9h-0.9zM458.4,424.3h0.9v0.9h-0.9zM425.9,443.1h0.9v0.9h-0.9zM446.9,451.7h0.9v0.9h-0.9zM451.0,442.6h0.9v0.9h-0.9zM466.0,428.4h0.9v0.9h-0.9zM427.9,461.7h0.9v0.9h-0.9zM465.0,445.0h0.9v0.9h-0.9zM425.2,454.7h0.9v0.9h-0.9zM459.8,442.2h0.9v0.9h-0.9zM438.8,452.6h0.9v0.9h-0.9zM443.9,455.9h0.9v0.9h-0.9zM473.0,457.5h0.9v0.9h-0.9zM461.7,428.7h0.9v0.9h-0.9zM457.6,446.7h0.9v0.9h-0.9zM459.3,462.8h0.9v0.9h-0.9zM435.6,458.5h0.9v0.9h-0.9zM454.3,462.1h0.9v0.9h-0.9zM449.4,468.3h0.9v0.9h-0.9zM472.5,468.5h0.9v0.9h-0.9zM458.2,450.0h0.9v0.9h-0.9zM444.6,438.0h0.9v0.9h-0.9zM446.3,450.9h0.9v0.9h-0.9zM452.1,429.5h0.9v0.9h-0.9zM432.3,470.9h0.9v0.9h-0.9zM442.2,426.2h0.9v0.9h-0.9zM446.5,444.9h0.9v0.9h-0.9zM437.7,444.4h0.9v0.9h-0.9zM447.9,452.8h0.9v0.9h-0.9zM467.4,431.6h0.9v0.9h-0.9zM450.3,452.2h0.9v0.9h-0.9zM447.5,414.8h0.9v0.9h-0.9zM436.9,436.3h0.9v0.9h-0.9zM453.0,459.2h0.9v0.9h-0.9zM454.4,447.4h0.9v0.9h-0.9zM451.5,425.4h0.9v0.9h-0.9zM474.4,449.7h0.9v0.9h-0.9zM464.1,427.0h0.9v0.9h-0.9zM475.0,435.6h0.9v0.9h-0.9zM466.0,448.4h0.9v0.9h-0.9zM435.2,435.6h0.9v0.9h-0.9zM471.8,432.6h0.9v0.9h-0.9zM460.7,439.2h0.9v0.9h-0.9zM444.1,444.8h0.9v0.9h-0.9zM432.7,446.8h0.9v0.9h-0.9zM438.7,463.5h0.9v0.9h-0.9zM441.8,432.2h0.9v0.9h-0.9zM502.6,461.1h0.9v0.9h-0.9zM456.0,434.4h0.9v0.9h-0.9zM448.6,438.0h0.9v0.9h-0.9zM454.2,455.9h0.9v0.9h-0.9zM452.1,434.2h0.9v0.9h-0.9zM469.3,454.8h0.9v0.9h-0.9zM449.0,459.4h0.9v0.9h-0.9zM468.6,434.4h0.9v0.9h-0.9zM440.2,440.1h0.9v0.9h-0.9zM456.4,440.8h0.9v0.9h-0.9zM457.9,448.9h0.9v0.9h-0.9zM449.7,430.5h0.9v0.9h-0.9zM444.2,424.0h0.9v0.9h-0.9zM456.7,455.4h0.9v0.9h-0.9zM463.0,437.8h0.9v0.9h-0.9zM478.3,455.4h0.9v0.9h-0.9zM450.1,451.6h0.9v0.9h-0.9zM482.5,449.5h0.9v0.9h-0.9zM482.8,447.0h0.9v0.9h-0.9zM465.8,440.6h0.9v0.9h-0.9zM435.1,450.2h0.9v0.9h-0.9zM446.7,444.5h0.9v0.9h-0.9zM444.7,459.5h0.9v0.9h-0.9zM446.5,453.1h0.9v0.9h-0.9zM460.4,461.1h0.9v0.9h-0.9zM450.4,459.7h0.9v0.9h-0.9zM454.0,450.5h0.9v0.9h-0.9zM475.1,442.8h0.9v0.9h-0.9zM489.2,445.5h0.9v0.9h-0.9zM468.5,426.8h0.9v0.9h-0.9zM451.8,430.0h0.9v0.9h-0.9zM463.8,464.9h0.9v0.9h-0.9zM439.8,441.9h0.9v0.9h-0.9zM451.6,469.1h0.9v0.9h-0.9zM462.5,452.1h0.9v0.9h-0.9zM425.4,421.8h0.9v0.9h-0.9zM444.7,465.8h0.9v0.9h-0.9zM431.5,438.0h0.9v0.9h-0.9zM472.3,444.0h0.9v0.9h-0.9zM470.2,424.0h0.9v0.9h-0.9zM435.5,434.4h0.9v0.9h-0.9zM437.3,427.6h0.9v0.9h-0.9zM449.9,449.9h0.9v0.9h-0.9zM474.6,457.6h0.9v0.9h-0.9zM480.8,453.7h0.9v0.9h-0.9zM440.3,460.8h0.9v0.9h-0.9zM454.8,459.8h0.9v0.9h-0.9zM444.9,466.8h0.9v0.9h-0.9zM453.4,460.8h0.9v0.9h-0.9zM445.4,461.2h0.9v0.9h-0.9zM467.0,444.3h0.9v0.9h-0.9zM445.8,447.8h0.9v0.9h-0.9zM445.7,425.5h0.9v0.9h-0.9zM455.7,441.0h0.9v0.9h-0.9zM465.4,437.1h0.9v0.9h-0.9zM428.3,464.1h0.9v0.9h-0.9zM445.7,455.6h0.9v0.9h-0.9zM446.4,450.8h0.9v0.9h-0.9zM442.7,425.7h0.9v0.9h-0.9zM457.2,469.9h0.9v0.9h-0.9zM457.6,462.1h0.9v0.9h-0.9zM461.4,450.7h0.9v0.9h-0.9zM456.5,453.3h0.9v0.9h-0.9zM453.4,470.5h0.9v0.9h-0.9zM459.0,446.0h0.9v0.9h-0.9zM467.0,444.0h0.9v0.9h-0.9zM433.3,449.7h0.9v0.9h-0.9zM471.1,451.4h0.9v0.9h-0.9zM458.4,440.2h0.9v0.9h-0.9zM437.9,454.8h0.9v0.9h-0.9zM433.3,425.7h0.9v0.9h-0.9zM457.9,443.1h0.9v0.9h-0.9zM477.9,448.4h0.9v0.9h-0.9zM439.2,448.5h0.9v0.9h-0.9zM452.4,454.5h0.9v0.9h-0.9zM501.4,432.3h0.9v0.9h-0.9zM425.1,443.9h0.9v0.9h-0.9zM459.3,447.1h0.9v0.9h-0.9zM427.5,431.3h0.9v0.9h-0.9zM453.1,452.2h0.9v0.9h-0.9zM444.1,446.2h0.9v0.9h-0.9zM471.3,464.7h0.9v0.9h-0.9zM438.4,433.8h0.9v0.9h-0.9zM442.4,434.9h0.9v0.9h-0.9zM457.2,428.7h0.9v0.9h-0.9zM451.9,468.1h0.9v0.9h-0.9zM446.8,433.7h0.9v0.9h-0.9zM459.1,438.4h0.9v0.9h-0.9zM442.3,446.7h0.9v0.9h-0.9zM459.5,464.7h0.9v0.9h-0.9zM450.8,444.5h0.9v0.9h-0.9zM468.3,423.8h0.9v0.9h-0.9zM436.8,423.6h0.9v0.9h-0.9zM447.9,458.4h0.9v0.9h-0.9zM472.2,458.6h0.9v0.9h-0.9zM456.4,441.9h0.9v0.9h-0.9zM439.2,435.5h0.9v0.9h-0.9zM442.8,464.4h0.9v0.9h-0.9zM441.0,453.2h0.9v0.9h-0.9zM487.6,451.9h0.9v0.9h-0.9zM439.2,441.5h0.9v0.9h-0.9zM438.3,427.3h0.9v0.9h-0.9zM426.7,462.2h0.9v0.9h-0.9zM451.3,462.3h0.9v0.9h-0.9zM463.9,420.2h0.9v0.9h-0.9zM451.8,453.5h0.9v0.9h-0.9zM426.5,443.1h0.9v0.9h-0.9zM456.5,435.1h0.9v0.9h-0.9zM426.2,451.0h0.9v0.9h-0.9zM461.3,450.2h0.9v0.9h-0.9zM432.4,437.8h0.9v0.9h-0.9zM433.0,431.6h0.9v0.9h-0.9zM455.0,444.2h0.9v0.9h-0.9zM450.4,428.2h0.9v0.9h-0.9zM462.9,459.7h0.9v0.9h-0.9zM454.3,451.0h0.9v0.9h-0.9zM470.9,449.7h0.9v0.9h-0.9zM460.0,456.7h0.9v0.9h-0.9zM473.1,465.9h0.9v0.9h-0.9zM474.7,464.7h0.9v0.9h-0.9zM441.7,422.4h0.9v0.9h-0.9zM453.3,444.4h0.9v0.9h-0.9zM449.7,450.7h0.9v0.9h-0.9zM444.0,471.3h0.9v0.9h-0.9zM456.4,451.9h0.9v0.9h-0.9zM439.5,457.5h0.9v0.9h-0.9zM443.4,460.0h0.9v0.9h-0.9zM457.3,431.3h0.9v0.9h-0.9zM461.8,433.7h0.9v0.9h-0.9zM459.0,465.7h0.9v0.9h-0.9zM456.9,445.7h0.9v0.9h-0.9zM434.9,445.1h0.9v0.9h-0.9zM436.8,436.0h0.9v0.9h-0.9zM456.5,454.5h0.9v0.9h-0.9zM445.6,425.8h0.9v0.9h-0.9zM457.8,443.0h0.9v0.9h-0.9zM470.6,467.0h0.9v0.9h-0.9zM461.6,437.5h0.9v0.9h-0.9zM440.3,414.9h0.9v0.9h-0.9zM469.1,450.0h0.9v0.9h-0.9zM432.2,433.6h0.9v0.9h-0.9zM464.1,443.1h0.9v0.9h-0.9zM445.6,461.5h0.9v0.9h-0.9zM436.4,428.9h0.9v0.9h-0.9zM429.9,456.9h0.9v0.9h-0.9zM467.0,468.0h0.9v0.9h-0.9zM437.7,451.7h0.9v0.9h-0.9zM459.4,445.3h0.9v0.9h-0.9zM443.3,461.6h0.9v0.9h-0.9zM436.4,442.9h0.9v0.9h-0.9zM457.1,438.6h0.9v0.9h-0.9zM435.7,449.2h0.9v0.9h-0.9zM455.1,456.7h0.9v0.9h-0.9zM459.5,460.3h0.9v0.9h-0.9zM450.8,455.6h0.9v0.9h-0.9zM434.6,437.8h0.9v0.9h-0.9zM431.5,426.0h0.9v0.9h-0.9zM471.7,454.3h0.9v0.9h-0.9zM456.2,447.1h0.9v0.9h-0.9zM454.9,443.1h0.9v0.9h-0.9zM449.1,441.3h0.9v0.9h-0.9zM453.5,432.8h0.9v0.9h-0.9zM439.7,470.8h0.9v0.9h-0.9zM448.4,419.0h0.9v0.9h-0.9zM441.0,432.4h0.9v0.9h-0.9zM445.6,440.7h0.9v0.9h-0.9zM432.3,440.1h0.9v0.9h-0.9zM442.8,429.4h0.9v0.9h-0.9zM448.5,428.7h0.9v0.9h-0.9zM479.5,429.9h0.9v0.9h-0.9zM438.0,459.2h0.9v0.9h-0.9zM473.4,455.9h0.9v0.9h-0.9zM454.0,443.5h0.9v0.9h-0.9zM469.2,459.1h0.9v0.9h-0.9zM443.0,438.8h0.9v0.9h-0.9zM448.1,461.7h0.9v0.9h-0.9zM461.6,435.8h0.9v0.9h-0.9zM434.0,434.7h0.9v0.9h-0.9zM463.6,460.1h0.9v0.9h-0.9zM457.1,429.9h0.9v0.9h-0.9zM456.1,431.7h0.9v0.9h-0.9zM435.4,428.8h0.9v0.9h-0.9zM469.6,421.5h0.9v0.9h-0.9zM459.4,442.7h0.9v0.9h-0.9zM433.8,429.3h0.9v0.9h-0.9zM460.7,454.2h0.9v0.9h-0.9zM461.7,442.7h0.9v0.9h-0.9zM439.2,471.0h0.9v0.9h-0.9zM461.2,457.5h0.9v0.9h-0.9zM435.6,448.3h0.9v0.9h-0.9zM461.1,451.2h0.9v0.9h-0.9zM463.5,425.5h0.9v0.9h-0.9zM457.6,455.5h0.9v0.9h-0.9zM463.0,434.0h0.9v0.9h-0.9zM441.8,443.6h0.9v0.9h-0.9zM427.2,429.4h0.9v0.9h-0.9zM442.1,459.3h0.9v0.9h-0.9zM439.2,466.9h0.9v0.9h-0.9zM434.3,425.8h0.9v0.9h-0.9zM454.9,453.7h0.9v0.9h-0.9zM460.1,440.1h0.9v0.9h-0.9zM457.8,452.9h0.9v0.9h-0.9zM441.1,453.2h0.9v0.9h-0.9zM474.3,465.2h0.9v0.9h-0.9zM475.2,453.2h0.9v0.9h-0.9zM467.3,437.5h0.9v0.9h-0.9zM426.4,439.4h0.9v0.9h-0.9zM460.7,446.5h0.9v0.9h-0.9zM454.6,461.3h0.9v0.9h-0.9zM452.3,458.5h0.9v0.9h-0.9zM456.8,444.5h0.9v0.9h-0.9zM432.0,447.6h0.9v0.9h-0.9zM475.4,435.3h0.9v0.9h-0.9zM434.0,433.0h0.9v0.9h-0.9zM463.2,461.0h0.9v0.9h-0.9zM443.1,420.1h0.9v0.9h-0.9zM430.2,445.5h0.9v0.9h-0.9zM467.7,463.4h0.9v0.9h-0.9zM441.7,422.9h0.9v0.9h-0.9zM434.2,444.2h0.9v0.9h-0.9zM428.3,459.7h0.9v0.9h-0.9zM461.5,449.0h0.9v0.9h-0.9zM441.8,443.6h0.9v0.9h-0.9zM455.6,437.4h0.9v0.9h-0.9zM449.6,451.0h0.9v0.9h-0.9zM460.1,450.2h0.9v0.9h-0.9zM446.2,434.9h0.9v0.9h-0.9z" fill="#222" fill-opacity="1"/>
<path d="M458.8,448.2h0.7v0.7h-0.7zM488.2,463.7h0.7v0.7h-0.7zM498.0,425.9h0.7v0.7h-0.7zM452.5,410.1h0.7v0.7h-0.7zM509.0,466.9h0.7v0.7h-0.7zM440.6,417.2h0.7v0.7h-0.7zM518.0,474.0h0.7v0.7h-0.7zM432.4,416.6h0.7v0.7h-0.7zM482.9,480.3h0.7v0.7h-0.7zM540.9,468.9h0.7v0.7h-0.7zM425.0,440.7h0.7v0.7h-0.7zM507.2,433.8h0.7v0.7h-0.7zM467.2,433.3h0.7v0.7h-0.7zM452.2,424.5h0.7v0.7h-0.7zM513.4,466.1h0.7v0.7h-0.7zM463.3,456.2h0.7v0.7h-0.7zM489.6,462.1h0.7v0.7h-0.7zM544.1,481.8h0.7v0.7h-0.7zM542.8,420.4h0.7v0.7h-0.7zM481.1,458.4h0.7v0.7h-0.7zM556.1,454.0h0.7v0.7h-0.7zM452.0,419.6h0.7v0.7h-0.7zM452.1,419.9h0.7v0.7h-0.7zM472.7,431.2h0.7v0.7h-0.7zM557.5,461.2h0.7v0.7h-0.7zM494.0,430.7h0.7v0.7h-0.7zM537.8,466.8h0.7v0.7h-0.7zM497.9,424.9h0.7v0.7h-0.7zM447.5,482.5h0.7v0.7h-0.7zM530.0,424.2h0.7v0.7h-0.7zM439.4,486.3h0.7v0.7h-0.7zM501.8,428.9h0.7v0.7h-0.7zM550.8,484.1h0.7v0.7h-0.7zM449.6,410.7h0.7v0.7h-0.7zM435.5,458.7h0.7v0.7h-0.7zM493.3,455.9h0.7v0.7h-0.7zM529.4,410.9h0.7v0.7h-0.7zM532.0,434.0h0.7v0.7h-0.7zM538.6,442.9h0.7v0.7h-0.7zM485.5,429.4h0.7v0.7h-0.7zM443.7,437.8h0.7v0.7h-0.7zM525.3,474.3h0.7v0.7h-0.7zM505.6,416.1h0.7v0.7h-0.7zM543.9,482.1h0.7v0.7h-0.7zM523.7,462.1h0.7v0.7h-0.7zM526.2,427.5h0.7v0.7h-0.7zM491.8,415.8h0.7v0.7h-0.7zM513.1,467.8h0.7v0.7h-0.7zM467.6,444.4h0.7v0.7h-0.7zM519.1,446.4h0.7v0.7h-0.7zM512.5,423.5h0.7v0.7h-0.7zM440.1,459.3h0.7v0.7h-0.7zM516.6,410.3h0.7v0.7h-0.7zM447.1,428.1h0.7v0.7h-0.7zM476.1,415.9h0.7v0.7h-0.7zM480.6,418.5h0.7v0.7h-0.7zM553.9,438.8h0.7v0.7h-0.7zM515.3,485.4h0.7v0.7h-0.7zM541.7,478.8h0.7v0.7h-0.7zM543.3,475.2h0.7v0.7h-0.7z" fill="#444" fill-opacity="1"/>
<rect x="361.9" y="303.9" width="62.6" height="169.6" fill="none" stroke="#c4122f" stroke-width="2"/>
<text font-size="12.3" font-weight="bold" fill="#111" textLength="79.6" lengthAdjust="spacingAndGlyphs" transform="translate(418.0,388.2) rotate(-90)" >0.48 ± 0.03%</text>
<text font-size="20" font-weight="bold" fill="#111" textLength="23.6" lengthAdjust="spacingAndGlyphs" transform="translate(406.0,360.9) rotate(-90)" >***</text>
<text x="537.4" y="323.7" font-size="18.5" font-weight="bold" fill="#111" textLength="40.2" lengthAdjust="spacingAndGlyphs" >2 Gy</text>
<text x="-0.7" y="622.1" font-size="23" font-weight="bold" fill="#111" >D</text>
<line x1="72.0" y1="641.9" x2="166.8" y2="641.9" stroke="#2b2b2b" stroke-width="1.5" />
<line x1="81.8" y1="638.2" x2="81.8" y2="645.6" stroke="#1a1a1a" stroke-width="2.3" />
<line x1="127.5" y1="638.2" x2="127.5" y2="645.6" stroke="#1a1a1a" stroke-width="2.3" />
<line x1="166.3" y1="638.2" x2="166.3" y2="645.6" stroke="#1a1a1a" stroke-width="2.3" />
<text x="74.2" y="611.5" font-size="9.2" font-weight="bold" fill="#4c9a22" textLength="15.2" lengthAdjust="spacingAndGlyphs" stroke="#4c9a22" stroke-width="0.3">EdU</text>
<text x="117.7" y="611.5" font-size="9.2" font-weight="bold" fill="#c81e3e" textLength="18.6" lengthAdjust="spacingAndGlyphs" stroke="#c81e3e" stroke-width="0.3">BrdU</text>
<path d="M104.7,621.2 L112.8,619.4 L115.5,624.7 L117.9,624.2 L119.8,628.4 L122.3,627.7 L125.4,635.4 L119.2,630.9 L117.3,631.9 L114.0,627.7 L111.5,628.4 L109.0,624.2 Z" fill="#ee7a1e" stroke="#d04a10" stroke-width="0.6" stroke-linejoin="round"/>
<g transform="translate(0,0)">
<line x1="78.4" y1="615.4" x2="85.8" y2="615.4" stroke="#3c3c4a" stroke-width="1.0" />
<line x1="81.2" y1="615.6" x2="81.2" y2="619.0" stroke="#55556a" stroke-width="0.7" />
<line x1="83.0" y1="615.6" x2="83.0" y2="619.0" stroke="#55556a" stroke-width="0.7" />
<line x1="77.6" y1="618.9" x2="86.6" y2="618.9" stroke="#2c2c3a" stroke-width="1.1" />
<path d="M79.3,619.6 H84.9 V632.2 Q84.7,634.8 82.1,635.2 Q79.5,634.8 79.3,632.2 Z" fill="#1c2233"/>
<rect x="79.3" y="619.6" width="5.6" height="12.0" fill="#5aa832" />
<rect x="80.4" y="620.6" width="1.3" height="10.0" fill="#9fd877" fill-opacity="0.7"/>
</g>
<g transform="translate(0,0)">
<line x1="123.6" y1="615.4" x2="131.0" y2="615.4" stroke="#3c3c4a" stroke-width="1.0" />
<line x1="126.4" y1="615.6" x2="126.4" y2="619.0" stroke="#55556a" stroke-width="0.7" />
<line x1="128.2" y1="615.6" x2="128.2" y2="619.0" stroke="#55556a" stroke-width="0.7" />
<line x1="122.8" y1="618.9" x2="131.8" y2="618.9" stroke="#2c2c3a" stroke-width="1.1" />
<path d="M124.5,619.6 H130.1 V632.2 Q129.9,634.8 127.3,635.2 Q124.7,634.8 124.5,632.2 Z" fill="#1c2233"/>
<rect x="124.5" y="619.6" width="5.6" height="12.0" fill="#b81c38" />
<rect x="125.6" y="620.6" width="1.3" height="10.0" fill="#e0607a" fill-opacity="0.7"/>
</g>
<text x="61.7" y="654.4" font-size="8.1" font-weight="normal" fill="#1e1e1e" textLength="36.4" lengthAdjust="spacingAndGlyphs" >-1.5 hours</text>
<text x="117.3" y="654.4" font-size="8.1" font-weight="normal" fill="#1e1e1e" textLength="26.6" lengthAdjust="spacingAndGlyphs" >0 hours</text>
<text x="157.0" y="654.4" font-size="8.1" font-weight="normal" fill="#1e1e1e" textLength="21.7" lengthAdjust="spacingAndGlyphs" >1 hour</text>
<g transform="translate(166.1,662.4)">
<path d="M0,-5 C3.5,-5.6 7.6,-4 8.2,-0.6 C8.6,2.6 5.6,4.6 2,4.4 L0.6,4.6 L0,5.6 L-0.6,4.6 L-2,4.4 C-5.6,4.6 -8.6,2.6 -8.2,-0.6 C-7.6,-4 -3.5,-5.6 0,-5 Z" fill="#f3a2ae" stroke="#dc5a74" stroke-width="0.8"/>
<ellipse cx="0" cy="-1.5" rx="4.8" ry="2.3" fill="#fff6f7"/>
<path d="M-7,-1 L-4,1.2 M7,-1 L4,1.2" stroke="#e06a80" stroke-width="0.6" fill="none"/>
<circle cx="-1.3" cy="-1.6" r="0.65" fill="#8a3a4a"/><circle cx="1.5" cy="-1.6" r="0.65" fill="#8a3a4a"/>
<circle cx="0" cy="1.6" r="1.0" fill="#fbe4e7"/>
<circle cx="0" cy="4.9" r="0.7" fill="#b0304a"/>
</g>
<line x1="225.7" y1="641.9" x2="295.9" y2="641.9" stroke="#2b2b2b" stroke-width="1.5" />
<line x1="231.2" y1="638.2" x2="231.2" y2="645.6" stroke="#1a1a1a" stroke-width="2.3" />
<line x1="262.1" y1="638.2" x2="262.1" y2="645.6" stroke="#1a1a1a" stroke-width="2.3" />
<line x1="295.4" y1="638.2" x2="295.4" y2="645.6" stroke="#1a1a1a" stroke-width="2.3" />
<text x="224.1" y="611.5" font-size="9.2" font-weight="bold" fill="#4c9a22" textLength="14.0" lengthAdjust="spacingAndGlyphs" stroke="#4c9a22" stroke-width="0.3">EdU</text>
<text x="252.8" y="611.5" font-size="9.2" font-weight="bold" fill="#c81e3e" textLength="15.8" lengthAdjust="spacingAndGlyphs" stroke="#c81e3e" stroke-width="0.3">BrdU</text>
<path d="M219.4,621.2 L223.3,619.4 L224.5,624.7 L225.7,624.2 L226.6,628.4 L227.8,627.7 L229.3,635.4 L226.3,630.9 L225.4,631.9 L223.9,627.7 L222.7,628.4 L221.5,624.2 Z" fill="#e4622a" stroke="#d04a10" stroke-width="0.6" stroke-linejoin="round"/>
<g transform="translate(0,0)">
<line x1="227.9" y1="615.4" x2="233.9" y2="615.4" stroke="#3c3c4a" stroke-width="1.0" />
<line x1="230.0" y1="615.6" x2="230.0" y2="619.0" stroke="#55556a" stroke-width="0.7" />
<line x1="231.8" y1="615.6" x2="231.8" y2="619.0" stroke="#55556a" stroke-width="0.7" />
<line x1="227.2" y1="618.9" x2="234.7" y2="618.9" stroke="#2c2c3a" stroke-width="1.1" />
<path d="M228.8,619.6 H233.0 V632.2 Q232.8,634.8 230.9,635.2 Q229.0,634.8 228.8,632.2 Z" fill="#1c2233"/>
<rect x="228.8" y="619.6" width="4.1" height="12.0" fill="#5aa832" />
<rect x="229.7" y="620.6" width="1.0" height="10.0" fill="#9fd877" fill-opacity="0.7"/>
</g>
<g transform="translate(0,1.4)">
<line x1="258.4" y1="615.4" x2="264.2" y2="615.4" stroke="#3c3c4a" stroke-width="1.0" />
<line x1="260.4" y1="615.6" x2="260.4" y2="619.0" stroke="#55556a" stroke-width="0.7" />
<line x1="262.2" y1="615.6" x2="262.2" y2="619.0" stroke="#55556a" stroke-width="0.7" />
<line x1="257.6" y1="618.9" x2="265.1" y2="618.9" stroke="#2c2c3a" stroke-width="1.1" />
<path d="M259.2,619.6 H263.4 V632.2 Q263.2,634.8 261.3,635.2 Q259.4,634.8 259.2,632.2 Z" fill="#1c2233"/>
<rect x="259.2" y="619.6" width="4.1" height="12.0" fill="#b81c38" />
<rect x="260.1" y="620.6" width="1.0" height="10.0" fill="#e0607a" fill-opacity="0.7"/>
</g>
<text x="220.7" y="654.4" font-size="8.1" font-weight="normal" fill="#1e1e1e" textLength="26.8" lengthAdjust="spacingAndGlyphs" >0 hours</text>
<text x="251.2" y="654.4" font-size="8.1" font-weight="normal" fill="#1e1e1e" textLength="22.4" lengthAdjust="spacingAndGlyphs" >1 hour</text>
<text x="283.4" y="654.4" font-size="8.1" font-weight="normal" fill="#1e1e1e" textLength="27.3" lengthAdjust="spacingAndGlyphs" >2 hours</text>
<g transform="translate(295.4,662.4)">
<path d="M0,-5 C3.5,-5.6 7.6,-4 8.2,-0.6 C8.6,2.6 5.6,4.6 2,4.4 L0.6,4.6 L0,5.6 L-0.6,4.6 L-2,4.4 C-5.6,4.6 -8.6,2.6 -8.2,-0.6 C-7.6,-4 -3.5,-5.6 0,-5 Z" fill="#f3a2ae" stroke="#dc5a74" stroke-width="0.8"/>
<ellipse cx="0" cy="-1.5" rx="4.8" ry="2.3" fill="#fff6f7"/>
<path d="M-7,-1 L-4,1.2 M7,-1 L4,1.2" stroke="#e06a80" stroke-width="0.6" fill="none"/>
<circle cx="-1.3" cy="-1.6" r="0.65" fill="#8a3a4a"/><circle cx="1.5" cy="-1.6" r="0.65" fill="#8a3a4a"/>
<circle cx="0" cy="1.6" r="1.0" fill="#fbe4e7"/>
<circle cx="0" cy="4.9" r="0.7" fill="#b0304a"/>
</g>
<line x1="322.6" y1="641.9" x2="433.1" y2="641.9" stroke="#2b2b2b" stroke-width="1.5" />
<line x1="330.9" y1="638.2" x2="330.9" y2="645.6" stroke="#1a1a1a" stroke-width="2.3" />
<line x1="397.9" y1="638.2" x2="397.9" y2="645.6" stroke="#1a1a1a" stroke-width="2.3" />
<line x1="432.1" y1="638.2" x2="432.1" y2="645.6" stroke="#1a1a1a" stroke-width="2.3" />
<text x="324.7" y="611.5" font-size="9.2" font-weight="bold" fill="#4c9a22" textLength="13.9" lengthAdjust="spacingAndGlyphs" stroke="#4c9a22" stroke-width="0.3">EdU</text>
<text x="389.2" y="611.5" font-size="9.2" font-weight="bold" fill="#c81e3e" textLength="16.6" lengthAdjust="spacingAndGlyphs" stroke="#c81e3e" stroke-width="0.3">BrdU</text>
<path d="M320.0,621.2 L323.6,619.4 L324.8,624.7 L326.0,624.2 L326.8,628.4 L327.9,627.7 L329.3,635.4 L326.5,630.9 L325.7,631.9 L324.2,627.7 L323.1,628.4 L322.0,624.2 Z" fill="#e4622a" stroke="#d04a10" stroke-width="0.6" stroke-linejoin="round"/>
<g transform="translate(0,0)">
<line x1="328.9" y1="615.4" x2="334.5" y2="615.4" stroke="#3c3c4a" stroke-width="1.0" />
<line x1="330.8" y1="615.6" x2="330.8" y2="619.0" stroke="#55556a" stroke-width="0.7" />
<line x1="332.6" y1="615.6" x2="332.6" y2="619.0" stroke="#55556a" stroke-width="0.7" />
<line x1="328.1" y1="618.9" x2="335.3" y2="618.9" stroke="#2c2c3a" stroke-width="1.1" />
<path d="M329.8,619.6 H333.6 V632.2 Q333.4,634.8 331.7,635.2 Q329.9,634.8 329.8,632.2 Z" fill="#1c2233"/>
<rect x="329.8" y="619.6" width="3.9" height="12.0" fill="#5aa832" />
<rect x="330.5" y="620.6" width="0.9" height="10.0" fill="#9fd877" fill-opacity="0.7"/>
</g>
<g transform="translate(0,1.4)">
<line x1="395.4" y1="615.4" x2="401.0" y2="615.4" stroke="#3c3c4a" stroke-width="1.0" />
<line x1="397.3" y1="615.6" x2="397.3" y2="619.0" stroke="#55556a" stroke-width="0.7" />
<line x1="399.1" y1="615.6" x2="399.1" y2="619.0" stroke="#55556a" stroke-width="0.7" />
<line x1="394.6" y1="618.9" x2="401.8" y2="618.9" stroke="#2c2c3a" stroke-width="1.1" />
<path d="M396.2,619.6 H400.1 V632.2 Q399.9,634.8 398.2,635.2 Q396.4,634.8 396.2,632.2 Z" fill="#1c2233"/>
<rect x="396.2" y="619.6" width="3.9" height="12.0" fill="#b81c38" />
<rect x="397.0" y="620.6" width="0.9" height="10.0" fill="#e0607a" fill-opacity="0.7"/>
</g>
<text x="320.0" y="654.4" font-size="8.1" font-weight="normal" fill="#1e1e1e" textLength="27.0" lengthAdjust="spacingAndGlyphs" >0 hours</text>
<text x="384.6" y="654.4" font-size="8.1" font-weight="normal" fill="#1e1e1e" textLength="27.2" lengthAdjust="spacingAndGlyphs" >2 hours</text>
<text x="418.5" y="654.4" font-size="8.1" font-weight="normal" fill="#1e1e1e" textLength="27.2" lengthAdjust="spacingAndGlyphs" >3 hours</text>
<g transform="translate(433.0,662.4)">
<path d="M0,-5 C3.5,-5.6 7.6,-4 8.2,-0.6 C8.6,2.6 5.6,4.6 2,4.4 L0.6,4.6 L0,5.6 L-0.6,4.6 L-2,4.4 C-5.6,4.6 -8.6,2.6 -8.2,-0.6 C-7.6,-4 -3.5,-5.6 0,-5 Z" fill="#f3a2ae" stroke="#dc5a74" stroke-width="0.8"/>
<ellipse cx="0" cy="-1.5" rx="4.8" ry="2.3" fill="#fff6f7"/>
<path d="M-7,-1 L-4,1.2 M7,-1 L4,1.2" stroke="#e06a80" stroke-width="0.6" fill="none"/>
<circle cx="-1.3" cy="-1.6" r="0.65" fill="#8a3a4a"/><circle cx="1.5" cy="-1.6" r="0.65" fill="#8a3a4a"/>
<circle cx="0" cy="1.6" r="1.0" fill="#fbe4e7"/>
<circle cx="0" cy="4.9" r="0.7" fill="#b0304a"/>
</g>
<line x1="460.0" y1="641.9" x2="579.7" y2="641.9" stroke="#2b2b2b" stroke-width="1.5" />
<line x1="465.8" y1="638.2" x2="465.8" y2="645.6" stroke="#1a1a1a" stroke-width="2.3" />
<line x1="550.5" y1="638.2" x2="550.5" y2="645.6" stroke="#1a1a1a" stroke-width="2.3" />
<line x1="579.4" y1="638.2" x2="579.4" y2="645.6" stroke="#1a1a1a" stroke-width="2.3" />
<text x="459.6" y="611.5" font-size="9.2" font-weight="bold" fill="#4c9a22" textLength="14.5" lengthAdjust="spacingAndGlyphs" stroke="#4c9a22" stroke-width="0.3">EdU</text>
<text x="541.2" y="611.5" font-size="9.2" font-weight="bold" fill="#c81e3e" textLength="17.6" lengthAdjust="spacingAndGlyphs" stroke="#c81e3e" stroke-width="0.3">BrdU</text>
<path d="M453.3,623.2 L457.2,621.4 L458.5,626.7 L459.7,626.2 L460.6,630.4 L461.8,629.7 L463.3,637.4 L460.3,632.9 L459.4,633.9 L457.8,629.7 L456.6,630.4 L455.4,626.2 Z" fill="#ee7a1e" stroke="#d04a10" stroke-width="0.6" stroke-linejoin="round"/>
<g transform="translate(0,1.8)">
<line x1="462.9" y1="615.4" x2="468.8" y2="615.4" stroke="#3c3c4a" stroke-width="1.0" />
<line x1="464.9" y1="615.6" x2="464.9" y2="619.0" stroke="#55556a" stroke-width="0.7" />
<line x1="466.7" y1="615.6" x2="466.7" y2="619.0" stroke="#55556a" stroke-width="0.7" />
<line x1="462.1" y1="618.9" x2="469.6" y2="618.9" stroke="#2c2c3a" stroke-width="1.1" />
<path d="M463.8,619.6 H467.9 V632.2 Q467.7,634.8 465.8,635.2 Q463.9,634.8 463.8,632.2 Z" fill="#1c2233"/>
<rect x="463.8" y="619.6" width="4.1" height="12.0" fill="#5aa832" />
<rect x="464.6" y="620.6" width="1.0" height="10.0" fill="#9fd877" fill-opacity="0.7"/>
</g>
<g transform="translate(0,2.4)">
<line x1="547.6" y1="615.4" x2="553.4" y2="615.4" stroke="#3c3c4a" stroke-width="1.0" />
<line x1="549.6" y1="615.6" x2="549.6" y2="619.0" stroke="#55556a" stroke-width="0.7" />
<line x1="551.4" y1="615.6" x2="551.4" y2="619.0" stroke="#55556a" stroke-width="0.7" />
<line x1="546.8" y1="618.9" x2="554.2" y2="618.9" stroke="#2c2c3a" stroke-width="1.1" />
<path d="M548.5,619.6 H552.5 V632.2 Q552.3,634.8 550.5,635.2 Q548.7,634.8 548.5,632.2 Z" fill="#1c2233"/>
<rect x="548.5" y="619.6" width="4.1" height="12.0" fill="#b81c38" />
<rect x="549.3" y="620.6" width="1.0" height="10.0" fill="#e0607a" fill-opacity="0.7"/>
</g>
<text x="454.5" y="654.4" font-size="8.1" font-weight="normal" fill="#1e1e1e" textLength="26.9" lengthAdjust="spacingAndGlyphs" >0 hours</text>
<text x="537.0" y="654.4" font-size="8.1" font-weight="normal" fill="#1e1e1e" textLength="26.8" lengthAdjust="spacingAndGlyphs" >3 hours</text>
<text x="568.9" y="654.4" font-size="8.1" font-weight="normal" fill="#1e1e1e" textLength="26.8" lengthAdjust="spacingAndGlyphs" >4 hours</text>
<g transform="translate(579.4,664.0)">
<path d="M0,-5 C3.5,-5.6 7.6,-4 8.2,-0.6 C8.6,2.6 5.6,4.6 2,4.4 L0.6,4.6 L0,5.6 L-0.6,4.6 L-2,4.4 C-5.6,4.6 -8.6,2.6 -8.2,-0.6 C-7.6,-4 -3.5,-5.6 0,-5 Z" fill="#f3a2ae" stroke="#dc5a74" stroke-width="0.8"/>
<ellipse cx="0" cy="-1.5" rx="4.8" ry="2.3" fill="#fff6f7"/>
<path d="M-7,-1 L-4,1.2 M7,-1 L4,1.2" stroke="#e06a80" stroke-width="0.6" fill="none"/>
<circle cx="-1.3" cy="-1.6" r="0.65" fill="#8a3a4a"/><circle cx="1.5" cy="-1.6" r="0.65" fill="#8a3a4a"/>
<circle cx="0" cy="1.6" r="1.0" fill="#fbe4e7"/>
<circle cx="0" cy="4.9" r="0.7" fill="#b0304a"/>
</g>
<line x1="73.4" y1="730.3" x2="73.4" y2="741.4" stroke="#222" stroke-width="1.1" />
<line x1="70.8" y1="730.3" x2="76.0" y2="730.3" stroke="#222" stroke-width="1.2" />
<rect x="63.7" y="741.4" width="19.4" height="67.0" fill="#0a0a0a" />
<text x="73.4" y="805.8" font-size="7.6" font-weight="bold" fill="#fff" text-anchor="middle" textLength="14" lengthAdjust="spacing"><tspan font-style="italic">n</tspan>=4</text>
<line x1="92.7" y1="740.4" x2="92.7" y2="747.7" stroke="#222" stroke-width="1.1" />
<line x1="90.1" y1="740.4" x2="95.2" y2="740.4" stroke="#222" stroke-width="1.2" />
<rect x="83.8" y="748.4" width="17.7" height="60.0" fill="#fff" stroke="#0c0c0c" stroke-width="1.45" />
<text x="92.7" y="805.8" font-size="7.6" font-weight="bold" fill="#222" text-anchor="middle" textLength="14" lengthAdjust="spacing"><tspan font-style="italic">n</tspan>=4</text>
<line x1="117.6" y1="748.7" x2="117.6" y2="756.1" stroke="#222" stroke-width="1.1" />
<line x1="115.0" y1="748.7" x2="120.2" y2="748.7" stroke="#222" stroke-width="1.2" />
<rect x="107.9" y="756.1" width="19.4" height="52.3" fill="#0a0a0a" />
<text x="117.6" y="805.8" font-size="7.6" font-weight="bold" fill="#fff" text-anchor="middle" textLength="14" lengthAdjust="spacing"><tspan font-style="italic">n</tspan>=4</text>
<line x1="137.0" y1="751.4" x2="137.0" y2="758.8" stroke="#222" stroke-width="1.1" />
<line x1="134.4" y1="751.4" x2="139.6" y2="751.4" stroke="#222" stroke-width="1.2" />
<rect x="128.0" y="759.5" width="18.0" height="48.9" fill="#fff" stroke="#0c0c0c" stroke-width="1.45" />
<text x="137.0" y="805.8" font-size="7.6" font-weight="bold" fill="#222" text-anchor="middle" textLength="14" lengthAdjust="spacing"><tspan font-style="italic">n</tspan>=4</text>
<line x1="160.3" y1="732.6" x2="160.3" y2="737.7" stroke="#222" stroke-width="1.1" />
<line x1="157.7" y1="732.6" x2="162.9" y2="732.6" stroke="#222" stroke-width="1.2" />
<rect x="150.8" y="737.7" width="19.0" height="70.7" fill="#0a0a0a" />
<text x="160.3" y="805.8" font-size="7.6" font-weight="bold" fill="#fff" text-anchor="middle" textLength="14" lengthAdjust="spacing"><tspan font-style="italic">n</tspan>=4</text>
<line x1="179.6" y1="733.7" x2="179.6" y2="738.7" stroke="#222" stroke-width="1.1" />
<line x1="177.0" y1="733.7" x2="182.2" y2="733.7" stroke="#222" stroke-width="1.2" />
<rect x="170.5" y="739.4" width="18.1" height="69.0" fill="#fff" stroke="#0c0c0c" stroke-width="1.45" />
<text x="179.6" y="805.8" font-size="7.6" font-weight="bold" fill="#222" text-anchor="middle" textLength="14" lengthAdjust="spacing"><tspan font-style="italic">n</tspan>=4</text>
<line x1="59.3" y1="690.8" x2="59.3" y2="808.4" stroke="#555" stroke-width="1" />
<line x1="56.3" y1="808.6" x2="193.4" y2="808.6" stroke="#1c1c1c" stroke-width="1.4" />
<line x1="56.3" y1="808.4" x2="59.3" y2="808.4" stroke="#6e6e6e" stroke-width="1" />
<text x="53.2" y="812.2" font-size="10.6" font-weight="bold" fill="#111" text-anchor="end" >0</text>
<line x1="56.3" y1="788.8" x2="59.3" y2="788.8" stroke="#6e6e6e" stroke-width="1" />
<text x="53.2" y="792.6" font-size="10.6" font-weight="bold" fill="#111" text-anchor="end" >5</text>
<line x1="56.3" y1="769.2" x2="59.3" y2="769.2" stroke="#6e6e6e" stroke-width="1" />
<text x="53.2" y="773.0" font-size="10.6" font-weight="bold" fill="#111" text-anchor="end" >10</text>
<line x1="56.3" y1="749.6" x2="59.3" y2="749.6" stroke="#6e6e6e" stroke-width="1" />
<text x="53.2" y="753.4" font-size="10.6" font-weight="bold" fill="#111" text-anchor="end" >15</text>
<line x1="56.3" y1="730.0" x2="59.3" y2="730.0" stroke="#6e6e6e" stroke-width="1" />
<text x="53.2" y="733.8" font-size="10.6" font-weight="bold" fill="#111" text-anchor="end" >20</text>
<line x1="56.3" y1="710.4" x2="59.3" y2="710.4" stroke="#6e6e6e" stroke-width="1" />
<text x="53.2" y="714.2" font-size="10.6" font-weight="bold" fill="#111" text-anchor="end" >25</text>
<line x1="56.3" y1="690.8" x2="59.3" y2="690.8" stroke="#6e6e6e" stroke-width="1" />
<text x="53.2" y="694.6" font-size="10.6" font-weight="bold" fill="#111" text-anchor="end" >30</text>
<text x="69.5" y="824.3" font-size="13.6" font-weight="bold" fill="#111" textLength="29.0" lengthAdjust="spacingAndGlyphs" >0 Gy</text>
<text x="113.0" y="824.3" font-size="13.6" font-weight="bold" fill="#111" textLength="28.5" lengthAdjust="spacingAndGlyphs" >2 Gy</text>
<text x="155.2" y="824.3" font-size="13.6" font-weight="bold" fill="#111" textLength="29.0" lengthAdjust="spacingAndGlyphs" >5 Gy</text>
<line x1="66.3" y1="829.4" x2="184.4" y2="829.4" stroke="#111" stroke-width="1.4" />
<text x="99.5" y="845.8" font-size="14.2" font-weight="bold" fill="#111" textLength="60.7" lengthAdjust="spacingAndGlyphs" >1 hour PI</text>
<line x1="233.3" y1="738.3" x2="233.3" y2="745.4" stroke="#222" stroke-width="1.1" />
<line x1="230.8" y1="738.3" x2="235.9" y2="738.3" stroke="#222" stroke-width="1.2" />
<rect x="223.5" y="745.4" width="19.7" height="62.8" fill="#0a0a0a" />
<text x="233.3" y="805.6" font-size="7.6" font-weight="bold" fill="#fff" text-anchor="middle" textLength="14" lengthAdjust="spacing"><tspan font-style="italic">n</tspan>=3</text>
<line x1="253.0" y1="748.3" x2="253.0" y2="752.9" stroke="#222" stroke-width="1.1" />
<line x1="250.4" y1="748.3" x2="255.6" y2="748.3" stroke="#222" stroke-width="1.2" />
<rect x="243.9" y="753.6" width="18.3" height="54.6" fill="#fff" stroke="#0c0c0c" stroke-width="1.45" />
<line x1="253.0" y1="752.9" x2="253.0" y2="757.2" stroke="#222" stroke-width="1.1" />
<line x1="250.4" y1="757.2" x2="255.6" y2="757.2" stroke="#222" stroke-width="1.2" />
<text x="253.0" y="805.6" font-size="7.6" font-weight="bold" fill="#222" text-anchor="middle" textLength="14" lengthAdjust="spacing"><tspan font-style="italic">n</tspan>=3</text>
<line x1="277.4" y1="726.5" x2="277.4" y2="734.9" stroke="#222" stroke-width="1.1" />
<line x1="274.8" y1="726.5" x2="280.0" y2="726.5" stroke="#222" stroke-width="1.2" />
<rect x="267.5" y="734.9" width="19.7" height="73.3" fill="#0a0a0a" />
<text x="277.4" y="805.6" font-size="7.6" font-weight="bold" fill="#fff" text-anchor="middle" textLength="14" lengthAdjust="spacing"><tspan font-style="italic">n</tspan>=3</text>
<line x1="296.8" y1="724.4" x2="296.8" y2="739.9" stroke="#222" stroke-width="1.1" />
<line x1="294.2" y1="724.4" x2="299.4" y2="724.4" stroke="#222" stroke-width="1.2" />
<rect x="287.9" y="740.6" width="17.8" height="67.6" fill="#fff" stroke="#0c0c0c" stroke-width="1.45" />
<line x1="296.8" y1="739.9" x2="296.8" y2="754.6" stroke="#222" stroke-width="1.1" />
<line x1="294.2" y1="754.6" x2="299.4" y2="754.6" stroke="#222" stroke-width="1.2" />
<text x="296.8" y="805.6" font-size="7.6" font-weight="bold" fill="#222" text-anchor="middle" textLength="14" lengthAdjust="spacing"><tspan font-style="italic">n</tspan>=3</text>
<line x1="220.2" y1="689.7" x2="220.2" y2="808.2" stroke="#555" stroke-width="1" />
<line x1="217.2" y1="808.4" x2="313.0" y2="808.4" stroke="#1c1c1c" stroke-width="1.4" />
<line x1="217.2" y1="808.2" x2="220.2" y2="808.2" stroke="#6e6e6e" stroke-width="1" />
<text x="213.5" y="812.0" font-size="10.6" font-weight="bold" fill="#111" text-anchor="end" >0</text>
<line x1="217.2" y1="788.5" x2="220.2" y2="788.5" stroke="#6e6e6e" stroke-width="1" />
<text x="213.5" y="792.2" font-size="10.6" font-weight="bold" fill="#111" text-anchor="end" >5</text>
<line x1="217.2" y1="768.7" x2="220.2" y2="768.7" stroke="#6e6e6e" stroke-width="1" />
<text x="213.5" y="772.5" font-size="10.6" font-weight="bold" fill="#111" text-anchor="end" >10</text>
<line x1="217.2" y1="749.0" x2="220.2" y2="749.0" stroke="#6e6e6e" stroke-width="1" />
<text x="213.5" y="752.8" font-size="10.6" font-weight="bold" fill="#111" text-anchor="end" >15</text>
<line x1="217.2" y1="729.2" x2="220.2" y2="729.2" stroke="#6e6e6e" stroke-width="1" />
<text x="213.5" y="733.0" font-size="10.6" font-weight="bold" fill="#111" text-anchor="end" >20</text>
<line x1="217.2" y1="709.5" x2="220.2" y2="709.5" stroke="#6e6e6e" stroke-width="1" />
<text x="213.5" y="713.2" font-size="10.6" font-weight="bold" fill="#111" text-anchor="end" >25</text>
<line x1="217.2" y1="689.7" x2="220.2" y2="689.7" stroke="#6e6e6e" stroke-width="1" />
<text x="213.5" y="693.5" font-size="10.6" font-weight="bold" fill="#111" text-anchor="end" >30</text>
<text x="228.7" y="824.3" font-size="13.6" font-weight="bold" fill="#111" textLength="28.1" lengthAdjust="spacingAndGlyphs" >0 Gy</text>
<text x="271.6" y="824.3" font-size="13.6" font-weight="bold" fill="#111" textLength="28.5" lengthAdjust="spacingAndGlyphs" >2 Gy</text>
<line x1="226.4" y1="829.4" x2="302.5" y2="829.4" stroke="#111" stroke-width="1.4" />
<text x="228.2" y="844.2" font-size="14.2" font-weight="bold" fill="#111" textLength="71.3" lengthAdjust="spacingAndGlyphs" >2 hours PI</text>
<line x1="350.9" y1="739.3" x2="350.9" y2="741.2" stroke="#222" stroke-width="1.1" />
<line x1="348.2" y1="739.3" x2="353.5" y2="739.3" stroke="#222" stroke-width="1.2" />
<rect x="340.8" y="741.2" width="20.1" height="67.0" fill="#0a0a0a" />
<text x="350.9" y="805.6" font-size="7.6" font-weight="bold" fill="#fff" text-anchor="middle" textLength="14" lengthAdjust="spacing"><tspan font-style="italic">n</tspan>=4</text>
<line x1="370.7" y1="732.4" x2="370.7" y2="734.9" stroke="#222" stroke-width="1.1" />
<line x1="368.1" y1="732.4" x2="373.3" y2="732.4" stroke="#222" stroke-width="1.2" />
<rect x="361.6" y="735.6" width="18.2" height="72.6" fill="#fff" stroke="#0c0c0c" stroke-width="1.45" />
<text x="370.7" y="805.6" font-size="7.6" font-weight="bold" fill="#222" text-anchor="middle" textLength="14" lengthAdjust="spacing"><tspan font-style="italic">n</tspan>=3</text>
<line x1="395.2" y1="752.7" x2="395.2" y2="755.0" stroke="#222" stroke-width="1.1" />
<line x1="392.6" y1="752.7" x2="397.8" y2="752.7" stroke="#222" stroke-width="1.2" />
<rect x="385.6" y="755.0" width="19.2" height="53.2" fill="#0a0a0a" />
<text x="395.2" y="805.6" font-size="7.6" font-weight="bold" fill="#fff" text-anchor="middle" textLength="14" lengthAdjust="spacing"><tspan font-style="italic">n</tspan>=3</text>
<line x1="414.6" y1="737.0" x2="414.6" y2="745.4" stroke="#222" stroke-width="1.1" />
<line x1="412.0" y1="737.0" x2="417.2" y2="737.0" stroke="#222" stroke-width="1.2" />
<rect x="405.5" y="746.1" width="18.3" height="62.1" fill="#fff" stroke="#0c0c0c" stroke-width="1.45" />
<text x="414.6" y="805.6" font-size="7.6" font-weight="bold" fill="#222" text-anchor="middle" textLength="14" lengthAdjust="spacing"><tspan font-style="italic">n</tspan>=3</text>
<line x1="338.7" y1="689.7" x2="338.7" y2="808.2" stroke="#555" stroke-width="1" />
<line x1="335.7" y1="808.4" x2="430.7" y2="808.4" stroke="#1c1c1c" stroke-width="1.4" />
<line x1="335.7" y1="808.2" x2="338.7" y2="808.2" stroke="#6e6e6e" stroke-width="1" />
<text x="332.0" y="812.0" font-size="10.6" font-weight="bold" fill="#111" text-anchor="end" >0</text>
<line x1="335.7" y1="788.5" x2="338.7" y2="788.5" stroke="#6e6e6e" stroke-width="1" />
<text x="332.0" y="792.2" font-size="10.6" font-weight="bold" fill="#111" text-anchor="end" >5</text>
<line x1="335.7" y1="768.7" x2="338.7" y2="768.7" stroke="#6e6e6e" stroke-width="1" />
<text x="332.0" y="772.5" font-size="10.6" font-weight="bold" fill="#111" text-anchor="end" >10</text>
<line x1="335.7" y1="749.0" x2="338.7" y2="749.0" stroke="#6e6e6e" stroke-width="1" />
<text x="332.0" y="752.8" font-size="10.6" font-weight="bold" fill="#111" text-anchor="end" >15</text>
<line x1="335.7" y1="729.2" x2="338.7" y2="729.2" stroke="#6e6e6e" stroke-width="1" />
<text x="332.0" y="733.0" font-size="10.6" font-weight="bold" fill="#111" text-anchor="end" >20</text>
<line x1="335.7" y1="709.5" x2="338.7" y2="709.5" stroke="#6e6e6e" stroke-width="1" />
<text x="332.0" y="713.2" font-size="10.6" font-weight="bold" fill="#111" text-anchor="end" >25</text>
<line x1="335.7" y1="689.7" x2="338.7" y2="689.7" stroke="#6e6e6e" stroke-width="1" />
<text x="332.0" y="693.5" font-size="10.6" font-weight="bold" fill="#111" text-anchor="end" >30</text>
<text x="346.3" y="824.3" font-size="13.6" font-weight="bold" fill="#111" textLength="29.4" lengthAdjust="spacingAndGlyphs" >0 Gy</text>
<text x="390.0" y="824.3" font-size="13.6" font-weight="bold" fill="#111" textLength="28.6" lengthAdjust="spacingAndGlyphs" >2 Gy</text>
<line x1="342.2" y1="829.4" x2="419.6" y2="829.4" stroke="#111" stroke-width="1.4" />
<text x="345.3" y="844.0" font-size="14.2" font-weight="bold" fill="#111" textLength="71.1" lengthAdjust="spacingAndGlyphs" >3 hours PI</text>
<line x1="468.9" y1="707.1" x2="468.9" y2="715.1" stroke="#222" stroke-width="1.1" />
<line x1="466.3" y1="707.1" x2="471.5" y2="707.1" stroke="#222" stroke-width="1.2" />
<rect x="459.4" y="715.1" width="19.0" height="92.8" fill="#0a0a0a" />
<text x="468.9" y="805.3" font-size="7.6" font-weight="bold" fill="#fff" text-anchor="middle" textLength="14" lengthAdjust="spacing"><tspan font-style="italic">n</tspan>=3</text>
<line x1="488.5" y1="715.1" x2="488.5" y2="724.3" stroke="#222" stroke-width="1.1" />
<line x1="485.9" y1="715.1" x2="491.1" y2="715.1" stroke="#222" stroke-width="1.2" />
<rect x="479.1" y="725.0" width="18.8" height="82.9" fill="#fff" stroke="#0c0c0c" stroke-width="1.45" />
<text x="488.5" y="805.3" font-size="7.6" font-weight="bold" fill="#222" text-anchor="middle" textLength="14" lengthAdjust="spacing"><tspan font-style="italic">n</tspan>=3</text>
<line x1="513.4" y1="728.7" x2="513.4" y2="733.1" stroke="#222" stroke-width="1.1" />
<line x1="510.8" y1="728.7" x2="516.0" y2="728.7" stroke="#222" stroke-width="1.2" />
<rect x="503.9" y="748.6" width="19.0" height="59.3" fill="#0a0a0a" />
<rect x="504.4" y="733.6" width="18.0" height="15.5" fill="url(#hatch)" stroke="#222" stroke-width="1.0" />
<text x="513.4" y="805.3" font-size="7.6" font-weight="bold" fill="#fff" text-anchor="middle" textLength="14" lengthAdjust="spacing"><tspan font-style="italic">n</tspan>=3</text>
<line x1="532.5" y1="733.2" x2="532.5" y2="734.6" stroke="#222" stroke-width="1.1" />
<line x1="529.9" y1="733.2" x2="535.1" y2="733.2" stroke="#222" stroke-width="1.2" />
<rect x="523.6" y="748.7" width="17.8" height="59.2" fill="#fff" stroke="#0c0c0c" stroke-width="1.45" />
<rect x="523.4" y="735.1" width="18.2" height="13.4" fill="url(#hatch)" stroke="#222" stroke-width="1.0" />
<text x="532.5" y="805.3" font-size="7.6" font-weight="bold" fill="#222" text-anchor="middle" textLength="14" lengthAdjust="spacing"><tspan font-style="italic">n</tspan>=3</text>
<line x1="556.2" y1="763.2" x2="556.2" y2="764.9" stroke="#222" stroke-width="1.1" />
<line x1="553.6" y1="763.2" x2="558.9" y2="763.2" stroke="#222" stroke-width="1.2" />
<rect x="546.6" y="775.2" width="19.3" height="32.7" fill="#0a0a0a" />
<rect x="547.1" y="765.4" width="18.3" height="10.3" fill="url(#hatch)" stroke="#222" stroke-width="1.0" />
<text x="556.2" y="805.3" font-size="7.6" font-weight="bold" fill="#fff" text-anchor="middle" textLength="14" lengthAdjust="spacing"><tspan font-style="italic">n</tspan>=3</text>
<line x1="575.5" y1="761.0" x2="575.5" y2="764.9" stroke="#222" stroke-width="1.1" />
<line x1="572.9" y1="761.0" x2="578.1" y2="761.0" stroke="#222" stroke-width="1.2" />
<rect x="566.6" y="779.5" width="17.8" height="28.4" fill="#fff" stroke="#0c0c0c" stroke-width="1.45" />
<rect x="566.4" y="765.4" width="18.2" height="13.9" fill="url(#hatch)" stroke="#222" stroke-width="1.0" />
<text x="575.5" y="805.3" font-size="7.6" font-weight="bold" fill="#222" text-anchor="middle" textLength="14" lengthAdjust="spacing"><tspan font-style="italic">n</tspan>=4</text>
<line x1="455.0" y1="690.3" x2="455.0" y2="807.9" stroke="#555" stroke-width="1" />
<line x1="452.0" y1="808.1" x2="589.2" y2="808.1" stroke="#1c1c1c" stroke-width="1.4" />
<line x1="452.0" y1="807.9" x2="455.0" y2="807.9" stroke="#6e6e6e" stroke-width="1" />
<text x="450.0" y="811.7" font-size="10.6" font-weight="bold" fill="#111" text-anchor="end" >0</text>
<line x1="452.0" y1="788.3" x2="455.0" y2="788.3" stroke="#6e6e6e" stroke-width="1" />
<text x="450.0" y="792.1" font-size="10.6" font-weight="bold" fill="#111" text-anchor="end" >5</text>
<line x1="452.0" y1="768.7" x2="455.0" y2="768.7" stroke="#6e6e6e" stroke-width="1" />
<text x="450.0" y="772.5" font-size="10.6" font-weight="bold" fill="#111" text-anchor="end" >10</text>
<line x1="452.0" y1="749.1" x2="455.0" y2="749.1" stroke="#6e6e6e" stroke-width="1" />
<text x="450.0" y="752.9" font-size="10.6" font-weight="bold" fill="#111" text-anchor="end" >15</text>
<line x1="452.0" y1="729.5" x2="455.0" y2="729.5" stroke="#6e6e6e" stroke-width="1" />
<text x="450.0" y="733.3" font-size="10.6" font-weight="bold" fill="#111" text-anchor="end" >20</text>
<line x1="452.0" y1="709.9" x2="455.0" y2="709.9" stroke="#6e6e6e" stroke-width="1" />
<text x="450.0" y="713.7" font-size="10.6" font-weight="bold" fill="#111" text-anchor="end" >25</text>
<line x1="452.0" y1="690.3" x2="455.0" y2="690.3" stroke="#6e6e6e" stroke-width="1" />
<text x="450.0" y="694.1" font-size="10.6" font-weight="bold" fill="#111" text-anchor="end" >30</text>
<text x="465.0" y="824.3" font-size="13.6" font-weight="bold" fill="#111" textLength="29.0" lengthAdjust="spacingAndGlyphs" >0 Gy</text>
<text x="507.9" y="824.3" font-size="13.6" font-weight="bold" fill="#111" textLength="28.9" lengthAdjust="spacingAndGlyphs" >2 Gy</text>
<text x="550.5" y="824.3" font-size="13.6" font-weight="bold" fill="#111" textLength="29.0" lengthAdjust="spacingAndGlyphs" >5 Gy</text>
<line x1="461.6" y1="829.4" x2="582.2" y2="829.4" stroke="#111" stroke-width="1.4" />
<text x="484.7" y="844.4" font-size="14.2" font-weight="bold" fill="#111" textLength="70.9" lengthAdjust="spacingAndGlyphs" >4 hours PI</text>
<line x1="532.5" y1="739.5" x2="532.5" y2="744.6" stroke="#222" stroke-width="1.0" />
<line x1="530.7" y1="744.6" x2="534.3" y2="744.6" stroke="#222" stroke-width="1.1" />
<line x1="575.5" y1="771.5" x2="575.5" y2="775.8" stroke="#222" stroke-width="1.0" />
<line x1="573.7" y1="775.8" x2="577.3" y2="775.8" stroke="#222" stroke-width="1.1" />
<rect x="67.2" y="673.8" width="6.4" height="6.0" fill="#0a0a0a" />
<text x="78.8" y="679.3" font-size="12.8" font-weight="bold" fill="#111" textLength="14.0" lengthAdjust="spacingAndGlyphs" >wt</text>
<rect x="67.9" y="690.7" width="5.4" height="5.2" fill="#fff" stroke="#111" stroke-width="1.0" />
<text x="78.8" y="695.8" font-size="13" font-weight="bold" fill="#111">p21<tspan font-size="8.5" dy="-5">-/-</tspan></text>
<rect x="67.7" y="705.2" width="5.8" height="6.0" fill="url(#hatch)" stroke="#222" stroke-width="0.9" />
<text x="78.8" y="711.5" font-size="12.8" font-weight="bold" fill="#111" textLength="107.8" lengthAdjust="spacingAndGlyphs" >Apoptotic nuclei</text>
<text font-size="10.4" font-weight="bold" fill="#111" textLength="90.7" lengthAdjust="spacingAndGlyphs" transform="translate(19.3,797.0) rotate(-90)" >Number of newly</text>
<text font-size="10.4" font-weight="bold" fill="#111" textLength="120.0" lengthAdjust="spacingAndGlyphs" transform="translate(34.0,812.9) rotate(-90)" >entered S phase nuclei</text>
</svg>
</body></html>
